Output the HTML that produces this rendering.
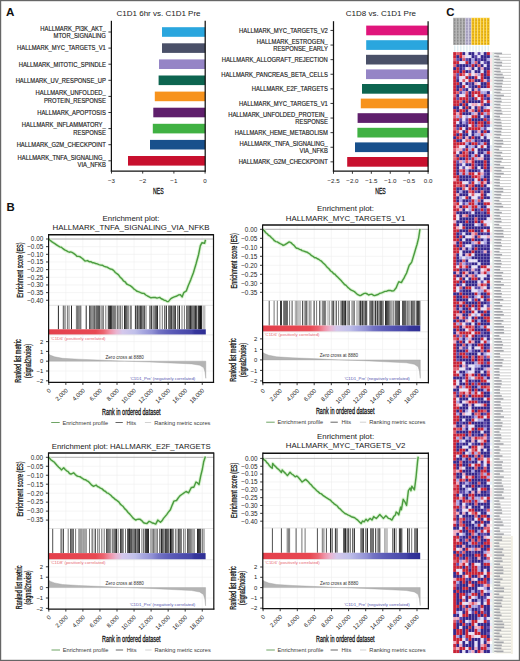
<!DOCTYPE html>
<html><head><meta charset="utf-8"><style>
html,body{margin:0;padding:0;background:#fff;width:520px;height:661px;overflow:hidden}
svg{display:block}
text{font-family:"Liberation Sans", sans-serif}
</style></head><body>
<svg width="520" height="661" viewBox="0 0 520 661" font-family='"Liberation Sans", sans-serif'><rect x="0.00" y="0.00" width="520.00" height="661.00" fill="#fff"/>
<text x="6.00" y="15.80" font-size="11.6" text-anchor="start" fill="#111" font-weight="bold">A</text>
<text x="116.50" y="15.90" font-size="8.0" text-anchor="start" fill="#1a1a1a" font-weight="normal">C1D1 6hr vs. C1D1 Pre</text>
<rect x="162.00" y="27.20" width="43.20" height="9.60" fill="#2aa6de"/>
<line x1="108.40" y1="32.00" x2="111.40" y2="32.00" stroke="#222" stroke-width="0.9"/>
<text x="0.00" y="0.00" font-size="6.3" text-anchor="end" fill="#1e1e1e" font-weight="normal" transform="translate(105.80,30.80) scale(0.93,1)" stroke="#1e1e1e" stroke-width="0.16">HALLMARK<tspan dy="-0.9">_</tspan><tspan dy="0.9">PI3K</tspan><tspan dy="-0.9">_</tspan><tspan dy="0.9">AKT</tspan><tspan dy="-0.9">_</tspan><tspan dy="0.9"></tspan></text>
<text x="0.00" y="0.00" font-size="6.3" text-anchor="end" fill="#1e1e1e" font-weight="normal" transform="translate(105.80,38.10) scale(0.93,1)" stroke="#1e1e1e" stroke-width="0.16">MTOR<tspan dy="-0.9">_</tspan><tspan dy="0.9">SIGNALING</tspan></text>
<rect x="162.00" y="43.30" width="43.20" height="9.60" fill="#4a5068"/>
<line x1="108.40" y1="48.10" x2="111.40" y2="48.10" stroke="#222" stroke-width="0.9"/>
<text x="0.00" y="0.00" font-size="6.3" text-anchor="end" fill="#1e1e1e" font-weight="normal" transform="translate(105.80,50.40) scale(0.93,1)" stroke="#1e1e1e" stroke-width="0.16">HALLMARK<tspan dy="-0.9">_</tspan><tspan dy="0.9">MYC</tspan><tspan dy="-0.9">_</tspan><tspan dy="0.9">TARGETS</tspan><tspan dy="-0.9">_</tspan><tspan dy="0.9">V1</tspan></text>
<rect x="159.00" y="59.40" width="46.20" height="9.60" fill="#9585c6"/>
<line x1="108.40" y1="64.20" x2="111.40" y2="64.20" stroke="#222" stroke-width="0.9"/>
<text x="0.00" y="0.00" font-size="6.3" text-anchor="end" fill="#1e1e1e" font-weight="normal" transform="translate(105.80,66.50) scale(0.93,1)" stroke="#1e1e1e" stroke-width="0.16">HALLMARK<tspan dy="-0.9">_</tspan><tspan dy="0.9">MITOTIC</tspan><tspan dy="-0.9">_</tspan><tspan dy="0.9">SPINDLE</tspan></text>
<rect x="158.60" y="75.50" width="46.60" height="9.60" fill="#0d6550"/>
<line x1="108.40" y1="80.30" x2="111.40" y2="80.30" stroke="#222" stroke-width="0.9"/>
<text x="0.00" y="0.00" font-size="6.3" text-anchor="end" fill="#1e1e1e" font-weight="normal" transform="translate(105.80,82.60) scale(0.93,1)" stroke="#1e1e1e" stroke-width="0.16">HALLMARK<tspan dy="-0.9">_</tspan><tspan dy="0.9">UV</tspan><tspan dy="-0.9">_</tspan><tspan dy="0.9">RESPONSE</tspan><tspan dy="-0.9">_</tspan><tspan dy="0.9">UP</tspan></text>
<rect x="154.80" y="91.60" width="50.40" height="9.60" fill="#f7931d"/>
<line x1="108.40" y1="96.40" x2="111.40" y2="96.40" stroke="#222" stroke-width="0.9"/>
<text x="0.00" y="0.00" font-size="6.3" text-anchor="end" fill="#1e1e1e" font-weight="normal" transform="translate(105.80,95.20) scale(0.93,1)" stroke="#1e1e1e" stroke-width="0.16">HALLMARK<tspan dy="-0.9">_</tspan><tspan dy="0.9">UNFOLDED</tspan><tspan dy="-0.9">_</tspan><tspan dy="0.9"></tspan></text>
<text x="0.00" y="0.00" font-size="6.3" text-anchor="end" fill="#1e1e1e" font-weight="normal" transform="translate(105.80,102.50) scale(0.93,1)" stroke="#1e1e1e" stroke-width="0.16">PROTEIN<tspan dy="-0.9">_</tspan><tspan dy="0.9">RESPONSE</tspan></text>
<rect x="153.30" y="107.70" width="51.90" height="9.60" fill="#5f1f6c"/>
<line x1="108.40" y1="112.50" x2="111.40" y2="112.50" stroke="#222" stroke-width="0.9"/>
<text x="0.00" y="0.00" font-size="6.3" text-anchor="end" fill="#1e1e1e" font-weight="normal" transform="translate(105.80,114.80) scale(0.93,1)" stroke="#1e1e1e" stroke-width="0.16">HALLMARK<tspan dy="-0.9">_</tspan><tspan dy="0.9">APOPTOSIS</tspan></text>
<rect x="152.80" y="123.80" width="52.40" height="9.60" fill="#40b143"/>
<line x1="108.40" y1="128.60" x2="111.40" y2="128.60" stroke="#222" stroke-width="0.9"/>
<text x="0.00" y="0.00" font-size="6.3" text-anchor="end" fill="#1e1e1e" font-weight="normal" transform="translate(105.80,127.40) scale(0.93,1)" stroke="#1e1e1e" stroke-width="0.16">HALLMARK<tspan dy="-0.9">_</tspan><tspan dy="0.9">INFLAMMATORY</tspan><tspan dy="-0.9">_</tspan><tspan dy="0.9"></tspan></text>
<text x="0.00" y="0.00" font-size="6.3" text-anchor="end" fill="#1e1e1e" font-weight="normal" transform="translate(105.80,134.70) scale(0.93,1)" stroke="#1e1e1e" stroke-width="0.16">RESPONSE</text>
<rect x="150.00" y="139.90" width="55.20" height="9.60" fill="#18508c"/>
<line x1="108.40" y1="144.70" x2="111.40" y2="144.70" stroke="#222" stroke-width="0.9"/>
<text x="0.00" y="0.00" font-size="6.3" text-anchor="end" fill="#1e1e1e" font-weight="normal" transform="translate(105.80,147.00) scale(0.93,1)" stroke="#1e1e1e" stroke-width="0.16">HALLMARK<tspan dy="-0.9">_</tspan><tspan dy="0.9">G2M</tspan><tspan dy="-0.9">_</tspan><tspan dy="0.9">CHECKPOINT</tspan></text>
<rect x="128.00" y="156.00" width="77.20" height="9.60" fill="#c8102e"/>
<line x1="108.40" y1="160.80" x2="111.40" y2="160.80" stroke="#222" stroke-width="0.9"/>
<text x="0.00" y="0.00" font-size="6.3" text-anchor="end" fill="#1e1e1e" font-weight="normal" transform="translate(105.80,159.60) scale(0.93,1)" stroke="#1e1e1e" stroke-width="0.16">HALLMARK<tspan dy="-0.9">_</tspan><tspan dy="0.9">TNFA</tspan><tspan dy="-0.9">_</tspan><tspan dy="0.9">SIGNALING</tspan><tspan dy="-0.9">_</tspan><tspan dy="0.9"></tspan></text>
<text x="0.00" y="0.00" font-size="6.3" text-anchor="end" fill="#1e1e1e" font-weight="normal" transform="translate(105.80,166.90) scale(0.93,1)" stroke="#1e1e1e" stroke-width="0.16">VIA<tspan dy="-0.9">_</tspan><tspan dy="0.9">NFKB</tspan></text>
<line x1="111.40" y1="20.80" x2="111.40" y2="171.60" stroke="#111" stroke-width="1.25"/>
<line x1="205.20" y1="20.80" x2="205.20" y2="171.60" stroke="#111" stroke-width="1.25"/>
<line x1="110.80" y1="171.00" x2="205.80" y2="171.00" stroke="#111" stroke-width="1.25"/>
<line x1="111.50" y1="171.00" x2="111.50" y2="173.60" stroke="#222" stroke-width="0.9"/>
<text x="111.50" y="182.56" font-size="6.2" text-anchor="middle" fill="#1e1e1e" font-weight="normal">−3</text>
<line x1="142.70" y1="171.00" x2="142.70" y2="173.60" stroke="#222" stroke-width="0.9"/>
<text x="142.70" y="182.56" font-size="6.2" text-anchor="middle" fill="#1e1e1e" font-weight="normal">−2</text>
<line x1="173.90" y1="171.00" x2="173.90" y2="173.60" stroke="#222" stroke-width="0.9"/>
<text x="173.90" y="182.56" font-size="6.2" text-anchor="middle" fill="#1e1e1e" font-weight="normal">−1</text>
<line x1="205.10" y1="171.00" x2="205.10" y2="173.60" stroke="#222" stroke-width="0.9"/>
<text x="205.10" y="182.56" font-size="6.2" text-anchor="middle" fill="#1e1e1e" font-weight="normal">0</text>
<text x="0.00" y="0.00" font-size="8.4" text-anchor="middle" fill="#111" font-weight="normal" transform="translate(158.30,193.76) scale(0.62,1)" stroke="#111" stroke-width="0.28">NES</text>
<text x="345.80" y="15.90" font-size="8.0" text-anchor="start" fill="#1a1a1a" font-weight="normal">C1D8 vs. C1D1 Pre</text>
<rect x="366.20" y="25.60" width="61.90" height="9.70" fill="#e0157b"/>
<line x1="330.50" y1="30.45" x2="333.50" y2="30.45" stroke="#222" stroke-width="0.9"/>
<text x="0.00" y="0.00" font-size="6.3" text-anchor="end" fill="#1e1e1e" font-weight="normal" transform="translate(327.80,32.75) scale(0.93,1)" stroke="#1e1e1e" stroke-width="0.16">HALLMARK<tspan dy="-0.9">_</tspan><tspan dy="0.9">MYC</tspan><tspan dy="-0.9">_</tspan><tspan dy="0.9">TARGETS</tspan><tspan dy="-0.9">_</tspan><tspan dy="0.9">V2</tspan></text>
<rect x="366.20" y="40.20" width="61.90" height="9.70" fill="#2aa6de"/>
<line x1="330.50" y1="45.05" x2="333.50" y2="45.05" stroke="#222" stroke-width="0.9"/>
<text x="0.00" y="0.00" font-size="6.3" text-anchor="end" fill="#1e1e1e" font-weight="normal" transform="translate(327.80,43.85) scale(0.93,1)" stroke="#1e1e1e" stroke-width="0.16">HALLMARK<tspan dy="-0.9">_</tspan><tspan dy="0.9">ESTROGEN</tspan><tspan dy="-0.9">_</tspan><tspan dy="0.9"></tspan></text>
<text x="0.00" y="0.00" font-size="6.3" text-anchor="end" fill="#1e1e1e" font-weight="normal" transform="translate(327.80,51.15) scale(0.93,1)" stroke="#1e1e1e" stroke-width="0.16">RESPONSE<tspan dy="-0.9">_</tspan><tspan dy="0.9">EARLY</tspan></text>
<rect x="366.00" y="54.80" width="62.10" height="9.70" fill="#4a5068"/>
<line x1="330.50" y1="59.65" x2="333.50" y2="59.65" stroke="#222" stroke-width="0.9"/>
<text x="0.00" y="0.00" font-size="6.3" text-anchor="end" fill="#1e1e1e" font-weight="normal" transform="translate(327.80,61.95) scale(0.93,1)" stroke="#1e1e1e" stroke-width="0.16">HALLMARK<tspan dy="-0.9">_</tspan><tspan dy="0.9">ALLOGRAFT</tspan><tspan dy="-0.9">_</tspan><tspan dy="0.9">REJECTION</tspan></text>
<rect x="366.00" y="69.40" width="62.10" height="9.70" fill="#9585c6"/>
<line x1="330.50" y1="74.25" x2="333.50" y2="74.25" stroke="#222" stroke-width="0.9"/>
<text x="0.00" y="0.00" font-size="6.3" text-anchor="end" fill="#1e1e1e" font-weight="normal" transform="translate(327.80,76.55) scale(0.93,1)" stroke="#1e1e1e" stroke-width="0.16">HALLMARK<tspan dy="-0.9">_</tspan><tspan dy="0.9">PANCREAS</tspan><tspan dy="-0.9">_</tspan><tspan dy="0.9">BETA</tspan><tspan dy="-0.9">_</tspan><tspan dy="0.9">CELLS</tspan></text>
<rect x="362.00" y="84.00" width="66.10" height="9.70" fill="#0d6550"/>
<line x1="330.50" y1="88.85" x2="333.50" y2="88.85" stroke="#222" stroke-width="0.9"/>
<text x="0.00" y="0.00" font-size="6.3" text-anchor="end" fill="#1e1e1e" font-weight="normal" transform="translate(327.80,91.15) scale(0.93,1)" stroke="#1e1e1e" stroke-width="0.16">HALLMARK<tspan dy="-0.9">_</tspan><tspan dy="0.9">E2F</tspan><tspan dy="-0.9">_</tspan><tspan dy="0.9">TARGETS</tspan></text>
<rect x="360.80" y="98.60" width="67.30" height="9.70" fill="#f7931d"/>
<line x1="330.50" y1="103.45" x2="333.50" y2="103.45" stroke="#222" stroke-width="0.9"/>
<text x="0.00" y="0.00" font-size="6.3" text-anchor="end" fill="#1e1e1e" font-weight="normal" transform="translate(327.80,105.75) scale(0.93,1)" stroke="#1e1e1e" stroke-width="0.16">HALLMARK<tspan dy="-0.9">_</tspan><tspan dy="0.9">MYC</tspan><tspan dy="-0.9">_</tspan><tspan dy="0.9">TARGETS</tspan><tspan dy="-0.9">_</tspan><tspan dy="0.9">V1</tspan></text>
<rect x="357.60" y="113.20" width="70.50" height="9.70" fill="#5f1f6c"/>
<line x1="330.50" y1="118.05" x2="333.50" y2="118.05" stroke="#222" stroke-width="0.9"/>
<text x="0.00" y="0.00" font-size="6.3" text-anchor="end" fill="#1e1e1e" font-weight="normal" transform="translate(327.80,116.85) scale(0.93,1)" stroke="#1e1e1e" stroke-width="0.16">HALLMARK<tspan dy="-0.9">_</tspan><tspan dy="0.9">UNFOLDED</tspan><tspan dy="-0.9">_</tspan><tspan dy="0.9">PROTEIN</tspan><tspan dy="-0.9">_</tspan><tspan dy="0.9"></tspan></text>
<text x="0.00" y="0.00" font-size="6.3" text-anchor="end" fill="#1e1e1e" font-weight="normal" transform="translate(327.80,124.15) scale(0.93,1)" stroke="#1e1e1e" stroke-width="0.16">RESPONSE</text>
<rect x="357.40" y="127.80" width="70.70" height="9.70" fill="#40b143"/>
<line x1="330.50" y1="132.65" x2="333.50" y2="132.65" stroke="#222" stroke-width="0.9"/>
<text x="0.00" y="0.00" font-size="6.3" text-anchor="end" fill="#1e1e1e" font-weight="normal" transform="translate(327.80,134.95) scale(0.93,1)" stroke="#1e1e1e" stroke-width="0.16">HALLMARK<tspan dy="-0.9">_</tspan><tspan dy="0.9">HEME</tspan><tspan dy="-0.9">_</tspan><tspan dy="0.9">METABOLISM</tspan></text>
<rect x="355.00" y="142.40" width="73.10" height="9.70" fill="#18508c"/>
<line x1="330.50" y1="147.25" x2="333.50" y2="147.25" stroke="#222" stroke-width="0.9"/>
<text x="0.00" y="0.00" font-size="6.3" text-anchor="end" fill="#1e1e1e" font-weight="normal" transform="translate(327.80,146.05) scale(0.93,1)" stroke="#1e1e1e" stroke-width="0.16">HALLMARK<tspan dy="-0.9">_</tspan><tspan dy="0.9">TNFA</tspan><tspan dy="-0.9">_</tspan><tspan dy="0.9">SIGNALING</tspan><tspan dy="-0.9">_</tspan><tspan dy="0.9"></tspan></text>
<text x="0.00" y="0.00" font-size="6.3" text-anchor="end" fill="#1e1e1e" font-weight="normal" transform="translate(327.80,153.35) scale(0.93,1)" stroke="#1e1e1e" stroke-width="0.16">VIA<tspan dy="-0.9">_</tspan><tspan dy="0.9">NFKB</tspan></text>
<rect x="347.20" y="157.00" width="80.90" height="9.70" fill="#c8102e"/>
<line x1="330.50" y1="161.85" x2="333.50" y2="161.85" stroke="#222" stroke-width="0.9"/>
<text x="0.00" y="0.00" font-size="6.3" text-anchor="end" fill="#1e1e1e" font-weight="normal" transform="translate(327.80,164.15) scale(0.93,1)" stroke="#1e1e1e" stroke-width="0.16">HALLMARK<tspan dy="-0.9">_</tspan><tspan dy="0.9">G2M</tspan><tspan dy="-0.9">_</tspan><tspan dy="0.9">CHECKPOINT</tspan></text>
<line x1="333.50" y1="21.20" x2="333.50" y2="171.80" stroke="#111" stroke-width="1.25"/>
<line x1="428.10" y1="21.20" x2="428.10" y2="171.80" stroke="#111" stroke-width="1.25"/>
<line x1="332.90" y1="171.20" x2="428.70" y2="171.20" stroke="#111" stroke-width="1.25"/>
<line x1="333.50" y1="171.20" x2="333.50" y2="173.80" stroke="#222" stroke-width="0.9"/>
<text x="333.50" y="182.56" font-size="6.2" text-anchor="middle" fill="#1e1e1e" font-weight="normal">−2.5</text>
<line x1="352.42" y1="171.20" x2="352.42" y2="173.80" stroke="#222" stroke-width="0.9"/>
<text x="352.42" y="182.56" font-size="6.2" text-anchor="middle" fill="#1e1e1e" font-weight="normal">−2.0</text>
<line x1="371.34" y1="171.20" x2="371.34" y2="173.80" stroke="#222" stroke-width="0.9"/>
<text x="371.34" y="182.56" font-size="6.2" text-anchor="middle" fill="#1e1e1e" font-weight="normal">−1.5</text>
<line x1="390.26" y1="171.20" x2="390.26" y2="173.80" stroke="#222" stroke-width="0.9"/>
<text x="390.26" y="182.56" font-size="6.2" text-anchor="middle" fill="#1e1e1e" font-weight="normal">−1.0</text>
<line x1="409.18" y1="171.20" x2="409.18" y2="173.80" stroke="#222" stroke-width="0.9"/>
<text x="409.18" y="182.56" font-size="6.2" text-anchor="middle" fill="#1e1e1e" font-weight="normal">−0.5</text>
<line x1="428.10" y1="171.20" x2="428.10" y2="173.80" stroke="#222" stroke-width="0.9"/>
<text x="428.10" y="182.56" font-size="6.2" text-anchor="middle" fill="#1e1e1e" font-weight="normal">0.0</text>
<text x="0.00" y="0.00" font-size="8.4" text-anchor="middle" fill="#111" font-weight="normal" transform="translate(380.50,193.76) scale(0.62,1)" stroke="#111" stroke-width="0.28">NES</text>
<text x="6.40" y="211.00" font-size="11.4" text-anchor="start" fill="#111" font-weight="bold">B</text>
<text x="131.00" y="221.38" font-size="7.9" text-anchor="middle" fill="#1a1a1a" font-weight="normal">Enrichment plot:</text>
<text x="131.00" y="230.38" font-size="7.9" text-anchor="middle" fill="#1a1a1a" font-weight="normal">HALLMARK_TNFA_SIGNALING_VIA_NFKB</text>
<line x1="65.85" y1="235.80" x2="65.85" y2="305.30" stroke="#efefef" stroke-width="0.6"/>
<line x1="65.85" y1="334.60" x2="65.85" y2="382.30" stroke="#efefef" stroke-width="0.6"/>
<line x1="82.90" y1="235.80" x2="82.90" y2="305.30" stroke="#efefef" stroke-width="0.6"/>
<line x1="82.90" y1="334.60" x2="82.90" y2="382.30" stroke="#efefef" stroke-width="0.6"/>
<line x1="99.95" y1="235.80" x2="99.95" y2="305.30" stroke="#efefef" stroke-width="0.6"/>
<line x1="99.95" y1="334.60" x2="99.95" y2="382.30" stroke="#efefef" stroke-width="0.6"/>
<line x1="117.00" y1="235.80" x2="117.00" y2="305.30" stroke="#efefef" stroke-width="0.6"/>
<line x1="117.00" y1="334.60" x2="117.00" y2="382.30" stroke="#efefef" stroke-width="0.6"/>
<line x1="134.05" y1="235.80" x2="134.05" y2="305.30" stroke="#efefef" stroke-width="0.6"/>
<line x1="134.05" y1="334.60" x2="134.05" y2="382.30" stroke="#efefef" stroke-width="0.6"/>
<line x1="151.10" y1="235.80" x2="151.10" y2="305.30" stroke="#efefef" stroke-width="0.6"/>
<line x1="151.10" y1="334.60" x2="151.10" y2="382.30" stroke="#efefef" stroke-width="0.6"/>
<line x1="168.15" y1="235.80" x2="168.15" y2="305.30" stroke="#efefef" stroke-width="0.6"/>
<line x1="168.15" y1="334.60" x2="168.15" y2="382.30" stroke="#efefef" stroke-width="0.6"/>
<line x1="185.20" y1="235.80" x2="185.20" y2="305.30" stroke="#efefef" stroke-width="0.6"/>
<line x1="185.20" y1="334.60" x2="185.20" y2="382.30" stroke="#efefef" stroke-width="0.6"/>
<line x1="202.25" y1="235.80" x2="202.25" y2="305.30" stroke="#efefef" stroke-width="0.6"/>
<line x1="202.25" y1="334.60" x2="202.25" y2="382.30" stroke="#efefef" stroke-width="0.6"/>
<line x1="46.00" y1="239.00" x2="48.60" y2="239.00" stroke="#222" stroke-width="0.9"/>
<text x="43.30" y="241.33" font-size="6.4" text-anchor="end" fill="#1e1e1e" font-weight="normal">0.00</text>
<line x1="48.60" y1="246.66" x2="213.50" y2="246.66" stroke="#efefef" stroke-width="0.6"/>
<line x1="46.00" y1="246.66" x2="48.60" y2="246.66" stroke="#222" stroke-width="0.9"/>
<text x="43.30" y="248.99" font-size="6.4" text-anchor="end" fill="#1e1e1e" font-weight="normal">−0.05</text>
<line x1="48.60" y1="254.32" x2="213.50" y2="254.32" stroke="#efefef" stroke-width="0.6"/>
<line x1="46.00" y1="254.32" x2="48.60" y2="254.32" stroke="#222" stroke-width="0.9"/>
<text x="43.30" y="256.65" font-size="6.4" text-anchor="end" fill="#1e1e1e" font-weight="normal">−0.10</text>
<line x1="48.60" y1="261.98" x2="213.50" y2="261.98" stroke="#efefef" stroke-width="0.6"/>
<line x1="46.00" y1="261.98" x2="48.60" y2="261.98" stroke="#222" stroke-width="0.9"/>
<text x="43.30" y="264.31" font-size="6.4" text-anchor="end" fill="#1e1e1e" font-weight="normal">−0.15</text>
<line x1="48.60" y1="269.64" x2="213.50" y2="269.64" stroke="#efefef" stroke-width="0.6"/>
<line x1="46.00" y1="269.64" x2="48.60" y2="269.64" stroke="#222" stroke-width="0.9"/>
<text x="43.30" y="271.97" font-size="6.4" text-anchor="end" fill="#1e1e1e" font-weight="normal">−0.20</text>
<line x1="48.60" y1="277.30" x2="213.50" y2="277.30" stroke="#efefef" stroke-width="0.6"/>
<line x1="46.00" y1="277.30" x2="48.60" y2="277.30" stroke="#222" stroke-width="0.9"/>
<text x="43.30" y="279.63" font-size="6.4" text-anchor="end" fill="#1e1e1e" font-weight="normal">−0.25</text>
<line x1="48.60" y1="284.96" x2="213.50" y2="284.96" stroke="#efefef" stroke-width="0.6"/>
<line x1="46.00" y1="284.96" x2="48.60" y2="284.96" stroke="#222" stroke-width="0.9"/>
<text x="43.30" y="287.29" font-size="6.4" text-anchor="end" fill="#1e1e1e" font-weight="normal">−0.30</text>
<line x1="48.60" y1="292.62" x2="213.50" y2="292.62" stroke="#efefef" stroke-width="0.6"/>
<line x1="46.00" y1="292.62" x2="48.60" y2="292.62" stroke="#222" stroke-width="0.9"/>
<text x="43.30" y="294.95" font-size="6.4" text-anchor="end" fill="#1e1e1e" font-weight="normal">−0.35</text>
<line x1="48.60" y1="300.28" x2="213.50" y2="300.28" stroke="#efefef" stroke-width="0.6"/>
<line x1="46.00" y1="300.28" x2="48.60" y2="300.28" stroke="#222" stroke-width="0.9"/>
<text x="43.30" y="302.61" font-size="6.4" text-anchor="end" fill="#1e1e1e" font-weight="normal">−0.40</text>
<line x1="48.60" y1="239.00" x2="213.50" y2="239.00" stroke="#9a9a9a" stroke-width="0.8"/>
<polyline points="48.6,238.9 50.1,240.3 51.7,241.6 53.2,242.6 54.8,243.6 56.5,244.8 58.1,245.9 59.7,246.9 61.4,247.3 63.0,248.7 64.6,249.9 66.3,250.7 67.9,251.6 69.3,252.2 70.6,251.9 72.0,252.4 73.6,253.3 75.3,254.6 76.9,256.2 78.5,256.4 80.1,256.8 81.7,258.0 83.4,259.4 85.0,261.1 87.5,260.6 89.1,261.7 90.8,261.7 92.4,262.7 94.0,262.8 95.7,263.5 97.3,263.9 98.9,264.6 100.6,265.1 102.2,265.2 103.8,266.1 105.5,266.8 107.1,267.1 108.7,268.2 110.4,269.0 112.0,269.3 113.6,270.4 115.3,272.5 116.9,273.7 118.5,274.9 120.2,277.2 121.8,278.6 123.4,280.8 125.1,281.8 126.7,284.0 128.4,284.8 130.2,285.7 131.5,286.6 132.8,287.8 134.1,289.2 135.4,290.0 137.1,291.3 138.9,291.9 140.6,292.6 142.3,293.3 144.0,293.4 145.8,295.0 147.5,296.0 149.2,296.8 151.0,297.8 153.6,297.4 155.3,297.5 157.0,298.1 159.6,297.4 161.3,298.8 163.1,299.5 164.4,300.4 165.7,300.5 167.0,301.5 168.3,301.6 170.9,298.6 172.6,297.6 174.3,296.9 176.9,296.0 178.7,294.9 180.4,294.7 182.1,296.9 183.8,292.6 186.4,290.8 188.2,285.7 189.5,282.7 190.8,279.6 193.4,272.7 196.0,264.0 198.6,254.5 200.3,245.8 202.0,242.7 204.6,243.2 205.5,239.8" fill="none" stroke="#d4f2cc" stroke-width="3.4" stroke-linejoin="round" stroke-opacity="0.8"/>
<polyline points="48.6,238.9 50.1,240.3 51.7,241.6 53.2,242.6 54.8,243.6 56.5,244.8 58.1,245.9 59.7,246.9 61.4,247.3 63.0,248.7 64.6,249.9 66.3,250.7 67.9,251.6 69.3,252.2 70.6,251.9 72.0,252.4 73.6,253.3 75.3,254.6 76.9,256.2 78.5,256.4 80.1,256.8 81.7,258.0 83.4,259.4 85.0,261.1 87.5,260.6 89.1,261.7 90.8,261.7 92.4,262.7 94.0,262.8 95.7,263.5 97.3,263.9 98.9,264.6 100.6,265.1 102.2,265.2 103.8,266.1 105.5,266.8 107.1,267.1 108.7,268.2 110.4,269.0 112.0,269.3 113.6,270.4 115.3,272.5 116.9,273.7 118.5,274.9 120.2,277.2 121.8,278.6 123.4,280.8 125.1,281.8 126.7,284.0 128.4,284.8 130.2,285.7 131.5,286.6 132.8,287.8 134.1,289.2 135.4,290.0 137.1,291.3 138.9,291.9 140.6,292.6 142.3,293.3 144.0,293.4 145.8,295.0 147.5,296.0 149.2,296.8 151.0,297.8 153.6,297.4 155.3,297.5 157.0,298.1 159.6,297.4 161.3,298.8 163.1,299.5 164.4,300.4 165.7,300.5 167.0,301.5 168.3,301.6 170.9,298.6 172.6,297.6 174.3,296.9 176.9,296.0 178.7,294.9 180.4,294.7 182.1,296.9 183.8,292.6 186.4,290.8 188.2,285.7 189.5,282.7 190.8,279.6 193.4,272.7 196.0,264.0 198.6,254.5 200.3,245.8 202.0,242.7 204.6,243.2 205.5,239.8" fill="none" stroke="#4c9c40" stroke-width="1.45" stroke-linejoin="round"/>
<line x1="48.60" y1="305.30" x2="213.50" y2="305.30" stroke="#d0d0d0" stroke-width="0.6"/>
<rect x="57.90" y="305.60" width="1.00" height="23.70" fill="#2b2b2b"/>
<rect x="62.80" y="305.60" width="1.00" height="23.70" fill="#515151"/>
<rect x="64.50" y="305.60" width="1.00" height="23.70" fill="#515151"/>
<rect x="66.90" y="305.60" width="1.00" height="23.70" fill="#767676"/>
<rect x="68.50" y="305.60" width="1.00" height="23.70" fill="#767676"/>
<rect x="71.00" y="305.60" width="1.00" height="23.70" fill="#2b2b2b"/>
<rect x="75.90" y="305.60" width="1.00" height="23.70" fill="#767676"/>
<rect x="77.00" y="305.60" width="1.00" height="23.70" fill="#767676"/>
<rect x="78.10" y="305.60" width="1.00" height="23.70" fill="#767676"/>
<rect x="79.20" y="305.60" width="1.00" height="23.70" fill="#767676"/>
<rect x="80.30" y="305.60" width="1.00" height="23.70" fill="#515151"/>
<rect x="85.70" y="305.60" width="1.00" height="23.70" fill="#2b2b2b"/>
<rect x="89.00" y="305.60" width="1.00" height="23.70" fill="#515151"/>
<rect x="90.22" y="305.60" width="1.00" height="23.70" fill="#515151"/>
<rect x="91.45" y="305.60" width="1.00" height="23.70" fill="#515151"/>
<rect x="92.68" y="305.60" width="1.00" height="23.70" fill="#515151"/>
<rect x="93.90" y="305.60" width="1.00" height="23.70" fill="#515151"/>
<rect x="95.50" y="305.60" width="1.00" height="23.70" fill="#2b2b2b"/>
<rect x="96.60" y="305.60" width="1.00" height="23.70" fill="#2b2b2b"/>
<rect x="97.70" y="305.60" width="1.00" height="23.70" fill="#2b2b2b"/>
<rect x="98.80" y="305.60" width="1.00" height="23.70" fill="#2b2b2b"/>
<rect x="100.50" y="305.60" width="1.00" height="23.70" fill="#767676"/>
<rect x="101.70" y="305.60" width="1.00" height="23.70" fill="#767676"/>
<rect x="102.90" y="305.60" width="1.00" height="23.70" fill="#767676"/>
<rect x="105.30" y="305.60" width="1.00" height="23.70" fill="#767676"/>
<rect x="107.80" y="305.60" width="1.00" height="23.70" fill="#2b2b2b"/>
<rect x="108.90" y="305.60" width="1.00" height="23.70" fill="#2b2b2b"/>
<rect x="110.00" y="305.60" width="1.00" height="23.70" fill="#2b2b2b"/>
<rect x="111.10" y="305.60" width="1.00" height="23.70" fill="#2b2b2b"/>
<rect x="111.90" y="305.60" width="1.00" height="23.70" fill="#767676"/>
<rect x="112.97" y="305.60" width="1.00" height="23.70" fill="#767676"/>
<rect x="114.03" y="305.60" width="1.00" height="23.70" fill="#767676"/>
<rect x="115.10" y="305.60" width="1.00" height="23.70" fill="#767676"/>
<rect x="116.80" y="305.60" width="1.00" height="23.70" fill="#515151"/>
<rect x="118.50" y="305.60" width="1.00" height="23.70" fill="#515151"/>
<rect x="120.00" y="305.60" width="1.00" height="23.70" fill="#767676"/>
<rect x="121.70" y="305.60" width="1.00" height="23.70" fill="#767676"/>
<rect x="124.10" y="305.60" width="1.00" height="23.70" fill="#141414"/>
<rect x="125.30" y="305.60" width="1.00" height="23.70" fill="#141414"/>
<rect x="126.50" y="305.60" width="1.00" height="23.70" fill="#141414"/>
<rect x="128.20" y="305.60" width="1.00" height="23.70" fill="#767676"/>
<rect x="129.90" y="305.60" width="1.00" height="23.70" fill="#767676"/>
<rect x="130.80" y="305.60" width="1.00" height="23.70" fill="#767676"/>
<rect x="134.90" y="305.60" width="1.00" height="23.70" fill="#2b2b2b"/>
<rect x="136.50" y="305.60" width="1.00" height="23.70" fill="#2b2b2b"/>
<rect x="137.30" y="305.60" width="1.00" height="23.70" fill="#2b2b2b"/>
<rect x="138.60" y="305.60" width="1.00" height="23.70" fill="#2b2b2b"/>
<rect x="139.90" y="305.60" width="1.00" height="23.70" fill="#2b2b2b"/>
<rect x="141.20" y="305.60" width="1.00" height="23.70" fill="#2b2b2b"/>
<rect x="142.50" y="305.60" width="1.00" height="23.70" fill="#2b2b2b"/>
<rect x="143.80" y="305.60" width="1.00" height="23.70" fill="#2b2b2b"/>
<rect x="145.50" y="305.60" width="1.00" height="23.70" fill="#767676"/>
<rect x="149.50" y="305.60" width="1.00" height="23.70" fill="#141414"/>
<rect x="151.20" y="305.60" width="1.00" height="23.70" fill="#141414"/>
<rect x="152.80" y="305.60" width="1.00" height="23.70" fill="#767676"/>
<rect x="154.50" y="305.60" width="1.00" height="23.70" fill="#141414"/>
<rect x="155.70" y="305.60" width="1.00" height="23.70" fill="#141414"/>
<rect x="156.90" y="305.60" width="1.00" height="23.70" fill="#141414"/>
<rect x="159.40" y="305.60" width="1.00" height="23.70" fill="#767676"/>
<rect x="161.80" y="305.60" width="1.00" height="23.70" fill="#767676"/>
<rect x="164.30" y="305.60" width="1.00" height="23.70" fill="#2b2b2b"/>
<rect x="165.90" y="305.60" width="1.00" height="23.70" fill="#2b2b2b"/>
<rect x="168.40" y="305.60" width="1.00" height="23.70" fill="#141414"/>
<rect x="169.60" y="305.60" width="1.00" height="23.70" fill="#141414"/>
<rect x="170.80" y="305.60" width="1.00" height="23.70" fill="#141414"/>
<rect x="172.50" y="305.60" width="1.00" height="23.70" fill="#2b2b2b"/>
<rect x="173.70" y="305.60" width="1.00" height="23.70" fill="#2b2b2b"/>
<rect x="174.90" y="305.60" width="1.00" height="23.70" fill="#2b2b2b"/>
<rect x="177.40" y="305.60" width="1.00" height="23.70" fill="#2b2b2b"/>
<rect x="179.00" y="305.60" width="1.00" height="23.70" fill="#2b2b2b"/>
<rect x="181.50" y="305.60" width="1.00" height="23.70" fill="#767676"/>
<rect x="183.90" y="305.60" width="1.00" height="23.70" fill="#767676"/>
<rect x="186.30" y="305.60" width="1.00" height="23.70" fill="#2b2b2b"/>
<rect x="187.54" y="305.60" width="1.00" height="23.70" fill="#2b2b2b"/>
<rect x="188.78" y="305.60" width="1.00" height="23.70" fill="#2b2b2b"/>
<rect x="190.01" y="305.60" width="1.00" height="23.70" fill="#2b2b2b"/>
<rect x="191.25" y="305.60" width="1.00" height="23.70" fill="#2b2b2b"/>
<rect x="192.49" y="305.60" width="1.00" height="23.70" fill="#2b2b2b"/>
<rect x="193.72" y="305.60" width="1.00" height="23.70" fill="#2b2b2b"/>
<rect x="194.96" y="305.60" width="1.00" height="23.70" fill="#2b2b2b"/>
<rect x="196.20" y="305.60" width="1.00" height="23.70" fill="#2b2b2b"/>
<rect x="197.80" y="305.60" width="1.00" height="23.70" fill="#141414"/>
<rect x="198.90" y="305.60" width="1.00" height="23.70" fill="#141414"/>
<rect x="200.00" y="305.60" width="1.00" height="23.70" fill="#141414"/>
<rect x="201.10" y="305.60" width="1.00" height="23.70" fill="#141414"/>
<rect x="202.70" y="305.60" width="1.00" height="23.70" fill="#a1a1a1"/>
<rect x="204.30" y="305.60" width="1.00" height="23.70" fill="#a1a1a1"/>
<linearGradient id="g1" x1="48.6" x2="205.8" y1="0" y2="0" gradientUnits="userSpaceOnUse"><stop offset="0" stop-color="#e4404c"/><stop offset="0.3" stop-color="#e84852"/><stop offset="0.35" stop-color="#ec6470"/><stop offset="0.39" stop-color="#f090a4"/><stop offset="0.43" stop-color="#eab4d0"/><stop offset="0.47" stop-color="#d4c8ec"/><stop offset="0.55" stop-color="#c0c0ea"/><stop offset="0.6" stop-color="#a8a8e0"/><stop offset="0.66" stop-color="#9090d4"/><stop offset="0.7" stop-color="#7474c4"/><stop offset="0.76" stop-color="#6060ba"/><stop offset="0.84" stop-color="#5050b0"/><stop offset="0.91" stop-color="#4646a8"/><stop offset="0.93" stop-color="#36369c"/><stop offset="1" stop-color="#2e2e94"/></linearGradient>
<rect x="48.60" y="329.30" width="157.20" height="5.30" fill="url(#g1)"/>
<line x1="48.60" y1="334.90" x2="213.50" y2="334.90" stroke="#d8d8d8" stroke-width="0.5"/>
<line x1="48.60" y1="341.60" x2="213.50" y2="341.60" stroke="#efefef" stroke-width="0.6"/>
<line x1="46.00" y1="341.60" x2="48.60" y2="341.60" stroke="#222" stroke-width="0.9"/>
<text x="43.20" y="343.75" font-size="5.9" text-anchor="end" fill="#222" font-weight="normal">2</text>
<line x1="48.60" y1="351.40" x2="213.50" y2="351.40" stroke="#efefef" stroke-width="0.6"/>
<line x1="46.00" y1="351.40" x2="48.60" y2="351.40" stroke="#222" stroke-width="0.9"/>
<text x="43.20" y="353.55" font-size="5.9" text-anchor="end" fill="#222" font-weight="normal">1</text>
<line x1="46.00" y1="361.20" x2="48.60" y2="361.20" stroke="#222" stroke-width="0.9"/>
<text x="43.20" y="363.35" font-size="5.9" text-anchor="end" fill="#222" font-weight="normal">0</text>
<line x1="48.60" y1="371.00" x2="213.50" y2="371.00" stroke="#efefef" stroke-width="0.6"/>
<line x1="46.00" y1="371.00" x2="48.60" y2="371.00" stroke="#222" stroke-width="0.9"/>
<text x="43.20" y="373.15" font-size="5.9" text-anchor="end" fill="#222" font-weight="normal">−1</text>
<line x1="46.00" y1="380.80" x2="48.60" y2="380.80" stroke="#222" stroke-width="0.9"/>
<text x="43.20" y="382.95" font-size="5.9" text-anchor="end" fill="#222" font-weight="normal">−2</text>
<path d="M48.6,361.2 L48.6,354.1 L50.6,355.3 L54.6,356.8 L62.6,358.3 L78.6,359.2 L103.6,360.2 L124.5,361.2 L149.5,362.0 L191.8,363.9 L199.8,365.3 L203.6,367.6 L205.0,372.0 L205.6,376.9 L205.8,378.3 L205.8,361.2 Z" fill="#b4b4b4" stroke="#a0a0a0" stroke-width="0.4"/>
<text x="50.80" y="339.57" font-size="4.3" text-anchor="start" fill="#e86870" font-weight="normal">'C1D6' (positively correlated)</text>
<text x="195.30" y="379.67" font-size="4.3" text-anchor="end" fill="#5656b0" font-weight="normal">'C1D1_Pre' (negatively correlated)</text>
<text x="105.50" y="358.68" font-size="4.6" text-anchor="start" fill="#333" font-weight="normal">Zero cross at 8880</text>
<line x1="48.60" y1="234.80" x2="213.50" y2="234.80" stroke="#111" stroke-width="1.5"/>
<line x1="48.60" y1="234.10" x2="48.60" y2="382.90" stroke="#111" stroke-width="1.2"/>
<line x1="213.50" y1="234.10" x2="213.50" y2="382.90" stroke="#111" stroke-width="1.2"/>
<line x1="48.00" y1="382.30" x2="214.10" y2="382.30" stroke="#111" stroke-width="1.25"/>
<line x1="48.80" y1="382.30" x2="48.80" y2="384.90" stroke="#222" stroke-width="0.9"/>
<text x="0.00" y="0.00" font-size="5.9" text-anchor="end" fill="#222" font-weight="normal" transform="translate(51.20,390.90) rotate(-45)">0</text>
<line x1="65.85" y1="382.30" x2="65.85" y2="384.90" stroke="#222" stroke-width="0.9"/>
<text x="0.00" y="0.00" font-size="5.9" text-anchor="end" fill="#222" font-weight="normal" transform="translate(68.25,390.90) rotate(-45)">2,000</text>
<line x1="82.90" y1="382.30" x2="82.90" y2="384.90" stroke="#222" stroke-width="0.9"/>
<text x="0.00" y="0.00" font-size="5.9" text-anchor="end" fill="#222" font-weight="normal" transform="translate(85.30,390.90) rotate(-45)">4,000</text>
<line x1="99.95" y1="382.30" x2="99.95" y2="384.90" stroke="#222" stroke-width="0.9"/>
<text x="0.00" y="0.00" font-size="5.9" text-anchor="end" fill="#222" font-weight="normal" transform="translate(102.35,390.90) rotate(-45)">6,000</text>
<line x1="117.00" y1="382.30" x2="117.00" y2="384.90" stroke="#222" stroke-width="0.9"/>
<text x="0.00" y="0.00" font-size="5.9" text-anchor="end" fill="#222" font-weight="normal" transform="translate(119.40,390.90) rotate(-45)">8,000</text>
<line x1="134.05" y1="382.30" x2="134.05" y2="384.90" stroke="#222" stroke-width="0.9"/>
<text x="0.00" y="0.00" font-size="5.9" text-anchor="end" fill="#222" font-weight="normal" transform="translate(136.45,390.90) rotate(-45)">10,000</text>
<line x1="151.10" y1="382.30" x2="151.10" y2="384.90" stroke="#222" stroke-width="0.9"/>
<text x="0.00" y="0.00" font-size="5.9" text-anchor="end" fill="#222" font-weight="normal" transform="translate(153.50,390.90) rotate(-45)">12,000</text>
<line x1="168.15" y1="382.30" x2="168.15" y2="384.90" stroke="#222" stroke-width="0.9"/>
<text x="0.00" y="0.00" font-size="5.9" text-anchor="end" fill="#222" font-weight="normal" transform="translate(170.55,390.90) rotate(-45)">14,000</text>
<line x1="185.20" y1="382.30" x2="185.20" y2="384.90" stroke="#222" stroke-width="0.9"/>
<text x="0.00" y="0.00" font-size="5.9" text-anchor="end" fill="#222" font-weight="normal" transform="translate(187.60,390.90) rotate(-45)">16,000</text>
<line x1="202.25" y1="382.30" x2="202.25" y2="384.90" stroke="#222" stroke-width="0.9"/>
<text x="0.00" y="0.00" font-size="5.9" text-anchor="end" fill="#222" font-weight="normal" transform="translate(204.65,390.90) rotate(-45)">18,000</text>
<text x="0.00" y="0.00" font-size="8.2" text-anchor="middle" fill="#111" font-weight="normal" transform="translate(23.40,270.05) rotate(-90) scale(0.67,1)" stroke="#111" stroke-width="0.28">Enrichment score (ES)</text>
<text x="0.00" y="0.00" font-size="8.2" text-anchor="middle" fill="#111" font-weight="normal" transform="translate(21.40,361.00) rotate(-90) scale(0.67,1)" stroke="#111" stroke-width="0.28">Ranked list metric</text>
<text x="0.00" y="0.00" font-size="8.2" text-anchor="middle" fill="#111" font-weight="normal" transform="translate(31.20,361.00) rotate(-90) scale(0.67,1)" stroke="#111" stroke-width="0.28">(signal2noise)</text>
<text x="0.00" y="0.00" font-size="8.2" text-anchor="start" fill="#111" font-weight="normal" transform="translate(102.00,414.59) scale(0.67,1)" stroke="#111" stroke-width="0.28">Rank in ordered dataset</text>
<line x1="51.20" y1="422.50" x2="59.70" y2="422.50" stroke="#5e9a52" stroke-width="0.9"/>
<text x="62.40" y="424.58" font-size="5.7" text-anchor="start" fill="#3a3a3a" font-weight="normal">Enrichment profile</text>
<line x1="115.50" y1="422.50" x2="122.80" y2="422.50" stroke="#555" stroke-width="0.9"/>
<text x="126.40" y="424.58" font-size="5.7" text-anchor="start" fill="#3a3a3a" font-weight="normal">Hits</text>
<line x1="144.90" y1="422.50" x2="151.20" y2="422.50" stroke="#ccc" stroke-width="0.9"/>
<text x="154.20" y="424.58" font-size="5.7" text-anchor="start" fill="#3a3a3a" font-weight="normal">Ranking metric scores</text>
<text x="345.50" y="210.88" font-size="7.9" text-anchor="middle" fill="#1a1a1a" font-weight="normal">Enrichment plot:</text>
<text x="345.50" y="221.18" font-size="7.9" text-anchor="middle" fill="#1a1a1a" font-weight="normal">HALLMARK_MYC_TARGETS_V1</text>
<line x1="280.00" y1="226.10" x2="280.00" y2="300.50" stroke="#efefef" stroke-width="0.6"/>
<line x1="280.00" y1="331.50" x2="280.00" y2="382.60" stroke="#efefef" stroke-width="0.6"/>
<line x1="297.10" y1="226.10" x2="297.10" y2="300.50" stroke="#efefef" stroke-width="0.6"/>
<line x1="297.10" y1="331.50" x2="297.10" y2="382.60" stroke="#efefef" stroke-width="0.6"/>
<line x1="314.20" y1="226.10" x2="314.20" y2="300.50" stroke="#efefef" stroke-width="0.6"/>
<line x1="314.20" y1="331.50" x2="314.20" y2="382.60" stroke="#efefef" stroke-width="0.6"/>
<line x1="331.30" y1="226.10" x2="331.30" y2="300.50" stroke="#efefef" stroke-width="0.6"/>
<line x1="331.30" y1="331.50" x2="331.30" y2="382.60" stroke="#efefef" stroke-width="0.6"/>
<line x1="348.40" y1="226.10" x2="348.40" y2="300.50" stroke="#efefef" stroke-width="0.6"/>
<line x1="348.40" y1="331.50" x2="348.40" y2="382.60" stroke="#efefef" stroke-width="0.6"/>
<line x1="365.50" y1="226.10" x2="365.50" y2="300.50" stroke="#efefef" stroke-width="0.6"/>
<line x1="365.50" y1="331.50" x2="365.50" y2="382.60" stroke="#efefef" stroke-width="0.6"/>
<line x1="382.60" y1="226.10" x2="382.60" y2="300.50" stroke="#efefef" stroke-width="0.6"/>
<line x1="382.60" y1="331.50" x2="382.60" y2="382.60" stroke="#efefef" stroke-width="0.6"/>
<line x1="399.70" y1="226.10" x2="399.70" y2="300.50" stroke="#efefef" stroke-width="0.6"/>
<line x1="399.70" y1="331.50" x2="399.70" y2="382.60" stroke="#efefef" stroke-width="0.6"/>
<line x1="416.80" y1="226.10" x2="416.80" y2="300.50" stroke="#efefef" stroke-width="0.6"/>
<line x1="416.80" y1="331.50" x2="416.80" y2="382.60" stroke="#efefef" stroke-width="0.6"/>
<line x1="260.00" y1="229.30" x2="262.60" y2="229.30" stroke="#222" stroke-width="0.9"/>
<text x="257.30" y="231.63" font-size="6.4" text-anchor="end" fill="#1e1e1e" font-weight="normal">0.00</text>
<line x1="262.60" y1="238.30" x2="428.40" y2="238.30" stroke="#efefef" stroke-width="0.6"/>
<line x1="260.00" y1="238.30" x2="262.60" y2="238.30" stroke="#222" stroke-width="0.9"/>
<text x="257.30" y="240.63" font-size="6.4" text-anchor="end" fill="#1e1e1e" font-weight="normal">−0.05</text>
<line x1="262.60" y1="247.30" x2="428.40" y2="247.30" stroke="#efefef" stroke-width="0.6"/>
<line x1="260.00" y1="247.30" x2="262.60" y2="247.30" stroke="#222" stroke-width="0.9"/>
<text x="257.30" y="249.63" font-size="6.4" text-anchor="end" fill="#1e1e1e" font-weight="normal">−0.10</text>
<line x1="262.60" y1="256.30" x2="428.40" y2="256.30" stroke="#efefef" stroke-width="0.6"/>
<line x1="260.00" y1="256.30" x2="262.60" y2="256.30" stroke="#222" stroke-width="0.9"/>
<text x="257.30" y="258.63" font-size="6.4" text-anchor="end" fill="#1e1e1e" font-weight="normal">−0.15</text>
<line x1="262.60" y1="265.30" x2="428.40" y2="265.30" stroke="#efefef" stroke-width="0.6"/>
<line x1="260.00" y1="265.30" x2="262.60" y2="265.30" stroke="#222" stroke-width="0.9"/>
<text x="257.30" y="267.63" font-size="6.4" text-anchor="end" fill="#1e1e1e" font-weight="normal">−0.20</text>
<line x1="262.60" y1="274.30" x2="428.40" y2="274.30" stroke="#efefef" stroke-width="0.6"/>
<line x1="260.00" y1="274.30" x2="262.60" y2="274.30" stroke="#222" stroke-width="0.9"/>
<text x="257.30" y="276.63" font-size="6.4" text-anchor="end" fill="#1e1e1e" font-weight="normal">−0.25</text>
<line x1="262.60" y1="283.30" x2="428.40" y2="283.30" stroke="#efefef" stroke-width="0.6"/>
<line x1="260.00" y1="283.30" x2="262.60" y2="283.30" stroke="#222" stroke-width="0.9"/>
<text x="257.30" y="285.63" font-size="6.4" text-anchor="end" fill="#1e1e1e" font-weight="normal">−0.30</text>
<line x1="262.60" y1="292.30" x2="428.40" y2="292.30" stroke="#efefef" stroke-width="0.6"/>
<line x1="260.00" y1="292.30" x2="262.60" y2="292.30" stroke="#222" stroke-width="0.9"/>
<text x="257.30" y="294.63" font-size="6.4" text-anchor="end" fill="#1e1e1e" font-weight="normal">−0.35</text>
<line x1="262.60" y1="229.30" x2="428.40" y2="229.30" stroke="#9a9a9a" stroke-width="0.8"/>
<polyline points="262.8,229.3 264.3,230.7 265.8,232.7 267.2,233.8 268.7,235.4 270.1,236.2 271.5,237.7 273.0,239.0 274.4,240.7 275.9,241.6 277.3,241.9 278.8,242.8 280.2,243.7 281.7,244.3 283.1,245.4 284.9,244.7 286.6,243.6 289.2,241.9 290.9,242.6 292.6,244.2 294.0,245.4 295.5,247.3 296.9,248.3 298.2,248.5 299.5,249.4 300.8,249.7 302.1,250.6 303.8,251.1 305.6,251.8 307.3,252.3 309.9,254.0 311.6,255.7 313.4,256.6 314.7,257.7 316.0,257.7 317.3,258.8 318.6,259.2 320.0,260.3 321.5,261.2 322.9,262.7 324.3,264.0 325.8,265.6 327.2,267.3 328.9,268.8 330.7,271.0 332.4,272.2 333.7,273.7 335.0,274.2 336.3,275.9 337.6,277.0 339.3,278.7 341.1,280.5 342.8,282.6 344.5,284.5 346.1,285.4 347.8,287.4 349.5,288.8 351.3,290.1 353.0,290.9 354.4,291.6 355.9,293.0 357.3,294.3 359.9,295.6 361.2,295.2 362.5,294.3 364.2,293.4 366.0,293.3 367.3,294.0 368.6,295.0 370.3,294.4 372.0,294.3 373.3,295.3 374.6,295.6 377.2,294.7 378.5,294.3 379.8,293.3 381.6,292.9 383.3,292.1 385.0,291.4 386.7,291.2 388.4,290.5 390.2,290.4 391.9,291.0 393.7,290.9 396.2,287.8 397.5,284.5 398.8,281.7 401.4,282.6 402.7,280.1 404.0,278.2 405.3,275.3 406.6,273.1 409.2,265.3 410.5,263.8 411.8,261.8 414.4,253.2 415.7,248.8 417.0,244.5 418.7,237.6 420.0,228.9" fill="none" stroke="#d4f2cc" stroke-width="3.4" stroke-linejoin="round" stroke-opacity="0.8"/>
<polyline points="262.8,229.3 264.3,230.7 265.8,232.7 267.2,233.8 268.7,235.4 270.1,236.2 271.5,237.7 273.0,239.0 274.4,240.7 275.9,241.6 277.3,241.9 278.8,242.8 280.2,243.7 281.7,244.3 283.1,245.4 284.9,244.7 286.6,243.6 289.2,241.9 290.9,242.6 292.6,244.2 294.0,245.4 295.5,247.3 296.9,248.3 298.2,248.5 299.5,249.4 300.8,249.7 302.1,250.6 303.8,251.1 305.6,251.8 307.3,252.3 309.9,254.0 311.6,255.7 313.4,256.6 314.7,257.7 316.0,257.7 317.3,258.8 318.6,259.2 320.0,260.3 321.5,261.2 322.9,262.7 324.3,264.0 325.8,265.6 327.2,267.3 328.9,268.8 330.7,271.0 332.4,272.2 333.7,273.7 335.0,274.2 336.3,275.9 337.6,277.0 339.3,278.7 341.1,280.5 342.8,282.6 344.5,284.5 346.1,285.4 347.8,287.4 349.5,288.8 351.3,290.1 353.0,290.9 354.4,291.6 355.9,293.0 357.3,294.3 359.9,295.6 361.2,295.2 362.5,294.3 364.2,293.4 366.0,293.3 367.3,294.0 368.6,295.0 370.3,294.4 372.0,294.3 373.3,295.3 374.6,295.6 377.2,294.7 378.5,294.3 379.8,293.3 381.6,292.9 383.3,292.1 385.0,291.4 386.7,291.2 388.4,290.5 390.2,290.4 391.9,291.0 393.7,290.9 396.2,287.8 397.5,284.5 398.8,281.7 401.4,282.6 402.7,280.1 404.0,278.2 405.3,275.3 406.6,273.1 409.2,265.3 410.5,263.8 411.8,261.8 414.4,253.2 415.7,248.8 417.0,244.5 418.7,237.6 420.0,228.9" fill="none" stroke="#4c9c40" stroke-width="1.45" stroke-linejoin="round"/>
<line x1="262.60" y1="300.50" x2="428.40" y2="300.50" stroke="#d0d0d0" stroke-width="0.6"/>
<rect x="268.70" y="300.80" width="1.00" height="24.70" fill="#515151"/>
<rect x="273.60" y="300.80" width="1.00" height="24.70" fill="#767676"/>
<rect x="276.80" y="300.80" width="1.00" height="24.70" fill="#767676"/>
<rect x="280.10" y="300.80" width="1.00" height="24.70" fill="#2b2b2b"/>
<rect x="280.90" y="300.80" width="1.00" height="24.70" fill="#2b2b2b"/>
<rect x="283.40" y="300.80" width="1.00" height="24.70" fill="#2b2b2b"/>
<rect x="284.50" y="300.80" width="1.00" height="24.70" fill="#2b2b2b"/>
<rect x="285.60" y="300.80" width="1.00" height="24.70" fill="#2b2b2b"/>
<rect x="286.70" y="300.80" width="1.00" height="24.70" fill="#2b2b2b"/>
<rect x="289.10" y="300.80" width="1.00" height="24.70" fill="#767676"/>
<rect x="291.60" y="300.80" width="1.00" height="24.70" fill="#515151"/>
<rect x="294.80" y="300.80" width="1.00" height="24.70" fill="#a1a1a1"/>
<rect x="296.02" y="300.80" width="1.00" height="24.70" fill="#a1a1a1"/>
<rect x="297.25" y="300.80" width="1.00" height="24.70" fill="#a1a1a1"/>
<rect x="298.48" y="300.80" width="1.00" height="24.70" fill="#a1a1a1"/>
<rect x="299.70" y="300.80" width="1.00" height="24.70" fill="#a1a1a1"/>
<rect x="302.20" y="300.80" width="1.00" height="24.70" fill="#2b2b2b"/>
<rect x="304.60" y="300.80" width="1.00" height="24.70" fill="#2b2b2b"/>
<rect x="306.30" y="300.80" width="1.00" height="24.70" fill="#2b2b2b"/>
<rect x="308.70" y="300.80" width="1.00" height="24.70" fill="#767676"/>
<rect x="310.40" y="300.80" width="1.00" height="24.70" fill="#767676"/>
<rect x="313.60" y="300.80" width="1.00" height="24.70" fill="#2b2b2b"/>
<rect x="316.10" y="300.80" width="1.00" height="24.70" fill="#767676"/>
<rect x="319.30" y="300.80" width="1.00" height="24.70" fill="#2b2b2b"/>
<rect x="321.80" y="300.80" width="1.00" height="24.70" fill="#767676"/>
<rect x="322.90" y="300.80" width="1.00" height="24.70" fill="#767676"/>
<rect x="324.00" y="300.80" width="1.00" height="24.70" fill="#767676"/>
<rect x="325.10" y="300.80" width="1.00" height="24.70" fill="#767676"/>
<rect x="327.50" y="300.80" width="1.00" height="24.70" fill="#a1a1a1"/>
<rect x="329.10" y="300.80" width="1.00" height="24.70" fill="#a1a1a1"/>
<rect x="331.60" y="300.80" width="1.00" height="24.70" fill="#2b2b2b"/>
<rect x="333.20" y="300.80" width="1.00" height="24.70" fill="#2b2b2b"/>
<rect x="335.70" y="300.80" width="1.00" height="24.70" fill="#2b2b2b"/>
<rect x="338.10" y="300.80" width="1.00" height="24.70" fill="#767676"/>
<rect x="340.60" y="300.80" width="1.00" height="24.70" fill="#2b2b2b"/>
<rect x="342.20" y="300.80" width="1.00" height="24.70" fill="#2b2b2b"/>
<rect x="344.70" y="300.80" width="1.00" height="24.70" fill="#767676"/>
<rect x="342.50" y="300.80" width="1.00" height="24.70" fill="#2b2b2b"/>
<rect x="343.75" y="300.80" width="1.00" height="24.70" fill="#2b2b2b"/>
<rect x="345.00" y="300.80" width="1.00" height="24.70" fill="#2b2b2b"/>
<rect x="346.60" y="300.80" width="1.00" height="24.70" fill="#767676"/>
<rect x="347.80" y="300.80" width="1.00" height="24.70" fill="#767676"/>
<rect x="349.00" y="300.80" width="1.00" height="24.70" fill="#767676"/>
<rect x="351.50" y="300.80" width="1.00" height="24.70" fill="#767676"/>
<rect x="352.70" y="300.80" width="1.00" height="24.70" fill="#767676"/>
<rect x="353.90" y="300.80" width="1.00" height="24.70" fill="#767676"/>
<rect x="356.40" y="300.80" width="1.00" height="24.70" fill="#a1a1a1"/>
<rect x="357.60" y="300.80" width="1.00" height="24.70" fill="#a1a1a1"/>
<rect x="358.80" y="300.80" width="1.00" height="24.70" fill="#a1a1a1"/>
<rect x="359.70" y="300.80" width="1.00" height="24.70" fill="#141414"/>
<rect x="360.50" y="300.80" width="1.00" height="24.70" fill="#141414"/>
<rect x="362.10" y="300.80" width="1.00" height="24.70" fill="#2b2b2b"/>
<rect x="363.47" y="300.80" width="1.00" height="24.70" fill="#2b2b2b"/>
<rect x="364.83" y="300.80" width="1.00" height="24.70" fill="#2b2b2b"/>
<rect x="366.20" y="300.80" width="1.00" height="24.70" fill="#2b2b2b"/>
<rect x="369.50" y="300.80" width="1.00" height="24.70" fill="#2b2b2b"/>
<rect x="370.70" y="300.80" width="1.00" height="24.70" fill="#2b2b2b"/>
<rect x="371.90" y="300.80" width="1.00" height="24.70" fill="#2b2b2b"/>
<rect x="372.70" y="300.80" width="1.00" height="24.70" fill="#767676"/>
<rect x="374.40" y="300.80" width="1.00" height="24.70" fill="#767676"/>
<rect x="375.20" y="300.80" width="1.00" height="24.70" fill="#141414"/>
<rect x="376.80" y="300.80" width="1.00" height="24.70" fill="#141414"/>
<rect x="378.50" y="300.80" width="1.00" height="24.70" fill="#2b2b2b"/>
<rect x="379.83" y="300.80" width="1.00" height="24.70" fill="#2b2b2b"/>
<rect x="381.17" y="300.80" width="1.00" height="24.70" fill="#2b2b2b"/>
<rect x="382.50" y="300.80" width="1.00" height="24.70" fill="#2b2b2b"/>
<rect x="385.00" y="300.80" width="1.00" height="24.70" fill="#2b2b2b"/>
<rect x="386.10" y="300.80" width="1.00" height="24.70" fill="#2b2b2b"/>
<rect x="387.20" y="300.80" width="1.00" height="24.70" fill="#2b2b2b"/>
<rect x="388.30" y="300.80" width="1.00" height="24.70" fill="#2b2b2b"/>
<rect x="389.10" y="300.80" width="1.00" height="24.70" fill="#767676"/>
<rect x="390.30" y="300.80" width="1.00" height="24.70" fill="#767676"/>
<rect x="391.50" y="300.80" width="1.00" height="24.70" fill="#767676"/>
<rect x="393.20" y="300.80" width="1.00" height="24.70" fill="#767676"/>
<rect x="394.80" y="300.80" width="1.00" height="24.70" fill="#767676"/>
<rect x="395.60" y="300.80" width="1.00" height="24.70" fill="#2b2b2b"/>
<rect x="396.70" y="300.80" width="1.00" height="24.70" fill="#2b2b2b"/>
<rect x="397.80" y="300.80" width="1.00" height="24.70" fill="#2b2b2b"/>
<rect x="398.90" y="300.80" width="1.00" height="24.70" fill="#2b2b2b"/>
<rect x="402.20" y="300.80" width="1.00" height="24.70" fill="#2b2b2b"/>
<rect x="403.27" y="300.80" width="1.00" height="24.70" fill="#2b2b2b"/>
<rect x="404.33" y="300.80" width="1.00" height="24.70" fill="#2b2b2b"/>
<rect x="405.40" y="300.80" width="1.00" height="24.70" fill="#2b2b2b"/>
<rect x="407.10" y="300.80" width="1.00" height="24.70" fill="#767676"/>
<rect x="408.30" y="300.80" width="1.00" height="24.70" fill="#767676"/>
<rect x="409.50" y="300.80" width="1.00" height="24.70" fill="#767676"/>
<rect x="411.20" y="300.80" width="1.00" height="24.70" fill="#2b2b2b"/>
<rect x="412.40" y="300.80" width="1.00" height="24.70" fill="#2b2b2b"/>
<rect x="413.60" y="300.80" width="1.00" height="24.70" fill="#2b2b2b"/>
<rect x="414.40" y="300.80" width="1.00" height="24.70" fill="#767676"/>
<rect x="416.10" y="300.80" width="1.00" height="24.70" fill="#767676"/>
<rect x="416.90" y="300.80" width="1.00" height="24.70" fill="#2b2b2b"/>
<rect x="418.10" y="300.80" width="1.00" height="24.70" fill="#2b2b2b"/>
<rect x="419.30" y="300.80" width="1.00" height="24.70" fill="#2b2b2b"/>
<linearGradient id="g2" x1="262.6" x2="420.3" y1="0" y2="0" gradientUnits="userSpaceOnUse"><stop offset="0" stop-color="#e4404c"/><stop offset="0.3" stop-color="#e84852"/><stop offset="0.35" stop-color="#ec6470"/><stop offset="0.39" stop-color="#f090a4"/><stop offset="0.43" stop-color="#eab4d0"/><stop offset="0.47" stop-color="#d4c8ec"/><stop offset="0.55" stop-color="#c0c0ea"/><stop offset="0.6" stop-color="#a8a8e0"/><stop offset="0.66" stop-color="#9090d4"/><stop offset="0.7" stop-color="#7474c4"/><stop offset="0.76" stop-color="#6060ba"/><stop offset="0.84" stop-color="#5050b0"/><stop offset="0.91" stop-color="#4646a8"/><stop offset="0.93" stop-color="#36369c"/><stop offset="1" stop-color="#2e2e94"/></linearGradient>
<rect x="262.60" y="325.50" width="157.70" height="6.00" fill="url(#g2)"/>
<line x1="262.60" y1="331.80" x2="428.40" y2="331.80" stroke="#d8d8d8" stroke-width="0.5"/>
<line x1="262.60" y1="338.90" x2="428.40" y2="338.90" stroke="#efefef" stroke-width="0.6"/>
<line x1="260.00" y1="338.90" x2="262.60" y2="338.90" stroke="#222" stroke-width="0.9"/>
<text x="257.20" y="341.05" font-size="5.9" text-anchor="end" fill="#222" font-weight="normal">2</text>
<line x1="262.60" y1="349.40" x2="428.40" y2="349.40" stroke="#efefef" stroke-width="0.6"/>
<line x1="260.00" y1="349.40" x2="262.60" y2="349.40" stroke="#222" stroke-width="0.9"/>
<text x="257.20" y="351.55" font-size="5.9" text-anchor="end" fill="#222" font-weight="normal">1</text>
<line x1="260.00" y1="359.90" x2="262.60" y2="359.90" stroke="#222" stroke-width="0.9"/>
<text x="257.20" y="362.05" font-size="5.9" text-anchor="end" fill="#222" font-weight="normal">0</text>
<line x1="262.60" y1="370.40" x2="428.40" y2="370.40" stroke="#efefef" stroke-width="0.6"/>
<line x1="260.00" y1="370.40" x2="262.60" y2="370.40" stroke="#222" stroke-width="0.9"/>
<text x="257.20" y="372.55" font-size="5.9" text-anchor="end" fill="#222" font-weight="normal">−1</text>
<line x1="260.00" y1="380.90" x2="262.60" y2="380.90" stroke="#222" stroke-width="0.9"/>
<text x="257.20" y="383.05" font-size="5.9" text-anchor="end" fill="#222" font-weight="normal">−2</text>
<path d="M262.6,359.9 L262.6,352.3 L264.6,353.6 L268.6,355.2 L276.6,356.8 L292.6,357.8 L317.6,358.8 L338.8,359.9 L363.8,360.7 L406.3,362.8 L414.3,364.3 L418.1,366.7 L419.5,371.4 L420.1,376.7 L420.3,378.3 L420.3,359.9 Z" fill="#b4b4b4" stroke="#a0a0a0" stroke-width="0.4"/>
<text x="264.80" y="336.07" font-size="4.3" text-anchor="start" fill="#e86870" font-weight="normal">'C1D6' (positively correlated)</text>
<text x="409.80" y="379.97" font-size="4.3" text-anchor="end" fill="#5656b0" font-weight="normal">'C1D1_Pre' (negatively correlated)</text>
<text x="319.82" y="357.38" font-size="4.6" text-anchor="start" fill="#333" font-weight="normal">Zero cross at 8880</text>
<line x1="262.60" y1="225.10" x2="428.40" y2="225.10" stroke="#111" stroke-width="1.5"/>
<line x1="262.60" y1="224.40" x2="262.60" y2="383.20" stroke="#111" stroke-width="1.2"/>
<line x1="428.40" y1="224.40" x2="428.40" y2="383.20" stroke="#111" stroke-width="1.2"/>
<line x1="262.00" y1="382.60" x2="429.00" y2="382.60" stroke="#111" stroke-width="1.25"/>
<line x1="262.90" y1="382.60" x2="262.90" y2="385.20" stroke="#222" stroke-width="0.9"/>
<text x="0.00" y="0.00" font-size="5.9" text-anchor="end" fill="#222" font-weight="normal" transform="translate(265.30,391.20) rotate(-45)">0</text>
<line x1="280.00" y1="382.60" x2="280.00" y2="385.20" stroke="#222" stroke-width="0.9"/>
<text x="0.00" y="0.00" font-size="5.9" text-anchor="end" fill="#222" font-weight="normal" transform="translate(282.40,391.20) rotate(-45)">2,000</text>
<line x1="297.10" y1="382.60" x2="297.10" y2="385.20" stroke="#222" stroke-width="0.9"/>
<text x="0.00" y="0.00" font-size="5.9" text-anchor="end" fill="#222" font-weight="normal" transform="translate(299.50,391.20) rotate(-45)">4,000</text>
<line x1="314.20" y1="382.60" x2="314.20" y2="385.20" stroke="#222" stroke-width="0.9"/>
<text x="0.00" y="0.00" font-size="5.9" text-anchor="end" fill="#222" font-weight="normal" transform="translate(316.60,391.20) rotate(-45)">6,000</text>
<line x1="331.30" y1="382.60" x2="331.30" y2="385.20" stroke="#222" stroke-width="0.9"/>
<text x="0.00" y="0.00" font-size="5.9" text-anchor="end" fill="#222" font-weight="normal" transform="translate(333.70,391.20) rotate(-45)">8,000</text>
<line x1="348.40" y1="382.60" x2="348.40" y2="385.20" stroke="#222" stroke-width="0.9"/>
<text x="0.00" y="0.00" font-size="5.9" text-anchor="end" fill="#222" font-weight="normal" transform="translate(350.80,391.20) rotate(-45)">10,000</text>
<line x1="365.50" y1="382.60" x2="365.50" y2="385.20" stroke="#222" stroke-width="0.9"/>
<text x="0.00" y="0.00" font-size="5.9" text-anchor="end" fill="#222" font-weight="normal" transform="translate(367.90,391.20) rotate(-45)">12,000</text>
<line x1="382.60" y1="382.60" x2="382.60" y2="385.20" stroke="#222" stroke-width="0.9"/>
<text x="0.00" y="0.00" font-size="5.9" text-anchor="end" fill="#222" font-weight="normal" transform="translate(385.00,391.20) rotate(-45)">14,000</text>
<line x1="399.70" y1="382.60" x2="399.70" y2="385.20" stroke="#222" stroke-width="0.9"/>
<text x="0.00" y="0.00" font-size="5.9" text-anchor="end" fill="#222" font-weight="normal" transform="translate(402.10,391.20) rotate(-45)">16,000</text>
<line x1="416.80" y1="382.60" x2="416.80" y2="385.20" stroke="#222" stroke-width="0.9"/>
<text x="0.00" y="0.00" font-size="5.9" text-anchor="end" fill="#222" font-weight="normal" transform="translate(419.20,391.20) rotate(-45)">18,000</text>
<text x="0.00" y="0.00" font-size="8.2" text-anchor="middle" fill="#111" font-weight="normal" transform="translate(237.30,260.80) rotate(-90) scale(0.67,1)" stroke="#111" stroke-width="0.28">Enrichment score (ES)</text>
<text x="0.00" y="0.00" font-size="8.2" text-anchor="middle" fill="#111" font-weight="normal" transform="translate(236.40,360.00) rotate(-90) scale(0.67,1)" stroke="#111" stroke-width="0.28">Ranked list metric</text>
<text x="0.00" y="0.00" font-size="8.2" text-anchor="middle" fill="#111" font-weight="normal" transform="translate(245.80,360.00) rotate(-90) scale(0.67,1)" stroke="#111" stroke-width="0.28">(signal2noise)</text>
<text x="0.00" y="0.00" font-size="8.2" text-anchor="start" fill="#111" font-weight="normal" transform="translate(315.90,414.19) scale(0.67,1)" stroke="#111" stroke-width="0.28">Rank in ordered dataset</text>
<line x1="266.20" y1="422.20" x2="274.70" y2="422.20" stroke="#5e9a52" stroke-width="0.9"/>
<text x="277.40" y="424.28" font-size="5.7" text-anchor="start" fill="#3a3a3a" font-weight="normal">Enrichment profile</text>
<line x1="330.50" y1="422.20" x2="337.80" y2="422.20" stroke="#555" stroke-width="0.9"/>
<text x="341.40" y="424.28" font-size="5.7" text-anchor="start" fill="#3a3a3a" font-weight="normal">Hits</text>
<line x1="359.90" y1="422.20" x2="366.20" y2="422.20" stroke="#ccc" stroke-width="0.9"/>
<text x="369.20" y="424.28" font-size="5.7" text-anchor="start" fill="#3a3a3a" font-weight="normal">Ranking metric scores</text>
<text x="51.80" y="449.02" font-size="7.75" text-anchor="start" fill="#1a1a1a" font-weight="normal">Enrichment plot: HALLMARK_E2F_TARGETS</text>
<line x1="65.85" y1="454.10" x2="65.85" y2="528.50" stroke="#efefef" stroke-width="0.6"/>
<line x1="65.85" y1="559.40" x2="65.85" y2="609.00" stroke="#efefef" stroke-width="0.6"/>
<line x1="82.90" y1="454.10" x2="82.90" y2="528.50" stroke="#efefef" stroke-width="0.6"/>
<line x1="82.90" y1="559.40" x2="82.90" y2="609.00" stroke="#efefef" stroke-width="0.6"/>
<line x1="99.95" y1="454.10" x2="99.95" y2="528.50" stroke="#efefef" stroke-width="0.6"/>
<line x1="99.95" y1="559.40" x2="99.95" y2="609.00" stroke="#efefef" stroke-width="0.6"/>
<line x1="117.00" y1="454.10" x2="117.00" y2="528.50" stroke="#efefef" stroke-width="0.6"/>
<line x1="117.00" y1="559.40" x2="117.00" y2="609.00" stroke="#efefef" stroke-width="0.6"/>
<line x1="134.05" y1="454.10" x2="134.05" y2="528.50" stroke="#efefef" stroke-width="0.6"/>
<line x1="134.05" y1="559.40" x2="134.05" y2="609.00" stroke="#efefef" stroke-width="0.6"/>
<line x1="151.10" y1="454.10" x2="151.10" y2="528.50" stroke="#efefef" stroke-width="0.6"/>
<line x1="151.10" y1="559.40" x2="151.10" y2="609.00" stroke="#efefef" stroke-width="0.6"/>
<line x1="168.15" y1="454.10" x2="168.15" y2="528.50" stroke="#efefef" stroke-width="0.6"/>
<line x1="168.15" y1="559.40" x2="168.15" y2="609.00" stroke="#efefef" stroke-width="0.6"/>
<line x1="185.20" y1="454.10" x2="185.20" y2="528.50" stroke="#efefef" stroke-width="0.6"/>
<line x1="185.20" y1="559.40" x2="185.20" y2="609.00" stroke="#efefef" stroke-width="0.6"/>
<line x1="202.25" y1="454.10" x2="202.25" y2="528.50" stroke="#efefef" stroke-width="0.6"/>
<line x1="202.25" y1="559.40" x2="202.25" y2="609.00" stroke="#efefef" stroke-width="0.6"/>
<line x1="45.90" y1="457.30" x2="48.50" y2="457.30" stroke="#222" stroke-width="0.9"/>
<text x="43.20" y="459.63" font-size="6.4" text-anchor="end" fill="#1e1e1e" font-weight="normal">0.00</text>
<line x1="48.50" y1="466.27" x2="213.80" y2="466.27" stroke="#efefef" stroke-width="0.6"/>
<line x1="45.90" y1="466.27" x2="48.50" y2="466.27" stroke="#222" stroke-width="0.9"/>
<text x="43.20" y="468.60" font-size="6.4" text-anchor="end" fill="#1e1e1e" font-weight="normal">−0.05</text>
<line x1="48.50" y1="475.24" x2="213.80" y2="475.24" stroke="#efefef" stroke-width="0.6"/>
<line x1="45.90" y1="475.24" x2="48.50" y2="475.24" stroke="#222" stroke-width="0.9"/>
<text x="43.20" y="477.57" font-size="6.4" text-anchor="end" fill="#1e1e1e" font-weight="normal">−0.10</text>
<line x1="48.50" y1="484.21" x2="213.80" y2="484.21" stroke="#efefef" stroke-width="0.6"/>
<line x1="45.90" y1="484.21" x2="48.50" y2="484.21" stroke="#222" stroke-width="0.9"/>
<text x="43.20" y="486.54" font-size="6.4" text-anchor="end" fill="#1e1e1e" font-weight="normal">−0.15</text>
<line x1="48.50" y1="493.18" x2="213.80" y2="493.18" stroke="#efefef" stroke-width="0.6"/>
<line x1="45.90" y1="493.18" x2="48.50" y2="493.18" stroke="#222" stroke-width="0.9"/>
<text x="43.20" y="495.51" font-size="6.4" text-anchor="end" fill="#1e1e1e" font-weight="normal">−0.20</text>
<line x1="48.50" y1="502.15" x2="213.80" y2="502.15" stroke="#efefef" stroke-width="0.6"/>
<line x1="45.90" y1="502.15" x2="48.50" y2="502.15" stroke="#222" stroke-width="0.9"/>
<text x="43.20" y="504.48" font-size="6.4" text-anchor="end" fill="#1e1e1e" font-weight="normal">−0.25</text>
<line x1="48.50" y1="511.12" x2="213.80" y2="511.12" stroke="#efefef" stroke-width="0.6"/>
<line x1="45.90" y1="511.12" x2="48.50" y2="511.12" stroke="#222" stroke-width="0.9"/>
<text x="43.20" y="513.45" font-size="6.4" text-anchor="end" fill="#1e1e1e" font-weight="normal">−0.30</text>
<line x1="48.50" y1="520.09" x2="213.80" y2="520.09" stroke="#efefef" stroke-width="0.6"/>
<line x1="45.90" y1="520.09" x2="48.50" y2="520.09" stroke="#222" stroke-width="0.9"/>
<text x="43.20" y="522.42" font-size="6.4" text-anchor="end" fill="#1e1e1e" font-weight="normal">−0.35</text>
<line x1="48.50" y1="457.30" x2="213.80" y2="457.30" stroke="#9a9a9a" stroke-width="0.8"/>
<polyline points="48.5,457.3 49.8,458.4 51.1,460.0 52.8,461.2 54.1,462.0 55.4,463.5 57.1,465.5 58.8,467.3 60.1,468.4 61.4,469.9 63.7,467.7 65.2,469.4 66.6,470.8 68.1,471.6 69.5,473.5 71.0,474.2 73.6,472.8 75.3,474.6 77.0,476.0 78.4,476.4 79.9,476.7 81.3,477.7 82.8,478.7 84.2,479.5 85.7,479.8 87.1,480.8 88.6,481.7 90.0,483.2 91.8,485.2 93.5,486.3 96.1,485.1 97.5,486.5 99.0,487.1 100.4,488.1 102.1,488.9 103.9,490.6 105.6,491.5 106.9,492.9 108.2,493.2 109.5,494.2 110.8,495.3 112.2,496.8 113.6,497.8 114.9,499.2 116.3,500.0 117.7,501.1 119.0,502.1 120.3,504.1 121.6,505.2 122.9,506.2 124.6,508.6 126.4,510.3 128.1,512.5 129.8,514.1 131.5,516.1 132.9,517.9 134.4,519.1 135.8,520.1 137.1,519.4 138.5,519.1 139.8,519.2 141.7,520.6 143.6,522.7 145.3,523.3 147.0,523.6 149.1,521.3 150.6,521.9 152.2,523.0 153.9,523.3 155.7,524.1 157.8,520.1 159.2,521.2 160.5,522.3 162.0,520.8 163.5,518.4 165.2,516.4 166.9,514.4 168.7,511.7 170.4,509.7 172.2,505.1 173.9,501.1 176.5,500.5 178.2,498.0 179.9,495.9 181.7,494.5 183.4,493.3 186.0,491.5 188.6,492.9 191.2,487.7 192.5,487.2 193.8,487.2 196.0,482.0 197.5,482.9 199.0,484.6 200.7,476.0 202.4,469.0 203.6,462.1 205.4,456.6" fill="none" stroke="#d4f2cc" stroke-width="3.4" stroke-linejoin="round" stroke-opacity="0.8"/>
<polyline points="48.5,457.3 49.8,458.4 51.1,460.0 52.8,461.2 54.1,462.0 55.4,463.5 57.1,465.5 58.8,467.3 60.1,468.4 61.4,469.9 63.7,467.7 65.2,469.4 66.6,470.8 68.1,471.6 69.5,473.5 71.0,474.2 73.6,472.8 75.3,474.6 77.0,476.0 78.4,476.4 79.9,476.7 81.3,477.7 82.8,478.7 84.2,479.5 85.7,479.8 87.1,480.8 88.6,481.7 90.0,483.2 91.8,485.2 93.5,486.3 96.1,485.1 97.5,486.5 99.0,487.1 100.4,488.1 102.1,488.9 103.9,490.6 105.6,491.5 106.9,492.9 108.2,493.2 109.5,494.2 110.8,495.3 112.2,496.8 113.6,497.8 114.9,499.2 116.3,500.0 117.7,501.1 119.0,502.1 120.3,504.1 121.6,505.2 122.9,506.2 124.6,508.6 126.4,510.3 128.1,512.5 129.8,514.1 131.5,516.1 132.9,517.9 134.4,519.1 135.8,520.1 137.1,519.4 138.5,519.1 139.8,519.2 141.7,520.6 143.6,522.7 145.3,523.3 147.0,523.6 149.1,521.3 150.6,521.9 152.2,523.0 153.9,523.3 155.7,524.1 157.8,520.1 159.2,521.2 160.5,522.3 162.0,520.8 163.5,518.4 165.2,516.4 166.9,514.4 168.7,511.7 170.4,509.7 172.2,505.1 173.9,501.1 176.5,500.5 178.2,498.0 179.9,495.9 181.7,494.5 183.4,493.3 186.0,491.5 188.6,492.9 191.2,487.7 192.5,487.2 193.8,487.2 196.0,482.0 197.5,482.9 199.0,484.6 200.7,476.0 202.4,469.0 203.6,462.1 205.4,456.6" fill="none" stroke="#4c9c40" stroke-width="1.45" stroke-linejoin="round"/>
<line x1="48.50" y1="528.50" x2="213.80" y2="528.50" stroke="#d0d0d0" stroke-width="0.6"/>
<rect x="52.20" y="528.80" width="1.00" height="24.30" fill="#515151"/>
<rect x="60.40" y="528.80" width="1.00" height="24.30" fill="#767676"/>
<rect x="61.20" y="528.80" width="1.00" height="24.30" fill="#767676"/>
<rect x="62.80" y="528.80" width="1.00" height="24.30" fill="#2b2b2b"/>
<rect x="67.70" y="528.80" width="1.00" height="24.30" fill="#767676"/>
<rect x="70.20" y="528.80" width="1.00" height="24.30" fill="#2b2b2b"/>
<rect x="71.45" y="528.80" width="1.00" height="24.30" fill="#2b2b2b"/>
<rect x="72.70" y="528.80" width="1.00" height="24.30" fill="#2b2b2b"/>
<rect x="75.10" y="528.80" width="1.00" height="24.30" fill="#767676"/>
<rect x="78.40" y="528.80" width="1.00" height="24.30" fill="#767676"/>
<rect x="79.47" y="528.80" width="1.00" height="24.30" fill="#767676"/>
<rect x="80.53" y="528.80" width="1.00" height="24.30" fill="#767676"/>
<rect x="81.60" y="528.80" width="1.00" height="24.30" fill="#767676"/>
<rect x="83.30" y="528.80" width="1.00" height="24.30" fill="#767676"/>
<rect x="84.50" y="528.80" width="1.00" height="24.30" fill="#767676"/>
<rect x="85.70" y="528.80" width="1.00" height="24.30" fill="#767676"/>
<rect x="89.00" y="528.80" width="1.00" height="24.30" fill="#767676"/>
<rect x="91.50" y="528.80" width="1.00" height="24.30" fill="#767676"/>
<rect x="92.30" y="528.80" width="1.00" height="24.30" fill="#767676"/>
<rect x="94.70" y="528.80" width="1.00" height="24.30" fill="#141414"/>
<rect x="97.20" y="528.80" width="1.00" height="24.30" fill="#767676"/>
<rect x="98.80" y="528.80" width="1.00" height="24.30" fill="#767676"/>
<rect x="101.30" y="528.80" width="1.00" height="24.30" fill="#767676"/>
<rect x="103.70" y="528.80" width="1.00" height="24.30" fill="#767676"/>
<rect x="106.20" y="528.80" width="1.00" height="24.30" fill="#2b2b2b"/>
<rect x="107.40" y="528.80" width="1.00" height="24.30" fill="#2b2b2b"/>
<rect x="108.60" y="528.80" width="1.00" height="24.30" fill="#2b2b2b"/>
<rect x="110.20" y="528.80" width="1.00" height="24.30" fill="#767676"/>
<rect x="111.90" y="528.80" width="1.00" height="24.30" fill="#767676"/>
<rect x="113.50" y="528.80" width="1.00" height="24.30" fill="#2b2b2b"/>
<rect x="114.75" y="528.80" width="1.00" height="24.30" fill="#2b2b2b"/>
<rect x="116.00" y="528.80" width="1.00" height="24.30" fill="#2b2b2b"/>
<rect x="117.60" y="528.80" width="1.00" height="24.30" fill="#767676"/>
<rect x="120.10" y="528.80" width="1.00" height="24.30" fill="#2b2b2b"/>
<rect x="121.30" y="528.80" width="1.00" height="24.30" fill="#2b2b2b"/>
<rect x="122.50" y="528.80" width="1.00" height="24.30" fill="#2b2b2b"/>
<rect x="125.00" y="528.80" width="1.00" height="24.30" fill="#767676"/>
<rect x="127.50" y="528.80" width="1.00" height="24.30" fill="#2b2b2b"/>
<rect x="129.00" y="528.80" width="1.00" height="24.30" fill="#2b2b2b"/>
<rect x="127.50" y="528.80" width="1.00" height="24.30" fill="#2b2b2b"/>
<rect x="128.60" y="528.80" width="1.00" height="24.30" fill="#2b2b2b"/>
<rect x="129.70" y="528.80" width="1.00" height="24.30" fill="#2b2b2b"/>
<rect x="130.80" y="528.80" width="1.00" height="24.30" fill="#2b2b2b"/>
<rect x="132.40" y="528.80" width="1.00" height="24.30" fill="#2b2b2b"/>
<rect x="133.65" y="528.80" width="1.00" height="24.30" fill="#2b2b2b"/>
<rect x="134.90" y="528.80" width="1.00" height="24.30" fill="#2b2b2b"/>
<rect x="136.50" y="528.80" width="1.00" height="24.30" fill="#141414"/>
<rect x="137.70" y="528.80" width="1.00" height="24.30" fill="#141414"/>
<rect x="138.90" y="528.80" width="1.00" height="24.30" fill="#141414"/>
<rect x="141.40" y="528.80" width="1.00" height="24.30" fill="#767676"/>
<rect x="143.00" y="528.80" width="1.00" height="24.30" fill="#767676"/>
<rect x="144.70" y="528.80" width="1.00" height="24.30" fill="#141414"/>
<rect x="145.77" y="528.80" width="1.00" height="24.30" fill="#141414"/>
<rect x="146.83" y="528.80" width="1.00" height="24.30" fill="#141414"/>
<rect x="147.90" y="528.80" width="1.00" height="24.30" fill="#141414"/>
<rect x="150.40" y="528.80" width="1.00" height="24.30" fill="#767676"/>
<rect x="151.70" y="528.80" width="1.00" height="24.30" fill="#767676"/>
<rect x="153.00" y="528.80" width="1.00" height="24.30" fill="#767676"/>
<rect x="154.30" y="528.80" width="1.00" height="24.30" fill="#767676"/>
<rect x="155.60" y="528.80" width="1.00" height="24.30" fill="#767676"/>
<rect x="156.90" y="528.80" width="1.00" height="24.30" fill="#767676"/>
<rect x="159.40" y="528.80" width="1.00" height="24.30" fill="#2b2b2b"/>
<rect x="161.00" y="528.80" width="1.00" height="24.30" fill="#2b2b2b"/>
<rect x="162.25" y="528.80" width="1.00" height="24.30" fill="#2b2b2b"/>
<rect x="163.50" y="528.80" width="1.00" height="24.30" fill="#2b2b2b"/>
<rect x="165.10" y="528.80" width="1.00" height="24.30" fill="#2b2b2b"/>
<rect x="166.20" y="528.80" width="1.00" height="24.30" fill="#2b2b2b"/>
<rect x="167.30" y="528.80" width="1.00" height="24.30" fill="#2b2b2b"/>
<rect x="168.40" y="528.80" width="1.00" height="24.30" fill="#2b2b2b"/>
<rect x="170.00" y="528.80" width="1.00" height="24.30" fill="#141414"/>
<rect x="171.25" y="528.80" width="1.00" height="24.30" fill="#141414"/>
<rect x="172.50" y="528.80" width="1.00" height="24.30" fill="#141414"/>
<rect x="174.90" y="528.80" width="1.00" height="24.30" fill="#767676"/>
<rect x="176.50" y="528.80" width="1.00" height="24.30" fill="#767676"/>
<rect x="178.20" y="528.80" width="1.00" height="24.30" fill="#2b2b2b"/>
<rect x="179.40" y="528.80" width="1.00" height="24.30" fill="#2b2b2b"/>
<rect x="180.60" y="528.80" width="1.00" height="24.30" fill="#2b2b2b"/>
<rect x="183.10" y="528.80" width="1.00" height="24.30" fill="#767676"/>
<rect x="184.70" y="528.80" width="1.00" height="24.30" fill="#767676"/>
<rect x="187.20" y="528.80" width="1.00" height="24.30" fill="#2b2b2b"/>
<rect x="188.40" y="528.80" width="1.00" height="24.30" fill="#2b2b2b"/>
<rect x="189.60" y="528.80" width="1.00" height="24.30" fill="#2b2b2b"/>
<rect x="191.20" y="528.80" width="1.00" height="24.30" fill="#767676"/>
<rect x="192.45" y="528.80" width="1.00" height="24.30" fill="#767676"/>
<rect x="193.70" y="528.80" width="1.00" height="24.30" fill="#767676"/>
<rect x="197.00" y="528.80" width="1.00" height="24.30" fill="#2b2b2b"/>
<rect x="198.07" y="528.80" width="1.00" height="24.30" fill="#2b2b2b"/>
<rect x="199.13" y="528.80" width="1.00" height="24.30" fill="#2b2b2b"/>
<rect x="200.20" y="528.80" width="1.00" height="24.30" fill="#2b2b2b"/>
<rect x="201.90" y="528.80" width="1.00" height="24.30" fill="#767676"/>
<rect x="203.50" y="528.80" width="1.00" height="24.30" fill="#767676"/>
<linearGradient id="g3" x1="48.5" x2="205.6" y1="0" y2="0" gradientUnits="userSpaceOnUse"><stop offset="0" stop-color="#e4404c"/><stop offset="0.3" stop-color="#e84852"/><stop offset="0.35" stop-color="#ec6470"/><stop offset="0.39" stop-color="#f090a4"/><stop offset="0.43" stop-color="#eab4d0"/><stop offset="0.47" stop-color="#d4c8ec"/><stop offset="0.55" stop-color="#c0c0ea"/><stop offset="0.6" stop-color="#a8a8e0"/><stop offset="0.66" stop-color="#9090d4"/><stop offset="0.7" stop-color="#7474c4"/><stop offset="0.76" stop-color="#6060ba"/><stop offset="0.84" stop-color="#5050b0"/><stop offset="0.91" stop-color="#4646a8"/><stop offset="0.93" stop-color="#36369c"/><stop offset="1" stop-color="#2e2e94"/></linearGradient>
<rect x="48.50" y="553.10" width="157.10" height="6.30" fill="url(#g3)"/>
<line x1="48.50" y1="559.70" x2="213.80" y2="559.70" stroke="#d8d8d8" stroke-width="0.5"/>
<line x1="48.50" y1="566.80" x2="213.80" y2="566.80" stroke="#efefef" stroke-width="0.6"/>
<line x1="45.90" y1="566.80" x2="48.50" y2="566.80" stroke="#222" stroke-width="0.9"/>
<text x="43.10" y="568.95" font-size="5.9" text-anchor="end" fill="#222" font-weight="normal">2</text>
<line x1="48.50" y1="577.20" x2="213.80" y2="577.20" stroke="#efefef" stroke-width="0.6"/>
<line x1="45.90" y1="577.20" x2="48.50" y2="577.20" stroke="#222" stroke-width="0.9"/>
<text x="43.10" y="579.35" font-size="5.9" text-anchor="end" fill="#222" font-weight="normal">1</text>
<line x1="45.90" y1="587.60" x2="48.50" y2="587.60" stroke="#222" stroke-width="0.9"/>
<text x="43.10" y="589.75" font-size="5.9" text-anchor="end" fill="#222" font-weight="normal">0</text>
<line x1="48.50" y1="598.00" x2="213.80" y2="598.00" stroke="#efefef" stroke-width="0.6"/>
<line x1="45.90" y1="598.00" x2="48.50" y2="598.00" stroke="#222" stroke-width="0.9"/>
<text x="43.10" y="600.15" font-size="5.9" text-anchor="end" fill="#222" font-weight="normal">−1</text>
<line x1="45.90" y1="608.40" x2="48.50" y2="608.40" stroke="#222" stroke-width="0.9"/>
<text x="43.10" y="610.55" font-size="5.9" text-anchor="end" fill="#222" font-weight="normal">−2</text>
<path d="M48.5,587.6 L48.5,580.1 L50.5,581.4 L54.5,582.9 L62.5,584.5 L78.5,585.5 L103.5,586.6 L124.5,587.6 L149.5,588.4 L191.6,590.5 L199.6,592.0 L203.4,594.4 L204.8,599.0 L205.4,604.2 L205.6,605.8 L205.6,587.6 Z" fill="#b4b4b4" stroke="#a0a0a0" stroke-width="0.4"/>
<text x="50.70" y="564.17" font-size="4.3" text-anchor="start" fill="#e86870" font-weight="normal">'C1D8' (positively correlated)</text>
<text x="195.10" y="606.37" font-size="4.3" text-anchor="end" fill="#5656b0" font-weight="normal">'C1D1_Pre' (negatively correlated)</text>
<text x="105.50" y="585.08" font-size="4.6" text-anchor="start" fill="#333" font-weight="normal">Zero cross at 8880</text>
<line x1="48.50" y1="453.10" x2="213.80" y2="453.10" stroke="#111" stroke-width="1.5"/>
<line x1="48.50" y1="452.40" x2="48.50" y2="609.60" stroke="#111" stroke-width="1.2"/>
<line x1="213.80" y1="452.40" x2="213.80" y2="609.60" stroke="#111" stroke-width="1.2"/>
<line x1="47.90" y1="609.00" x2="214.40" y2="609.00" stroke="#111" stroke-width="1.25"/>
<line x1="48.80" y1="609.00" x2="48.80" y2="611.60" stroke="#222" stroke-width="0.9"/>
<text x="0.00" y="0.00" font-size="5.9" text-anchor="end" fill="#222" font-weight="normal" transform="translate(51.20,617.60) rotate(-45)">0</text>
<line x1="65.85" y1="609.00" x2="65.85" y2="611.60" stroke="#222" stroke-width="0.9"/>
<text x="0.00" y="0.00" font-size="5.9" text-anchor="end" fill="#222" font-weight="normal" transform="translate(68.25,617.60) rotate(-45)">2,000</text>
<line x1="82.90" y1="609.00" x2="82.90" y2="611.60" stroke="#222" stroke-width="0.9"/>
<text x="0.00" y="0.00" font-size="5.9" text-anchor="end" fill="#222" font-weight="normal" transform="translate(85.30,617.60) rotate(-45)">4,000</text>
<line x1="99.95" y1="609.00" x2="99.95" y2="611.60" stroke="#222" stroke-width="0.9"/>
<text x="0.00" y="0.00" font-size="5.9" text-anchor="end" fill="#222" font-weight="normal" transform="translate(102.35,617.60) rotate(-45)">6,000</text>
<line x1="117.00" y1="609.00" x2="117.00" y2="611.60" stroke="#222" stroke-width="0.9"/>
<text x="0.00" y="0.00" font-size="5.9" text-anchor="end" fill="#222" font-weight="normal" transform="translate(119.40,617.60) rotate(-45)">8,000</text>
<line x1="134.05" y1="609.00" x2="134.05" y2="611.60" stroke="#222" stroke-width="0.9"/>
<text x="0.00" y="0.00" font-size="5.9" text-anchor="end" fill="#222" font-weight="normal" transform="translate(136.45,617.60) rotate(-45)">10,000</text>
<line x1="151.10" y1="609.00" x2="151.10" y2="611.60" stroke="#222" stroke-width="0.9"/>
<text x="0.00" y="0.00" font-size="5.9" text-anchor="end" fill="#222" font-weight="normal" transform="translate(153.50,617.60) rotate(-45)">12,000</text>
<line x1="168.15" y1="609.00" x2="168.15" y2="611.60" stroke="#222" stroke-width="0.9"/>
<text x="0.00" y="0.00" font-size="5.9" text-anchor="end" fill="#222" font-weight="normal" transform="translate(170.55,617.60) rotate(-45)">14,000</text>
<line x1="185.20" y1="609.00" x2="185.20" y2="611.60" stroke="#222" stroke-width="0.9"/>
<text x="0.00" y="0.00" font-size="5.9" text-anchor="end" fill="#222" font-weight="normal" transform="translate(187.60,617.60) rotate(-45)">16,000</text>
<line x1="202.25" y1="609.00" x2="202.25" y2="611.60" stroke="#222" stroke-width="0.9"/>
<text x="0.00" y="0.00" font-size="5.9" text-anchor="end" fill="#222" font-weight="normal" transform="translate(204.65,617.60) rotate(-45)">18,000</text>
<text x="0.00" y="0.00" font-size="8.2" text-anchor="middle" fill="#111" font-weight="normal" transform="translate(23.40,489.00) rotate(-90) scale(0.67,1)" stroke="#111" stroke-width="0.28">Enrichment score (ES)</text>
<text x="0.00" y="0.00" font-size="8.2" text-anchor="middle" fill="#111" font-weight="normal" transform="translate(21.60,587.40) rotate(-90) scale(0.67,1)" stroke="#111" stroke-width="0.28">Ranked list metric</text>
<text x="0.00" y="0.00" font-size="8.2" text-anchor="middle" fill="#111" font-weight="normal" transform="translate(31.30,587.40) rotate(-90) scale(0.67,1)" stroke="#111" stroke-width="0.28">(signal2noise)</text>
<text x="0.00" y="0.00" font-size="8.2" text-anchor="start" fill="#111" font-weight="normal" transform="translate(102.00,642.39) scale(0.67,1)" stroke="#111" stroke-width="0.28">Rank in ordered dataset</text>
<line x1="51.50" y1="650.00" x2="60.00" y2="650.00" stroke="#5e9a52" stroke-width="0.9"/>
<text x="62.70" y="652.08" font-size="5.7" text-anchor="start" fill="#3a3a3a" font-weight="normal">Enrichment profile</text>
<line x1="115.80" y1="650.00" x2="123.10" y2="650.00" stroke="#555" stroke-width="0.9"/>
<text x="126.70" y="652.08" font-size="5.7" text-anchor="start" fill="#3a3a3a" font-weight="normal">Hits</text>
<line x1="145.20" y1="650.00" x2="151.50" y2="650.00" stroke="#ccc" stroke-width="0.9"/>
<text x="154.50" y="652.08" font-size="5.7" text-anchor="start" fill="#3a3a3a" font-weight="normal">Ranking metric scores</text>
<text x="345.60" y="439.28" font-size="7.9" text-anchor="middle" fill="#1a1a1a" font-weight="normal">Enrichment plot:</text>
<text x="345.60" y="448.08" font-size="7.9" text-anchor="middle" fill="#1a1a1a" font-weight="normal">HALLMARK_MYC_TARGETS_V2</text>
<line x1="280.20" y1="454.20" x2="280.20" y2="528.00" stroke="#efefef" stroke-width="0.6"/>
<line x1="280.20" y1="559.20" x2="280.20" y2="608.60" stroke="#efefef" stroke-width="0.6"/>
<line x1="297.30" y1="454.20" x2="297.30" y2="528.00" stroke="#efefef" stroke-width="0.6"/>
<line x1="297.30" y1="559.20" x2="297.30" y2="608.60" stroke="#efefef" stroke-width="0.6"/>
<line x1="314.40" y1="454.20" x2="314.40" y2="528.00" stroke="#efefef" stroke-width="0.6"/>
<line x1="314.40" y1="559.20" x2="314.40" y2="608.60" stroke="#efefef" stroke-width="0.6"/>
<line x1="331.50" y1="454.20" x2="331.50" y2="528.00" stroke="#efefef" stroke-width="0.6"/>
<line x1="331.50" y1="559.20" x2="331.50" y2="608.60" stroke="#efefef" stroke-width="0.6"/>
<line x1="348.60" y1="454.20" x2="348.60" y2="528.00" stroke="#efefef" stroke-width="0.6"/>
<line x1="348.60" y1="559.20" x2="348.60" y2="608.60" stroke="#efefef" stroke-width="0.6"/>
<line x1="365.70" y1="454.20" x2="365.70" y2="528.00" stroke="#efefef" stroke-width="0.6"/>
<line x1="365.70" y1="559.20" x2="365.70" y2="608.60" stroke="#efefef" stroke-width="0.6"/>
<line x1="382.80" y1="454.20" x2="382.80" y2="528.00" stroke="#efefef" stroke-width="0.6"/>
<line x1="382.80" y1="559.20" x2="382.80" y2="608.60" stroke="#efefef" stroke-width="0.6"/>
<line x1="399.90" y1="454.20" x2="399.90" y2="528.00" stroke="#efefef" stroke-width="0.6"/>
<line x1="399.90" y1="559.20" x2="399.90" y2="608.60" stroke="#efefef" stroke-width="0.6"/>
<line x1="417.00" y1="454.20" x2="417.00" y2="528.00" stroke="#efefef" stroke-width="0.6"/>
<line x1="417.00" y1="559.20" x2="417.00" y2="608.60" stroke="#efefef" stroke-width="0.6"/>
<line x1="260.20" y1="458.40" x2="262.80" y2="458.40" stroke="#222" stroke-width="0.9"/>
<text x="257.50" y="460.73" font-size="6.4" text-anchor="end" fill="#1e1e1e" font-weight="normal">0.00</text>
<line x1="262.80" y1="466.25" x2="428.40" y2="466.25" stroke="#efefef" stroke-width="0.6"/>
<line x1="260.20" y1="466.25" x2="262.80" y2="466.25" stroke="#222" stroke-width="0.9"/>
<text x="257.50" y="468.58" font-size="6.4" text-anchor="end" fill="#1e1e1e" font-weight="normal">−0.05</text>
<line x1="262.80" y1="474.10" x2="428.40" y2="474.10" stroke="#efefef" stroke-width="0.6"/>
<line x1="260.20" y1="474.10" x2="262.80" y2="474.10" stroke="#222" stroke-width="0.9"/>
<text x="257.50" y="476.43" font-size="6.4" text-anchor="end" fill="#1e1e1e" font-weight="normal">−0.10</text>
<line x1="262.80" y1="481.95" x2="428.40" y2="481.95" stroke="#efefef" stroke-width="0.6"/>
<line x1="260.20" y1="481.95" x2="262.80" y2="481.95" stroke="#222" stroke-width="0.9"/>
<text x="257.50" y="484.28" font-size="6.4" text-anchor="end" fill="#1e1e1e" font-weight="normal">−0.15</text>
<line x1="262.80" y1="489.80" x2="428.40" y2="489.80" stroke="#efefef" stroke-width="0.6"/>
<line x1="260.20" y1="489.80" x2="262.80" y2="489.80" stroke="#222" stroke-width="0.9"/>
<text x="257.50" y="492.13" font-size="6.4" text-anchor="end" fill="#1e1e1e" font-weight="normal">−0.20</text>
<line x1="262.80" y1="497.65" x2="428.40" y2="497.65" stroke="#efefef" stroke-width="0.6"/>
<line x1="260.20" y1="497.65" x2="262.80" y2="497.65" stroke="#222" stroke-width="0.9"/>
<text x="257.50" y="499.98" font-size="6.4" text-anchor="end" fill="#1e1e1e" font-weight="normal">−0.25</text>
<line x1="262.80" y1="505.50" x2="428.40" y2="505.50" stroke="#efefef" stroke-width="0.6"/>
<line x1="260.20" y1="505.50" x2="262.80" y2="505.50" stroke="#222" stroke-width="0.9"/>
<text x="257.50" y="507.83" font-size="6.4" text-anchor="end" fill="#1e1e1e" font-weight="normal">−0.30</text>
<line x1="262.80" y1="513.35" x2="428.40" y2="513.35" stroke="#efefef" stroke-width="0.6"/>
<line x1="260.20" y1="513.35" x2="262.80" y2="513.35" stroke="#222" stroke-width="0.9"/>
<text x="257.50" y="515.68" font-size="6.4" text-anchor="end" fill="#1e1e1e" font-weight="normal">−0.35</text>
<line x1="262.80" y1="521.20" x2="428.40" y2="521.20" stroke="#efefef" stroke-width="0.6"/>
<line x1="260.20" y1="521.20" x2="262.80" y2="521.20" stroke="#222" stroke-width="0.9"/>
<text x="257.50" y="523.53" font-size="6.4" text-anchor="end" fill="#1e1e1e" font-weight="normal">−0.40</text>
<line x1="262.80" y1="458.40" x2="428.40" y2="458.40" stroke="#9a9a9a" stroke-width="0.8"/>
<polyline points="262.8,458.3 264.1,459.8 265.5,460.7 266.8,462.6 268.2,463.8 269.5,465.8 270.9,467.2 272.2,468.2 272.7,463.5 274.1,465.2 275.6,466.6 277.0,468.2 278.5,469.3 279.9,470.7 281.4,472.5 282.2,469.9 283.9,471.9 285.7,473.6 287.4,475.6 288.7,474.0 290.0,472.2 291.7,474.0 293.5,475.2 295.2,476.8 296.9,476.0 298.2,477.2 299.5,478.7 300.8,480.4 302.1,482.0 303.9,480.7 305.6,479.4 307.0,480.6 308.5,482.1 309.9,483.7 311.3,484.9 312.7,486.8 314.0,487.9 315.4,489.3 316.8,490.7 318.3,491.9 319.9,493.4 321.4,493.9 322.9,495.3 324.4,496.3 325.9,497.4 327.5,498.4 329.0,499.3 330.4,500.1 331.8,501.7 333.1,502.8 334.5,504.2 335.9,505.0 337.3,506.0 338.6,507.8 340.0,508.8 341.8,510.7 343.5,512.3 344.9,513.5 346.4,514.0 347.8,514.9 349.5,515.6 351.3,516.7 353.0,517.2 354.7,517.8 356.4,519.2 358.0,520.4 359.5,521.9 361.1,523.6 362.5,521.0 364.2,521.8 366.0,519.2 367.7,521.0 369.0,519.4 370.3,518.4 372.0,520.1 373.7,516.6 375.0,517.7 376.3,518.4 378.1,516.5 379.8,514.4 381.6,516.4 383.3,518.4 385.9,515.8 387.2,517.1 388.5,518.4 390.2,518.8 391.9,520.1 393.7,516.6 395.4,514.9 396.2,512.0 397.5,513.0 398.8,514.9 400.6,507.1 401.4,509.7 403.2,499.3 404.9,501.9 406.6,505.4 408.4,490.7 410.1,488.1 411.0,490.7 411.8,486.3 414.4,489.8 416.1,476.8 417.5,462.1 418.2,456.6" fill="none" stroke="#d4f2cc" stroke-width="3.4" stroke-linejoin="round" stroke-opacity="0.8"/>
<polyline points="262.8,458.3 264.1,459.8 265.5,460.7 266.8,462.6 268.2,463.8 269.5,465.8 270.9,467.2 272.2,468.2 272.7,463.5 274.1,465.2 275.6,466.6 277.0,468.2 278.5,469.3 279.9,470.7 281.4,472.5 282.2,469.9 283.9,471.9 285.7,473.6 287.4,475.6 288.7,474.0 290.0,472.2 291.7,474.0 293.5,475.2 295.2,476.8 296.9,476.0 298.2,477.2 299.5,478.7 300.8,480.4 302.1,482.0 303.9,480.7 305.6,479.4 307.0,480.6 308.5,482.1 309.9,483.7 311.3,484.9 312.7,486.8 314.0,487.9 315.4,489.3 316.8,490.7 318.3,491.9 319.9,493.4 321.4,493.9 322.9,495.3 324.4,496.3 325.9,497.4 327.5,498.4 329.0,499.3 330.4,500.1 331.8,501.7 333.1,502.8 334.5,504.2 335.9,505.0 337.3,506.0 338.6,507.8 340.0,508.8 341.8,510.7 343.5,512.3 344.9,513.5 346.4,514.0 347.8,514.9 349.5,515.6 351.3,516.7 353.0,517.2 354.7,517.8 356.4,519.2 358.0,520.4 359.5,521.9 361.1,523.6 362.5,521.0 364.2,521.8 366.0,519.2 367.7,521.0 369.0,519.4 370.3,518.4 372.0,520.1 373.7,516.6 375.0,517.7 376.3,518.4 378.1,516.5 379.8,514.4 381.6,516.4 383.3,518.4 385.9,515.8 387.2,517.1 388.5,518.4 390.2,518.8 391.9,520.1 393.7,516.6 395.4,514.9 396.2,512.0 397.5,513.0 398.8,514.9 400.6,507.1 401.4,509.7 403.2,499.3 404.9,501.9 406.6,505.4 408.4,490.7 410.1,488.1 411.0,490.7 411.8,486.3 414.4,489.8 416.1,476.8 417.5,462.1 418.2,456.6" fill="none" stroke="#4c9c40" stroke-width="1.45" stroke-linejoin="round"/>
<line x1="262.80" y1="528.00" x2="428.40" y2="528.00" stroke="#d0d0d0" stroke-width="0.6"/>
<rect x="271.90" y="528.30" width="1.00" height="24.50" fill="#515151"/>
<rect x="280.90" y="528.30" width="1.00" height="24.50" fill="#515151"/>
<rect x="286.70" y="528.30" width="1.00" height="24.50" fill="#767676"/>
<rect x="287.90" y="528.30" width="1.00" height="24.50" fill="#767676"/>
<rect x="289.10" y="528.30" width="1.00" height="24.50" fill="#767676"/>
<rect x="295.60" y="528.30" width="1.00" height="24.50" fill="#515151"/>
<rect x="301.40" y="528.30" width="1.00" height="24.50" fill="#767676"/>
<rect x="304.60" y="528.30" width="1.00" height="24.50" fill="#767676"/>
<rect x="316.90" y="528.30" width="1.00" height="24.50" fill="#515151"/>
<rect x="321.80" y="528.30" width="1.00" height="24.50" fill="#767676"/>
<rect x="323.40" y="528.30" width="1.00" height="24.50" fill="#767676"/>
<rect x="325.90" y="528.30" width="1.00" height="24.50" fill="#515151"/>
<rect x="330.00" y="528.30" width="1.00" height="24.50" fill="#2b2b2b"/>
<rect x="331.60" y="528.30" width="1.00" height="24.50" fill="#2b2b2b"/>
<rect x="334.90" y="528.30" width="1.00" height="24.50" fill="#2b2b2b"/>
<rect x="336.50" y="528.30" width="1.00" height="24.50" fill="#2b2b2b"/>
<rect x="343.90" y="528.30" width="1.00" height="24.50" fill="#515151"/>
<rect x="343.30" y="528.30" width="1.00" height="24.50" fill="#2b2b2b"/>
<rect x="345.00" y="528.30" width="1.00" height="24.50" fill="#2b2b2b"/>
<rect x="346.60" y="528.30" width="1.00" height="24.50" fill="#2b2b2b"/>
<rect x="348.20" y="528.30" width="1.00" height="24.50" fill="#2b2b2b"/>
<rect x="349.90" y="528.30" width="1.00" height="24.50" fill="#767676"/>
<rect x="352.30" y="528.30" width="1.00" height="24.50" fill="#2b2b2b"/>
<rect x="353.90" y="528.30" width="1.00" height="24.50" fill="#2b2b2b"/>
<rect x="360.50" y="528.30" width="1.00" height="24.50" fill="#2b2b2b"/>
<rect x="361.70" y="528.30" width="1.00" height="24.50" fill="#2b2b2b"/>
<rect x="362.90" y="528.30" width="1.00" height="24.50" fill="#2b2b2b"/>
<rect x="365.40" y="528.30" width="1.00" height="24.50" fill="#2b2b2b"/>
<rect x="367.00" y="528.30" width="1.00" height="24.50" fill="#2b2b2b"/>
<rect x="370.30" y="528.30" width="1.00" height="24.50" fill="#2b2b2b"/>
<rect x="371.50" y="528.30" width="1.00" height="24.50" fill="#2b2b2b"/>
<rect x="372.70" y="528.30" width="1.00" height="24.50" fill="#2b2b2b"/>
<rect x="375.20" y="528.30" width="1.00" height="24.50" fill="#2b2b2b"/>
<rect x="377.60" y="528.30" width="1.00" height="24.50" fill="#2b2b2b"/>
<rect x="379.30" y="528.30" width="1.00" height="24.50" fill="#2b2b2b"/>
<rect x="384.20" y="528.30" width="1.00" height="24.50" fill="#a1a1a1"/>
<rect x="385.40" y="528.30" width="1.00" height="24.50" fill="#a1a1a1"/>
<rect x="386.60" y="528.30" width="1.00" height="24.50" fill="#a1a1a1"/>
<rect x="392.40" y="528.30" width="1.00" height="24.50" fill="#2b2b2b"/>
<rect x="394.00" y="528.30" width="1.00" height="24.50" fill="#2b2b2b"/>
<rect x="395.60" y="528.30" width="1.00" height="24.50" fill="#767676"/>
<rect x="398.90" y="528.30" width="1.00" height="24.50" fill="#2b2b2b"/>
<rect x="400.10" y="528.30" width="1.00" height="24.50" fill="#2b2b2b"/>
<rect x="401.30" y="528.30" width="1.00" height="24.50" fill="#2b2b2b"/>
<rect x="407.10" y="528.30" width="1.00" height="24.50" fill="#2b2b2b"/>
<rect x="408.70" y="528.30" width="1.00" height="24.50" fill="#2b2b2b"/>
<rect x="411.20" y="528.30" width="1.00" height="24.50" fill="#767676"/>
<rect x="414.40" y="528.30" width="1.00" height="24.50" fill="#2b2b2b"/>
<rect x="415.65" y="528.30" width="1.00" height="24.50" fill="#2b2b2b"/>
<rect x="416.90" y="528.30" width="1.00" height="24.50" fill="#2b2b2b"/>
<linearGradient id="g4" x1="262.8" x2="420.2" y1="0" y2="0" gradientUnits="userSpaceOnUse"><stop offset="0" stop-color="#e4404c"/><stop offset="0.3" stop-color="#e84852"/><stop offset="0.35" stop-color="#ec6470"/><stop offset="0.39" stop-color="#f090a4"/><stop offset="0.43" stop-color="#eab4d0"/><stop offset="0.47" stop-color="#d4c8ec"/><stop offset="0.55" stop-color="#c0c0ea"/><stop offset="0.6" stop-color="#a8a8e0"/><stop offset="0.66" stop-color="#9090d4"/><stop offset="0.7" stop-color="#7474c4"/><stop offset="0.76" stop-color="#6060ba"/><stop offset="0.84" stop-color="#5050b0"/><stop offset="0.91" stop-color="#4646a8"/><stop offset="0.93" stop-color="#36369c"/><stop offset="1" stop-color="#2e2e94"/></linearGradient>
<rect x="262.80" y="552.80" width="157.40" height="6.40" fill="url(#g4)"/>
<line x1="262.80" y1="559.50" x2="428.40" y2="559.50" stroke="#d8d8d8" stroke-width="0.5"/>
<line x1="262.80" y1="567.00" x2="428.40" y2="567.00" stroke="#efefef" stroke-width="0.6"/>
<line x1="260.20" y1="567.00" x2="262.80" y2="567.00" stroke="#222" stroke-width="0.9"/>
<text x="257.40" y="569.15" font-size="5.9" text-anchor="end" fill="#222" font-weight="normal">2</text>
<line x1="262.80" y1="577.30" x2="428.40" y2="577.30" stroke="#efefef" stroke-width="0.6"/>
<line x1="260.20" y1="577.30" x2="262.80" y2="577.30" stroke="#222" stroke-width="0.9"/>
<text x="257.40" y="579.45" font-size="5.9" text-anchor="end" fill="#222" font-weight="normal">1</text>
<line x1="260.20" y1="587.60" x2="262.80" y2="587.60" stroke="#222" stroke-width="0.9"/>
<text x="257.40" y="589.75" font-size="5.9" text-anchor="end" fill="#222" font-weight="normal">0</text>
<line x1="262.80" y1="597.90" x2="428.40" y2="597.90" stroke="#efefef" stroke-width="0.6"/>
<line x1="260.20" y1="597.90" x2="262.80" y2="597.90" stroke="#222" stroke-width="0.9"/>
<text x="257.40" y="600.05" font-size="5.9" text-anchor="end" fill="#222" font-weight="normal">−1</text>
<line x1="260.20" y1="608.20" x2="262.80" y2="608.20" stroke="#222" stroke-width="0.9"/>
<text x="257.40" y="610.35" font-size="5.9" text-anchor="end" fill="#222" font-weight="normal">−2</text>
<path d="M262.8,587.6 L262.8,580.2 L264.8,581.4 L268.8,583.0 L276.8,584.5 L292.8,585.5 L317.8,586.6 L339.0,587.6 L364.0,588.4 L406.2,590.5 L414.2,591.9 L418.0,594.3 L419.4,598.9 L420.0,604.1 L420.2,605.6 L420.2,587.6 Z" fill="#b4b4b4" stroke="#a0a0a0" stroke-width="0.4"/>
<text x="265.00" y="563.77" font-size="4.3" text-anchor="start" fill="#e86870" font-weight="normal">'C1D6' (positively correlated)</text>
<text x="409.70" y="605.97" font-size="4.3" text-anchor="end" fill="#5656b0" font-weight="normal">'C1D1_Pre' (negatively correlated)</text>
<text x="320.02" y="585.08" font-size="4.6" text-anchor="start" fill="#333" font-weight="normal">Zero cross at 8880</text>
<line x1="262.80" y1="453.20" x2="428.40" y2="453.20" stroke="#111" stroke-width="1.5"/>
<line x1="262.80" y1="452.50" x2="262.80" y2="609.20" stroke="#111" stroke-width="1.2"/>
<line x1="428.40" y1="452.50" x2="428.40" y2="609.20" stroke="#111" stroke-width="1.2"/>
<line x1="262.20" y1="608.60" x2="429.00" y2="608.60" stroke="#111" stroke-width="1.25"/>
<line x1="263.10" y1="608.60" x2="263.10" y2="611.20" stroke="#222" stroke-width="0.9"/>
<text x="0.00" y="0.00" font-size="5.9" text-anchor="end" fill="#222" font-weight="normal" transform="translate(265.50,617.20) rotate(-45)">0</text>
<line x1="280.20" y1="608.60" x2="280.20" y2="611.20" stroke="#222" stroke-width="0.9"/>
<text x="0.00" y="0.00" font-size="5.9" text-anchor="end" fill="#222" font-weight="normal" transform="translate(282.60,617.20) rotate(-45)">2,000</text>
<line x1="297.30" y1="608.60" x2="297.30" y2="611.20" stroke="#222" stroke-width="0.9"/>
<text x="0.00" y="0.00" font-size="5.9" text-anchor="end" fill="#222" font-weight="normal" transform="translate(299.70,617.20) rotate(-45)">4,000</text>
<line x1="314.40" y1="608.60" x2="314.40" y2="611.20" stroke="#222" stroke-width="0.9"/>
<text x="0.00" y="0.00" font-size="5.9" text-anchor="end" fill="#222" font-weight="normal" transform="translate(316.80,617.20) rotate(-45)">6,000</text>
<line x1="331.50" y1="608.60" x2="331.50" y2="611.20" stroke="#222" stroke-width="0.9"/>
<text x="0.00" y="0.00" font-size="5.9" text-anchor="end" fill="#222" font-weight="normal" transform="translate(333.90,617.20) rotate(-45)">8,000</text>
<line x1="348.60" y1="608.60" x2="348.60" y2="611.20" stroke="#222" stroke-width="0.9"/>
<text x="0.00" y="0.00" font-size="5.9" text-anchor="end" fill="#222" font-weight="normal" transform="translate(351.00,617.20) rotate(-45)">10,000</text>
<line x1="365.70" y1="608.60" x2="365.70" y2="611.20" stroke="#222" stroke-width="0.9"/>
<text x="0.00" y="0.00" font-size="5.9" text-anchor="end" fill="#222" font-weight="normal" transform="translate(368.10,617.20) rotate(-45)">12,000</text>
<line x1="382.80" y1="608.60" x2="382.80" y2="611.20" stroke="#222" stroke-width="0.9"/>
<text x="0.00" y="0.00" font-size="5.9" text-anchor="end" fill="#222" font-weight="normal" transform="translate(385.20,617.20) rotate(-45)">14,000</text>
<line x1="399.90" y1="608.60" x2="399.90" y2="611.20" stroke="#222" stroke-width="0.9"/>
<text x="0.00" y="0.00" font-size="5.9" text-anchor="end" fill="#222" font-weight="normal" transform="translate(402.30,617.20) rotate(-45)">16,000</text>
<line x1="417.00" y1="608.60" x2="417.00" y2="611.20" stroke="#222" stroke-width="0.9"/>
<text x="0.00" y="0.00" font-size="5.9" text-anchor="end" fill="#222" font-weight="normal" transform="translate(419.40,617.20) rotate(-45)">18,000</text>
<text x="0.00" y="0.00" font-size="8.2" text-anchor="middle" fill="#111" font-weight="normal" transform="translate(237.40,490.30) rotate(-90) scale(0.67,1)" stroke="#111" stroke-width="0.28">Enrichment score (ES)</text>
<text x="0.00" y="0.00" font-size="8.2" text-anchor="middle" fill="#111" font-weight="normal" transform="translate(236.00,588.00) rotate(-90) scale(0.67,1)" stroke="#111" stroke-width="0.28">Ranked list metric</text>
<text x="0.00" y="0.00" font-size="8.2" text-anchor="middle" fill="#111" font-weight="normal" transform="translate(245.40,588.00) rotate(-90) scale(0.67,1)" stroke="#111" stroke-width="0.28">(signal2noise)</text>
<text x="0.00" y="0.00" font-size="8.2" text-anchor="start" fill="#111" font-weight="normal" transform="translate(316.00,642.39) scale(0.67,1)" stroke="#111" stroke-width="0.28">Rank in ordered dataset</text>
<line x1="266.30" y1="650.00" x2="274.80" y2="650.00" stroke="#5e9a52" stroke-width="0.9"/>
<text x="277.50" y="652.08" font-size="5.7" text-anchor="start" fill="#3a3a3a" font-weight="normal">Enrichment profile</text>
<line x1="330.60" y1="650.00" x2="337.90" y2="650.00" stroke="#555" stroke-width="0.9"/>
<text x="341.50" y="652.08" font-size="5.7" text-anchor="start" fill="#3a3a3a" font-weight="normal">Hits</text>
<line x1="360.00" y1="650.00" x2="366.30" y2="650.00" stroke="#ccc" stroke-width="0.9"/>
<text x="369.30" y="652.08" font-size="5.7" text-anchor="start" fill="#3a3a3a" font-weight="normal">Ranking metric scores</text>
<text x="446.30" y="15.60" font-size="11.4" text-anchor="start" fill="#111" font-weight="bold">C</text>
<rect x="453.20" y="17.80" width="3.10" height="27.10" fill="#a2a2a2"/>
<rect x="454.12" y="19.60" width="1.37" height="1.00" fill="#7a7a7a"/>
<rect x="454.12" y="22.55" width="1.37" height="1.00" fill="#7a7a7a"/>
<rect x="454.12" y="25.50" width="1.37" height="1.00" fill="#7a7a7a"/>
<rect x="454.12" y="28.45" width="1.37" height="1.00" fill="#7a7a7a"/>
<rect x="454.12" y="31.40" width="1.37" height="1.00" fill="#7a7a7a"/>
<rect x="454.12" y="34.35" width="1.37" height="1.00" fill="#7a7a7a"/>
<rect x="454.12" y="37.30" width="1.37" height="1.00" fill="#7a7a7a"/>
<rect x="454.12" y="40.25" width="1.37" height="1.00" fill="#7a7a7a"/>
<rect x="454.12" y="43.20" width="1.37" height="1.00" fill="#7a7a7a"/>
<line x1="456.25" y1="17.80" x2="456.25" y2="44.90" stroke="#ffffff" stroke-width="0.7" stroke-opacity="0.85"/>
<rect x="456.25" y="17.80" width="3.10" height="27.10" fill="#a2a2a2"/>
<rect x="457.17" y="19.60" width="1.37" height="1.00" fill="#7a7a7a"/>
<rect x="457.17" y="22.55" width="1.37" height="1.00" fill="#7a7a7a"/>
<rect x="457.17" y="25.50" width="1.37" height="1.00" fill="#7a7a7a"/>
<rect x="457.17" y="28.45" width="1.37" height="1.00" fill="#7a7a7a"/>
<rect x="457.17" y="31.40" width="1.37" height="1.00" fill="#7a7a7a"/>
<rect x="457.17" y="34.35" width="1.37" height="1.00" fill="#7a7a7a"/>
<rect x="457.17" y="37.30" width="1.37" height="1.00" fill="#7a7a7a"/>
<rect x="457.17" y="40.25" width="1.37" height="1.00" fill="#7a7a7a"/>
<rect x="457.17" y="43.20" width="1.37" height="1.00" fill="#7a7a7a"/>
<line x1="459.30" y1="17.80" x2="459.30" y2="44.90" stroke="#ffffff" stroke-width="0.7" stroke-opacity="0.85"/>
<rect x="459.30" y="17.80" width="3.10" height="27.10" fill="#a2a2a2"/>
<rect x="460.22" y="19.60" width="1.37" height="1.00" fill="#7a7a7a"/>
<rect x="460.22" y="22.55" width="1.37" height="1.00" fill="#7a7a7a"/>
<rect x="460.22" y="25.50" width="1.37" height="1.00" fill="#7a7a7a"/>
<rect x="460.22" y="28.45" width="1.37" height="1.00" fill="#7a7a7a"/>
<rect x="460.22" y="31.40" width="1.37" height="1.00" fill="#7a7a7a"/>
<rect x="460.22" y="34.35" width="1.37" height="1.00" fill="#7a7a7a"/>
<rect x="460.22" y="37.30" width="1.37" height="1.00" fill="#7a7a7a"/>
<rect x="460.22" y="40.25" width="1.37" height="1.00" fill="#7a7a7a"/>
<rect x="460.22" y="43.20" width="1.37" height="1.00" fill="#7a7a7a"/>
<line x1="462.35" y1="17.80" x2="462.35" y2="44.90" stroke="#ffffff" stroke-width="0.7" stroke-opacity="0.85"/>
<rect x="462.35" y="17.80" width="3.10" height="27.10" fill="#a2a2a2"/>
<rect x="463.27" y="19.60" width="1.37" height="1.00" fill="#7a7a7a"/>
<rect x="463.27" y="22.55" width="1.37" height="1.00" fill="#7a7a7a"/>
<rect x="463.27" y="25.50" width="1.37" height="1.00" fill="#7a7a7a"/>
<rect x="463.27" y="28.45" width="1.37" height="1.00" fill="#7a7a7a"/>
<rect x="463.27" y="31.40" width="1.37" height="1.00" fill="#7a7a7a"/>
<rect x="463.27" y="34.35" width="1.37" height="1.00" fill="#7a7a7a"/>
<rect x="463.27" y="37.30" width="1.37" height="1.00" fill="#7a7a7a"/>
<rect x="463.27" y="40.25" width="1.37" height="1.00" fill="#7a7a7a"/>
<rect x="463.27" y="43.20" width="1.37" height="1.00" fill="#7a7a7a"/>
<line x1="465.40" y1="17.80" x2="465.40" y2="44.90" stroke="#ffffff" stroke-width="0.7" stroke-opacity="0.85"/>
<rect x="465.40" y="17.80" width="3.10" height="27.10" fill="#b6b0cc"/>
<rect x="466.31" y="19.60" width="1.37" height="1.00" fill="#8a84a8"/>
<rect x="466.31" y="22.55" width="1.37" height="1.00" fill="#8a84a8"/>
<rect x="466.31" y="25.50" width="1.37" height="1.00" fill="#8a84a8"/>
<rect x="466.31" y="28.45" width="1.37" height="1.00" fill="#8a84a8"/>
<rect x="466.31" y="31.40" width="1.37" height="1.00" fill="#8a84a8"/>
<rect x="466.31" y="34.35" width="1.37" height="1.00" fill="#8a84a8"/>
<rect x="466.31" y="37.30" width="1.37" height="1.00" fill="#8a84a8"/>
<rect x="466.31" y="40.25" width="1.37" height="1.00" fill="#8a84a8"/>
<rect x="466.31" y="43.20" width="1.37" height="1.00" fill="#8a84a8"/>
<line x1="468.45" y1="17.80" x2="468.45" y2="44.90" stroke="#ffffff" stroke-width="0.7" stroke-opacity="0.85"/>
<rect x="468.45" y="17.80" width="3.10" height="27.10" fill="#b6b0cc"/>
<rect x="469.37" y="19.60" width="1.37" height="1.00" fill="#8a84a8"/>
<rect x="469.37" y="22.55" width="1.37" height="1.00" fill="#8a84a8"/>
<rect x="469.37" y="25.50" width="1.37" height="1.00" fill="#8a84a8"/>
<rect x="469.37" y="28.45" width="1.37" height="1.00" fill="#8a84a8"/>
<rect x="469.37" y="31.40" width="1.37" height="1.00" fill="#8a84a8"/>
<rect x="469.37" y="34.35" width="1.37" height="1.00" fill="#8a84a8"/>
<rect x="469.37" y="37.30" width="1.37" height="1.00" fill="#8a84a8"/>
<rect x="469.37" y="40.25" width="1.37" height="1.00" fill="#8a84a8"/>
<rect x="469.37" y="43.20" width="1.37" height="1.00" fill="#8a84a8"/>
<line x1="471.50" y1="17.80" x2="471.50" y2="44.90" stroke="#ffffff" stroke-width="0.7" stroke-opacity="0.85"/>
<rect x="471.50" y="17.80" width="3.10" height="27.10" fill="#f4c21c"/>
<rect x="472.42" y="19.60" width="1.37" height="1.00" fill="#c9951a"/>
<rect x="472.42" y="22.55" width="1.37" height="1.00" fill="#c9951a"/>
<rect x="472.42" y="25.50" width="1.37" height="1.00" fill="#c9951a"/>
<rect x="472.42" y="28.45" width="1.37" height="1.00" fill="#c9951a"/>
<rect x="472.42" y="31.40" width="1.37" height="1.00" fill="#c9951a"/>
<rect x="472.42" y="34.35" width="1.37" height="1.00" fill="#c9951a"/>
<rect x="472.42" y="37.30" width="1.37" height="1.00" fill="#c9951a"/>
<rect x="472.42" y="40.25" width="1.37" height="1.00" fill="#c9951a"/>
<rect x="472.42" y="43.20" width="1.37" height="1.00" fill="#c9951a"/>
<line x1="474.55" y1="17.80" x2="474.55" y2="44.90" stroke="#ffffff" stroke-width="0.7" stroke-opacity="0.85"/>
<rect x="474.55" y="17.80" width="3.10" height="27.10" fill="#f4c21c"/>
<rect x="475.47" y="19.60" width="1.37" height="1.00" fill="#c9951a"/>
<rect x="475.47" y="22.55" width="1.37" height="1.00" fill="#c9951a"/>
<rect x="475.47" y="25.50" width="1.37" height="1.00" fill="#c9951a"/>
<rect x="475.47" y="28.45" width="1.37" height="1.00" fill="#c9951a"/>
<rect x="475.47" y="31.40" width="1.37" height="1.00" fill="#c9951a"/>
<rect x="475.47" y="34.35" width="1.37" height="1.00" fill="#c9951a"/>
<rect x="475.47" y="37.30" width="1.37" height="1.00" fill="#c9951a"/>
<rect x="475.47" y="40.25" width="1.37" height="1.00" fill="#c9951a"/>
<rect x="475.47" y="43.20" width="1.37" height="1.00" fill="#c9951a"/>
<line x1="477.60" y1="17.80" x2="477.60" y2="44.90" stroke="#ffffff" stroke-width="0.7" stroke-opacity="0.85"/>
<rect x="477.60" y="17.80" width="3.10" height="27.10" fill="#f4c21c"/>
<rect x="478.52" y="19.60" width="1.37" height="1.00" fill="#c9951a"/>
<rect x="478.52" y="22.55" width="1.37" height="1.00" fill="#c9951a"/>
<rect x="478.52" y="25.50" width="1.37" height="1.00" fill="#c9951a"/>
<rect x="478.52" y="28.45" width="1.37" height="1.00" fill="#c9951a"/>
<rect x="478.52" y="31.40" width="1.37" height="1.00" fill="#c9951a"/>
<rect x="478.52" y="34.35" width="1.37" height="1.00" fill="#c9951a"/>
<rect x="478.52" y="37.30" width="1.37" height="1.00" fill="#c9951a"/>
<rect x="478.52" y="40.25" width="1.37" height="1.00" fill="#c9951a"/>
<rect x="478.52" y="43.20" width="1.37" height="1.00" fill="#c9951a"/>
<line x1="480.65" y1="17.80" x2="480.65" y2="44.90" stroke="#ffffff" stroke-width="0.7" stroke-opacity="0.85"/>
<rect x="480.65" y="17.80" width="3.10" height="27.10" fill="#f4c21c"/>
<rect x="481.56" y="19.60" width="1.37" height="1.00" fill="#c9951a"/>
<rect x="481.56" y="22.55" width="1.37" height="1.00" fill="#c9951a"/>
<rect x="481.56" y="25.50" width="1.37" height="1.00" fill="#c9951a"/>
<rect x="481.56" y="28.45" width="1.37" height="1.00" fill="#c9951a"/>
<rect x="481.56" y="31.40" width="1.37" height="1.00" fill="#c9951a"/>
<rect x="481.56" y="34.35" width="1.37" height="1.00" fill="#c9951a"/>
<rect x="481.56" y="37.30" width="1.37" height="1.00" fill="#c9951a"/>
<rect x="481.56" y="40.25" width="1.37" height="1.00" fill="#c9951a"/>
<rect x="481.56" y="43.20" width="1.37" height="1.00" fill="#c9951a"/>
<line x1="483.70" y1="17.80" x2="483.70" y2="44.90" stroke="#ffffff" stroke-width="0.7" stroke-opacity="0.85"/>
<rect x="483.70" y="17.80" width="3.10" height="27.10" fill="#f4c21c"/>
<rect x="484.62" y="19.60" width="1.37" height="1.00" fill="#c9951a"/>
<rect x="484.62" y="22.55" width="1.37" height="1.00" fill="#c9951a"/>
<rect x="484.62" y="25.50" width="1.37" height="1.00" fill="#c9951a"/>
<rect x="484.62" y="28.45" width="1.37" height="1.00" fill="#c9951a"/>
<rect x="484.62" y="31.40" width="1.37" height="1.00" fill="#c9951a"/>
<rect x="484.62" y="34.35" width="1.37" height="1.00" fill="#c9951a"/>
<rect x="484.62" y="37.30" width="1.37" height="1.00" fill="#c9951a"/>
<rect x="484.62" y="40.25" width="1.37" height="1.00" fill="#c9951a"/>
<rect x="484.62" y="43.20" width="1.37" height="1.00" fill="#c9951a"/>
<line x1="486.75" y1="17.80" x2="486.75" y2="44.90" stroke="#ffffff" stroke-width="0.7" stroke-opacity="0.85"/>
<rect x="486.75" y="17.80" width="3.10" height="27.10" fill="#f4c21c"/>
<rect x="487.67" y="19.60" width="1.37" height="1.00" fill="#c9951a"/>
<rect x="487.67" y="22.55" width="1.37" height="1.00" fill="#c9951a"/>
<rect x="487.67" y="25.50" width="1.37" height="1.00" fill="#c9951a"/>
<rect x="487.67" y="28.45" width="1.37" height="1.00" fill="#c9951a"/>
<rect x="487.67" y="31.40" width="1.37" height="1.00" fill="#c9951a"/>
<rect x="487.67" y="34.35" width="1.37" height="1.00" fill="#c9951a"/>
<rect x="487.67" y="37.30" width="1.37" height="1.00" fill="#c9951a"/>
<rect x="487.67" y="40.25" width="1.37" height="1.00" fill="#c9951a"/>
<rect x="487.67" y="43.20" width="1.37" height="1.00" fill="#c9951a"/>
<line x1="489.80" y1="17.80" x2="489.80" y2="44.90" stroke="#ffffff" stroke-width="0.7" stroke-opacity="0.85"/>
<rect x="454.12" y="45.40" width="1.22" height="6.40" fill="#dcecf2"/>
<rect x="457.17" y="45.40" width="1.22" height="6.40" fill="#dcecf2"/>
<rect x="460.22" y="45.40" width="1.22" height="6.40" fill="#dcecf2"/>
<rect x="463.27" y="45.40" width="1.22" height="6.40" fill="#dcecf2"/>
<rect x="466.31" y="45.40" width="1.22" height="6.40" fill="#dcecf2"/>
<rect x="469.37" y="45.40" width="1.22" height="6.40" fill="#dcecf2"/>
<rect x="472.42" y="45.40" width="1.22" height="6.40" fill="#dcecf2"/>
<rect x="475.47" y="45.40" width="1.22" height="6.40" fill="#dcecf2"/>
<rect x="478.52" y="45.40" width="1.22" height="6.40" fill="#dcecf2"/>
<rect x="481.56" y="45.40" width="1.22" height="6.40" fill="#dcecf2"/>
<rect x="484.62" y="45.40" width="1.22" height="6.40" fill="#dcecf2"/>
<rect x="487.67" y="45.40" width="1.22" height="6.40" fill="#dcecf2"/>
<filter id="hb" x="-2%" y="-1%" width="104%" height="102%"><feGaussianBlur stdDeviation="0.45"/></filter>
<g filter="url(#hb)"><rect x="453.20" y="52.10" width="3.11" height="3.06" fill="#c92236"/><rect x="456.25" y="52.10" width="3.11" height="3.06" fill="#de5868"/><rect x="459.30" y="52.10" width="3.11" height="3.06" fill="#c92236"/><rect x="462.35" y="52.10" width="3.11" height="3.06" fill="#34268c"/><rect x="465.40" y="52.10" width="3.11" height="3.06" fill="#e6e0f6"/><rect x="468.45" y="52.10" width="3.11" height="3.06" fill="#34268c"/><rect x="471.50" y="52.10" width="3.11" height="3.06" fill="#34268c"/><rect x="474.55" y="52.10" width="3.11" height="3.06" fill="#e6e0f6"/><rect x="477.60" y="52.10" width="3.11" height="3.06" fill="#5c48ac"/><rect x="480.65" y="52.10" width="3.11" height="3.06" fill="#e6e0f6"/><rect x="483.70" y="52.10" width="3.11" height="3.06" fill="#34268c"/><rect x="486.75" y="52.10" width="3.11" height="3.06" fill="#c92236"/><rect x="453.20" y="55.10" width="3.11" height="3.06" fill="#c92236"/><rect x="456.25" y="55.10" width="3.11" height="3.06" fill="#34268c"/><rect x="459.30" y="55.10" width="3.11" height="3.06" fill="#c92236"/><rect x="462.35" y="55.10" width="3.11" height="3.06" fill="#f0a8bc"/><rect x="465.40" y="55.10" width="3.11" height="3.06" fill="#e6e0f6"/><rect x="468.45" y="55.10" width="3.11" height="3.06" fill="#e6e0f6"/><rect x="471.50" y="55.10" width="3.11" height="3.06" fill="#34268c"/><rect x="474.55" y="55.10" width="3.11" height="3.06" fill="#5c48ac"/><rect x="477.60" y="55.10" width="3.11" height="3.06" fill="#e6e0f6"/><rect x="480.65" y="55.10" width="3.11" height="3.06" fill="#34268c"/><rect x="483.70" y="55.10" width="3.11" height="3.06" fill="#34268c"/><rect x="486.75" y="55.10" width="3.11" height="3.06" fill="#34268c"/><rect x="453.20" y="58.11" width="3.11" height="3.06" fill="#de5868"/><rect x="456.25" y="58.11" width="3.11" height="3.06" fill="#5c48ac"/><rect x="459.30" y="58.11" width="3.11" height="3.06" fill="#34268c"/><rect x="462.35" y="58.11" width="3.11" height="3.06" fill="#de5868"/><rect x="465.40" y="58.11" width="3.11" height="3.06" fill="#5c48ac"/><rect x="468.45" y="58.11" width="3.11" height="3.06" fill="#34268c"/><rect x="471.50" y="58.11" width="3.11" height="3.06" fill="#aaa4e4"/><rect x="474.55" y="58.11" width="3.11" height="3.06" fill="#34268c"/><rect x="477.60" y="58.11" width="3.11" height="3.06" fill="#5c48ac"/><rect x="480.65" y="58.11" width="3.11" height="3.06" fill="#34268c"/><rect x="483.70" y="58.11" width="3.11" height="3.06" fill="#34268c"/><rect x="486.75" y="58.11" width="3.11" height="3.06" fill="#aaa4e4"/><rect x="453.20" y="61.11" width="3.11" height="3.06" fill="#c92236"/><rect x="456.25" y="61.11" width="3.11" height="3.06" fill="#c92236"/><rect x="459.30" y="61.11" width="3.11" height="3.06" fill="#e6e0f6"/><rect x="462.35" y="61.11" width="3.11" height="3.06" fill="#e6e0f6"/><rect x="465.40" y="61.11" width="3.11" height="3.06" fill="#c92236"/><rect x="468.45" y="61.11" width="3.11" height="3.06" fill="#34268c"/><rect x="471.50" y="61.11" width="3.11" height="3.06" fill="#aaa4e4"/><rect x="474.55" y="61.11" width="3.11" height="3.06" fill="#de5868"/><rect x="477.60" y="61.11" width="3.11" height="3.06" fill="#34268c"/><rect x="480.65" y="61.11" width="3.11" height="3.06" fill="#e6e0f6"/><rect x="483.70" y="61.11" width="3.11" height="3.06" fill="#5c48ac"/><rect x="486.75" y="61.11" width="3.11" height="3.06" fill="#34268c"/><rect x="453.20" y="64.12" width="3.11" height="3.06" fill="#de5868"/><rect x="456.25" y="64.12" width="3.11" height="3.06" fill="#34268c"/><rect x="459.30" y="64.12" width="3.11" height="3.06" fill="#34268c"/><rect x="462.35" y="64.12" width="3.11" height="3.06" fill="#34268c"/><rect x="465.40" y="64.12" width="3.11" height="3.06" fill="#34268c"/><rect x="468.45" y="64.12" width="3.11" height="3.06" fill="#5c48ac"/><rect x="471.50" y="64.12" width="3.11" height="3.06" fill="#c92236"/><rect x="474.55" y="64.12" width="3.11" height="3.06" fill="#34268c"/><rect x="477.60" y="64.12" width="3.11" height="3.06" fill="#de5868"/><rect x="480.65" y="64.12" width="3.11" height="3.06" fill="#34268c"/><rect x="483.70" y="64.12" width="3.11" height="3.06" fill="#e6e0f6"/><rect x="486.75" y="64.12" width="3.11" height="3.06" fill="#34268c"/><rect x="453.20" y="67.12" width="3.11" height="3.06" fill="#34268c"/><rect x="456.25" y="67.12" width="3.11" height="3.06" fill="#c92236"/><rect x="459.30" y="67.12" width="3.11" height="3.06" fill="#34268c"/><rect x="462.35" y="67.12" width="3.11" height="3.06" fill="#5c48ac"/><rect x="465.40" y="67.12" width="3.11" height="3.06" fill="#e6e0f6"/><rect x="468.45" y="67.12" width="3.11" height="3.06" fill="#f0a8bc"/><rect x="471.50" y="67.12" width="3.11" height="3.06" fill="#34268c"/><rect x="474.55" y="67.12" width="3.11" height="3.06" fill="#e6e0f6"/><rect x="477.60" y="67.12" width="3.11" height="3.06" fill="#34268c"/><rect x="480.65" y="67.12" width="3.11" height="3.06" fill="#f0a8bc"/><rect x="483.70" y="67.12" width="3.11" height="3.06" fill="#34268c"/><rect x="486.75" y="67.12" width="3.11" height="3.06" fill="#34268c"/><rect x="453.20" y="70.13" width="3.11" height="3.06" fill="#c92236"/><rect x="456.25" y="70.13" width="3.11" height="3.06" fill="#c92236"/><rect x="459.30" y="70.13" width="3.11" height="3.06" fill="#34268c"/><rect x="462.35" y="70.13" width="3.11" height="3.06" fill="#c92236"/><rect x="465.40" y="70.13" width="3.11" height="3.06" fill="#34268c"/><rect x="468.45" y="70.13" width="3.11" height="3.06" fill="#5c48ac"/><rect x="471.50" y="70.13" width="3.11" height="3.06" fill="#e6e0f6"/><rect x="474.55" y="70.13" width="3.11" height="3.06" fill="#34268c"/><rect x="477.60" y="70.13" width="3.11" height="3.06" fill="#34268c"/><rect x="480.65" y="70.13" width="3.11" height="3.06" fill="#e6e0f6"/><rect x="483.70" y="70.13" width="3.11" height="3.06" fill="#34268c"/><rect x="486.75" y="70.13" width="3.11" height="3.06" fill="#c92236"/><rect x="453.20" y="73.13" width="3.11" height="3.06" fill="#de5868"/><rect x="456.25" y="73.13" width="3.11" height="3.06" fill="#5c48ac"/><rect x="459.30" y="73.13" width="3.11" height="3.06" fill="#c92236"/><rect x="462.35" y="73.13" width="3.11" height="3.06" fill="#de5868"/><rect x="465.40" y="73.13" width="3.11" height="3.06" fill="#e6e0f6"/><rect x="468.45" y="73.13" width="3.11" height="3.06" fill="#de5868"/><rect x="471.50" y="73.13" width="3.11" height="3.06" fill="#e6e0f6"/><rect x="474.55" y="73.13" width="3.11" height="3.06" fill="#f0a8bc"/><rect x="477.60" y="73.13" width="3.11" height="3.06" fill="#aaa4e4"/><rect x="480.65" y="73.13" width="3.11" height="3.06" fill="#c92236"/><rect x="483.70" y="73.13" width="3.11" height="3.06" fill="#34268c"/><rect x="486.75" y="73.13" width="3.11" height="3.06" fill="#c92236"/><rect x="453.20" y="76.14" width="3.11" height="3.06" fill="#c92236"/><rect x="456.25" y="76.14" width="3.11" height="3.06" fill="#5c48ac"/><rect x="459.30" y="76.14" width="3.11" height="3.06" fill="#e6e0f6"/><rect x="462.35" y="76.14" width="3.11" height="3.06" fill="#e6e0f6"/><rect x="465.40" y="76.14" width="3.11" height="3.06" fill="#c92236"/><rect x="468.45" y="76.14" width="3.11" height="3.06" fill="#34268c"/><rect x="471.50" y="76.14" width="3.11" height="3.06" fill="#34268c"/><rect x="474.55" y="76.14" width="3.11" height="3.06" fill="#c92236"/><rect x="477.60" y="76.14" width="3.11" height="3.06" fill="#e6e0f6"/><rect x="480.65" y="76.14" width="3.11" height="3.06" fill="#c92236"/><rect x="483.70" y="76.14" width="3.11" height="3.06" fill="#34268c"/><rect x="486.75" y="76.14" width="3.11" height="3.06" fill="#34268c"/><rect x="453.20" y="79.14" width="3.11" height="3.06" fill="#c92236"/><rect x="456.25" y="79.14" width="3.11" height="3.06" fill="#34268c"/><rect x="459.30" y="79.14" width="3.11" height="3.06" fill="#e6e0f6"/><rect x="462.35" y="79.14" width="3.11" height="3.06" fill="#de5868"/><rect x="465.40" y="79.14" width="3.11" height="3.06" fill="#e6e0f6"/><rect x="468.45" y="79.14" width="3.11" height="3.06" fill="#c92236"/><rect x="471.50" y="79.14" width="3.11" height="3.06" fill="#de5868"/><rect x="474.55" y="79.14" width="3.11" height="3.06" fill="#34268c"/><rect x="477.60" y="79.14" width="3.11" height="3.06" fill="#34268c"/><rect x="480.65" y="79.14" width="3.11" height="3.06" fill="#c92236"/><rect x="483.70" y="79.14" width="3.11" height="3.06" fill="#f0a8bc"/><rect x="486.75" y="79.14" width="3.11" height="3.06" fill="#5c48ac"/><rect x="453.20" y="82.14" width="3.11" height="3.06" fill="#c92236"/><rect x="456.25" y="82.14" width="3.11" height="3.06" fill="#c92236"/><rect x="459.30" y="82.14" width="3.11" height="3.06" fill="#34268c"/><rect x="462.35" y="82.14" width="3.11" height="3.06" fill="#e6e0f6"/><rect x="465.40" y="82.14" width="3.11" height="3.06" fill="#34268c"/><rect x="468.45" y="82.14" width="3.11" height="3.06" fill="#5c48ac"/><rect x="471.50" y="82.14" width="3.11" height="3.06" fill="#34268c"/><rect x="474.55" y="82.14" width="3.11" height="3.06" fill="#f0a8bc"/><rect x="477.60" y="82.14" width="3.11" height="3.06" fill="#e6e0f6"/><rect x="480.65" y="82.14" width="3.11" height="3.06" fill="#34268c"/><rect x="483.70" y="82.14" width="3.11" height="3.06" fill="#34268c"/><rect x="486.75" y="82.14" width="3.11" height="3.06" fill="#c92236"/><rect x="453.20" y="85.15" width="3.11" height="3.06" fill="#c92236"/><rect x="456.25" y="85.15" width="3.11" height="3.06" fill="#34268c"/><rect x="459.30" y="85.15" width="3.11" height="3.06" fill="#34268c"/><rect x="462.35" y="85.15" width="3.11" height="3.06" fill="#c92236"/><rect x="465.40" y="85.15" width="3.11" height="3.06" fill="#e6e0f6"/><rect x="468.45" y="85.15" width="3.11" height="3.06" fill="#5c48ac"/><rect x="471.50" y="85.15" width="3.11" height="3.06" fill="#34268c"/><rect x="474.55" y="85.15" width="3.11" height="3.06" fill="#34268c"/><rect x="477.60" y="85.15" width="3.11" height="3.06" fill="#c92236"/><rect x="480.65" y="85.15" width="3.11" height="3.06" fill="#34268c"/><rect x="483.70" y="85.15" width="3.11" height="3.06" fill="#34268c"/><rect x="486.75" y="85.15" width="3.11" height="3.06" fill="#c92236"/><rect x="453.20" y="88.15" width="3.11" height="3.06" fill="#c92236"/><rect x="456.25" y="88.15" width="3.11" height="3.06" fill="#34268c"/><rect x="459.30" y="88.15" width="3.11" height="3.06" fill="#de5868"/><rect x="462.35" y="88.15" width="3.11" height="3.06" fill="#5c48ac"/><rect x="465.40" y="88.15" width="3.11" height="3.06" fill="#34268c"/><rect x="468.45" y="88.15" width="3.11" height="3.06" fill="#e6e0f6"/><rect x="471.50" y="88.15" width="3.11" height="3.06" fill="#34268c"/><rect x="474.55" y="88.15" width="3.11" height="3.06" fill="#f0a8bc"/><rect x="477.60" y="88.15" width="3.11" height="3.06" fill="#5c48ac"/><rect x="480.65" y="88.15" width="3.11" height="3.06" fill="#e6e0f6"/><rect x="483.70" y="88.15" width="3.11" height="3.06" fill="#e6e0f6"/><rect x="486.75" y="88.15" width="3.11" height="3.06" fill="#e6e0f6"/><rect x="453.20" y="91.16" width="3.11" height="3.06" fill="#c92236"/><rect x="456.25" y="91.16" width="3.11" height="3.06" fill="#de5868"/><rect x="459.30" y="91.16" width="3.11" height="3.06" fill="#5c48ac"/><rect x="462.35" y="91.16" width="3.11" height="3.06" fill="#aaa4e4"/><rect x="465.40" y="91.16" width="3.11" height="3.06" fill="#de5868"/><rect x="468.45" y="91.16" width="3.11" height="3.06" fill="#34268c"/><rect x="471.50" y="91.16" width="3.11" height="3.06" fill="#c92236"/><rect x="474.55" y="91.16" width="3.11" height="3.06" fill="#c92236"/><rect x="477.60" y="91.16" width="3.11" height="3.06" fill="#c92236"/><rect x="480.65" y="91.16" width="3.11" height="3.06" fill="#aaa4e4"/><rect x="483.70" y="91.16" width="3.11" height="3.06" fill="#aaa4e4"/><rect x="486.75" y="91.16" width="3.11" height="3.06" fill="#34268c"/><rect x="453.20" y="94.16" width="3.11" height="3.06" fill="#de5868"/><rect x="456.25" y="94.16" width="3.11" height="3.06" fill="#34268c"/><rect x="459.30" y="94.16" width="3.11" height="3.06" fill="#e6e0f6"/><rect x="462.35" y="94.16" width="3.11" height="3.06" fill="#e6e0f6"/><rect x="465.40" y="94.16" width="3.11" height="3.06" fill="#c92236"/><rect x="468.45" y="94.16" width="3.11" height="3.06" fill="#34268c"/><rect x="471.50" y="94.16" width="3.11" height="3.06" fill="#c92236"/><rect x="474.55" y="94.16" width="3.11" height="3.06" fill="#e6e0f6"/><rect x="477.60" y="94.16" width="3.11" height="3.06" fill="#c92236"/><rect x="480.65" y="94.16" width="3.11" height="3.06" fill="#c92236"/><rect x="483.70" y="94.16" width="3.11" height="3.06" fill="#34268c"/><rect x="486.75" y="94.16" width="3.11" height="3.06" fill="#de5868"/><rect x="453.20" y="97.17" width="3.11" height="3.06" fill="#c92236"/><rect x="456.25" y="97.17" width="3.11" height="3.06" fill="#5c48ac"/><rect x="459.30" y="97.17" width="3.11" height="3.06" fill="#c92236"/><rect x="462.35" y="97.17" width="3.11" height="3.06" fill="#c92236"/><rect x="465.40" y="97.17" width="3.11" height="3.06" fill="#c92236"/><rect x="468.45" y="97.17" width="3.11" height="3.06" fill="#5c48ac"/><rect x="471.50" y="97.17" width="3.11" height="3.06" fill="#34268c"/><rect x="474.55" y="97.17" width="3.11" height="3.06" fill="#c92236"/><rect x="477.60" y="97.17" width="3.11" height="3.06" fill="#e6e0f6"/><rect x="480.65" y="97.17" width="3.11" height="3.06" fill="#c92236"/><rect x="483.70" y="97.17" width="3.11" height="3.06" fill="#5c48ac"/><rect x="486.75" y="97.17" width="3.11" height="3.06" fill="#34268c"/><rect x="453.20" y="100.17" width="3.11" height="3.06" fill="#c92236"/><rect x="456.25" y="100.17" width="3.11" height="3.06" fill="#c92236"/><rect x="459.30" y="100.17" width="3.11" height="3.06" fill="#de5868"/><rect x="462.35" y="100.17" width="3.11" height="3.06" fill="#34268c"/><rect x="465.40" y="100.17" width="3.11" height="3.06" fill="#c92236"/><rect x="468.45" y="100.17" width="3.11" height="3.06" fill="#34268c"/><rect x="471.50" y="100.17" width="3.11" height="3.06" fill="#34268c"/><rect x="474.55" y="100.17" width="3.11" height="3.06" fill="#34268c"/><rect x="477.60" y="100.17" width="3.11" height="3.06" fill="#34268c"/><rect x="480.65" y="100.17" width="3.11" height="3.06" fill="#c92236"/><rect x="483.70" y="100.17" width="3.11" height="3.06" fill="#e6e0f6"/><rect x="486.75" y="100.17" width="3.11" height="3.06" fill="#c92236"/><rect x="453.20" y="103.18" width="3.11" height="3.06" fill="#c92236"/><rect x="456.25" y="103.18" width="3.11" height="3.06" fill="#c92236"/><rect x="459.30" y="103.18" width="3.11" height="3.06" fill="#34268c"/><rect x="462.35" y="103.18" width="3.11" height="3.06" fill="#c92236"/><rect x="465.40" y="103.18" width="3.11" height="3.06" fill="#34268c"/><rect x="468.45" y="103.18" width="3.11" height="3.06" fill="#e6e0f6"/><rect x="471.50" y="103.18" width="3.11" height="3.06" fill="#f0a8bc"/><rect x="474.55" y="103.18" width="3.11" height="3.06" fill="#f0a8bc"/><rect x="477.60" y="103.18" width="3.11" height="3.06" fill="#e6e0f6"/><rect x="480.65" y="103.18" width="3.11" height="3.06" fill="#de5868"/><rect x="483.70" y="103.18" width="3.11" height="3.06" fill="#34268c"/><rect x="486.75" y="103.18" width="3.11" height="3.06" fill="#34268c"/><rect x="453.20" y="106.18" width="3.11" height="3.06" fill="#34268c"/><rect x="456.25" y="106.18" width="3.11" height="3.06" fill="#34268c"/><rect x="459.30" y="106.18" width="3.11" height="3.06" fill="#e6e0f6"/><rect x="462.35" y="106.18" width="3.11" height="3.06" fill="#34268c"/><rect x="465.40" y="106.18" width="3.11" height="3.06" fill="#c92236"/><rect x="468.45" y="106.18" width="3.11" height="3.06" fill="#34268c"/><rect x="471.50" y="106.18" width="3.11" height="3.06" fill="#e6e0f6"/><rect x="474.55" y="106.18" width="3.11" height="3.06" fill="#34268c"/><rect x="477.60" y="106.18" width="3.11" height="3.06" fill="#de5868"/><rect x="480.65" y="106.18" width="3.11" height="3.06" fill="#34268c"/><rect x="483.70" y="106.18" width="3.11" height="3.06" fill="#aaa4e4"/><rect x="486.75" y="106.18" width="3.11" height="3.06" fill="#e6e0f6"/><rect x="453.20" y="109.19" width="3.11" height="3.06" fill="#c92236"/><rect x="456.25" y="109.19" width="3.11" height="3.06" fill="#34268c"/><rect x="459.30" y="109.19" width="3.11" height="3.06" fill="#c92236"/><rect x="462.35" y="109.19" width="3.11" height="3.06" fill="#c92236"/><rect x="465.40" y="109.19" width="3.11" height="3.06" fill="#34268c"/><rect x="468.45" y="109.19" width="3.11" height="3.06" fill="#f0a8bc"/><rect x="471.50" y="109.19" width="3.11" height="3.06" fill="#de5868"/><rect x="474.55" y="109.19" width="3.11" height="3.06" fill="#34268c"/><rect x="477.60" y="109.19" width="3.11" height="3.06" fill="#c92236"/><rect x="480.65" y="109.19" width="3.11" height="3.06" fill="#34268c"/><rect x="483.70" y="109.19" width="3.11" height="3.06" fill="#c92236"/><rect x="486.75" y="109.19" width="3.11" height="3.06" fill="#c92236"/><rect x="453.20" y="112.19" width="3.11" height="3.06" fill="#c92236"/><rect x="456.25" y="112.19" width="3.11" height="3.06" fill="#f0a8bc"/><rect x="459.30" y="112.19" width="3.11" height="3.06" fill="#c92236"/><rect x="462.35" y="112.19" width="3.11" height="3.06" fill="#34268c"/><rect x="465.40" y="112.19" width="3.11" height="3.06" fill="#34268c"/><rect x="468.45" y="112.19" width="3.11" height="3.06" fill="#34268c"/><rect x="471.50" y="112.19" width="3.11" height="3.06" fill="#aaa4e4"/><rect x="474.55" y="112.19" width="3.11" height="3.06" fill="#f0a8bc"/><rect x="477.60" y="112.19" width="3.11" height="3.06" fill="#34268c"/><rect x="480.65" y="112.19" width="3.11" height="3.06" fill="#c92236"/><rect x="483.70" y="112.19" width="3.11" height="3.06" fill="#aaa4e4"/><rect x="486.75" y="112.19" width="3.11" height="3.06" fill="#de5868"/><rect x="453.20" y="115.19" width="3.11" height="3.06" fill="#de5868"/><rect x="456.25" y="115.19" width="3.11" height="3.06" fill="#aaa4e4"/><rect x="459.30" y="115.19" width="3.11" height="3.06" fill="#de5868"/><rect x="462.35" y="115.19" width="3.11" height="3.06" fill="#e6e0f6"/><rect x="465.40" y="115.19" width="3.11" height="3.06" fill="#aaa4e4"/><rect x="468.45" y="115.19" width="3.11" height="3.06" fill="#e6e0f6"/><rect x="471.50" y="115.19" width="3.11" height="3.06" fill="#c92236"/><rect x="474.55" y="115.19" width="3.11" height="3.06" fill="#c92236"/><rect x="477.60" y="115.19" width="3.11" height="3.06" fill="#34268c"/><rect x="480.65" y="115.19" width="3.11" height="3.06" fill="#e6e0f6"/><rect x="483.70" y="115.19" width="3.11" height="3.06" fill="#5c48ac"/><rect x="486.75" y="115.19" width="3.11" height="3.06" fill="#34268c"/><rect x="453.20" y="118.20" width="3.11" height="3.06" fill="#c92236"/><rect x="456.25" y="118.20" width="3.11" height="3.06" fill="#c92236"/><rect x="459.30" y="118.20" width="3.11" height="3.06" fill="#5c48ac"/><rect x="462.35" y="118.20" width="3.11" height="3.06" fill="#e6e0f6"/><rect x="465.40" y="118.20" width="3.11" height="3.06" fill="#5c48ac"/><rect x="468.45" y="118.20" width="3.11" height="3.06" fill="#c92236"/><rect x="471.50" y="118.20" width="3.11" height="3.06" fill="#34268c"/><rect x="474.55" y="118.20" width="3.11" height="3.06" fill="#34268c"/><rect x="477.60" y="118.20" width="3.11" height="3.06" fill="#34268c"/><rect x="480.65" y="118.20" width="3.11" height="3.06" fill="#34268c"/><rect x="483.70" y="118.20" width="3.11" height="3.06" fill="#c92236"/><rect x="486.75" y="118.20" width="3.11" height="3.06" fill="#5c48ac"/><rect x="453.20" y="121.20" width="3.11" height="3.06" fill="#c92236"/><rect x="456.25" y="121.20" width="3.11" height="3.06" fill="#e6e0f6"/><rect x="459.30" y="121.20" width="3.11" height="3.06" fill="#34268c"/><rect x="462.35" y="121.20" width="3.11" height="3.06" fill="#aaa4e4"/><rect x="465.40" y="121.20" width="3.11" height="3.06" fill="#5c48ac"/><rect x="468.45" y="121.20" width="3.11" height="3.06" fill="#c92236"/><rect x="471.50" y="121.20" width="3.11" height="3.06" fill="#c92236"/><rect x="474.55" y="121.20" width="3.11" height="3.06" fill="#34268c"/><rect x="477.60" y="121.20" width="3.11" height="3.06" fill="#c92236"/><rect x="480.65" y="121.20" width="3.11" height="3.06" fill="#c92236"/><rect x="483.70" y="121.20" width="3.11" height="3.06" fill="#34268c"/><rect x="486.75" y="121.20" width="3.11" height="3.06" fill="#c92236"/><rect x="453.20" y="124.21" width="3.11" height="3.06" fill="#c92236"/><rect x="456.25" y="124.21" width="3.11" height="3.06" fill="#34268c"/><rect x="459.30" y="124.21" width="3.11" height="3.06" fill="#34268c"/><rect x="462.35" y="124.21" width="3.11" height="3.06" fill="#34268c"/><rect x="465.40" y="124.21" width="3.11" height="3.06" fill="#34268c"/><rect x="468.45" y="124.21" width="3.11" height="3.06" fill="#e6e0f6"/><rect x="471.50" y="124.21" width="3.11" height="3.06" fill="#c92236"/><rect x="474.55" y="124.21" width="3.11" height="3.06" fill="#5c48ac"/><rect x="477.60" y="124.21" width="3.11" height="3.06" fill="#de5868"/><rect x="480.65" y="124.21" width="3.11" height="3.06" fill="#c92236"/><rect x="483.70" y="124.21" width="3.11" height="3.06" fill="#34268c"/><rect x="486.75" y="124.21" width="3.11" height="3.06" fill="#5c48ac"/><rect x="453.20" y="127.21" width="3.11" height="3.06" fill="#de5868"/><rect x="456.25" y="127.21" width="3.11" height="3.06" fill="#5c48ac"/><rect x="459.30" y="127.21" width="3.11" height="3.06" fill="#c92236"/><rect x="462.35" y="127.21" width="3.11" height="3.06" fill="#e6e0f6"/><rect x="465.40" y="127.21" width="3.11" height="3.06" fill="#34268c"/><rect x="468.45" y="127.21" width="3.11" height="3.06" fill="#c92236"/><rect x="471.50" y="127.21" width="3.11" height="3.06" fill="#c92236"/><rect x="474.55" y="127.21" width="3.11" height="3.06" fill="#c92236"/><rect x="477.60" y="127.21" width="3.11" height="3.06" fill="#c92236"/><rect x="480.65" y="127.21" width="3.11" height="3.06" fill="#aaa4e4"/><rect x="483.70" y="127.21" width="3.11" height="3.06" fill="#5c48ac"/><rect x="486.75" y="127.21" width="3.11" height="3.06" fill="#e6e0f6"/><rect x="453.20" y="130.22" width="3.11" height="3.06" fill="#c92236"/><rect x="456.25" y="130.22" width="3.11" height="3.06" fill="#de5868"/><rect x="459.30" y="130.22" width="3.11" height="3.06" fill="#e6e0f6"/><rect x="462.35" y="130.22" width="3.11" height="3.06" fill="#34268c"/><rect x="465.40" y="130.22" width="3.11" height="3.06" fill="#c92236"/><rect x="468.45" y="130.22" width="3.11" height="3.06" fill="#e6e0f6"/><rect x="471.50" y="130.22" width="3.11" height="3.06" fill="#34268c"/><rect x="474.55" y="130.22" width="3.11" height="3.06" fill="#5c48ac"/><rect x="477.60" y="130.22" width="3.11" height="3.06" fill="#f0a8bc"/><rect x="480.65" y="130.22" width="3.11" height="3.06" fill="#34268c"/><rect x="483.70" y="130.22" width="3.11" height="3.06" fill="#c92236"/><rect x="486.75" y="130.22" width="3.11" height="3.06" fill="#34268c"/><rect x="453.20" y="133.22" width="3.11" height="3.06" fill="#c92236"/><rect x="456.25" y="133.22" width="3.11" height="3.06" fill="#34268c"/><rect x="459.30" y="133.22" width="3.11" height="3.06" fill="#c92236"/><rect x="462.35" y="133.22" width="3.11" height="3.06" fill="#34268c"/><rect x="465.40" y="133.22" width="3.11" height="3.06" fill="#34268c"/><rect x="468.45" y="133.22" width="3.11" height="3.06" fill="#e6e0f6"/><rect x="471.50" y="133.22" width="3.11" height="3.06" fill="#34268c"/><rect x="474.55" y="133.22" width="3.11" height="3.06" fill="#aaa4e4"/><rect x="477.60" y="133.22" width="3.11" height="3.06" fill="#aaa4e4"/><rect x="480.65" y="133.22" width="3.11" height="3.06" fill="#c92236"/><rect x="483.70" y="133.22" width="3.11" height="3.06" fill="#aaa4e4"/><rect x="486.75" y="133.22" width="3.11" height="3.06" fill="#e6e0f6"/><rect x="453.20" y="136.23" width="3.11" height="3.06" fill="#34268c"/><rect x="456.25" y="136.23" width="3.11" height="3.06" fill="#c92236"/><rect x="459.30" y="136.23" width="3.11" height="3.06" fill="#de5868"/><rect x="462.35" y="136.23" width="3.11" height="3.06" fill="#34268c"/><rect x="465.40" y="136.23" width="3.11" height="3.06" fill="#f0a8bc"/><rect x="468.45" y="136.23" width="3.11" height="3.06" fill="#34268c"/><rect x="471.50" y="136.23" width="3.11" height="3.06" fill="#c92236"/><rect x="474.55" y="136.23" width="3.11" height="3.06" fill="#34268c"/><rect x="477.60" y="136.23" width="3.11" height="3.06" fill="#34268c"/><rect x="480.65" y="136.23" width="3.11" height="3.06" fill="#e6e0f6"/><rect x="483.70" y="136.23" width="3.11" height="3.06" fill="#34268c"/><rect x="486.75" y="136.23" width="3.11" height="3.06" fill="#e6e0f6"/><rect x="453.20" y="139.23" width="3.11" height="3.06" fill="#c92236"/><rect x="456.25" y="139.23" width="3.11" height="3.06" fill="#34268c"/><rect x="459.30" y="139.23" width="3.11" height="3.06" fill="#34268c"/><rect x="462.35" y="139.23" width="3.11" height="3.06" fill="#e6e0f6"/><rect x="465.40" y="139.23" width="3.11" height="3.06" fill="#de5868"/><rect x="468.45" y="139.23" width="3.11" height="3.06" fill="#de5868"/><rect x="471.50" y="139.23" width="3.11" height="3.06" fill="#aaa4e4"/><rect x="474.55" y="139.23" width="3.11" height="3.06" fill="#34268c"/><rect x="477.60" y="139.23" width="3.11" height="3.06" fill="#5c48ac"/><rect x="480.65" y="139.23" width="3.11" height="3.06" fill="#34268c"/><rect x="483.70" y="139.23" width="3.11" height="3.06" fill="#34268c"/><rect x="486.75" y="139.23" width="3.11" height="3.06" fill="#34268c"/><rect x="453.20" y="142.23" width="3.11" height="3.06" fill="#c92236"/><rect x="456.25" y="142.23" width="3.11" height="3.06" fill="#c92236"/><rect x="459.30" y="142.23" width="3.11" height="3.06" fill="#c92236"/><rect x="462.35" y="142.23" width="3.11" height="3.06" fill="#c92236"/><rect x="465.40" y="142.23" width="3.11" height="3.06" fill="#aaa4e4"/><rect x="468.45" y="142.23" width="3.11" height="3.06" fill="#34268c"/><rect x="471.50" y="142.23" width="3.11" height="3.06" fill="#c92236"/><rect x="474.55" y="142.23" width="3.11" height="3.06" fill="#c92236"/><rect x="477.60" y="142.23" width="3.11" height="3.06" fill="#5c48ac"/><rect x="480.65" y="142.23" width="3.11" height="3.06" fill="#aaa4e4"/><rect x="483.70" y="142.23" width="3.11" height="3.06" fill="#c92236"/><rect x="486.75" y="142.23" width="3.11" height="3.06" fill="#34268c"/><rect x="453.20" y="145.24" width="3.11" height="3.06" fill="#c92236"/><rect x="456.25" y="145.24" width="3.11" height="3.06" fill="#de5868"/><rect x="459.30" y="145.24" width="3.11" height="3.06" fill="#e6e0f6"/><rect x="462.35" y="145.24" width="3.11" height="3.06" fill="#e6e0f6"/><rect x="465.40" y="145.24" width="3.11" height="3.06" fill="#34268c"/><rect x="468.45" y="145.24" width="3.11" height="3.06" fill="#aaa4e4"/><rect x="471.50" y="145.24" width="3.11" height="3.06" fill="#aaa4e4"/><rect x="474.55" y="145.24" width="3.11" height="3.06" fill="#34268c"/><rect x="477.60" y="145.24" width="3.11" height="3.06" fill="#e6e0f6"/><rect x="480.65" y="145.24" width="3.11" height="3.06" fill="#c92236"/><rect x="483.70" y="145.24" width="3.11" height="3.06" fill="#e6e0f6"/><rect x="486.75" y="145.24" width="3.11" height="3.06" fill="#34268c"/><rect x="453.20" y="148.24" width="3.11" height="3.06" fill="#de5868"/><rect x="456.25" y="148.24" width="3.11" height="3.06" fill="#f0a8bc"/><rect x="459.30" y="148.24" width="3.11" height="3.06" fill="#f0a8bc"/><rect x="462.35" y="148.24" width="3.11" height="3.06" fill="#5c48ac"/><rect x="465.40" y="148.24" width="3.11" height="3.06" fill="#c92236"/><rect x="468.45" y="148.24" width="3.11" height="3.06" fill="#aaa4e4"/><rect x="471.50" y="148.24" width="3.11" height="3.06" fill="#c92236"/><rect x="474.55" y="148.24" width="3.11" height="3.06" fill="#e6e0f6"/><rect x="477.60" y="148.24" width="3.11" height="3.06" fill="#34268c"/><rect x="480.65" y="148.24" width="3.11" height="3.06" fill="#34268c"/><rect x="483.70" y="148.24" width="3.11" height="3.06" fill="#34268c"/><rect x="486.75" y="148.24" width="3.11" height="3.06" fill="#34268c"/><rect x="453.20" y="151.25" width="3.11" height="3.06" fill="#c92236"/><rect x="456.25" y="151.25" width="3.11" height="3.06" fill="#e6e0f6"/><rect x="459.30" y="151.25" width="3.11" height="3.06" fill="#34268c"/><rect x="462.35" y="151.25" width="3.11" height="3.06" fill="#c92236"/><rect x="465.40" y="151.25" width="3.11" height="3.06" fill="#de5868"/><rect x="468.45" y="151.25" width="3.11" height="3.06" fill="#34268c"/><rect x="471.50" y="151.25" width="3.11" height="3.06" fill="#34268c"/><rect x="474.55" y="151.25" width="3.11" height="3.06" fill="#e6e0f6"/><rect x="477.60" y="151.25" width="3.11" height="3.06" fill="#34268c"/><rect x="480.65" y="151.25" width="3.11" height="3.06" fill="#34268c"/><rect x="483.70" y="151.25" width="3.11" height="3.06" fill="#aaa4e4"/><rect x="486.75" y="151.25" width="3.11" height="3.06" fill="#c92236"/><rect x="453.20" y="154.25" width="3.11" height="3.06" fill="#de5868"/><rect x="456.25" y="154.25" width="3.11" height="3.06" fill="#34268c"/><rect x="459.30" y="154.25" width="3.11" height="3.06" fill="#de5868"/><rect x="462.35" y="154.25" width="3.11" height="3.06" fill="#c92236"/><rect x="465.40" y="154.25" width="3.11" height="3.06" fill="#c92236"/><rect x="468.45" y="154.25" width="3.11" height="3.06" fill="#34268c"/><rect x="471.50" y="154.25" width="3.11" height="3.06" fill="#aaa4e4"/><rect x="474.55" y="154.25" width="3.11" height="3.06" fill="#c92236"/><rect x="477.60" y="154.25" width="3.11" height="3.06" fill="#34268c"/><rect x="480.65" y="154.25" width="3.11" height="3.06" fill="#e6e0f6"/><rect x="483.70" y="154.25" width="3.11" height="3.06" fill="#34268c"/><rect x="486.75" y="154.25" width="3.11" height="3.06" fill="#34268c"/><rect x="453.20" y="157.26" width="3.11" height="3.06" fill="#de5868"/><rect x="456.25" y="157.26" width="3.11" height="3.06" fill="#c92236"/><rect x="459.30" y="157.26" width="3.11" height="3.06" fill="#34268c"/><rect x="462.35" y="157.26" width="3.11" height="3.06" fill="#34268c"/><rect x="465.40" y="157.26" width="3.11" height="3.06" fill="#c92236"/><rect x="468.45" y="157.26" width="3.11" height="3.06" fill="#5c48ac"/><rect x="471.50" y="157.26" width="3.11" height="3.06" fill="#c92236"/><rect x="474.55" y="157.26" width="3.11" height="3.06" fill="#aaa4e4"/><rect x="477.60" y="157.26" width="3.11" height="3.06" fill="#f0a8bc"/><rect x="480.65" y="157.26" width="3.11" height="3.06" fill="#f0a8bc"/><rect x="483.70" y="157.26" width="3.11" height="3.06" fill="#34268c"/><rect x="486.75" y="157.26" width="3.11" height="3.06" fill="#34268c"/><rect x="453.20" y="160.26" width="3.11" height="3.06" fill="#c92236"/><rect x="456.25" y="160.26" width="3.11" height="3.06" fill="#5c48ac"/><rect x="459.30" y="160.26" width="3.11" height="3.06" fill="#f0a8bc"/><rect x="462.35" y="160.26" width="3.11" height="3.06" fill="#aaa4e4"/><rect x="465.40" y="160.26" width="3.11" height="3.06" fill="#de5868"/><rect x="468.45" y="160.26" width="3.11" height="3.06" fill="#f0a8bc"/><rect x="471.50" y="160.26" width="3.11" height="3.06" fill="#c92236"/><rect x="474.55" y="160.26" width="3.11" height="3.06" fill="#34268c"/><rect x="477.60" y="160.26" width="3.11" height="3.06" fill="#34268c"/><rect x="480.65" y="160.26" width="3.11" height="3.06" fill="#34268c"/><rect x="483.70" y="160.26" width="3.11" height="3.06" fill="#c92236"/><rect x="486.75" y="160.26" width="3.11" height="3.06" fill="#34268c"/><rect x="453.20" y="163.27" width="3.11" height="3.06" fill="#c92236"/><rect x="456.25" y="163.27" width="3.11" height="3.06" fill="#34268c"/><rect x="459.30" y="163.27" width="3.11" height="3.06" fill="#5c48ac"/><rect x="462.35" y="163.27" width="3.11" height="3.06" fill="#e6e0f6"/><rect x="465.40" y="163.27" width="3.11" height="3.06" fill="#34268c"/><rect x="468.45" y="163.27" width="3.11" height="3.06" fill="#34268c"/><rect x="471.50" y="163.27" width="3.11" height="3.06" fill="#c92236"/><rect x="474.55" y="163.27" width="3.11" height="3.06" fill="#5c48ac"/><rect x="477.60" y="163.27" width="3.11" height="3.06" fill="#34268c"/><rect x="480.65" y="163.27" width="3.11" height="3.06" fill="#34268c"/><rect x="483.70" y="163.27" width="3.11" height="3.06" fill="#c92236"/><rect x="486.75" y="163.27" width="3.11" height="3.06" fill="#34268c"/><rect x="453.20" y="166.27" width="3.11" height="3.06" fill="#c92236"/><rect x="456.25" y="166.27" width="3.11" height="3.06" fill="#34268c"/><rect x="459.30" y="166.27" width="3.11" height="3.06" fill="#e6e0f6"/><rect x="462.35" y="166.27" width="3.11" height="3.06" fill="#5c48ac"/><rect x="465.40" y="166.27" width="3.11" height="3.06" fill="#e6e0f6"/><rect x="468.45" y="166.27" width="3.11" height="3.06" fill="#f0a8bc"/><rect x="471.50" y="166.27" width="3.11" height="3.06" fill="#c92236"/><rect x="474.55" y="166.27" width="3.11" height="3.06" fill="#34268c"/><rect x="477.60" y="166.27" width="3.11" height="3.06" fill="#e6e0f6"/><rect x="480.65" y="166.27" width="3.11" height="3.06" fill="#34268c"/><rect x="483.70" y="166.27" width="3.11" height="3.06" fill="#c92236"/><rect x="486.75" y="166.27" width="3.11" height="3.06" fill="#34268c"/><rect x="453.20" y="169.28" width="3.11" height="3.06" fill="#c92236"/><rect x="456.25" y="169.28" width="3.11" height="3.06" fill="#34268c"/><rect x="459.30" y="169.28" width="3.11" height="3.06" fill="#de5868"/><rect x="462.35" y="169.28" width="3.11" height="3.06" fill="#c92236"/><rect x="465.40" y="169.28" width="3.11" height="3.06" fill="#aaa4e4"/><rect x="468.45" y="169.28" width="3.11" height="3.06" fill="#34268c"/><rect x="471.50" y="169.28" width="3.11" height="3.06" fill="#34268c"/><rect x="474.55" y="169.28" width="3.11" height="3.06" fill="#34268c"/><rect x="477.60" y="169.28" width="3.11" height="3.06" fill="#5c48ac"/><rect x="480.65" y="169.28" width="3.11" height="3.06" fill="#e6e0f6"/><rect x="483.70" y="169.28" width="3.11" height="3.06" fill="#34268c"/><rect x="486.75" y="169.28" width="3.11" height="3.06" fill="#34268c"/><rect x="453.20" y="172.28" width="3.11" height="3.06" fill="#c92236"/><rect x="456.25" y="172.28" width="3.11" height="3.06" fill="#34268c"/><rect x="459.30" y="172.28" width="3.11" height="3.06" fill="#aaa4e4"/><rect x="462.35" y="172.28" width="3.11" height="3.06" fill="#c92236"/><rect x="465.40" y="172.28" width="3.11" height="3.06" fill="#aaa4e4"/><rect x="468.45" y="172.28" width="3.11" height="3.06" fill="#c92236"/><rect x="471.50" y="172.28" width="3.11" height="3.06" fill="#c92236"/><rect x="474.55" y="172.28" width="3.11" height="3.06" fill="#e6e0f6"/><rect x="477.60" y="172.28" width="3.11" height="3.06" fill="#c92236"/><rect x="480.65" y="172.28" width="3.11" height="3.06" fill="#f0a8bc"/><rect x="483.70" y="172.28" width="3.11" height="3.06" fill="#5c48ac"/><rect x="486.75" y="172.28" width="3.11" height="3.06" fill="#34268c"/><rect x="453.20" y="175.28" width="3.11" height="3.06" fill="#c92236"/><rect x="456.25" y="175.28" width="3.11" height="3.06" fill="#c92236"/><rect x="459.30" y="175.28" width="3.11" height="3.06" fill="#34268c"/><rect x="462.35" y="175.28" width="3.11" height="3.06" fill="#34268c"/><rect x="465.40" y="175.28" width="3.11" height="3.06" fill="#34268c"/><rect x="468.45" y="175.28" width="3.11" height="3.06" fill="#34268c"/><rect x="471.50" y="175.28" width="3.11" height="3.06" fill="#c92236"/><rect x="474.55" y="175.28" width="3.11" height="3.06" fill="#c92236"/><rect x="477.60" y="175.28" width="3.11" height="3.06" fill="#de5868"/><rect x="480.65" y="175.28" width="3.11" height="3.06" fill="#aaa4e4"/><rect x="483.70" y="175.28" width="3.11" height="3.06" fill="#34268c"/><rect x="486.75" y="175.28" width="3.11" height="3.06" fill="#34268c"/><rect x="453.20" y="178.29" width="3.11" height="3.06" fill="#f0a8bc"/><rect x="456.25" y="178.29" width="3.11" height="3.06" fill="#c92236"/><rect x="459.30" y="178.29" width="3.11" height="3.06" fill="#34268c"/><rect x="462.35" y="178.29" width="3.11" height="3.06" fill="#34268c"/><rect x="465.40" y="178.29" width="3.11" height="3.06" fill="#34268c"/><rect x="468.45" y="178.29" width="3.11" height="3.06" fill="#5c48ac"/><rect x="471.50" y="178.29" width="3.11" height="3.06" fill="#34268c"/><rect x="474.55" y="178.29" width="3.11" height="3.06" fill="#e6e0f6"/><rect x="477.60" y="178.29" width="3.11" height="3.06" fill="#c92236"/><rect x="480.65" y="178.29" width="3.11" height="3.06" fill="#34268c"/><rect x="483.70" y="178.29" width="3.11" height="3.06" fill="#c92236"/><rect x="486.75" y="178.29" width="3.11" height="3.06" fill="#34268c"/><rect x="453.20" y="181.29" width="3.11" height="3.06" fill="#c92236"/><rect x="456.25" y="181.29" width="3.11" height="3.06" fill="#c92236"/><rect x="459.30" y="181.29" width="3.11" height="3.06" fill="#c92236"/><rect x="462.35" y="181.29" width="3.11" height="3.06" fill="#e6e0f6"/><rect x="465.40" y="181.29" width="3.11" height="3.06" fill="#e6e0f6"/><rect x="468.45" y="181.29" width="3.11" height="3.06" fill="#5c48ac"/><rect x="471.50" y="181.29" width="3.11" height="3.06" fill="#c92236"/><rect x="474.55" y="181.29" width="3.11" height="3.06" fill="#e6e0f6"/><rect x="477.60" y="181.29" width="3.11" height="3.06" fill="#aaa4e4"/><rect x="480.65" y="181.29" width="3.11" height="3.06" fill="#c92236"/><rect x="483.70" y="181.29" width="3.11" height="3.06" fill="#f0a8bc"/><rect x="486.75" y="181.29" width="3.11" height="3.06" fill="#34268c"/><rect x="453.20" y="184.30" width="3.11" height="3.06" fill="#c92236"/><rect x="456.25" y="184.30" width="3.11" height="3.06" fill="#de5868"/><rect x="459.30" y="184.30" width="3.11" height="3.06" fill="#c92236"/><rect x="462.35" y="184.30" width="3.11" height="3.06" fill="#de5868"/><rect x="465.40" y="184.30" width="3.11" height="3.06" fill="#34268c"/><rect x="468.45" y="184.30" width="3.11" height="3.06" fill="#de5868"/><rect x="471.50" y="184.30" width="3.11" height="3.06" fill="#c92236"/><rect x="474.55" y="184.30" width="3.11" height="3.06" fill="#34268c"/><rect x="477.60" y="184.30" width="3.11" height="3.06" fill="#34268c"/><rect x="480.65" y="184.30" width="3.11" height="3.06" fill="#c92236"/><rect x="483.70" y="184.30" width="3.11" height="3.06" fill="#34268c"/><rect x="486.75" y="184.30" width="3.11" height="3.06" fill="#e6e0f6"/><rect x="453.20" y="187.30" width="3.11" height="3.06" fill="#c92236"/><rect x="456.25" y="187.30" width="3.11" height="3.06" fill="#34268c"/><rect x="459.30" y="187.30" width="3.11" height="3.06" fill="#34268c"/><rect x="462.35" y="187.30" width="3.11" height="3.06" fill="#de5868"/><rect x="465.40" y="187.30" width="3.11" height="3.06" fill="#e6e0f6"/><rect x="468.45" y="187.30" width="3.11" height="3.06" fill="#c92236"/><rect x="471.50" y="187.30" width="3.11" height="3.06" fill="#34268c"/><rect x="474.55" y="187.30" width="3.11" height="3.06" fill="#c92236"/><rect x="477.60" y="187.30" width="3.11" height="3.06" fill="#34268c"/><rect x="480.65" y="187.30" width="3.11" height="3.06" fill="#34268c"/><rect x="483.70" y="187.30" width="3.11" height="3.06" fill="#5c48ac"/><rect x="486.75" y="187.30" width="3.11" height="3.06" fill="#34268c"/><rect x="453.20" y="190.31" width="3.11" height="3.06" fill="#c92236"/><rect x="456.25" y="190.31" width="3.11" height="3.06" fill="#34268c"/><rect x="459.30" y="190.31" width="3.11" height="3.06" fill="#aaa4e4"/><rect x="462.35" y="190.31" width="3.11" height="3.06" fill="#34268c"/><rect x="465.40" y="190.31" width="3.11" height="3.06" fill="#34268c"/><rect x="468.45" y="190.31" width="3.11" height="3.06" fill="#de5868"/><rect x="471.50" y="190.31" width="3.11" height="3.06" fill="#c92236"/><rect x="474.55" y="190.31" width="3.11" height="3.06" fill="#5c48ac"/><rect x="477.60" y="190.31" width="3.11" height="3.06" fill="#34268c"/><rect x="480.65" y="190.31" width="3.11" height="3.06" fill="#de5868"/><rect x="483.70" y="190.31" width="3.11" height="3.06" fill="#34268c"/><rect x="486.75" y="190.31" width="3.11" height="3.06" fill="#34268c"/><rect x="453.20" y="193.31" width="3.11" height="3.06" fill="#c92236"/><rect x="456.25" y="193.31" width="3.11" height="3.06" fill="#f0a8bc"/><rect x="459.30" y="193.31" width="3.11" height="3.06" fill="#34268c"/><rect x="462.35" y="193.31" width="3.11" height="3.06" fill="#34268c"/><rect x="465.40" y="193.31" width="3.11" height="3.06" fill="#34268c"/><rect x="468.45" y="193.31" width="3.11" height="3.06" fill="#e6e0f6"/><rect x="471.50" y="193.31" width="3.11" height="3.06" fill="#de5868"/><rect x="474.55" y="193.31" width="3.11" height="3.06" fill="#e6e0f6"/><rect x="477.60" y="193.31" width="3.11" height="3.06" fill="#e6e0f6"/><rect x="480.65" y="193.31" width="3.11" height="3.06" fill="#c92236"/><rect x="483.70" y="193.31" width="3.11" height="3.06" fill="#34268c"/><rect x="486.75" y="193.31" width="3.11" height="3.06" fill="#e6e0f6"/><rect x="453.20" y="196.32" width="3.11" height="3.06" fill="#c92236"/><rect x="456.25" y="196.32" width="3.11" height="3.06" fill="#34268c"/><rect x="459.30" y="196.32" width="3.11" height="3.06" fill="#aaa4e4"/><rect x="462.35" y="196.32" width="3.11" height="3.06" fill="#e6e0f6"/><rect x="465.40" y="196.32" width="3.11" height="3.06" fill="#c92236"/><rect x="468.45" y="196.32" width="3.11" height="3.06" fill="#34268c"/><rect x="471.50" y="196.32" width="3.11" height="3.06" fill="#e6e0f6"/><rect x="474.55" y="196.32" width="3.11" height="3.06" fill="#e6e0f6"/><rect x="477.60" y="196.32" width="3.11" height="3.06" fill="#5c48ac"/><rect x="480.65" y="196.32" width="3.11" height="3.06" fill="#c92236"/><rect x="483.70" y="196.32" width="3.11" height="3.06" fill="#34268c"/><rect x="486.75" y="196.32" width="3.11" height="3.06" fill="#34268c"/><rect x="453.20" y="199.32" width="3.11" height="3.06" fill="#c92236"/><rect x="456.25" y="199.32" width="3.11" height="3.06" fill="#34268c"/><rect x="459.30" y="199.32" width="3.11" height="3.06" fill="#aaa4e4"/><rect x="462.35" y="199.32" width="3.11" height="3.06" fill="#34268c"/><rect x="465.40" y="199.32" width="3.11" height="3.06" fill="#34268c"/><rect x="468.45" y="199.32" width="3.11" height="3.06" fill="#5c48ac"/><rect x="471.50" y="199.32" width="3.11" height="3.06" fill="#c92236"/><rect x="474.55" y="199.32" width="3.11" height="3.06" fill="#aaa4e4"/><rect x="477.60" y="199.32" width="3.11" height="3.06" fill="#de5868"/><rect x="480.65" y="199.32" width="3.11" height="3.06" fill="#34268c"/><rect x="483.70" y="199.32" width="3.11" height="3.06" fill="#e6e0f6"/><rect x="486.75" y="199.32" width="3.11" height="3.06" fill="#e6e0f6"/><rect x="453.20" y="202.32" width="3.11" height="3.06" fill="#de5868"/><rect x="456.25" y="202.32" width="3.11" height="3.06" fill="#c92236"/><rect x="459.30" y="202.32" width="3.11" height="3.06" fill="#e6e0f6"/><rect x="462.35" y="202.32" width="3.11" height="3.06" fill="#5c48ac"/><rect x="465.40" y="202.32" width="3.11" height="3.06" fill="#aaa4e4"/><rect x="468.45" y="202.32" width="3.11" height="3.06" fill="#c92236"/><rect x="471.50" y="202.32" width="3.11" height="3.06" fill="#c92236"/><rect x="474.55" y="202.32" width="3.11" height="3.06" fill="#aaa4e4"/><rect x="477.60" y="202.32" width="3.11" height="3.06" fill="#34268c"/><rect x="480.65" y="202.32" width="3.11" height="3.06" fill="#34268c"/><rect x="483.70" y="202.32" width="3.11" height="3.06" fill="#c92236"/><rect x="486.75" y="202.32" width="3.11" height="3.06" fill="#c92236"/><rect x="453.20" y="205.33" width="3.11" height="3.06" fill="#c92236"/><rect x="456.25" y="205.33" width="3.11" height="3.06" fill="#f0a8bc"/><rect x="459.30" y="205.33" width="3.11" height="3.06" fill="#34268c"/><rect x="462.35" y="205.33" width="3.11" height="3.06" fill="#c92236"/><rect x="465.40" y="205.33" width="3.11" height="3.06" fill="#c92236"/><rect x="468.45" y="205.33" width="3.11" height="3.06" fill="#aaa4e4"/><rect x="471.50" y="205.33" width="3.11" height="3.06" fill="#c92236"/><rect x="474.55" y="205.33" width="3.11" height="3.06" fill="#c92236"/><rect x="477.60" y="205.33" width="3.11" height="3.06" fill="#aaa4e4"/><rect x="480.65" y="205.33" width="3.11" height="3.06" fill="#34268c"/><rect x="483.70" y="205.33" width="3.11" height="3.06" fill="#34268c"/><rect x="486.75" y="205.33" width="3.11" height="3.06" fill="#e6e0f6"/><rect x="453.20" y="208.33" width="3.11" height="3.06" fill="#c92236"/><rect x="456.25" y="208.33" width="3.11" height="3.06" fill="#c92236"/><rect x="459.30" y="208.33" width="3.11" height="3.06" fill="#f0a8bc"/><rect x="462.35" y="208.33" width="3.11" height="3.06" fill="#34268c"/><rect x="465.40" y="208.33" width="3.11" height="3.06" fill="#e6e0f6"/><rect x="468.45" y="208.33" width="3.11" height="3.06" fill="#aaa4e4"/><rect x="471.50" y="208.33" width="3.11" height="3.06" fill="#c92236"/><rect x="474.55" y="208.33" width="3.11" height="3.06" fill="#34268c"/><rect x="477.60" y="208.33" width="3.11" height="3.06" fill="#5c48ac"/><rect x="480.65" y="208.33" width="3.11" height="3.06" fill="#c92236"/><rect x="483.70" y="208.33" width="3.11" height="3.06" fill="#5c48ac"/><rect x="486.75" y="208.33" width="3.11" height="3.06" fill="#c92236"/><rect x="453.20" y="211.34" width="3.11" height="3.06" fill="#de5868"/><rect x="456.25" y="211.34" width="3.11" height="3.06" fill="#34268c"/><rect x="459.30" y="211.34" width="3.11" height="3.06" fill="#34268c"/><rect x="462.35" y="211.34" width="3.11" height="3.06" fill="#34268c"/><rect x="465.40" y="211.34" width="3.11" height="3.06" fill="#34268c"/><rect x="468.45" y="211.34" width="3.11" height="3.06" fill="#5c48ac"/><rect x="471.50" y="211.34" width="3.11" height="3.06" fill="#e6e0f6"/><rect x="474.55" y="211.34" width="3.11" height="3.06" fill="#34268c"/><rect x="477.60" y="211.34" width="3.11" height="3.06" fill="#34268c"/><rect x="480.65" y="211.34" width="3.11" height="3.06" fill="#5c48ac"/><rect x="483.70" y="211.34" width="3.11" height="3.06" fill="#34268c"/><rect x="486.75" y="211.34" width="3.11" height="3.06" fill="#c92236"/><rect x="453.20" y="214.34" width="3.11" height="3.06" fill="#c92236"/><rect x="456.25" y="214.34" width="3.11" height="3.06" fill="#e6e0f6"/><rect x="459.30" y="214.34" width="3.11" height="3.06" fill="#34268c"/><rect x="462.35" y="214.34" width="3.11" height="3.06" fill="#f0a8bc"/><rect x="465.40" y="214.34" width="3.11" height="3.06" fill="#de5868"/><rect x="468.45" y="214.34" width="3.11" height="3.06" fill="#34268c"/><rect x="471.50" y="214.34" width="3.11" height="3.06" fill="#34268c"/><rect x="474.55" y="214.34" width="3.11" height="3.06" fill="#34268c"/><rect x="477.60" y="214.34" width="3.11" height="3.06" fill="#34268c"/><rect x="480.65" y="214.34" width="3.11" height="3.06" fill="#34268c"/><rect x="483.70" y="214.34" width="3.11" height="3.06" fill="#34268c"/><rect x="486.75" y="214.34" width="3.11" height="3.06" fill="#34268c"/><rect x="453.20" y="217.35" width="3.11" height="3.06" fill="#c92236"/><rect x="456.25" y="217.35" width="3.11" height="3.06" fill="#e6e0f6"/><rect x="459.30" y="217.35" width="3.11" height="3.06" fill="#34268c"/><rect x="462.35" y="217.35" width="3.11" height="3.06" fill="#34268c"/><rect x="465.40" y="217.35" width="3.11" height="3.06" fill="#34268c"/><rect x="468.45" y="217.35" width="3.11" height="3.06" fill="#34268c"/><rect x="471.50" y="217.35" width="3.11" height="3.06" fill="#34268c"/><rect x="474.55" y="217.35" width="3.11" height="3.06" fill="#de5868"/><rect x="477.60" y="217.35" width="3.11" height="3.06" fill="#34268c"/><rect x="480.65" y="217.35" width="3.11" height="3.06" fill="#34268c"/><rect x="483.70" y="217.35" width="3.11" height="3.06" fill="#34268c"/><rect x="486.75" y="217.35" width="3.11" height="3.06" fill="#e6e0f6"/><rect x="453.20" y="220.35" width="3.11" height="3.06" fill="#f0a8bc"/><rect x="456.25" y="220.35" width="3.11" height="3.06" fill="#34268c"/><rect x="459.30" y="220.35" width="3.11" height="3.06" fill="#34268c"/><rect x="462.35" y="220.35" width="3.11" height="3.06" fill="#34268c"/><rect x="465.40" y="220.35" width="3.11" height="3.06" fill="#c92236"/><rect x="468.45" y="220.35" width="3.11" height="3.06" fill="#34268c"/><rect x="471.50" y="220.35" width="3.11" height="3.06" fill="#34268c"/><rect x="474.55" y="220.35" width="3.11" height="3.06" fill="#c92236"/><rect x="477.60" y="220.35" width="3.11" height="3.06" fill="#34268c"/><rect x="480.65" y="220.35" width="3.11" height="3.06" fill="#c92236"/><rect x="483.70" y="220.35" width="3.11" height="3.06" fill="#e6e0f6"/><rect x="486.75" y="220.35" width="3.11" height="3.06" fill="#e6e0f6"/><rect x="453.20" y="223.36" width="3.11" height="3.06" fill="#c92236"/><rect x="456.25" y="223.36" width="3.11" height="3.06" fill="#34268c"/><rect x="459.30" y="223.36" width="3.11" height="3.06" fill="#e6e0f6"/><rect x="462.35" y="223.36" width="3.11" height="3.06" fill="#34268c"/><rect x="465.40" y="223.36" width="3.11" height="3.06" fill="#34268c"/><rect x="468.45" y="223.36" width="3.11" height="3.06" fill="#34268c"/><rect x="471.50" y="223.36" width="3.11" height="3.06" fill="#34268c"/><rect x="474.55" y="223.36" width="3.11" height="3.06" fill="#e6e0f6"/><rect x="477.60" y="223.36" width="3.11" height="3.06" fill="#aaa4e4"/><rect x="480.65" y="223.36" width="3.11" height="3.06" fill="#34268c"/><rect x="483.70" y="223.36" width="3.11" height="3.06" fill="#de5868"/><rect x="486.75" y="223.36" width="3.11" height="3.06" fill="#e6e0f6"/><rect x="453.20" y="226.36" width="3.11" height="3.06" fill="#c92236"/><rect x="456.25" y="226.36" width="3.11" height="3.06" fill="#f0a8bc"/><rect x="459.30" y="226.36" width="3.11" height="3.06" fill="#e6e0f6"/><rect x="462.35" y="226.36" width="3.11" height="3.06" fill="#c92236"/><rect x="465.40" y="226.36" width="3.11" height="3.06" fill="#34268c"/><rect x="468.45" y="226.36" width="3.11" height="3.06" fill="#34268c"/><rect x="471.50" y="226.36" width="3.11" height="3.06" fill="#34268c"/><rect x="474.55" y="226.36" width="3.11" height="3.06" fill="#34268c"/><rect x="477.60" y="226.36" width="3.11" height="3.06" fill="#34268c"/><rect x="480.65" y="226.36" width="3.11" height="3.06" fill="#34268c"/><rect x="483.70" y="226.36" width="3.11" height="3.06" fill="#34268c"/><rect x="486.75" y="226.36" width="3.11" height="3.06" fill="#34268c"/><rect x="453.20" y="229.37" width="3.11" height="3.06" fill="#c92236"/><rect x="456.25" y="229.37" width="3.11" height="3.06" fill="#c92236"/><rect x="459.30" y="229.37" width="3.11" height="3.06" fill="#34268c"/><rect x="462.35" y="229.37" width="3.11" height="3.06" fill="#34268c"/><rect x="465.40" y="229.37" width="3.11" height="3.06" fill="#34268c"/><rect x="468.45" y="229.37" width="3.11" height="3.06" fill="#c92236"/><rect x="471.50" y="229.37" width="3.11" height="3.06" fill="#c92236"/><rect x="474.55" y="229.37" width="3.11" height="3.06" fill="#34268c"/><rect x="477.60" y="229.37" width="3.11" height="3.06" fill="#34268c"/><rect x="480.65" y="229.37" width="3.11" height="3.06" fill="#c92236"/><rect x="483.70" y="229.37" width="3.11" height="3.06" fill="#e6e0f6"/><rect x="486.75" y="229.37" width="3.11" height="3.06" fill="#c92236"/><rect x="453.20" y="232.37" width="3.11" height="3.06" fill="#c92236"/><rect x="456.25" y="232.37" width="3.11" height="3.06" fill="#34268c"/><rect x="459.30" y="232.37" width="3.11" height="3.06" fill="#5c48ac"/><rect x="462.35" y="232.37" width="3.11" height="3.06" fill="#e6e0f6"/><rect x="465.40" y="232.37" width="3.11" height="3.06" fill="#34268c"/><rect x="468.45" y="232.37" width="3.11" height="3.06" fill="#34268c"/><rect x="471.50" y="232.37" width="3.11" height="3.06" fill="#f0a8bc"/><rect x="474.55" y="232.37" width="3.11" height="3.06" fill="#de5868"/><rect x="477.60" y="232.37" width="3.11" height="3.06" fill="#34268c"/><rect x="480.65" y="232.37" width="3.11" height="3.06" fill="#34268c"/><rect x="483.70" y="232.37" width="3.11" height="3.06" fill="#5c48ac"/><rect x="486.75" y="232.37" width="3.11" height="3.06" fill="#34268c"/><rect x="453.20" y="235.37" width="3.11" height="3.06" fill="#c92236"/><rect x="456.25" y="235.37" width="3.11" height="3.06" fill="#34268c"/><rect x="459.30" y="235.37" width="3.11" height="3.06" fill="#c92236"/><rect x="462.35" y="235.37" width="3.11" height="3.06" fill="#34268c"/><rect x="465.40" y="235.37" width="3.11" height="3.06" fill="#e6e0f6"/><rect x="468.45" y="235.37" width="3.11" height="3.06" fill="#e6e0f6"/><rect x="471.50" y="235.37" width="3.11" height="3.06" fill="#f0a8bc"/><rect x="474.55" y="235.37" width="3.11" height="3.06" fill="#34268c"/><rect x="477.60" y="235.37" width="3.11" height="3.06" fill="#de5868"/><rect x="480.65" y="235.37" width="3.11" height="3.06" fill="#e6e0f6"/><rect x="483.70" y="235.37" width="3.11" height="3.06" fill="#e6e0f6"/><rect x="486.75" y="235.37" width="3.11" height="3.06" fill="#f0a8bc"/><rect x="453.20" y="238.38" width="3.11" height="3.06" fill="#c92236"/><rect x="456.25" y="238.38" width="3.11" height="3.06" fill="#c92236"/><rect x="459.30" y="238.38" width="3.11" height="3.06" fill="#34268c"/><rect x="462.35" y="238.38" width="3.11" height="3.06" fill="#e6e0f6"/><rect x="465.40" y="238.38" width="3.11" height="3.06" fill="#34268c"/><rect x="468.45" y="238.38" width="3.11" height="3.06" fill="#34268c"/><rect x="471.50" y="238.38" width="3.11" height="3.06" fill="#c92236"/><rect x="474.55" y="238.38" width="3.11" height="3.06" fill="#34268c"/><rect x="477.60" y="238.38" width="3.11" height="3.06" fill="#34268c"/><rect x="480.65" y="238.38" width="3.11" height="3.06" fill="#34268c"/><rect x="483.70" y="238.38" width="3.11" height="3.06" fill="#aaa4e4"/><rect x="486.75" y="238.38" width="3.11" height="3.06" fill="#34268c"/><rect x="453.20" y="241.38" width="3.11" height="3.06" fill="#f0a8bc"/><rect x="456.25" y="241.38" width="3.11" height="3.06" fill="#34268c"/><rect x="459.30" y="241.38" width="3.11" height="3.06" fill="#c92236"/><rect x="462.35" y="241.38" width="3.11" height="3.06" fill="#34268c"/><rect x="465.40" y="241.38" width="3.11" height="3.06" fill="#34268c"/><rect x="468.45" y="241.38" width="3.11" height="3.06" fill="#34268c"/><rect x="471.50" y="241.38" width="3.11" height="3.06" fill="#aaa4e4"/><rect x="474.55" y="241.38" width="3.11" height="3.06" fill="#f0a8bc"/><rect x="477.60" y="241.38" width="3.11" height="3.06" fill="#c92236"/><rect x="480.65" y="241.38" width="3.11" height="3.06" fill="#e6e0f6"/><rect x="483.70" y="241.38" width="3.11" height="3.06" fill="#aaa4e4"/><rect x="486.75" y="241.38" width="3.11" height="3.06" fill="#34268c"/><rect x="453.20" y="244.39" width="3.11" height="3.06" fill="#c92236"/><rect x="456.25" y="244.39" width="3.11" height="3.06" fill="#34268c"/><rect x="459.30" y="244.39" width="3.11" height="3.06" fill="#c92236"/><rect x="462.35" y="244.39" width="3.11" height="3.06" fill="#5c48ac"/><rect x="465.40" y="244.39" width="3.11" height="3.06" fill="#e6e0f6"/><rect x="468.45" y="244.39" width="3.11" height="3.06" fill="#e6e0f6"/><rect x="471.50" y="244.39" width="3.11" height="3.06" fill="#5c48ac"/><rect x="474.55" y="244.39" width="3.11" height="3.06" fill="#34268c"/><rect x="477.60" y="244.39" width="3.11" height="3.06" fill="#34268c"/><rect x="480.65" y="244.39" width="3.11" height="3.06" fill="#34268c"/><rect x="483.70" y="244.39" width="3.11" height="3.06" fill="#5c48ac"/><rect x="486.75" y="244.39" width="3.11" height="3.06" fill="#34268c"/><rect x="453.20" y="247.39" width="3.11" height="3.06" fill="#c92236"/><rect x="456.25" y="247.39" width="3.11" height="3.06" fill="#c92236"/><rect x="459.30" y="247.39" width="3.11" height="3.06" fill="#34268c"/><rect x="462.35" y="247.39" width="3.11" height="3.06" fill="#f0a8bc"/><rect x="465.40" y="247.39" width="3.11" height="3.06" fill="#34268c"/><rect x="468.45" y="247.39" width="3.11" height="3.06" fill="#aaa4e4"/><rect x="471.50" y="247.39" width="3.11" height="3.06" fill="#34268c"/><rect x="474.55" y="247.39" width="3.11" height="3.06" fill="#c92236"/><rect x="477.60" y="247.39" width="3.11" height="3.06" fill="#34268c"/><rect x="480.65" y="247.39" width="3.11" height="3.06" fill="#34268c"/><rect x="483.70" y="247.39" width="3.11" height="3.06" fill="#34268c"/><rect x="486.75" y="247.39" width="3.11" height="3.06" fill="#34268c"/><rect x="453.20" y="250.40" width="3.11" height="3.06" fill="#c92236"/><rect x="456.25" y="250.40" width="3.11" height="3.06" fill="#c92236"/><rect x="459.30" y="250.40" width="3.11" height="3.06" fill="#e6e0f6"/><rect x="462.35" y="250.40" width="3.11" height="3.06" fill="#34268c"/><rect x="465.40" y="250.40" width="3.11" height="3.06" fill="#34268c"/><rect x="468.45" y="250.40" width="3.11" height="3.06" fill="#34268c"/><rect x="471.50" y="250.40" width="3.11" height="3.06" fill="#c92236"/><rect x="474.55" y="250.40" width="3.11" height="3.06" fill="#34268c"/><rect x="477.60" y="250.40" width="3.11" height="3.06" fill="#34268c"/><rect x="480.65" y="250.40" width="3.11" height="3.06" fill="#5c48ac"/><rect x="483.70" y="250.40" width="3.11" height="3.06" fill="#f0a8bc"/><rect x="486.75" y="250.40" width="3.11" height="3.06" fill="#34268c"/><rect x="453.20" y="253.40" width="3.11" height="3.06" fill="#de5868"/><rect x="456.25" y="253.40" width="3.11" height="3.06" fill="#34268c"/><rect x="459.30" y="253.40" width="3.11" height="3.06" fill="#e6e0f6"/><rect x="462.35" y="253.40" width="3.11" height="3.06" fill="#34268c"/><rect x="465.40" y="253.40" width="3.11" height="3.06" fill="#f0a8bc"/><rect x="468.45" y="253.40" width="3.11" height="3.06" fill="#c92236"/><rect x="471.50" y="253.40" width="3.11" height="3.06" fill="#e6e0f6"/><rect x="474.55" y="253.40" width="3.11" height="3.06" fill="#34268c"/><rect x="477.60" y="253.40" width="3.11" height="3.06" fill="#34268c"/><rect x="480.65" y="253.40" width="3.11" height="3.06" fill="#34268c"/><rect x="483.70" y="253.40" width="3.11" height="3.06" fill="#34268c"/><rect x="486.75" y="253.40" width="3.11" height="3.06" fill="#34268c"/><rect x="453.20" y="256.41" width="3.11" height="3.06" fill="#c92236"/><rect x="456.25" y="256.41" width="3.11" height="3.06" fill="#34268c"/><rect x="459.30" y="256.41" width="3.11" height="3.06" fill="#aaa4e4"/><rect x="462.35" y="256.41" width="3.11" height="3.06" fill="#e6e0f6"/><rect x="465.40" y="256.41" width="3.11" height="3.06" fill="#aaa4e4"/><rect x="468.45" y="256.41" width="3.11" height="3.06" fill="#aaa4e4"/><rect x="471.50" y="256.41" width="3.11" height="3.06" fill="#34268c"/><rect x="474.55" y="256.41" width="3.11" height="3.06" fill="#34268c"/><rect x="477.60" y="256.41" width="3.11" height="3.06" fill="#34268c"/><rect x="480.65" y="256.41" width="3.11" height="3.06" fill="#34268c"/><rect x="483.70" y="256.41" width="3.11" height="3.06" fill="#34268c"/><rect x="486.75" y="256.41" width="3.11" height="3.06" fill="#34268c"/><rect x="453.20" y="259.41" width="3.11" height="3.06" fill="#c92236"/><rect x="456.25" y="259.41" width="3.11" height="3.06" fill="#34268c"/><rect x="459.30" y="259.41" width="3.11" height="3.06" fill="#34268c"/><rect x="462.35" y="259.41" width="3.11" height="3.06" fill="#de5868"/><rect x="465.40" y="259.41" width="3.11" height="3.06" fill="#34268c"/><rect x="468.45" y="259.41" width="3.11" height="3.06" fill="#e6e0f6"/><rect x="471.50" y="259.41" width="3.11" height="3.06" fill="#e6e0f6"/><rect x="474.55" y="259.41" width="3.11" height="3.06" fill="#e6e0f6"/><rect x="477.60" y="259.41" width="3.11" height="3.06" fill="#34268c"/><rect x="480.65" y="259.41" width="3.11" height="3.06" fill="#34268c"/><rect x="483.70" y="259.41" width="3.11" height="3.06" fill="#34268c"/><rect x="486.75" y="259.41" width="3.11" height="3.06" fill="#34268c"/><rect x="453.20" y="262.41" width="3.11" height="3.06" fill="#c92236"/><rect x="456.25" y="262.41" width="3.11" height="3.06" fill="#5c48ac"/><rect x="459.30" y="262.41" width="3.11" height="3.06" fill="#de5868"/><rect x="462.35" y="262.41" width="3.11" height="3.06" fill="#aaa4e4"/><rect x="465.40" y="262.41" width="3.11" height="3.06" fill="#5c48ac"/><rect x="468.45" y="262.41" width="3.11" height="3.06" fill="#5c48ac"/><rect x="471.50" y="262.41" width="3.11" height="3.06" fill="#34268c"/><rect x="474.55" y="262.41" width="3.11" height="3.06" fill="#34268c"/><rect x="477.60" y="262.41" width="3.11" height="3.06" fill="#e6e0f6"/><rect x="480.65" y="262.41" width="3.11" height="3.06" fill="#34268c"/><rect x="483.70" y="262.41" width="3.11" height="3.06" fill="#34268c"/><rect x="486.75" y="262.41" width="3.11" height="3.06" fill="#34268c"/><rect x="453.20" y="265.42" width="3.11" height="3.06" fill="#c92236"/><rect x="456.25" y="265.42" width="3.11" height="3.06" fill="#e6e0f6"/><rect x="459.30" y="265.42" width="3.11" height="3.06" fill="#c92236"/><rect x="462.35" y="265.42" width="3.11" height="3.06" fill="#f0a8bc"/><rect x="465.40" y="265.42" width="3.11" height="3.06" fill="#c92236"/><rect x="468.45" y="265.42" width="3.11" height="3.06" fill="#34268c"/><rect x="471.50" y="265.42" width="3.11" height="3.06" fill="#e6e0f6"/><rect x="474.55" y="265.42" width="3.11" height="3.06" fill="#e6e0f6"/><rect x="477.60" y="265.42" width="3.11" height="3.06" fill="#34268c"/><rect x="480.65" y="265.42" width="3.11" height="3.06" fill="#c92236"/><rect x="483.70" y="265.42" width="3.11" height="3.06" fill="#c92236"/><rect x="486.75" y="265.42" width="3.11" height="3.06" fill="#e6e0f6"/><rect x="453.20" y="268.42" width="3.11" height="3.06" fill="#c92236"/><rect x="456.25" y="268.42" width="3.11" height="3.06" fill="#c92236"/><rect x="459.30" y="268.42" width="3.11" height="3.06" fill="#34268c"/><rect x="462.35" y="268.42" width="3.11" height="3.06" fill="#5c48ac"/><rect x="465.40" y="268.42" width="3.11" height="3.06" fill="#34268c"/><rect x="468.45" y="268.42" width="3.11" height="3.06" fill="#5c48ac"/><rect x="471.50" y="268.42" width="3.11" height="3.06" fill="#f0a8bc"/><rect x="474.55" y="268.42" width="3.11" height="3.06" fill="#5c48ac"/><rect x="477.60" y="268.42" width="3.11" height="3.06" fill="#34268c"/><rect x="480.65" y="268.42" width="3.11" height="3.06" fill="#e6e0f6"/><rect x="483.70" y="268.42" width="3.11" height="3.06" fill="#f0a8bc"/><rect x="486.75" y="268.42" width="3.11" height="3.06" fill="#c92236"/><rect x="453.20" y="271.43" width="3.11" height="3.06" fill="#34268c"/><rect x="456.25" y="271.43" width="3.11" height="3.06" fill="#f0a8bc"/><rect x="459.30" y="271.43" width="3.11" height="3.06" fill="#34268c"/><rect x="462.35" y="271.43" width="3.11" height="3.06" fill="#c92236"/><rect x="465.40" y="271.43" width="3.11" height="3.06" fill="#f0a8bc"/><rect x="468.45" y="271.43" width="3.11" height="3.06" fill="#34268c"/><rect x="471.50" y="271.43" width="3.11" height="3.06" fill="#34268c"/><rect x="474.55" y="271.43" width="3.11" height="3.06" fill="#aaa4e4"/><rect x="477.60" y="271.43" width="3.11" height="3.06" fill="#34268c"/><rect x="480.65" y="271.43" width="3.11" height="3.06" fill="#f0a8bc"/><rect x="483.70" y="271.43" width="3.11" height="3.06" fill="#c92236"/><rect x="486.75" y="271.43" width="3.11" height="3.06" fill="#aaa4e4"/><rect x="453.20" y="274.43" width="3.11" height="3.06" fill="#c92236"/><rect x="456.25" y="274.43" width="3.11" height="3.06" fill="#34268c"/><rect x="459.30" y="274.43" width="3.11" height="3.06" fill="#34268c"/><rect x="462.35" y="274.43" width="3.11" height="3.06" fill="#f0a8bc"/><rect x="465.40" y="274.43" width="3.11" height="3.06" fill="#34268c"/><rect x="468.45" y="274.43" width="3.11" height="3.06" fill="#f0a8bc"/><rect x="471.50" y="274.43" width="3.11" height="3.06" fill="#de5868"/><rect x="474.55" y="274.43" width="3.11" height="3.06" fill="#5c48ac"/><rect x="477.60" y="274.43" width="3.11" height="3.06" fill="#e6e0f6"/><rect x="480.65" y="274.43" width="3.11" height="3.06" fill="#e6e0f6"/><rect x="483.70" y="274.43" width="3.11" height="3.06" fill="#e6e0f6"/><rect x="486.75" y="274.43" width="3.11" height="3.06" fill="#34268c"/><rect x="453.20" y="277.44" width="3.11" height="3.06" fill="#c92236"/><rect x="456.25" y="277.44" width="3.11" height="3.06" fill="#e6e0f6"/><rect x="459.30" y="277.44" width="3.11" height="3.06" fill="#c92236"/><rect x="462.35" y="277.44" width="3.11" height="3.06" fill="#34268c"/><rect x="465.40" y="277.44" width="3.11" height="3.06" fill="#e6e0f6"/><rect x="468.45" y="277.44" width="3.11" height="3.06" fill="#34268c"/><rect x="471.50" y="277.44" width="3.11" height="3.06" fill="#c92236"/><rect x="474.55" y="277.44" width="3.11" height="3.06" fill="#c92236"/><rect x="477.60" y="277.44" width="3.11" height="3.06" fill="#34268c"/><rect x="480.65" y="277.44" width="3.11" height="3.06" fill="#e6e0f6"/><rect x="483.70" y="277.44" width="3.11" height="3.06" fill="#34268c"/><rect x="486.75" y="277.44" width="3.11" height="3.06" fill="#34268c"/><rect x="453.20" y="280.44" width="3.11" height="3.06" fill="#c92236"/><rect x="456.25" y="280.44" width="3.11" height="3.06" fill="#c92236"/><rect x="459.30" y="280.44" width="3.11" height="3.06" fill="#34268c"/><rect x="462.35" y="280.44" width="3.11" height="3.06" fill="#c92236"/><rect x="465.40" y="280.44" width="3.11" height="3.06" fill="#34268c"/><rect x="468.45" y="280.44" width="3.11" height="3.06" fill="#34268c"/><rect x="471.50" y="280.44" width="3.11" height="3.06" fill="#34268c"/><rect x="474.55" y="280.44" width="3.11" height="3.06" fill="#34268c"/><rect x="477.60" y="280.44" width="3.11" height="3.06" fill="#e6e0f6"/><rect x="480.65" y="280.44" width="3.11" height="3.06" fill="#5c48ac"/><rect x="483.70" y="280.44" width="3.11" height="3.06" fill="#e6e0f6"/><rect x="486.75" y="280.44" width="3.11" height="3.06" fill="#c92236"/><rect x="453.20" y="283.45" width="3.11" height="3.06" fill="#c92236"/><rect x="456.25" y="283.45" width="3.11" height="3.06" fill="#34268c"/><rect x="459.30" y="283.45" width="3.11" height="3.06" fill="#5c48ac"/><rect x="462.35" y="283.45" width="3.11" height="3.06" fill="#e6e0f6"/><rect x="465.40" y="283.45" width="3.11" height="3.06" fill="#34268c"/><rect x="468.45" y="283.45" width="3.11" height="3.06" fill="#34268c"/><rect x="471.50" y="283.45" width="3.11" height="3.06" fill="#34268c"/><rect x="474.55" y="283.45" width="3.11" height="3.06" fill="#34268c"/><rect x="477.60" y="283.45" width="3.11" height="3.06" fill="#f0a8bc"/><rect x="480.65" y="283.45" width="3.11" height="3.06" fill="#c92236"/><rect x="483.70" y="283.45" width="3.11" height="3.06" fill="#de5868"/><rect x="486.75" y="283.45" width="3.11" height="3.06" fill="#34268c"/><rect x="453.20" y="286.45" width="3.11" height="3.06" fill="#c92236"/><rect x="456.25" y="286.45" width="3.11" height="3.06" fill="#e6e0f6"/><rect x="459.30" y="286.45" width="3.11" height="3.06" fill="#de5868"/><rect x="462.35" y="286.45" width="3.11" height="3.06" fill="#34268c"/><rect x="465.40" y="286.45" width="3.11" height="3.06" fill="#c92236"/><rect x="468.45" y="286.45" width="3.11" height="3.06" fill="#c92236"/><rect x="471.50" y="286.45" width="3.11" height="3.06" fill="#e6e0f6"/><rect x="474.55" y="286.45" width="3.11" height="3.06" fill="#5c48ac"/><rect x="477.60" y="286.45" width="3.11" height="3.06" fill="#5c48ac"/><rect x="480.65" y="286.45" width="3.11" height="3.06" fill="#f0a8bc"/><rect x="483.70" y="286.45" width="3.11" height="3.06" fill="#e6e0f6"/><rect x="486.75" y="286.45" width="3.11" height="3.06" fill="#34268c"/><rect x="453.20" y="289.46" width="3.11" height="3.06" fill="#c92236"/><rect x="456.25" y="289.46" width="3.11" height="3.06" fill="#e6e0f6"/><rect x="459.30" y="289.46" width="3.11" height="3.06" fill="#5c48ac"/><rect x="462.35" y="289.46" width="3.11" height="3.06" fill="#34268c"/><rect x="465.40" y="289.46" width="3.11" height="3.06" fill="#34268c"/><rect x="468.45" y="289.46" width="3.11" height="3.06" fill="#34268c"/><rect x="471.50" y="289.46" width="3.11" height="3.06" fill="#e6e0f6"/><rect x="474.55" y="289.46" width="3.11" height="3.06" fill="#e6e0f6"/><rect x="477.60" y="289.46" width="3.11" height="3.06" fill="#aaa4e4"/><rect x="480.65" y="289.46" width="3.11" height="3.06" fill="#aaa4e4"/><rect x="483.70" y="289.46" width="3.11" height="3.06" fill="#c92236"/><rect x="486.75" y="289.46" width="3.11" height="3.06" fill="#f0a8bc"/><rect x="453.20" y="292.46" width="3.11" height="3.06" fill="#34268c"/><rect x="456.25" y="292.46" width="3.11" height="3.06" fill="#34268c"/><rect x="459.30" y="292.46" width="3.11" height="3.06" fill="#c92236"/><rect x="462.35" y="292.46" width="3.11" height="3.06" fill="#34268c"/><rect x="465.40" y="292.46" width="3.11" height="3.06" fill="#34268c"/><rect x="468.45" y="292.46" width="3.11" height="3.06" fill="#34268c"/><rect x="471.50" y="292.46" width="3.11" height="3.06" fill="#34268c"/><rect x="474.55" y="292.46" width="3.11" height="3.06" fill="#c92236"/><rect x="477.60" y="292.46" width="3.11" height="3.06" fill="#aaa4e4"/><rect x="480.65" y="292.46" width="3.11" height="3.06" fill="#34268c"/><rect x="483.70" y="292.46" width="3.11" height="3.06" fill="#34268c"/><rect x="486.75" y="292.46" width="3.11" height="3.06" fill="#c92236"/><rect x="453.20" y="295.46" width="3.11" height="3.06" fill="#c92236"/><rect x="456.25" y="295.46" width="3.11" height="3.06" fill="#34268c"/><rect x="459.30" y="295.46" width="3.11" height="3.06" fill="#34268c"/><rect x="462.35" y="295.46" width="3.11" height="3.06" fill="#c92236"/><rect x="465.40" y="295.46" width="3.11" height="3.06" fill="#c92236"/><rect x="468.45" y="295.46" width="3.11" height="3.06" fill="#5c48ac"/><rect x="471.50" y="295.46" width="3.11" height="3.06" fill="#34268c"/><rect x="474.55" y="295.46" width="3.11" height="3.06" fill="#aaa4e4"/><rect x="477.60" y="295.46" width="3.11" height="3.06" fill="#e6e0f6"/><rect x="480.65" y="295.46" width="3.11" height="3.06" fill="#c92236"/><rect x="483.70" y="295.46" width="3.11" height="3.06" fill="#34268c"/><rect x="486.75" y="295.46" width="3.11" height="3.06" fill="#5c48ac"/><rect x="453.20" y="298.47" width="3.11" height="3.06" fill="#c92236"/><rect x="456.25" y="298.47" width="3.11" height="3.06" fill="#34268c"/><rect x="459.30" y="298.47" width="3.11" height="3.06" fill="#34268c"/><rect x="462.35" y="298.47" width="3.11" height="3.06" fill="#34268c"/><rect x="465.40" y="298.47" width="3.11" height="3.06" fill="#34268c"/><rect x="468.45" y="298.47" width="3.11" height="3.06" fill="#e6e0f6"/><rect x="471.50" y="298.47" width="3.11" height="3.06" fill="#5c48ac"/><rect x="474.55" y="298.47" width="3.11" height="3.06" fill="#c92236"/><rect x="477.60" y="298.47" width="3.11" height="3.06" fill="#34268c"/><rect x="480.65" y="298.47" width="3.11" height="3.06" fill="#e6e0f6"/><rect x="483.70" y="298.47" width="3.11" height="3.06" fill="#34268c"/><rect x="486.75" y="298.47" width="3.11" height="3.06" fill="#c92236"/><rect x="453.20" y="301.47" width="3.11" height="3.06" fill="#c92236"/><rect x="456.25" y="301.47" width="3.11" height="3.06" fill="#c92236"/><rect x="459.30" y="301.47" width="3.11" height="3.06" fill="#f0a8bc"/><rect x="462.35" y="301.47" width="3.11" height="3.06" fill="#c92236"/><rect x="465.40" y="301.47" width="3.11" height="3.06" fill="#34268c"/><rect x="468.45" y="301.47" width="3.11" height="3.06" fill="#34268c"/><rect x="471.50" y="301.47" width="3.11" height="3.06" fill="#34268c"/><rect x="474.55" y="301.47" width="3.11" height="3.06" fill="#34268c"/><rect x="477.60" y="301.47" width="3.11" height="3.06" fill="#c92236"/><rect x="480.65" y="301.47" width="3.11" height="3.06" fill="#34268c"/><rect x="483.70" y="301.47" width="3.11" height="3.06" fill="#34268c"/><rect x="486.75" y="301.47" width="3.11" height="3.06" fill="#5c48ac"/><rect x="453.20" y="304.48" width="3.11" height="3.06" fill="#c92236"/><rect x="456.25" y="304.48" width="3.11" height="3.06" fill="#34268c"/><rect x="459.30" y="304.48" width="3.11" height="3.06" fill="#c92236"/><rect x="462.35" y="304.48" width="3.11" height="3.06" fill="#34268c"/><rect x="465.40" y="304.48" width="3.11" height="3.06" fill="#c92236"/><rect x="468.45" y="304.48" width="3.11" height="3.06" fill="#34268c"/><rect x="471.50" y="304.48" width="3.11" height="3.06" fill="#c92236"/><rect x="474.55" y="304.48" width="3.11" height="3.06" fill="#34268c"/><rect x="477.60" y="304.48" width="3.11" height="3.06" fill="#c92236"/><rect x="480.65" y="304.48" width="3.11" height="3.06" fill="#34268c"/><rect x="483.70" y="304.48" width="3.11" height="3.06" fill="#e6e0f6"/><rect x="486.75" y="304.48" width="3.11" height="3.06" fill="#5c48ac"/><rect x="453.20" y="307.48" width="3.11" height="3.06" fill="#de5868"/><rect x="456.25" y="307.48" width="3.11" height="3.06" fill="#34268c"/><rect x="459.30" y="307.48" width="3.11" height="3.06" fill="#aaa4e4"/><rect x="462.35" y="307.48" width="3.11" height="3.06" fill="#34268c"/><rect x="465.40" y="307.48" width="3.11" height="3.06" fill="#34268c"/><rect x="468.45" y="307.48" width="3.11" height="3.06" fill="#c92236"/><rect x="471.50" y="307.48" width="3.11" height="3.06" fill="#e6e0f6"/><rect x="474.55" y="307.48" width="3.11" height="3.06" fill="#5c48ac"/><rect x="477.60" y="307.48" width="3.11" height="3.06" fill="#c92236"/><rect x="480.65" y="307.48" width="3.11" height="3.06" fill="#e6e0f6"/><rect x="483.70" y="307.48" width="3.11" height="3.06" fill="#e6e0f6"/><rect x="486.75" y="307.48" width="3.11" height="3.06" fill="#de5868"/><rect x="453.20" y="310.49" width="3.11" height="3.06" fill="#c92236"/><rect x="456.25" y="310.49" width="3.11" height="3.06" fill="#c92236"/><rect x="459.30" y="310.49" width="3.11" height="3.06" fill="#34268c"/><rect x="462.35" y="310.49" width="3.11" height="3.06" fill="#c92236"/><rect x="465.40" y="310.49" width="3.11" height="3.06" fill="#34268c"/><rect x="468.45" y="310.49" width="3.11" height="3.06" fill="#34268c"/><rect x="471.50" y="310.49" width="3.11" height="3.06" fill="#c92236"/><rect x="474.55" y="310.49" width="3.11" height="3.06" fill="#e6e0f6"/><rect x="477.60" y="310.49" width="3.11" height="3.06" fill="#34268c"/><rect x="480.65" y="310.49" width="3.11" height="3.06" fill="#34268c"/><rect x="483.70" y="310.49" width="3.11" height="3.06" fill="#c92236"/><rect x="486.75" y="310.49" width="3.11" height="3.06" fill="#34268c"/><rect x="453.20" y="313.49" width="3.11" height="3.06" fill="#c92236"/><rect x="456.25" y="313.49" width="3.11" height="3.06" fill="#f0a8bc"/><rect x="459.30" y="313.49" width="3.11" height="3.06" fill="#f0a8bc"/><rect x="462.35" y="313.49" width="3.11" height="3.06" fill="#34268c"/><rect x="465.40" y="313.49" width="3.11" height="3.06" fill="#34268c"/><rect x="468.45" y="313.49" width="3.11" height="3.06" fill="#de5868"/><rect x="471.50" y="313.49" width="3.11" height="3.06" fill="#e6e0f6"/><rect x="474.55" y="313.49" width="3.11" height="3.06" fill="#aaa4e4"/><rect x="477.60" y="313.49" width="3.11" height="3.06" fill="#e6e0f6"/><rect x="480.65" y="313.49" width="3.11" height="3.06" fill="#c92236"/><rect x="483.70" y="313.49" width="3.11" height="3.06" fill="#34268c"/><rect x="486.75" y="313.49" width="3.11" height="3.06" fill="#34268c"/><rect x="453.20" y="316.50" width="3.11" height="3.06" fill="#c92236"/><rect x="456.25" y="316.50" width="3.11" height="3.06" fill="#34268c"/><rect x="459.30" y="316.50" width="3.11" height="3.06" fill="#f0a8bc"/><rect x="462.35" y="316.50" width="3.11" height="3.06" fill="#c92236"/><rect x="465.40" y="316.50" width="3.11" height="3.06" fill="#5c48ac"/><rect x="468.45" y="316.50" width="3.11" height="3.06" fill="#e6e0f6"/><rect x="471.50" y="316.50" width="3.11" height="3.06" fill="#34268c"/><rect x="474.55" y="316.50" width="3.11" height="3.06" fill="#c92236"/><rect x="477.60" y="316.50" width="3.11" height="3.06" fill="#34268c"/><rect x="480.65" y="316.50" width="3.11" height="3.06" fill="#34268c"/><rect x="483.70" y="316.50" width="3.11" height="3.06" fill="#c92236"/><rect x="486.75" y="316.50" width="3.11" height="3.06" fill="#c92236"/><rect x="453.20" y="319.50" width="3.11" height="3.06" fill="#34268c"/><rect x="456.25" y="319.50" width="3.11" height="3.06" fill="#c92236"/><rect x="459.30" y="319.50" width="3.11" height="3.06" fill="#34268c"/><rect x="462.35" y="319.50" width="3.11" height="3.06" fill="#34268c"/><rect x="465.40" y="319.50" width="3.11" height="3.06" fill="#f0a8bc"/><rect x="468.45" y="319.50" width="3.11" height="3.06" fill="#e6e0f6"/><rect x="471.50" y="319.50" width="3.11" height="3.06" fill="#c92236"/><rect x="474.55" y="319.50" width="3.11" height="3.06" fill="#34268c"/><rect x="477.60" y="319.50" width="3.11" height="3.06" fill="#aaa4e4"/><rect x="480.65" y="319.50" width="3.11" height="3.06" fill="#34268c"/><rect x="483.70" y="319.50" width="3.11" height="3.06" fill="#34268c"/><rect x="486.75" y="319.50" width="3.11" height="3.06" fill="#c92236"/><rect x="453.20" y="322.50" width="3.11" height="3.06" fill="#c92236"/><rect x="456.25" y="322.50" width="3.11" height="3.06" fill="#aaa4e4"/><rect x="459.30" y="322.50" width="3.11" height="3.06" fill="#de5868"/><rect x="462.35" y="322.50" width="3.11" height="3.06" fill="#e6e0f6"/><rect x="465.40" y="322.50" width="3.11" height="3.06" fill="#5c48ac"/><rect x="468.45" y="322.50" width="3.11" height="3.06" fill="#34268c"/><rect x="471.50" y="322.50" width="3.11" height="3.06" fill="#e6e0f6"/><rect x="474.55" y="322.50" width="3.11" height="3.06" fill="#34268c"/><rect x="477.60" y="322.50" width="3.11" height="3.06" fill="#c92236"/><rect x="480.65" y="322.50" width="3.11" height="3.06" fill="#34268c"/><rect x="483.70" y="322.50" width="3.11" height="3.06" fill="#34268c"/><rect x="486.75" y="322.50" width="3.11" height="3.06" fill="#34268c"/><rect x="453.20" y="325.51" width="3.11" height="3.06" fill="#c92236"/><rect x="456.25" y="325.51" width="3.11" height="3.06" fill="#c92236"/><rect x="459.30" y="325.51" width="3.11" height="3.06" fill="#34268c"/><rect x="462.35" y="325.51" width="3.11" height="3.06" fill="#f0a8bc"/><rect x="465.40" y="325.51" width="3.11" height="3.06" fill="#c92236"/><rect x="468.45" y="325.51" width="3.11" height="3.06" fill="#c92236"/><rect x="471.50" y="325.51" width="3.11" height="3.06" fill="#de5868"/><rect x="474.55" y="325.51" width="3.11" height="3.06" fill="#34268c"/><rect x="477.60" y="325.51" width="3.11" height="3.06" fill="#5c48ac"/><rect x="480.65" y="325.51" width="3.11" height="3.06" fill="#aaa4e4"/><rect x="483.70" y="325.51" width="3.11" height="3.06" fill="#c92236"/><rect x="486.75" y="325.51" width="3.11" height="3.06" fill="#e6e0f6"/><rect x="453.20" y="328.51" width="3.11" height="3.06" fill="#34268c"/><rect x="456.25" y="328.51" width="3.11" height="3.06" fill="#c92236"/><rect x="459.30" y="328.51" width="3.11" height="3.06" fill="#34268c"/><rect x="462.35" y="328.51" width="3.11" height="3.06" fill="#34268c"/><rect x="465.40" y="328.51" width="3.11" height="3.06" fill="#e6e0f6"/><rect x="468.45" y="328.51" width="3.11" height="3.06" fill="#de5868"/><rect x="471.50" y="328.51" width="3.11" height="3.06" fill="#c92236"/><rect x="474.55" y="328.51" width="3.11" height="3.06" fill="#34268c"/><rect x="477.60" y="328.51" width="3.11" height="3.06" fill="#34268c"/><rect x="480.65" y="328.51" width="3.11" height="3.06" fill="#34268c"/><rect x="483.70" y="328.51" width="3.11" height="3.06" fill="#34268c"/><rect x="486.75" y="328.51" width="3.11" height="3.06" fill="#c92236"/><rect x="453.20" y="331.52" width="3.11" height="3.06" fill="#34268c"/><rect x="456.25" y="331.52" width="3.11" height="3.06" fill="#f0a8bc"/><rect x="459.30" y="331.52" width="3.11" height="3.06" fill="#c92236"/><rect x="462.35" y="331.52" width="3.11" height="3.06" fill="#c92236"/><rect x="465.40" y="331.52" width="3.11" height="3.06" fill="#c92236"/><rect x="468.45" y="331.52" width="3.11" height="3.06" fill="#c92236"/><rect x="471.50" y="331.52" width="3.11" height="3.06" fill="#e6e0f6"/><rect x="474.55" y="331.52" width="3.11" height="3.06" fill="#c92236"/><rect x="477.60" y="331.52" width="3.11" height="3.06" fill="#c92236"/><rect x="480.65" y="331.52" width="3.11" height="3.06" fill="#5c48ac"/><rect x="483.70" y="331.52" width="3.11" height="3.06" fill="#34268c"/><rect x="486.75" y="331.52" width="3.11" height="3.06" fill="#34268c"/><rect x="453.20" y="334.52" width="3.11" height="3.06" fill="#c92236"/><rect x="456.25" y="334.52" width="3.11" height="3.06" fill="#5c48ac"/><rect x="459.30" y="334.52" width="3.11" height="3.06" fill="#de5868"/><rect x="462.35" y="334.52" width="3.11" height="3.06" fill="#5c48ac"/><rect x="465.40" y="334.52" width="3.11" height="3.06" fill="#c92236"/><rect x="468.45" y="334.52" width="3.11" height="3.06" fill="#e6e0f6"/><rect x="471.50" y="334.52" width="3.11" height="3.06" fill="#c92236"/><rect x="474.55" y="334.52" width="3.11" height="3.06" fill="#34268c"/><rect x="477.60" y="334.52" width="3.11" height="3.06" fill="#5c48ac"/><rect x="480.65" y="334.52" width="3.11" height="3.06" fill="#34268c"/><rect x="483.70" y="334.52" width="3.11" height="3.06" fill="#5c48ac"/><rect x="486.75" y="334.52" width="3.11" height="3.06" fill="#34268c"/><rect x="453.20" y="337.53" width="3.11" height="3.06" fill="#de5868"/><rect x="456.25" y="337.53" width="3.11" height="3.06" fill="#c92236"/><rect x="459.30" y="337.53" width="3.11" height="3.06" fill="#aaa4e4"/><rect x="462.35" y="337.53" width="3.11" height="3.06" fill="#34268c"/><rect x="465.40" y="337.53" width="3.11" height="3.06" fill="#aaa4e4"/><rect x="468.45" y="337.53" width="3.11" height="3.06" fill="#f0a8bc"/><rect x="471.50" y="337.53" width="3.11" height="3.06" fill="#34268c"/><rect x="474.55" y="337.53" width="3.11" height="3.06" fill="#34268c"/><rect x="477.60" y="337.53" width="3.11" height="3.06" fill="#34268c"/><rect x="480.65" y="337.53" width="3.11" height="3.06" fill="#c92236"/><rect x="483.70" y="337.53" width="3.11" height="3.06" fill="#e6e0f6"/><rect x="486.75" y="337.53" width="3.11" height="3.06" fill="#34268c"/><rect x="453.20" y="340.53" width="3.11" height="3.06" fill="#f0a8bc"/><rect x="456.25" y="340.53" width="3.11" height="3.06" fill="#34268c"/><rect x="459.30" y="340.53" width="3.11" height="3.06" fill="#c92236"/><rect x="462.35" y="340.53" width="3.11" height="3.06" fill="#34268c"/><rect x="465.40" y="340.53" width="3.11" height="3.06" fill="#e6e0f6"/><rect x="468.45" y="340.53" width="3.11" height="3.06" fill="#c92236"/><rect x="471.50" y="340.53" width="3.11" height="3.06" fill="#f0a8bc"/><rect x="474.55" y="340.53" width="3.11" height="3.06" fill="#34268c"/><rect x="477.60" y="340.53" width="3.11" height="3.06" fill="#34268c"/><rect x="480.65" y="340.53" width="3.11" height="3.06" fill="#e6e0f6"/><rect x="483.70" y="340.53" width="3.11" height="3.06" fill="#c92236"/><rect x="486.75" y="340.53" width="3.11" height="3.06" fill="#aaa4e4"/><rect x="453.20" y="343.54" width="3.11" height="3.06" fill="#c92236"/><rect x="456.25" y="343.54" width="3.11" height="3.06" fill="#34268c"/><rect x="459.30" y="343.54" width="3.11" height="3.06" fill="#34268c"/><rect x="462.35" y="343.54" width="3.11" height="3.06" fill="#de5868"/><rect x="465.40" y="343.54" width="3.11" height="3.06" fill="#34268c"/><rect x="468.45" y="343.54" width="3.11" height="3.06" fill="#aaa4e4"/><rect x="471.50" y="343.54" width="3.11" height="3.06" fill="#34268c"/><rect x="474.55" y="343.54" width="3.11" height="3.06" fill="#34268c"/><rect x="477.60" y="343.54" width="3.11" height="3.06" fill="#c92236"/><rect x="480.65" y="343.54" width="3.11" height="3.06" fill="#c92236"/><rect x="483.70" y="343.54" width="3.11" height="3.06" fill="#34268c"/><rect x="486.75" y="343.54" width="3.11" height="3.06" fill="#34268c"/><rect x="453.20" y="346.54" width="3.11" height="3.06" fill="#c92236"/><rect x="456.25" y="346.54" width="3.11" height="3.06" fill="#34268c"/><rect x="459.30" y="346.54" width="3.11" height="3.06" fill="#f0a8bc"/><rect x="462.35" y="346.54" width="3.11" height="3.06" fill="#5c48ac"/><rect x="465.40" y="346.54" width="3.11" height="3.06" fill="#5c48ac"/><rect x="468.45" y="346.54" width="3.11" height="3.06" fill="#e6e0f6"/><rect x="471.50" y="346.54" width="3.11" height="3.06" fill="#34268c"/><rect x="474.55" y="346.54" width="3.11" height="3.06" fill="#e6e0f6"/><rect x="477.60" y="346.54" width="3.11" height="3.06" fill="#e6e0f6"/><rect x="480.65" y="346.54" width="3.11" height="3.06" fill="#c92236"/><rect x="483.70" y="346.54" width="3.11" height="3.06" fill="#34268c"/><rect x="486.75" y="346.54" width="3.11" height="3.06" fill="#5c48ac"/><rect x="453.20" y="349.55" width="3.11" height="3.06" fill="#c92236"/><rect x="456.25" y="349.55" width="3.11" height="3.06" fill="#34268c"/><rect x="459.30" y="349.55" width="3.11" height="3.06" fill="#34268c"/><rect x="462.35" y="349.55" width="3.11" height="3.06" fill="#34268c"/><rect x="465.40" y="349.55" width="3.11" height="3.06" fill="#c92236"/><rect x="468.45" y="349.55" width="3.11" height="3.06" fill="#aaa4e4"/><rect x="471.50" y="349.55" width="3.11" height="3.06" fill="#5c48ac"/><rect x="474.55" y="349.55" width="3.11" height="3.06" fill="#34268c"/><rect x="477.60" y="349.55" width="3.11" height="3.06" fill="#34268c"/><rect x="480.65" y="349.55" width="3.11" height="3.06" fill="#de5868"/><rect x="483.70" y="349.55" width="3.11" height="3.06" fill="#34268c"/><rect x="486.75" y="349.55" width="3.11" height="3.06" fill="#c92236"/><rect x="453.20" y="352.55" width="3.11" height="3.06" fill="#c92236"/><rect x="456.25" y="352.55" width="3.11" height="3.06" fill="#5c48ac"/><rect x="459.30" y="352.55" width="3.11" height="3.06" fill="#c92236"/><rect x="462.35" y="352.55" width="3.11" height="3.06" fill="#c92236"/><rect x="465.40" y="352.55" width="3.11" height="3.06" fill="#5c48ac"/><rect x="468.45" y="352.55" width="3.11" height="3.06" fill="#34268c"/><rect x="471.50" y="352.55" width="3.11" height="3.06" fill="#34268c"/><rect x="474.55" y="352.55" width="3.11" height="3.06" fill="#34268c"/><rect x="477.60" y="352.55" width="3.11" height="3.06" fill="#e6e0f6"/><rect x="480.65" y="352.55" width="3.11" height="3.06" fill="#34268c"/><rect x="483.70" y="352.55" width="3.11" height="3.06" fill="#aaa4e4"/><rect x="486.75" y="352.55" width="3.11" height="3.06" fill="#e6e0f6"/><rect x="453.20" y="355.55" width="3.11" height="3.06" fill="#c92236"/><rect x="456.25" y="355.55" width="3.11" height="3.06" fill="#34268c"/><rect x="459.30" y="355.55" width="3.11" height="3.06" fill="#34268c"/><rect x="462.35" y="355.55" width="3.11" height="3.06" fill="#c92236"/><rect x="465.40" y="355.55" width="3.11" height="3.06" fill="#c92236"/><rect x="468.45" y="355.55" width="3.11" height="3.06" fill="#34268c"/><rect x="471.50" y="355.55" width="3.11" height="3.06" fill="#de5868"/><rect x="474.55" y="355.55" width="3.11" height="3.06" fill="#34268c"/><rect x="477.60" y="355.55" width="3.11" height="3.06" fill="#c92236"/><rect x="480.65" y="355.55" width="3.11" height="3.06" fill="#de5868"/><rect x="483.70" y="355.55" width="3.11" height="3.06" fill="#5c48ac"/><rect x="486.75" y="355.55" width="3.11" height="3.06" fill="#de5868"/><rect x="453.20" y="358.56" width="3.11" height="3.06" fill="#c92236"/><rect x="456.25" y="358.56" width="3.11" height="3.06" fill="#5c48ac"/><rect x="459.30" y="358.56" width="3.11" height="3.06" fill="#34268c"/><rect x="462.35" y="358.56" width="3.11" height="3.06" fill="#34268c"/><rect x="465.40" y="358.56" width="3.11" height="3.06" fill="#34268c"/><rect x="468.45" y="358.56" width="3.11" height="3.06" fill="#34268c"/><rect x="471.50" y="358.56" width="3.11" height="3.06" fill="#c92236"/><rect x="474.55" y="358.56" width="3.11" height="3.06" fill="#34268c"/><rect x="477.60" y="358.56" width="3.11" height="3.06" fill="#c92236"/><rect x="480.65" y="358.56" width="3.11" height="3.06" fill="#c92236"/><rect x="483.70" y="358.56" width="3.11" height="3.06" fill="#34268c"/><rect x="486.75" y="358.56" width="3.11" height="3.06" fill="#34268c"/><rect x="453.20" y="361.56" width="3.11" height="3.06" fill="#c92236"/><rect x="456.25" y="361.56" width="3.11" height="3.06" fill="#c92236"/><rect x="459.30" y="361.56" width="3.11" height="3.06" fill="#c92236"/><rect x="462.35" y="361.56" width="3.11" height="3.06" fill="#e6e0f6"/><rect x="465.40" y="361.56" width="3.11" height="3.06" fill="#34268c"/><rect x="468.45" y="361.56" width="3.11" height="3.06" fill="#34268c"/><rect x="471.50" y="361.56" width="3.11" height="3.06" fill="#34268c"/><rect x="474.55" y="361.56" width="3.11" height="3.06" fill="#aaa4e4"/><rect x="477.60" y="361.56" width="3.11" height="3.06" fill="#de5868"/><rect x="480.65" y="361.56" width="3.11" height="3.06" fill="#c92236"/><rect x="483.70" y="361.56" width="3.11" height="3.06" fill="#5c48ac"/><rect x="486.75" y="361.56" width="3.11" height="3.06" fill="#c92236"/><rect x="453.20" y="364.57" width="3.11" height="3.06" fill="#c92236"/><rect x="456.25" y="364.57" width="3.11" height="3.06" fill="#c92236"/><rect x="459.30" y="364.57" width="3.11" height="3.06" fill="#34268c"/><rect x="462.35" y="364.57" width="3.11" height="3.06" fill="#f0a8bc"/><rect x="465.40" y="364.57" width="3.11" height="3.06" fill="#5c48ac"/><rect x="468.45" y="364.57" width="3.11" height="3.06" fill="#e6e0f6"/><rect x="471.50" y="364.57" width="3.11" height="3.06" fill="#e6e0f6"/><rect x="474.55" y="364.57" width="3.11" height="3.06" fill="#aaa4e4"/><rect x="477.60" y="364.57" width="3.11" height="3.06" fill="#aaa4e4"/><rect x="480.65" y="364.57" width="3.11" height="3.06" fill="#34268c"/><rect x="483.70" y="364.57" width="3.11" height="3.06" fill="#34268c"/><rect x="486.75" y="364.57" width="3.11" height="3.06" fill="#34268c"/><rect x="453.20" y="367.57" width="3.11" height="3.06" fill="#de5868"/><rect x="456.25" y="367.57" width="3.11" height="3.06" fill="#de5868"/><rect x="459.30" y="367.57" width="3.11" height="3.06" fill="#e6e0f6"/><rect x="462.35" y="367.57" width="3.11" height="3.06" fill="#e6e0f6"/><rect x="465.40" y="367.57" width="3.11" height="3.06" fill="#5c48ac"/><rect x="468.45" y="367.57" width="3.11" height="3.06" fill="#34268c"/><rect x="471.50" y="367.57" width="3.11" height="3.06" fill="#e6e0f6"/><rect x="474.55" y="367.57" width="3.11" height="3.06" fill="#5c48ac"/><rect x="477.60" y="367.57" width="3.11" height="3.06" fill="#34268c"/><rect x="480.65" y="367.57" width="3.11" height="3.06" fill="#34268c"/><rect x="483.70" y="367.57" width="3.11" height="3.06" fill="#aaa4e4"/><rect x="486.75" y="367.57" width="3.11" height="3.06" fill="#f0a8bc"/><rect x="453.20" y="370.58" width="3.11" height="3.06" fill="#c92236"/><rect x="456.25" y="370.58" width="3.11" height="3.06" fill="#e6e0f6"/><rect x="459.30" y="370.58" width="3.11" height="3.06" fill="#34268c"/><rect x="462.35" y="370.58" width="3.11" height="3.06" fill="#34268c"/><rect x="465.40" y="370.58" width="3.11" height="3.06" fill="#aaa4e4"/><rect x="468.45" y="370.58" width="3.11" height="3.06" fill="#e6e0f6"/><rect x="471.50" y="370.58" width="3.11" height="3.06" fill="#e6e0f6"/><rect x="474.55" y="370.58" width="3.11" height="3.06" fill="#34268c"/><rect x="477.60" y="370.58" width="3.11" height="3.06" fill="#34268c"/><rect x="480.65" y="370.58" width="3.11" height="3.06" fill="#e6e0f6"/><rect x="483.70" y="370.58" width="3.11" height="3.06" fill="#34268c"/><rect x="486.75" y="370.58" width="3.11" height="3.06" fill="#de5868"/><rect x="453.20" y="373.58" width="3.11" height="3.06" fill="#c92236"/><rect x="456.25" y="373.58" width="3.11" height="3.06" fill="#c92236"/><rect x="459.30" y="373.58" width="3.11" height="3.06" fill="#aaa4e4"/><rect x="462.35" y="373.58" width="3.11" height="3.06" fill="#34268c"/><rect x="465.40" y="373.58" width="3.11" height="3.06" fill="#c92236"/><rect x="468.45" y="373.58" width="3.11" height="3.06" fill="#f0a8bc"/><rect x="471.50" y="373.58" width="3.11" height="3.06" fill="#c92236"/><rect x="474.55" y="373.58" width="3.11" height="3.06" fill="#34268c"/><rect x="477.60" y="373.58" width="3.11" height="3.06" fill="#c92236"/><rect x="480.65" y="373.58" width="3.11" height="3.06" fill="#34268c"/><rect x="483.70" y="373.58" width="3.11" height="3.06" fill="#34268c"/><rect x="486.75" y="373.58" width="3.11" height="3.06" fill="#c92236"/><rect x="453.20" y="376.59" width="3.11" height="3.06" fill="#34268c"/><rect x="456.25" y="376.59" width="3.11" height="3.06" fill="#34268c"/><rect x="459.30" y="376.59" width="3.11" height="3.06" fill="#34268c"/><rect x="462.35" y="376.59" width="3.11" height="3.06" fill="#5c48ac"/><rect x="465.40" y="376.59" width="3.11" height="3.06" fill="#c92236"/><rect x="468.45" y="376.59" width="3.11" height="3.06" fill="#aaa4e4"/><rect x="471.50" y="376.59" width="3.11" height="3.06" fill="#e6e0f6"/><rect x="474.55" y="376.59" width="3.11" height="3.06" fill="#de5868"/><rect x="477.60" y="376.59" width="3.11" height="3.06" fill="#c92236"/><rect x="480.65" y="376.59" width="3.11" height="3.06" fill="#c92236"/><rect x="483.70" y="376.59" width="3.11" height="3.06" fill="#aaa4e4"/><rect x="486.75" y="376.59" width="3.11" height="3.06" fill="#34268c"/><rect x="453.20" y="379.59" width="3.11" height="3.06" fill="#c92236"/><rect x="456.25" y="379.59" width="3.11" height="3.06" fill="#e6e0f6"/><rect x="459.30" y="379.59" width="3.11" height="3.06" fill="#34268c"/><rect x="462.35" y="379.59" width="3.11" height="3.06" fill="#e6e0f6"/><rect x="465.40" y="379.59" width="3.11" height="3.06" fill="#c92236"/><rect x="468.45" y="379.59" width="3.11" height="3.06" fill="#34268c"/><rect x="471.50" y="379.59" width="3.11" height="3.06" fill="#5c48ac"/><rect x="474.55" y="379.59" width="3.11" height="3.06" fill="#34268c"/><rect x="477.60" y="379.59" width="3.11" height="3.06" fill="#34268c"/><rect x="480.65" y="379.59" width="3.11" height="3.06" fill="#c92236"/><rect x="483.70" y="379.59" width="3.11" height="3.06" fill="#c92236"/><rect x="486.75" y="379.59" width="3.11" height="3.06" fill="#e6e0f6"/><rect x="453.20" y="382.59" width="3.11" height="3.06" fill="#c92236"/><rect x="456.25" y="382.59" width="3.11" height="3.06" fill="#e6e0f6"/><rect x="459.30" y="382.59" width="3.11" height="3.06" fill="#34268c"/><rect x="462.35" y="382.59" width="3.11" height="3.06" fill="#34268c"/><rect x="465.40" y="382.59" width="3.11" height="3.06" fill="#c92236"/><rect x="468.45" y="382.59" width="3.11" height="3.06" fill="#34268c"/><rect x="471.50" y="382.59" width="3.11" height="3.06" fill="#c92236"/><rect x="474.55" y="382.59" width="3.11" height="3.06" fill="#5c48ac"/><rect x="477.60" y="382.59" width="3.11" height="3.06" fill="#c92236"/><rect x="480.65" y="382.59" width="3.11" height="3.06" fill="#34268c"/><rect x="483.70" y="382.59" width="3.11" height="3.06" fill="#34268c"/><rect x="486.75" y="382.59" width="3.11" height="3.06" fill="#34268c"/><rect x="453.20" y="385.60" width="3.11" height="3.06" fill="#f0a8bc"/><rect x="456.25" y="385.60" width="3.11" height="3.06" fill="#34268c"/><rect x="459.30" y="385.60" width="3.11" height="3.06" fill="#de5868"/><rect x="462.35" y="385.60" width="3.11" height="3.06" fill="#aaa4e4"/><rect x="465.40" y="385.60" width="3.11" height="3.06" fill="#c92236"/><rect x="468.45" y="385.60" width="3.11" height="3.06" fill="#c92236"/><rect x="471.50" y="385.60" width="3.11" height="3.06" fill="#34268c"/><rect x="474.55" y="385.60" width="3.11" height="3.06" fill="#34268c"/><rect x="477.60" y="385.60" width="3.11" height="3.06" fill="#aaa4e4"/><rect x="480.65" y="385.60" width="3.11" height="3.06" fill="#c92236"/><rect x="483.70" y="385.60" width="3.11" height="3.06" fill="#c92236"/><rect x="486.75" y="385.60" width="3.11" height="3.06" fill="#de5868"/><rect x="453.20" y="388.60" width="3.11" height="3.06" fill="#34268c"/><rect x="456.25" y="388.60" width="3.11" height="3.06" fill="#34268c"/><rect x="459.30" y="388.60" width="3.11" height="3.06" fill="#e6e0f6"/><rect x="462.35" y="388.60" width="3.11" height="3.06" fill="#e6e0f6"/><rect x="465.40" y="388.60" width="3.11" height="3.06" fill="#e6e0f6"/><rect x="468.45" y="388.60" width="3.11" height="3.06" fill="#c92236"/><rect x="471.50" y="388.60" width="3.11" height="3.06" fill="#34268c"/><rect x="474.55" y="388.60" width="3.11" height="3.06" fill="#c92236"/><rect x="477.60" y="388.60" width="3.11" height="3.06" fill="#34268c"/><rect x="480.65" y="388.60" width="3.11" height="3.06" fill="#34268c"/><rect x="483.70" y="388.60" width="3.11" height="3.06" fill="#aaa4e4"/><rect x="486.75" y="388.60" width="3.11" height="3.06" fill="#c92236"/><rect x="453.20" y="391.61" width="3.11" height="3.06" fill="#c92236"/><rect x="456.25" y="391.61" width="3.11" height="3.06" fill="#5c48ac"/><rect x="459.30" y="391.61" width="3.11" height="3.06" fill="#de5868"/><rect x="462.35" y="391.61" width="3.11" height="3.06" fill="#c92236"/><rect x="465.40" y="391.61" width="3.11" height="3.06" fill="#f0a8bc"/><rect x="468.45" y="391.61" width="3.11" height="3.06" fill="#c92236"/><rect x="471.50" y="391.61" width="3.11" height="3.06" fill="#aaa4e4"/><rect x="474.55" y="391.61" width="3.11" height="3.06" fill="#c92236"/><rect x="477.60" y="391.61" width="3.11" height="3.06" fill="#e6e0f6"/><rect x="480.65" y="391.61" width="3.11" height="3.06" fill="#c92236"/><rect x="483.70" y="391.61" width="3.11" height="3.06" fill="#34268c"/><rect x="486.75" y="391.61" width="3.11" height="3.06" fill="#34268c"/><rect x="453.20" y="394.61" width="3.11" height="3.06" fill="#de5868"/><rect x="456.25" y="394.61" width="3.11" height="3.06" fill="#34268c"/><rect x="459.30" y="394.61" width="3.11" height="3.06" fill="#c92236"/><rect x="462.35" y="394.61" width="3.11" height="3.06" fill="#34268c"/><rect x="465.40" y="394.61" width="3.11" height="3.06" fill="#de5868"/><rect x="468.45" y="394.61" width="3.11" height="3.06" fill="#34268c"/><rect x="471.50" y="394.61" width="3.11" height="3.06" fill="#c92236"/><rect x="474.55" y="394.61" width="3.11" height="3.06" fill="#c92236"/><rect x="477.60" y="394.61" width="3.11" height="3.06" fill="#c92236"/><rect x="480.65" y="394.61" width="3.11" height="3.06" fill="#c92236"/><rect x="483.70" y="394.61" width="3.11" height="3.06" fill="#34268c"/><rect x="486.75" y="394.61" width="3.11" height="3.06" fill="#34268c"/><rect x="453.20" y="397.62" width="3.11" height="3.06" fill="#c92236"/><rect x="456.25" y="397.62" width="3.11" height="3.06" fill="#e6e0f6"/><rect x="459.30" y="397.62" width="3.11" height="3.06" fill="#34268c"/><rect x="462.35" y="397.62" width="3.11" height="3.06" fill="#34268c"/><rect x="465.40" y="397.62" width="3.11" height="3.06" fill="#34268c"/><rect x="468.45" y="397.62" width="3.11" height="3.06" fill="#e6e0f6"/><rect x="471.50" y="397.62" width="3.11" height="3.06" fill="#34268c"/><rect x="474.55" y="397.62" width="3.11" height="3.06" fill="#5c48ac"/><rect x="477.60" y="397.62" width="3.11" height="3.06" fill="#34268c"/><rect x="480.65" y="397.62" width="3.11" height="3.06" fill="#34268c"/><rect x="483.70" y="397.62" width="3.11" height="3.06" fill="#e6e0f6"/><rect x="486.75" y="397.62" width="3.11" height="3.06" fill="#c92236"/><rect x="453.20" y="400.62" width="3.11" height="3.06" fill="#c92236"/><rect x="456.25" y="400.62" width="3.11" height="3.06" fill="#aaa4e4"/><rect x="459.30" y="400.62" width="3.11" height="3.06" fill="#34268c"/><rect x="462.35" y="400.62" width="3.11" height="3.06" fill="#e6e0f6"/><rect x="465.40" y="400.62" width="3.11" height="3.06" fill="#f0a8bc"/><rect x="468.45" y="400.62" width="3.11" height="3.06" fill="#c92236"/><rect x="471.50" y="400.62" width="3.11" height="3.06" fill="#c92236"/><rect x="474.55" y="400.62" width="3.11" height="3.06" fill="#c92236"/><rect x="477.60" y="400.62" width="3.11" height="3.06" fill="#5c48ac"/><rect x="480.65" y="400.62" width="3.11" height="3.06" fill="#34268c"/><rect x="483.70" y="400.62" width="3.11" height="3.06" fill="#34268c"/><rect x="486.75" y="400.62" width="3.11" height="3.06" fill="#34268c"/><rect x="453.20" y="403.63" width="3.11" height="3.06" fill="#c92236"/><rect x="456.25" y="403.63" width="3.11" height="3.06" fill="#f0a8bc"/><rect x="459.30" y="403.63" width="3.11" height="3.06" fill="#e6e0f6"/><rect x="462.35" y="403.63" width="3.11" height="3.06" fill="#34268c"/><rect x="465.40" y="403.63" width="3.11" height="3.06" fill="#34268c"/><rect x="468.45" y="403.63" width="3.11" height="3.06" fill="#f0a8bc"/><rect x="471.50" y="403.63" width="3.11" height="3.06" fill="#34268c"/><rect x="474.55" y="403.63" width="3.11" height="3.06" fill="#e6e0f6"/><rect x="477.60" y="403.63" width="3.11" height="3.06" fill="#e6e0f6"/><rect x="480.65" y="403.63" width="3.11" height="3.06" fill="#f0a8bc"/><rect x="483.70" y="403.63" width="3.11" height="3.06" fill="#c92236"/><rect x="486.75" y="403.63" width="3.11" height="3.06" fill="#34268c"/><rect x="453.20" y="406.63" width="3.11" height="3.06" fill="#c92236"/><rect x="456.25" y="406.63" width="3.11" height="3.06" fill="#c92236"/><rect x="459.30" y="406.63" width="3.11" height="3.06" fill="#34268c"/><rect x="462.35" y="406.63" width="3.11" height="3.06" fill="#34268c"/><rect x="465.40" y="406.63" width="3.11" height="3.06" fill="#34268c"/><rect x="468.45" y="406.63" width="3.11" height="3.06" fill="#e6e0f6"/><rect x="471.50" y="406.63" width="3.11" height="3.06" fill="#34268c"/><rect x="474.55" y="406.63" width="3.11" height="3.06" fill="#34268c"/><rect x="477.60" y="406.63" width="3.11" height="3.06" fill="#34268c"/><rect x="480.65" y="406.63" width="3.11" height="3.06" fill="#34268c"/><rect x="483.70" y="406.63" width="3.11" height="3.06" fill="#34268c"/><rect x="486.75" y="406.63" width="3.11" height="3.06" fill="#34268c"/><rect x="453.20" y="409.64" width="3.11" height="3.06" fill="#c92236"/><rect x="456.25" y="409.64" width="3.11" height="3.06" fill="#34268c"/><rect x="459.30" y="409.64" width="3.11" height="3.06" fill="#c92236"/><rect x="462.35" y="409.64" width="3.11" height="3.06" fill="#34268c"/><rect x="465.40" y="409.64" width="3.11" height="3.06" fill="#aaa4e4"/><rect x="468.45" y="409.64" width="3.11" height="3.06" fill="#e6e0f6"/><rect x="471.50" y="409.64" width="3.11" height="3.06" fill="#c92236"/><rect x="474.55" y="409.64" width="3.11" height="3.06" fill="#34268c"/><rect x="477.60" y="409.64" width="3.11" height="3.06" fill="#c92236"/><rect x="480.65" y="409.64" width="3.11" height="3.06" fill="#c92236"/><rect x="483.70" y="409.64" width="3.11" height="3.06" fill="#de5868"/><rect x="486.75" y="409.64" width="3.11" height="3.06" fill="#34268c"/><rect x="453.20" y="412.64" width="3.11" height="3.06" fill="#c92236"/><rect x="456.25" y="412.64" width="3.11" height="3.06" fill="#aaa4e4"/><rect x="459.30" y="412.64" width="3.11" height="3.06" fill="#34268c"/><rect x="462.35" y="412.64" width="3.11" height="3.06" fill="#f0a8bc"/><rect x="465.40" y="412.64" width="3.11" height="3.06" fill="#e6e0f6"/><rect x="468.45" y="412.64" width="3.11" height="3.06" fill="#e6e0f6"/><rect x="471.50" y="412.64" width="3.11" height="3.06" fill="#34268c"/><rect x="474.55" y="412.64" width="3.11" height="3.06" fill="#de5868"/><rect x="477.60" y="412.64" width="3.11" height="3.06" fill="#de5868"/><rect x="480.65" y="412.64" width="3.11" height="3.06" fill="#34268c"/><rect x="483.70" y="412.64" width="3.11" height="3.06" fill="#5c48ac"/><rect x="486.75" y="412.64" width="3.11" height="3.06" fill="#c92236"/><rect x="453.20" y="415.64" width="3.11" height="3.06" fill="#c92236"/><rect x="456.25" y="415.64" width="3.11" height="3.06" fill="#c92236"/><rect x="459.30" y="415.64" width="3.11" height="3.06" fill="#34268c"/><rect x="462.35" y="415.64" width="3.11" height="3.06" fill="#34268c"/><rect x="465.40" y="415.64" width="3.11" height="3.06" fill="#34268c"/><rect x="468.45" y="415.64" width="3.11" height="3.06" fill="#34268c"/><rect x="471.50" y="415.64" width="3.11" height="3.06" fill="#5c48ac"/><rect x="474.55" y="415.64" width="3.11" height="3.06" fill="#aaa4e4"/><rect x="477.60" y="415.64" width="3.11" height="3.06" fill="#c92236"/><rect x="480.65" y="415.64" width="3.11" height="3.06" fill="#c92236"/><rect x="483.70" y="415.64" width="3.11" height="3.06" fill="#e6e0f6"/><rect x="486.75" y="415.64" width="3.11" height="3.06" fill="#c92236"/><rect x="453.20" y="418.65" width="3.11" height="3.06" fill="#c92236"/><rect x="456.25" y="418.65" width="3.11" height="3.06" fill="#c92236"/><rect x="459.30" y="418.65" width="3.11" height="3.06" fill="#34268c"/><rect x="462.35" y="418.65" width="3.11" height="3.06" fill="#e6e0f6"/><rect x="465.40" y="418.65" width="3.11" height="3.06" fill="#34268c"/><rect x="468.45" y="418.65" width="3.11" height="3.06" fill="#34268c"/><rect x="471.50" y="418.65" width="3.11" height="3.06" fill="#c92236"/><rect x="474.55" y="418.65" width="3.11" height="3.06" fill="#e6e0f6"/><rect x="477.60" y="418.65" width="3.11" height="3.06" fill="#aaa4e4"/><rect x="480.65" y="418.65" width="3.11" height="3.06" fill="#aaa4e4"/><rect x="483.70" y="418.65" width="3.11" height="3.06" fill="#34268c"/><rect x="486.75" y="418.65" width="3.11" height="3.06" fill="#34268c"/><rect x="453.20" y="421.65" width="3.11" height="3.06" fill="#c92236"/><rect x="456.25" y="421.65" width="3.11" height="3.06" fill="#34268c"/><rect x="459.30" y="421.65" width="3.11" height="3.06" fill="#5c48ac"/><rect x="462.35" y="421.65" width="3.11" height="3.06" fill="#34268c"/><rect x="465.40" y="421.65" width="3.11" height="3.06" fill="#34268c"/><rect x="468.45" y="421.65" width="3.11" height="3.06" fill="#c92236"/><rect x="471.50" y="421.65" width="3.11" height="3.06" fill="#34268c"/><rect x="474.55" y="421.65" width="3.11" height="3.06" fill="#34268c"/><rect x="477.60" y="421.65" width="3.11" height="3.06" fill="#34268c"/><rect x="480.65" y="421.65" width="3.11" height="3.06" fill="#34268c"/><rect x="483.70" y="421.65" width="3.11" height="3.06" fill="#5c48ac"/><rect x="486.75" y="421.65" width="3.11" height="3.06" fill="#34268c"/><rect x="453.20" y="424.66" width="3.11" height="3.06" fill="#f0a8bc"/><rect x="456.25" y="424.66" width="3.11" height="3.06" fill="#34268c"/><rect x="459.30" y="424.66" width="3.11" height="3.06" fill="#34268c"/><rect x="462.35" y="424.66" width="3.11" height="3.06" fill="#f0a8bc"/><rect x="465.40" y="424.66" width="3.11" height="3.06" fill="#5c48ac"/><rect x="468.45" y="424.66" width="3.11" height="3.06" fill="#e6e0f6"/><rect x="471.50" y="424.66" width="3.11" height="3.06" fill="#e6e0f6"/><rect x="474.55" y="424.66" width="3.11" height="3.06" fill="#34268c"/><rect x="477.60" y="424.66" width="3.11" height="3.06" fill="#34268c"/><rect x="480.65" y="424.66" width="3.11" height="3.06" fill="#34268c"/><rect x="483.70" y="424.66" width="3.11" height="3.06" fill="#5c48ac"/><rect x="486.75" y="424.66" width="3.11" height="3.06" fill="#34268c"/><rect x="453.20" y="427.66" width="3.11" height="3.06" fill="#c92236"/><rect x="456.25" y="427.66" width="3.11" height="3.06" fill="#de5868"/><rect x="459.30" y="427.66" width="3.11" height="3.06" fill="#c92236"/><rect x="462.35" y="427.66" width="3.11" height="3.06" fill="#aaa4e4"/><rect x="465.40" y="427.66" width="3.11" height="3.06" fill="#34268c"/><rect x="468.45" y="427.66" width="3.11" height="3.06" fill="#e6e0f6"/><rect x="471.50" y="427.66" width="3.11" height="3.06" fill="#c92236"/><rect x="474.55" y="427.66" width="3.11" height="3.06" fill="#34268c"/><rect x="477.60" y="427.66" width="3.11" height="3.06" fill="#c92236"/><rect x="480.65" y="427.66" width="3.11" height="3.06" fill="#c92236"/><rect x="483.70" y="427.66" width="3.11" height="3.06" fill="#aaa4e4"/><rect x="486.75" y="427.66" width="3.11" height="3.06" fill="#34268c"/><rect x="453.20" y="430.67" width="3.11" height="3.06" fill="#de5868"/><rect x="456.25" y="430.67" width="3.11" height="3.06" fill="#34268c"/><rect x="459.30" y="430.67" width="3.11" height="3.06" fill="#34268c"/><rect x="462.35" y="430.67" width="3.11" height="3.06" fill="#34268c"/><rect x="465.40" y="430.67" width="3.11" height="3.06" fill="#34268c"/><rect x="468.45" y="430.67" width="3.11" height="3.06" fill="#c92236"/><rect x="471.50" y="430.67" width="3.11" height="3.06" fill="#34268c"/><rect x="474.55" y="430.67" width="3.11" height="3.06" fill="#34268c"/><rect x="477.60" y="430.67" width="3.11" height="3.06" fill="#34268c"/><rect x="480.65" y="430.67" width="3.11" height="3.06" fill="#e6e0f6"/><rect x="483.70" y="430.67" width="3.11" height="3.06" fill="#34268c"/><rect x="486.75" y="430.67" width="3.11" height="3.06" fill="#34268c"/><rect x="453.20" y="433.67" width="3.11" height="3.06" fill="#c92236"/><rect x="456.25" y="433.67" width="3.11" height="3.06" fill="#c92236"/><rect x="459.30" y="433.67" width="3.11" height="3.06" fill="#c92236"/><rect x="462.35" y="433.67" width="3.11" height="3.06" fill="#c92236"/><rect x="465.40" y="433.67" width="3.11" height="3.06" fill="#34268c"/><rect x="468.45" y="433.67" width="3.11" height="3.06" fill="#de5868"/><rect x="471.50" y="433.67" width="3.11" height="3.06" fill="#34268c"/><rect x="474.55" y="433.67" width="3.11" height="3.06" fill="#5c48ac"/><rect x="477.60" y="433.67" width="3.11" height="3.06" fill="#34268c"/><rect x="480.65" y="433.67" width="3.11" height="3.06" fill="#34268c"/><rect x="483.70" y="433.67" width="3.11" height="3.06" fill="#de5868"/><rect x="486.75" y="433.67" width="3.11" height="3.06" fill="#34268c"/><rect x="453.20" y="436.68" width="3.11" height="3.06" fill="#c92236"/><rect x="456.25" y="436.68" width="3.11" height="3.06" fill="#aaa4e4"/><rect x="459.30" y="436.68" width="3.11" height="3.06" fill="#de5868"/><rect x="462.35" y="436.68" width="3.11" height="3.06" fill="#34268c"/><rect x="465.40" y="436.68" width="3.11" height="3.06" fill="#aaa4e4"/><rect x="468.45" y="436.68" width="3.11" height="3.06" fill="#5c48ac"/><rect x="471.50" y="436.68" width="3.11" height="3.06" fill="#f0a8bc"/><rect x="474.55" y="436.68" width="3.11" height="3.06" fill="#c92236"/><rect x="477.60" y="436.68" width="3.11" height="3.06" fill="#de5868"/><rect x="480.65" y="436.68" width="3.11" height="3.06" fill="#de5868"/><rect x="483.70" y="436.68" width="3.11" height="3.06" fill="#f0a8bc"/><rect x="486.75" y="436.68" width="3.11" height="3.06" fill="#5c48ac"/><rect x="453.20" y="439.68" width="3.11" height="3.06" fill="#c92236"/><rect x="456.25" y="439.68" width="3.11" height="3.06" fill="#c92236"/><rect x="459.30" y="439.68" width="3.11" height="3.06" fill="#aaa4e4"/><rect x="462.35" y="439.68" width="3.11" height="3.06" fill="#e6e0f6"/><rect x="465.40" y="439.68" width="3.11" height="3.06" fill="#34268c"/><rect x="468.45" y="439.68" width="3.11" height="3.06" fill="#34268c"/><rect x="471.50" y="439.68" width="3.11" height="3.06" fill="#f0a8bc"/><rect x="474.55" y="439.68" width="3.11" height="3.06" fill="#34268c"/><rect x="477.60" y="439.68" width="3.11" height="3.06" fill="#e6e0f6"/><rect x="480.65" y="439.68" width="3.11" height="3.06" fill="#f0a8bc"/><rect x="483.70" y="439.68" width="3.11" height="3.06" fill="#c92236"/><rect x="486.75" y="439.68" width="3.11" height="3.06" fill="#34268c"/><rect x="453.20" y="442.69" width="3.11" height="3.06" fill="#c92236"/><rect x="456.25" y="442.69" width="3.11" height="3.06" fill="#34268c"/><rect x="459.30" y="442.69" width="3.11" height="3.06" fill="#5c48ac"/><rect x="462.35" y="442.69" width="3.11" height="3.06" fill="#34268c"/><rect x="465.40" y="442.69" width="3.11" height="3.06" fill="#34268c"/><rect x="468.45" y="442.69" width="3.11" height="3.06" fill="#e6e0f6"/><rect x="471.50" y="442.69" width="3.11" height="3.06" fill="#5c48ac"/><rect x="474.55" y="442.69" width="3.11" height="3.06" fill="#34268c"/><rect x="477.60" y="442.69" width="3.11" height="3.06" fill="#34268c"/><rect x="480.65" y="442.69" width="3.11" height="3.06" fill="#c92236"/><rect x="483.70" y="442.69" width="3.11" height="3.06" fill="#34268c"/><rect x="486.75" y="442.69" width="3.11" height="3.06" fill="#5c48ac"/><rect x="453.20" y="445.69" width="3.11" height="3.06" fill="#c92236"/><rect x="456.25" y="445.69" width="3.11" height="3.06" fill="#34268c"/><rect x="459.30" y="445.69" width="3.11" height="3.06" fill="#34268c"/><rect x="462.35" y="445.69" width="3.11" height="3.06" fill="#e6e0f6"/><rect x="465.40" y="445.69" width="3.11" height="3.06" fill="#e6e0f6"/><rect x="468.45" y="445.69" width="3.11" height="3.06" fill="#34268c"/><rect x="471.50" y="445.69" width="3.11" height="3.06" fill="#c92236"/><rect x="474.55" y="445.69" width="3.11" height="3.06" fill="#c92236"/><rect x="477.60" y="445.69" width="3.11" height="3.06" fill="#e6e0f6"/><rect x="480.65" y="445.69" width="3.11" height="3.06" fill="#f0a8bc"/><rect x="483.70" y="445.69" width="3.11" height="3.06" fill="#34268c"/><rect x="486.75" y="445.69" width="3.11" height="3.06" fill="#34268c"/><rect x="453.20" y="448.69" width="3.11" height="3.06" fill="#c92236"/><rect x="456.25" y="448.69" width="3.11" height="3.06" fill="#34268c"/><rect x="459.30" y="448.69" width="3.11" height="3.06" fill="#c92236"/><rect x="462.35" y="448.69" width="3.11" height="3.06" fill="#c92236"/><rect x="465.40" y="448.69" width="3.11" height="3.06" fill="#34268c"/><rect x="468.45" y="448.69" width="3.11" height="3.06" fill="#e6e0f6"/><rect x="471.50" y="448.69" width="3.11" height="3.06" fill="#de5868"/><rect x="474.55" y="448.69" width="3.11" height="3.06" fill="#c92236"/><rect x="477.60" y="448.69" width="3.11" height="3.06" fill="#e6e0f6"/><rect x="480.65" y="448.69" width="3.11" height="3.06" fill="#34268c"/><rect x="483.70" y="448.69" width="3.11" height="3.06" fill="#e6e0f6"/><rect x="486.75" y="448.69" width="3.11" height="3.06" fill="#34268c"/><rect x="453.20" y="451.70" width="3.11" height="3.06" fill="#c92236"/><rect x="456.25" y="451.70" width="3.11" height="3.06" fill="#c92236"/><rect x="459.30" y="451.70" width="3.11" height="3.06" fill="#c92236"/><rect x="462.35" y="451.70" width="3.11" height="3.06" fill="#34268c"/><rect x="465.40" y="451.70" width="3.11" height="3.06" fill="#e6e0f6"/><rect x="468.45" y="451.70" width="3.11" height="3.06" fill="#aaa4e4"/><rect x="471.50" y="451.70" width="3.11" height="3.06" fill="#c92236"/><rect x="474.55" y="451.70" width="3.11" height="3.06" fill="#aaa4e4"/><rect x="477.60" y="451.70" width="3.11" height="3.06" fill="#de5868"/><rect x="480.65" y="451.70" width="3.11" height="3.06" fill="#34268c"/><rect x="483.70" y="451.70" width="3.11" height="3.06" fill="#34268c"/><rect x="486.75" y="451.70" width="3.11" height="3.06" fill="#34268c"/><rect x="453.20" y="454.70" width="3.11" height="3.06" fill="#c92236"/><rect x="456.25" y="454.70" width="3.11" height="3.06" fill="#e6e0f6"/><rect x="459.30" y="454.70" width="3.11" height="3.06" fill="#34268c"/><rect x="462.35" y="454.70" width="3.11" height="3.06" fill="#c92236"/><rect x="465.40" y="454.70" width="3.11" height="3.06" fill="#c92236"/><rect x="468.45" y="454.70" width="3.11" height="3.06" fill="#34268c"/><rect x="471.50" y="454.70" width="3.11" height="3.06" fill="#34268c"/><rect x="474.55" y="454.70" width="3.11" height="3.06" fill="#de5868"/><rect x="477.60" y="454.70" width="3.11" height="3.06" fill="#34268c"/><rect x="480.65" y="454.70" width="3.11" height="3.06" fill="#de5868"/><rect x="483.70" y="454.70" width="3.11" height="3.06" fill="#34268c"/><rect x="486.75" y="454.70" width="3.11" height="3.06" fill="#34268c"/><rect x="453.20" y="457.71" width="3.11" height="3.06" fill="#c92236"/><rect x="456.25" y="457.71" width="3.11" height="3.06" fill="#34268c"/><rect x="459.30" y="457.71" width="3.11" height="3.06" fill="#34268c"/><rect x="462.35" y="457.71" width="3.11" height="3.06" fill="#aaa4e4"/><rect x="465.40" y="457.71" width="3.11" height="3.06" fill="#34268c"/><rect x="468.45" y="457.71" width="3.11" height="3.06" fill="#c92236"/><rect x="471.50" y="457.71" width="3.11" height="3.06" fill="#aaa4e4"/><rect x="474.55" y="457.71" width="3.11" height="3.06" fill="#34268c"/><rect x="477.60" y="457.71" width="3.11" height="3.06" fill="#c92236"/><rect x="480.65" y="457.71" width="3.11" height="3.06" fill="#de5868"/><rect x="483.70" y="457.71" width="3.11" height="3.06" fill="#e6e0f6"/><rect x="486.75" y="457.71" width="3.11" height="3.06" fill="#de5868"/><rect x="453.20" y="460.71" width="3.11" height="3.06" fill="#34268c"/><rect x="456.25" y="460.71" width="3.11" height="3.06" fill="#34268c"/><rect x="459.30" y="460.71" width="3.11" height="3.06" fill="#de5868"/><rect x="462.35" y="460.71" width="3.11" height="3.06" fill="#34268c"/><rect x="465.40" y="460.71" width="3.11" height="3.06" fill="#34268c"/><rect x="468.45" y="460.71" width="3.11" height="3.06" fill="#5c48ac"/><rect x="471.50" y="460.71" width="3.11" height="3.06" fill="#34268c"/><rect x="474.55" y="460.71" width="3.11" height="3.06" fill="#34268c"/><rect x="477.60" y="460.71" width="3.11" height="3.06" fill="#e6e0f6"/><rect x="480.65" y="460.71" width="3.11" height="3.06" fill="#34268c"/><rect x="483.70" y="460.71" width="3.11" height="3.06" fill="#e6e0f6"/><rect x="486.75" y="460.71" width="3.11" height="3.06" fill="#c92236"/><rect x="453.20" y="463.72" width="3.11" height="3.06" fill="#c92236"/><rect x="456.25" y="463.72" width="3.11" height="3.06" fill="#34268c"/><rect x="459.30" y="463.72" width="3.11" height="3.06" fill="#c92236"/><rect x="462.35" y="463.72" width="3.11" height="3.06" fill="#34268c"/><rect x="465.40" y="463.72" width="3.11" height="3.06" fill="#34268c"/><rect x="468.45" y="463.72" width="3.11" height="3.06" fill="#c92236"/><rect x="471.50" y="463.72" width="3.11" height="3.06" fill="#e6e0f6"/><rect x="474.55" y="463.72" width="3.11" height="3.06" fill="#c92236"/><rect x="477.60" y="463.72" width="3.11" height="3.06" fill="#c92236"/><rect x="480.65" y="463.72" width="3.11" height="3.06" fill="#5c48ac"/><rect x="483.70" y="463.72" width="3.11" height="3.06" fill="#e6e0f6"/><rect x="486.75" y="463.72" width="3.11" height="3.06" fill="#34268c"/><rect x="453.20" y="466.72" width="3.11" height="3.06" fill="#c92236"/><rect x="456.25" y="466.72" width="3.11" height="3.06" fill="#34268c"/><rect x="459.30" y="466.72" width="3.11" height="3.06" fill="#f0a8bc"/><rect x="462.35" y="466.72" width="3.11" height="3.06" fill="#e6e0f6"/><rect x="465.40" y="466.72" width="3.11" height="3.06" fill="#34268c"/><rect x="468.45" y="466.72" width="3.11" height="3.06" fill="#34268c"/><rect x="471.50" y="466.72" width="3.11" height="3.06" fill="#34268c"/><rect x="474.55" y="466.72" width="3.11" height="3.06" fill="#de5868"/><rect x="477.60" y="466.72" width="3.11" height="3.06" fill="#34268c"/><rect x="480.65" y="466.72" width="3.11" height="3.06" fill="#34268c"/><rect x="483.70" y="466.72" width="3.11" height="3.06" fill="#de5868"/><rect x="486.75" y="466.72" width="3.11" height="3.06" fill="#34268c"/><rect x="453.20" y="469.73" width="3.11" height="3.06" fill="#de5868"/><rect x="456.25" y="469.73" width="3.11" height="3.06" fill="#f0a8bc"/><rect x="459.30" y="469.73" width="3.11" height="3.06" fill="#c92236"/><rect x="462.35" y="469.73" width="3.11" height="3.06" fill="#34268c"/><rect x="465.40" y="469.73" width="3.11" height="3.06" fill="#34268c"/><rect x="468.45" y="469.73" width="3.11" height="3.06" fill="#34268c"/><rect x="471.50" y="469.73" width="3.11" height="3.06" fill="#aaa4e4"/><rect x="474.55" y="469.73" width="3.11" height="3.06" fill="#34268c"/><rect x="477.60" y="469.73" width="3.11" height="3.06" fill="#34268c"/><rect x="480.65" y="469.73" width="3.11" height="3.06" fill="#c92236"/><rect x="483.70" y="469.73" width="3.11" height="3.06" fill="#c92236"/><rect x="486.75" y="469.73" width="3.11" height="3.06" fill="#34268c"/><rect x="453.20" y="472.73" width="3.11" height="3.06" fill="#c92236"/><rect x="456.25" y="472.73" width="3.11" height="3.06" fill="#34268c"/><rect x="459.30" y="472.73" width="3.11" height="3.06" fill="#34268c"/><rect x="462.35" y="472.73" width="3.11" height="3.06" fill="#f0a8bc"/><rect x="465.40" y="472.73" width="3.11" height="3.06" fill="#34268c"/><rect x="468.45" y="472.73" width="3.11" height="3.06" fill="#34268c"/><rect x="471.50" y="472.73" width="3.11" height="3.06" fill="#34268c"/><rect x="474.55" y="472.73" width="3.11" height="3.06" fill="#34268c"/><rect x="477.60" y="472.73" width="3.11" height="3.06" fill="#5c48ac"/><rect x="480.65" y="472.73" width="3.11" height="3.06" fill="#de5868"/><rect x="483.70" y="472.73" width="3.11" height="3.06" fill="#aaa4e4"/><rect x="486.75" y="472.73" width="3.11" height="3.06" fill="#c92236"/><rect x="453.20" y="475.73" width="3.11" height="3.06" fill="#de5868"/><rect x="456.25" y="475.73" width="3.11" height="3.06" fill="#34268c"/><rect x="459.30" y="475.73" width="3.11" height="3.06" fill="#34268c"/><rect x="462.35" y="475.73" width="3.11" height="3.06" fill="#e6e0f6"/><rect x="465.40" y="475.73" width="3.11" height="3.06" fill="#c92236"/><rect x="468.45" y="475.73" width="3.11" height="3.06" fill="#f0a8bc"/><rect x="471.50" y="475.73" width="3.11" height="3.06" fill="#c92236"/><rect x="474.55" y="475.73" width="3.11" height="3.06" fill="#34268c"/><rect x="477.60" y="475.73" width="3.11" height="3.06" fill="#5c48ac"/><rect x="480.65" y="475.73" width="3.11" height="3.06" fill="#c92236"/><rect x="483.70" y="475.73" width="3.11" height="3.06" fill="#c92236"/><rect x="486.75" y="475.73" width="3.11" height="3.06" fill="#aaa4e4"/><rect x="453.20" y="478.74" width="3.11" height="3.06" fill="#c92236"/><rect x="456.25" y="478.74" width="3.11" height="3.06" fill="#aaa4e4"/><rect x="459.30" y="478.74" width="3.11" height="3.06" fill="#c92236"/><rect x="462.35" y="478.74" width="3.11" height="3.06" fill="#de5868"/><rect x="465.40" y="478.74" width="3.11" height="3.06" fill="#34268c"/><rect x="468.45" y="478.74" width="3.11" height="3.06" fill="#c92236"/><rect x="471.50" y="478.74" width="3.11" height="3.06" fill="#34268c"/><rect x="474.55" y="478.74" width="3.11" height="3.06" fill="#34268c"/><rect x="477.60" y="478.74" width="3.11" height="3.06" fill="#34268c"/><rect x="480.65" y="478.74" width="3.11" height="3.06" fill="#34268c"/><rect x="483.70" y="478.74" width="3.11" height="3.06" fill="#34268c"/><rect x="486.75" y="478.74" width="3.11" height="3.06" fill="#c92236"/><rect x="453.20" y="481.74" width="3.11" height="3.06" fill="#c92236"/><rect x="456.25" y="481.74" width="3.11" height="3.06" fill="#f0a8bc"/><rect x="459.30" y="481.74" width="3.11" height="3.06" fill="#34268c"/><rect x="462.35" y="481.74" width="3.11" height="3.06" fill="#5c48ac"/><rect x="465.40" y="481.74" width="3.11" height="3.06" fill="#aaa4e4"/><rect x="468.45" y="481.74" width="3.11" height="3.06" fill="#5c48ac"/><rect x="471.50" y="481.74" width="3.11" height="3.06" fill="#34268c"/><rect x="474.55" y="481.74" width="3.11" height="3.06" fill="#34268c"/><rect x="477.60" y="481.74" width="3.11" height="3.06" fill="#de5868"/><rect x="480.65" y="481.74" width="3.11" height="3.06" fill="#34268c"/><rect x="483.70" y="481.74" width="3.11" height="3.06" fill="#34268c"/><rect x="486.75" y="481.74" width="3.11" height="3.06" fill="#e6e0f6"/><rect x="453.20" y="484.75" width="3.11" height="3.06" fill="#de5868"/><rect x="456.25" y="484.75" width="3.11" height="3.06" fill="#c92236"/><rect x="459.30" y="484.75" width="3.11" height="3.06" fill="#34268c"/><rect x="462.35" y="484.75" width="3.11" height="3.06" fill="#e6e0f6"/><rect x="465.40" y="484.75" width="3.11" height="3.06" fill="#34268c"/><rect x="468.45" y="484.75" width="3.11" height="3.06" fill="#34268c"/><rect x="471.50" y="484.75" width="3.11" height="3.06" fill="#c92236"/><rect x="474.55" y="484.75" width="3.11" height="3.06" fill="#34268c"/><rect x="477.60" y="484.75" width="3.11" height="3.06" fill="#34268c"/><rect x="480.65" y="484.75" width="3.11" height="3.06" fill="#5c48ac"/><rect x="483.70" y="484.75" width="3.11" height="3.06" fill="#34268c"/><rect x="486.75" y="484.75" width="3.11" height="3.06" fill="#34268c"/><rect x="453.20" y="487.75" width="3.11" height="3.06" fill="#c92236"/><rect x="456.25" y="487.75" width="3.11" height="3.06" fill="#c92236"/><rect x="459.30" y="487.75" width="3.11" height="3.06" fill="#34268c"/><rect x="462.35" y="487.75" width="3.11" height="3.06" fill="#34268c"/><rect x="465.40" y="487.75" width="3.11" height="3.06" fill="#aaa4e4"/><rect x="468.45" y="487.75" width="3.11" height="3.06" fill="#e6e0f6"/><rect x="471.50" y="487.75" width="3.11" height="3.06" fill="#34268c"/><rect x="474.55" y="487.75" width="3.11" height="3.06" fill="#34268c"/><rect x="477.60" y="487.75" width="3.11" height="3.06" fill="#e6e0f6"/><rect x="480.65" y="487.75" width="3.11" height="3.06" fill="#c92236"/><rect x="483.70" y="487.75" width="3.11" height="3.06" fill="#c92236"/><rect x="486.75" y="487.75" width="3.11" height="3.06" fill="#34268c"/><rect x="453.20" y="490.76" width="3.11" height="3.06" fill="#de5868"/><rect x="456.25" y="490.76" width="3.11" height="3.06" fill="#c92236"/><rect x="459.30" y="490.76" width="3.11" height="3.06" fill="#5c48ac"/><rect x="462.35" y="490.76" width="3.11" height="3.06" fill="#5c48ac"/><rect x="465.40" y="490.76" width="3.11" height="3.06" fill="#aaa4e4"/><rect x="468.45" y="490.76" width="3.11" height="3.06" fill="#34268c"/><rect x="471.50" y="490.76" width="3.11" height="3.06" fill="#f0a8bc"/><rect x="474.55" y="490.76" width="3.11" height="3.06" fill="#34268c"/><rect x="477.60" y="490.76" width="3.11" height="3.06" fill="#f0a8bc"/><rect x="480.65" y="490.76" width="3.11" height="3.06" fill="#34268c"/><rect x="483.70" y="490.76" width="3.11" height="3.06" fill="#34268c"/><rect x="486.75" y="490.76" width="3.11" height="3.06" fill="#5c48ac"/><rect x="453.20" y="493.76" width="3.11" height="3.06" fill="#c92236"/><rect x="456.25" y="493.76" width="3.11" height="3.06" fill="#34268c"/><rect x="459.30" y="493.76" width="3.11" height="3.06" fill="#e6e0f6"/><rect x="462.35" y="493.76" width="3.11" height="3.06" fill="#34268c"/><rect x="465.40" y="493.76" width="3.11" height="3.06" fill="#34268c"/><rect x="468.45" y="493.76" width="3.11" height="3.06" fill="#c92236"/><rect x="471.50" y="493.76" width="3.11" height="3.06" fill="#c92236"/><rect x="474.55" y="493.76" width="3.11" height="3.06" fill="#34268c"/><rect x="477.60" y="493.76" width="3.11" height="3.06" fill="#34268c"/><rect x="480.65" y="493.76" width="3.11" height="3.06" fill="#34268c"/><rect x="483.70" y="493.76" width="3.11" height="3.06" fill="#34268c"/><rect x="486.75" y="493.76" width="3.11" height="3.06" fill="#34268c"/><rect x="453.20" y="496.77" width="3.11" height="3.06" fill="#c92236"/><rect x="456.25" y="496.77" width="3.11" height="3.06" fill="#c92236"/><rect x="459.30" y="496.77" width="3.11" height="3.06" fill="#f0a8bc"/><rect x="462.35" y="496.77" width="3.11" height="3.06" fill="#c92236"/><rect x="465.40" y="496.77" width="3.11" height="3.06" fill="#34268c"/><rect x="468.45" y="496.77" width="3.11" height="3.06" fill="#aaa4e4"/><rect x="471.50" y="496.77" width="3.11" height="3.06" fill="#c92236"/><rect x="474.55" y="496.77" width="3.11" height="3.06" fill="#aaa4e4"/><rect x="477.60" y="496.77" width="3.11" height="3.06" fill="#aaa4e4"/><rect x="480.65" y="496.77" width="3.11" height="3.06" fill="#de5868"/><rect x="483.70" y="496.77" width="3.11" height="3.06" fill="#e6e0f6"/><rect x="486.75" y="496.77" width="3.11" height="3.06" fill="#c92236"/><rect x="453.20" y="499.77" width="3.11" height="3.06" fill="#c92236"/><rect x="456.25" y="499.77" width="3.11" height="3.06" fill="#aaa4e4"/><rect x="459.30" y="499.77" width="3.11" height="3.06" fill="#34268c"/><rect x="462.35" y="499.77" width="3.11" height="3.06" fill="#c92236"/><rect x="465.40" y="499.77" width="3.11" height="3.06" fill="#de5868"/><rect x="468.45" y="499.77" width="3.11" height="3.06" fill="#c92236"/><rect x="471.50" y="499.77" width="3.11" height="3.06" fill="#5c48ac"/><rect x="474.55" y="499.77" width="3.11" height="3.06" fill="#c92236"/><rect x="477.60" y="499.77" width="3.11" height="3.06" fill="#aaa4e4"/><rect x="480.65" y="499.77" width="3.11" height="3.06" fill="#e6e0f6"/><rect x="483.70" y="499.77" width="3.11" height="3.06" fill="#de5868"/><rect x="486.75" y="499.77" width="3.11" height="3.06" fill="#34268c"/><rect x="453.20" y="502.77" width="3.11" height="3.06" fill="#de5868"/><rect x="456.25" y="502.77" width="3.11" height="3.06" fill="#aaa4e4"/><rect x="459.30" y="502.77" width="3.11" height="3.06" fill="#34268c"/><rect x="462.35" y="502.77" width="3.11" height="3.06" fill="#e6e0f6"/><rect x="465.40" y="502.77" width="3.11" height="3.06" fill="#5c48ac"/><rect x="468.45" y="502.77" width="3.11" height="3.06" fill="#34268c"/><rect x="471.50" y="502.77" width="3.11" height="3.06" fill="#34268c"/><rect x="474.55" y="502.77" width="3.11" height="3.06" fill="#de5868"/><rect x="477.60" y="502.77" width="3.11" height="3.06" fill="#34268c"/><rect x="480.65" y="502.77" width="3.11" height="3.06" fill="#34268c"/><rect x="483.70" y="502.77" width="3.11" height="3.06" fill="#34268c"/><rect x="486.75" y="502.77" width="3.11" height="3.06" fill="#34268c"/><rect x="453.20" y="505.78" width="3.11" height="3.06" fill="#c92236"/><rect x="456.25" y="505.78" width="3.11" height="3.06" fill="#c92236"/><rect x="459.30" y="505.78" width="3.11" height="3.06" fill="#5c48ac"/><rect x="462.35" y="505.78" width="3.11" height="3.06" fill="#f0a8bc"/><rect x="465.40" y="505.78" width="3.11" height="3.06" fill="#34268c"/><rect x="468.45" y="505.78" width="3.11" height="3.06" fill="#e6e0f6"/><rect x="471.50" y="505.78" width="3.11" height="3.06" fill="#34268c"/><rect x="474.55" y="505.78" width="3.11" height="3.06" fill="#34268c"/><rect x="477.60" y="505.78" width="3.11" height="3.06" fill="#34268c"/><rect x="480.65" y="505.78" width="3.11" height="3.06" fill="#e6e0f6"/><rect x="483.70" y="505.78" width="3.11" height="3.06" fill="#34268c"/><rect x="486.75" y="505.78" width="3.11" height="3.06" fill="#34268c"/><rect x="453.20" y="508.78" width="3.11" height="3.06" fill="#de5868"/><rect x="456.25" y="508.78" width="3.11" height="3.06" fill="#34268c"/><rect x="459.30" y="508.78" width="3.11" height="3.06" fill="#5c48ac"/><rect x="462.35" y="508.78" width="3.11" height="3.06" fill="#e6e0f6"/><rect x="465.40" y="508.78" width="3.11" height="3.06" fill="#e6e0f6"/><rect x="468.45" y="508.78" width="3.11" height="3.06" fill="#c92236"/><rect x="471.50" y="508.78" width="3.11" height="3.06" fill="#c92236"/><rect x="474.55" y="508.78" width="3.11" height="3.06" fill="#34268c"/><rect x="477.60" y="508.78" width="3.11" height="3.06" fill="#34268c"/><rect x="480.65" y="508.78" width="3.11" height="3.06" fill="#34268c"/><rect x="483.70" y="508.78" width="3.11" height="3.06" fill="#5c48ac"/><rect x="486.75" y="508.78" width="3.11" height="3.06" fill="#de5868"/><rect x="453.20" y="511.79" width="3.11" height="3.06" fill="#de5868"/><rect x="456.25" y="511.79" width="3.11" height="3.06" fill="#f0a8bc"/><rect x="459.30" y="511.79" width="3.11" height="3.06" fill="#34268c"/><rect x="462.35" y="511.79" width="3.11" height="3.06" fill="#f0a8bc"/><rect x="465.40" y="511.79" width="3.11" height="3.06" fill="#34268c"/><rect x="468.45" y="511.79" width="3.11" height="3.06" fill="#e6e0f6"/><rect x="471.50" y="511.79" width="3.11" height="3.06" fill="#de5868"/><rect x="474.55" y="511.79" width="3.11" height="3.06" fill="#c92236"/><rect x="477.60" y="511.79" width="3.11" height="3.06" fill="#e6e0f6"/><rect x="480.65" y="511.79" width="3.11" height="3.06" fill="#34268c"/><rect x="483.70" y="511.79" width="3.11" height="3.06" fill="#34268c"/><rect x="486.75" y="511.79" width="3.11" height="3.06" fill="#e6e0f6"/><rect x="453.20" y="514.79" width="3.11" height="3.06" fill="#de5868"/><rect x="456.25" y="514.79" width="3.11" height="3.06" fill="#34268c"/><rect x="459.30" y="514.79" width="3.11" height="3.06" fill="#e6e0f6"/><rect x="462.35" y="514.79" width="3.11" height="3.06" fill="#34268c"/><rect x="465.40" y="514.79" width="3.11" height="3.06" fill="#34268c"/><rect x="468.45" y="514.79" width="3.11" height="3.06" fill="#34268c"/><rect x="471.50" y="514.79" width="3.11" height="3.06" fill="#34268c"/><rect x="474.55" y="514.79" width="3.11" height="3.06" fill="#de5868"/><rect x="477.60" y="514.79" width="3.11" height="3.06" fill="#34268c"/><rect x="480.65" y="514.79" width="3.11" height="3.06" fill="#c92236"/><rect x="483.70" y="514.79" width="3.11" height="3.06" fill="#c92236"/><rect x="486.75" y="514.79" width="3.11" height="3.06" fill="#34268c"/><rect x="453.20" y="517.80" width="3.11" height="3.06" fill="#c92236"/><rect x="456.25" y="517.80" width="3.11" height="3.06" fill="#34268c"/><rect x="459.30" y="517.80" width="3.11" height="3.06" fill="#de5868"/><rect x="462.35" y="517.80" width="3.11" height="3.06" fill="#c92236"/><rect x="465.40" y="517.80" width="3.11" height="3.06" fill="#5c48ac"/><rect x="468.45" y="517.80" width="3.11" height="3.06" fill="#5c48ac"/><rect x="471.50" y="517.80" width="3.11" height="3.06" fill="#34268c"/><rect x="474.55" y="517.80" width="3.11" height="3.06" fill="#e6e0f6"/><rect x="477.60" y="517.80" width="3.11" height="3.06" fill="#c92236"/><rect x="480.65" y="517.80" width="3.11" height="3.06" fill="#34268c"/><rect x="483.70" y="517.80" width="3.11" height="3.06" fill="#e6e0f6"/><rect x="486.75" y="517.80" width="3.11" height="3.06" fill="#c92236"/><rect x="453.20" y="520.80" width="3.11" height="3.06" fill="#f0a8bc"/><rect x="456.25" y="520.80" width="3.11" height="3.06" fill="#5c48ac"/><rect x="459.30" y="520.80" width="3.11" height="3.06" fill="#de5868"/><rect x="462.35" y="520.80" width="3.11" height="3.06" fill="#34268c"/><rect x="465.40" y="520.80" width="3.11" height="3.06" fill="#34268c"/><rect x="468.45" y="520.80" width="3.11" height="3.06" fill="#34268c"/><rect x="471.50" y="520.80" width="3.11" height="3.06" fill="#e6e0f6"/><rect x="474.55" y="520.80" width="3.11" height="3.06" fill="#34268c"/><rect x="477.60" y="520.80" width="3.11" height="3.06" fill="#34268c"/><rect x="480.65" y="520.80" width="3.11" height="3.06" fill="#c92236"/><rect x="483.70" y="520.80" width="3.11" height="3.06" fill="#34268c"/><rect x="486.75" y="520.80" width="3.11" height="3.06" fill="#34268c"/><rect x="453.20" y="523.81" width="3.11" height="3.06" fill="#c92236"/><rect x="456.25" y="523.81" width="3.11" height="3.06" fill="#34268c"/><rect x="459.30" y="523.81" width="3.11" height="3.06" fill="#de5868"/><rect x="462.35" y="523.81" width="3.11" height="3.06" fill="#c92236"/><rect x="465.40" y="523.81" width="3.11" height="3.06" fill="#34268c"/><rect x="468.45" y="523.81" width="3.11" height="3.06" fill="#34268c"/><rect x="471.50" y="523.81" width="3.11" height="3.06" fill="#34268c"/><rect x="474.55" y="523.81" width="3.11" height="3.06" fill="#aaa4e4"/><rect x="477.60" y="523.81" width="3.11" height="3.06" fill="#c92236"/><rect x="480.65" y="523.81" width="3.11" height="3.06" fill="#e6e0f6"/><rect x="483.70" y="523.81" width="3.11" height="3.06" fill="#34268c"/><rect x="486.75" y="523.81" width="3.11" height="3.06" fill="#f0a8bc"/><rect x="453.20" y="526.81" width="3.11" height="3.06" fill="#34268c"/><rect x="456.25" y="526.81" width="3.11" height="3.06" fill="#34268c"/><rect x="459.30" y="526.81" width="3.11" height="3.06" fill="#e6e0f6"/><rect x="462.35" y="526.81" width="3.11" height="3.06" fill="#34268c"/><rect x="465.40" y="526.81" width="3.11" height="3.06" fill="#c92236"/><rect x="468.45" y="526.81" width="3.11" height="3.06" fill="#5c48ac"/><rect x="471.50" y="526.81" width="3.11" height="3.06" fill="#34268c"/><rect x="474.55" y="526.81" width="3.11" height="3.06" fill="#34268c"/><rect x="477.60" y="526.81" width="3.11" height="3.06" fill="#34268c"/><rect x="480.65" y="526.81" width="3.11" height="3.06" fill="#34268c"/><rect x="483.70" y="526.81" width="3.11" height="3.06" fill="#de5868"/><rect x="486.75" y="526.81" width="3.11" height="3.06" fill="#de5868"/><rect x="453.20" y="529.82" width="3.11" height="3.06" fill="#f0a8bc"/><rect x="456.25" y="529.82" width="3.11" height="3.06" fill="#f0a8bc"/><rect x="459.30" y="529.82" width="3.11" height="3.06" fill="#c92236"/><rect x="462.35" y="529.82" width="3.11" height="3.06" fill="#34268c"/><rect x="465.40" y="529.82" width="3.11" height="3.06" fill="#34268c"/><rect x="468.45" y="529.82" width="3.11" height="3.06" fill="#c92236"/><rect x="471.50" y="529.82" width="3.11" height="3.06" fill="#c92236"/><rect x="474.55" y="529.82" width="3.11" height="3.06" fill="#34268c"/><rect x="477.60" y="529.82" width="3.11" height="3.06" fill="#aaa4e4"/><rect x="480.65" y="529.82" width="3.11" height="3.06" fill="#c92236"/><rect x="483.70" y="529.82" width="3.11" height="3.06" fill="#e6e0f6"/><rect x="486.75" y="529.82" width="3.11" height="3.06" fill="#c92236"/><rect x="453.20" y="532.82" width="3.11" height="3.06" fill="#f0a8bc"/><rect x="456.25" y="532.82" width="3.11" height="3.06" fill="#34268c"/><rect x="459.30" y="532.82" width="3.11" height="3.06" fill="#e6e0f6"/><rect x="462.35" y="532.82" width="3.11" height="3.06" fill="#aaa4e4"/><rect x="465.40" y="532.82" width="3.11" height="3.06" fill="#34268c"/><rect x="468.45" y="532.82" width="3.11" height="3.06" fill="#34268c"/><rect x="471.50" y="532.82" width="3.11" height="3.06" fill="#de5868"/><rect x="474.55" y="532.82" width="3.11" height="3.06" fill="#aaa4e4"/><rect x="477.60" y="532.82" width="3.11" height="3.06" fill="#34268c"/><rect x="480.65" y="532.82" width="3.11" height="3.06" fill="#5c48ac"/><rect x="483.70" y="532.82" width="3.11" height="3.06" fill="#5c48ac"/><rect x="486.75" y="532.82" width="3.11" height="3.06" fill="#34268c"/><rect x="453.20" y="535.82" width="3.11" height="3.06" fill="#c92236"/><rect x="456.25" y="535.82" width="3.11" height="3.06" fill="#c92236"/><rect x="459.30" y="535.82" width="3.11" height="3.06" fill="#5c48ac"/><rect x="462.35" y="535.82" width="3.11" height="3.06" fill="#34268c"/><rect x="465.40" y="535.82" width="3.11" height="3.06" fill="#34268c"/><rect x="468.45" y="535.82" width="3.11" height="3.06" fill="#c92236"/><rect x="471.50" y="535.82" width="3.11" height="3.06" fill="#34268c"/><rect x="474.55" y="535.82" width="3.11" height="3.06" fill="#34268c"/><rect x="477.60" y="535.82" width="3.11" height="3.06" fill="#c92236"/><rect x="480.65" y="535.82" width="3.11" height="3.06" fill="#34268c"/><rect x="483.70" y="535.82" width="3.11" height="3.06" fill="#f0a8bc"/><rect x="486.75" y="535.82" width="3.11" height="3.06" fill="#e6e0f6"/><rect x="453.20" y="538.83" width="3.11" height="3.06" fill="#c92236"/><rect x="456.25" y="538.83" width="3.11" height="3.06" fill="#f0a8bc"/><rect x="459.30" y="538.83" width="3.11" height="3.06" fill="#34268c"/><rect x="462.35" y="538.83" width="3.11" height="3.06" fill="#5c48ac"/><rect x="465.40" y="538.83" width="3.11" height="3.06" fill="#de5868"/><rect x="468.45" y="538.83" width="3.11" height="3.06" fill="#34268c"/><rect x="471.50" y="538.83" width="3.11" height="3.06" fill="#de5868"/><rect x="474.55" y="538.83" width="3.11" height="3.06" fill="#34268c"/><rect x="477.60" y="538.83" width="3.11" height="3.06" fill="#de5868"/><rect x="480.65" y="538.83" width="3.11" height="3.06" fill="#34268c"/><rect x="483.70" y="538.83" width="3.11" height="3.06" fill="#34268c"/><rect x="486.75" y="538.83" width="3.11" height="3.06" fill="#c92236"/><rect x="453.20" y="541.83" width="3.11" height="3.06" fill="#c92236"/><rect x="456.25" y="541.83" width="3.11" height="3.06" fill="#c92236"/><rect x="459.30" y="541.83" width="3.11" height="3.06" fill="#c92236"/><rect x="462.35" y="541.83" width="3.11" height="3.06" fill="#34268c"/><rect x="465.40" y="541.83" width="3.11" height="3.06" fill="#34268c"/><rect x="468.45" y="541.83" width="3.11" height="3.06" fill="#aaa4e4"/><rect x="471.50" y="541.83" width="3.11" height="3.06" fill="#c92236"/><rect x="474.55" y="541.83" width="3.11" height="3.06" fill="#c92236"/><rect x="477.60" y="541.83" width="3.11" height="3.06" fill="#5c48ac"/><rect x="480.65" y="541.83" width="3.11" height="3.06" fill="#34268c"/><rect x="483.70" y="541.83" width="3.11" height="3.06" fill="#c92236"/><rect x="486.75" y="541.83" width="3.11" height="3.06" fill="#c92236"/><rect x="453.20" y="544.84" width="3.11" height="3.06" fill="#c92236"/><rect x="456.25" y="544.84" width="3.11" height="3.06" fill="#34268c"/><rect x="459.30" y="544.84" width="3.11" height="3.06" fill="#34268c"/><rect x="462.35" y="544.84" width="3.11" height="3.06" fill="#f0a8bc"/><rect x="465.40" y="544.84" width="3.11" height="3.06" fill="#34268c"/><rect x="468.45" y="544.84" width="3.11" height="3.06" fill="#34268c"/><rect x="471.50" y="544.84" width="3.11" height="3.06" fill="#5c48ac"/><rect x="474.55" y="544.84" width="3.11" height="3.06" fill="#34268c"/><rect x="477.60" y="544.84" width="3.11" height="3.06" fill="#34268c"/><rect x="480.65" y="544.84" width="3.11" height="3.06" fill="#c92236"/><rect x="483.70" y="544.84" width="3.11" height="3.06" fill="#34268c"/><rect x="486.75" y="544.84" width="3.11" height="3.06" fill="#34268c"/><rect x="453.20" y="547.84" width="3.11" height="3.06" fill="#c92236"/><rect x="456.25" y="547.84" width="3.11" height="3.06" fill="#e6e0f6"/><rect x="459.30" y="547.84" width="3.11" height="3.06" fill="#f0a8bc"/><rect x="462.35" y="547.84" width="3.11" height="3.06" fill="#34268c"/><rect x="465.40" y="547.84" width="3.11" height="3.06" fill="#c92236"/><rect x="468.45" y="547.84" width="3.11" height="3.06" fill="#f0a8bc"/><rect x="471.50" y="547.84" width="3.11" height="3.06" fill="#aaa4e4"/><rect x="474.55" y="547.84" width="3.11" height="3.06" fill="#de5868"/><rect x="477.60" y="547.84" width="3.11" height="3.06" fill="#f0a8bc"/><rect x="480.65" y="547.84" width="3.11" height="3.06" fill="#34268c"/><rect x="483.70" y="547.84" width="3.11" height="3.06" fill="#34268c"/><rect x="486.75" y="547.84" width="3.11" height="3.06" fill="#c92236"/><rect x="453.20" y="550.85" width="3.11" height="3.06" fill="#34268c"/><rect x="456.25" y="550.85" width="3.11" height="3.06" fill="#c92236"/><rect x="459.30" y="550.85" width="3.11" height="3.06" fill="#5c48ac"/><rect x="462.35" y="550.85" width="3.11" height="3.06" fill="#de5868"/><rect x="465.40" y="550.85" width="3.11" height="3.06" fill="#34268c"/><rect x="468.45" y="550.85" width="3.11" height="3.06" fill="#34268c"/><rect x="471.50" y="550.85" width="3.11" height="3.06" fill="#5c48ac"/><rect x="474.55" y="550.85" width="3.11" height="3.06" fill="#34268c"/><rect x="477.60" y="550.85" width="3.11" height="3.06" fill="#34268c"/><rect x="480.65" y="550.85" width="3.11" height="3.06" fill="#34268c"/><rect x="483.70" y="550.85" width="3.11" height="3.06" fill="#aaa4e4"/><rect x="486.75" y="550.85" width="3.11" height="3.06" fill="#f0a8bc"/><rect x="453.20" y="553.85" width="3.11" height="3.06" fill="#c92236"/><rect x="456.25" y="553.85" width="3.11" height="3.06" fill="#34268c"/><rect x="459.30" y="553.85" width="3.11" height="3.06" fill="#c92236"/><rect x="462.35" y="553.85" width="3.11" height="3.06" fill="#34268c"/><rect x="465.40" y="553.85" width="3.11" height="3.06" fill="#34268c"/><rect x="468.45" y="553.85" width="3.11" height="3.06" fill="#34268c"/><rect x="471.50" y="553.85" width="3.11" height="3.06" fill="#34268c"/><rect x="474.55" y="553.85" width="3.11" height="3.06" fill="#c92236"/><rect x="477.60" y="553.85" width="3.11" height="3.06" fill="#c92236"/><rect x="480.65" y="553.85" width="3.11" height="3.06" fill="#34268c"/><rect x="483.70" y="553.85" width="3.11" height="3.06" fill="#c92236"/><rect x="486.75" y="553.85" width="3.11" height="3.06" fill="#e6e0f6"/><rect x="453.20" y="556.86" width="3.11" height="3.06" fill="#c92236"/><rect x="456.25" y="556.86" width="3.11" height="3.06" fill="#c92236"/><rect x="459.30" y="556.86" width="3.11" height="3.06" fill="#5c48ac"/><rect x="462.35" y="556.86" width="3.11" height="3.06" fill="#34268c"/><rect x="465.40" y="556.86" width="3.11" height="3.06" fill="#c92236"/><rect x="468.45" y="556.86" width="3.11" height="3.06" fill="#5c48ac"/><rect x="471.50" y="556.86" width="3.11" height="3.06" fill="#34268c"/><rect x="474.55" y="556.86" width="3.11" height="3.06" fill="#34268c"/><rect x="477.60" y="556.86" width="3.11" height="3.06" fill="#f0a8bc"/><rect x="480.65" y="556.86" width="3.11" height="3.06" fill="#34268c"/><rect x="483.70" y="556.86" width="3.11" height="3.06" fill="#34268c"/><rect x="486.75" y="556.86" width="3.11" height="3.06" fill="#de5868"/><rect x="453.20" y="559.86" width="3.11" height="3.06" fill="#de5868"/><rect x="456.25" y="559.86" width="3.11" height="3.06" fill="#c92236"/><rect x="459.30" y="559.86" width="3.11" height="3.06" fill="#aaa4e4"/><rect x="462.35" y="559.86" width="3.11" height="3.06" fill="#f0a8bc"/><rect x="465.40" y="559.86" width="3.11" height="3.06" fill="#de5868"/><rect x="468.45" y="559.86" width="3.11" height="3.06" fill="#5c48ac"/><rect x="471.50" y="559.86" width="3.11" height="3.06" fill="#34268c"/><rect x="474.55" y="559.86" width="3.11" height="3.06" fill="#34268c"/><rect x="477.60" y="559.86" width="3.11" height="3.06" fill="#34268c"/><rect x="480.65" y="559.86" width="3.11" height="3.06" fill="#34268c"/><rect x="483.70" y="559.86" width="3.11" height="3.06" fill="#aaa4e4"/><rect x="486.75" y="559.86" width="3.11" height="3.06" fill="#aaa4e4"/><rect x="453.20" y="562.86" width="3.11" height="3.06" fill="#c92236"/><rect x="456.25" y="562.86" width="3.11" height="3.06" fill="#5c48ac"/><rect x="459.30" y="562.86" width="3.11" height="3.06" fill="#f0a8bc"/><rect x="462.35" y="562.86" width="3.11" height="3.06" fill="#c92236"/><rect x="465.40" y="562.86" width="3.11" height="3.06" fill="#e6e0f6"/><rect x="468.45" y="562.86" width="3.11" height="3.06" fill="#34268c"/><rect x="471.50" y="562.86" width="3.11" height="3.06" fill="#c92236"/><rect x="474.55" y="562.86" width="3.11" height="3.06" fill="#e6e0f6"/><rect x="477.60" y="562.86" width="3.11" height="3.06" fill="#e6e0f6"/><rect x="480.65" y="562.86" width="3.11" height="3.06" fill="#34268c"/><rect x="483.70" y="562.86" width="3.11" height="3.06" fill="#c92236"/><rect x="486.75" y="562.86" width="3.11" height="3.06" fill="#c92236"/><rect x="453.20" y="565.87" width="3.11" height="3.06" fill="#c92236"/><rect x="456.25" y="565.87" width="3.11" height="3.06" fill="#c92236"/><rect x="459.30" y="565.87" width="3.11" height="3.06" fill="#c92236"/><rect x="462.35" y="565.87" width="3.11" height="3.06" fill="#34268c"/><rect x="465.40" y="565.87" width="3.11" height="3.06" fill="#c92236"/><rect x="468.45" y="565.87" width="3.11" height="3.06" fill="#5c48ac"/><rect x="471.50" y="565.87" width="3.11" height="3.06" fill="#c92236"/><rect x="474.55" y="565.87" width="3.11" height="3.06" fill="#c92236"/><rect x="477.60" y="565.87" width="3.11" height="3.06" fill="#aaa4e4"/><rect x="480.65" y="565.87" width="3.11" height="3.06" fill="#34268c"/><rect x="483.70" y="565.87" width="3.11" height="3.06" fill="#34268c"/><rect x="486.75" y="565.87" width="3.11" height="3.06" fill="#34268c"/><rect x="453.20" y="568.87" width="3.11" height="3.06" fill="#c92236"/><rect x="456.25" y="568.87" width="3.11" height="3.06" fill="#e6e0f6"/><rect x="459.30" y="568.87" width="3.11" height="3.06" fill="#e6e0f6"/><rect x="462.35" y="568.87" width="3.11" height="3.06" fill="#c92236"/><rect x="465.40" y="568.87" width="3.11" height="3.06" fill="#c92236"/><rect x="468.45" y="568.87" width="3.11" height="3.06" fill="#34268c"/><rect x="471.50" y="568.87" width="3.11" height="3.06" fill="#c92236"/><rect x="474.55" y="568.87" width="3.11" height="3.06" fill="#c92236"/><rect x="477.60" y="568.87" width="3.11" height="3.06" fill="#aaa4e4"/><rect x="480.65" y="568.87" width="3.11" height="3.06" fill="#34268c"/><rect x="483.70" y="568.87" width="3.11" height="3.06" fill="#e6e0f6"/><rect x="486.75" y="568.87" width="3.11" height="3.06" fill="#34268c"/><rect x="453.20" y="571.88" width="3.11" height="3.06" fill="#34268c"/><rect x="456.25" y="571.88" width="3.11" height="3.06" fill="#c92236"/><rect x="459.30" y="571.88" width="3.11" height="3.06" fill="#e6e0f6"/><rect x="462.35" y="571.88" width="3.11" height="3.06" fill="#34268c"/><rect x="465.40" y="571.88" width="3.11" height="3.06" fill="#c92236"/><rect x="468.45" y="571.88" width="3.11" height="3.06" fill="#c92236"/><rect x="471.50" y="571.88" width="3.11" height="3.06" fill="#c92236"/><rect x="474.55" y="571.88" width="3.11" height="3.06" fill="#c92236"/><rect x="477.60" y="571.88" width="3.11" height="3.06" fill="#c92236"/><rect x="480.65" y="571.88" width="3.11" height="3.06" fill="#c92236"/><rect x="483.70" y="571.88" width="3.11" height="3.06" fill="#e6e0f6"/><rect x="486.75" y="571.88" width="3.11" height="3.06" fill="#c92236"/><rect x="453.20" y="574.88" width="3.11" height="3.06" fill="#34268c"/><rect x="456.25" y="574.88" width="3.11" height="3.06" fill="#34268c"/><rect x="459.30" y="574.88" width="3.11" height="3.06" fill="#34268c"/><rect x="462.35" y="574.88" width="3.11" height="3.06" fill="#de5868"/><rect x="465.40" y="574.88" width="3.11" height="3.06" fill="#e6e0f6"/><rect x="468.45" y="574.88" width="3.11" height="3.06" fill="#c92236"/><rect x="471.50" y="574.88" width="3.11" height="3.06" fill="#34268c"/><rect x="474.55" y="574.88" width="3.11" height="3.06" fill="#34268c"/><rect x="477.60" y="574.88" width="3.11" height="3.06" fill="#de5868"/><rect x="480.65" y="574.88" width="3.11" height="3.06" fill="#e6e0f6"/><rect x="483.70" y="574.88" width="3.11" height="3.06" fill="#34268c"/><rect x="486.75" y="574.88" width="3.11" height="3.06" fill="#c92236"/><rect x="453.20" y="577.89" width="3.11" height="3.06" fill="#f0a8bc"/><rect x="456.25" y="577.89" width="3.11" height="3.06" fill="#c92236"/><rect x="459.30" y="577.89" width="3.11" height="3.06" fill="#c92236"/><rect x="462.35" y="577.89" width="3.11" height="3.06" fill="#c92236"/><rect x="465.40" y="577.89" width="3.11" height="3.06" fill="#5c48ac"/><rect x="468.45" y="577.89" width="3.11" height="3.06" fill="#34268c"/><rect x="471.50" y="577.89" width="3.11" height="3.06" fill="#f0a8bc"/><rect x="474.55" y="577.89" width="3.11" height="3.06" fill="#e6e0f6"/><rect x="477.60" y="577.89" width="3.11" height="3.06" fill="#34268c"/><rect x="480.65" y="577.89" width="3.11" height="3.06" fill="#34268c"/><rect x="483.70" y="577.89" width="3.11" height="3.06" fill="#c92236"/><rect x="486.75" y="577.89" width="3.11" height="3.06" fill="#34268c"/><rect x="453.20" y="580.89" width="3.11" height="3.06" fill="#c92236"/><rect x="456.25" y="580.89" width="3.11" height="3.06" fill="#aaa4e4"/><rect x="459.30" y="580.89" width="3.11" height="3.06" fill="#34268c"/><rect x="462.35" y="580.89" width="3.11" height="3.06" fill="#c92236"/><rect x="465.40" y="580.89" width="3.11" height="3.06" fill="#34268c"/><rect x="468.45" y="580.89" width="3.11" height="3.06" fill="#c92236"/><rect x="471.50" y="580.89" width="3.11" height="3.06" fill="#34268c"/><rect x="474.55" y="580.89" width="3.11" height="3.06" fill="#34268c"/><rect x="477.60" y="580.89" width="3.11" height="3.06" fill="#c92236"/><rect x="480.65" y="580.89" width="3.11" height="3.06" fill="#c92236"/><rect x="483.70" y="580.89" width="3.11" height="3.06" fill="#c92236"/><rect x="486.75" y="580.89" width="3.11" height="3.06" fill="#5c48ac"/><rect x="453.20" y="583.90" width="3.11" height="3.06" fill="#de5868"/><rect x="456.25" y="583.90" width="3.11" height="3.06" fill="#5c48ac"/><rect x="459.30" y="583.90" width="3.11" height="3.06" fill="#34268c"/><rect x="462.35" y="583.90" width="3.11" height="3.06" fill="#34268c"/><rect x="465.40" y="583.90" width="3.11" height="3.06" fill="#34268c"/><rect x="468.45" y="583.90" width="3.11" height="3.06" fill="#f0a8bc"/><rect x="471.50" y="583.90" width="3.11" height="3.06" fill="#c92236"/><rect x="474.55" y="583.90" width="3.11" height="3.06" fill="#34268c"/><rect x="477.60" y="583.90" width="3.11" height="3.06" fill="#34268c"/><rect x="480.65" y="583.90" width="3.11" height="3.06" fill="#5c48ac"/><rect x="483.70" y="583.90" width="3.11" height="3.06" fill="#f0a8bc"/><rect x="486.75" y="583.90" width="3.11" height="3.06" fill="#de5868"/><rect x="453.20" y="586.90" width="3.11" height="3.06" fill="#c92236"/><rect x="456.25" y="586.90" width="3.11" height="3.06" fill="#34268c"/><rect x="459.30" y="586.90" width="3.11" height="3.06" fill="#34268c"/><rect x="462.35" y="586.90" width="3.11" height="3.06" fill="#c92236"/><rect x="465.40" y="586.90" width="3.11" height="3.06" fill="#c92236"/><rect x="468.45" y="586.90" width="3.11" height="3.06" fill="#34268c"/><rect x="471.50" y="586.90" width="3.11" height="3.06" fill="#34268c"/><rect x="474.55" y="586.90" width="3.11" height="3.06" fill="#34268c"/><rect x="477.60" y="586.90" width="3.11" height="3.06" fill="#e6e0f6"/><rect x="480.65" y="586.90" width="3.11" height="3.06" fill="#e6e0f6"/><rect x="483.70" y="586.90" width="3.11" height="3.06" fill="#aaa4e4"/><rect x="486.75" y="586.90" width="3.11" height="3.06" fill="#34268c"/><rect x="453.20" y="589.91" width="3.11" height="3.06" fill="#34268c"/><rect x="456.25" y="589.91" width="3.11" height="3.06" fill="#c92236"/><rect x="459.30" y="589.91" width="3.11" height="3.06" fill="#34268c"/><rect x="462.35" y="589.91" width="3.11" height="3.06" fill="#34268c"/><rect x="465.40" y="589.91" width="3.11" height="3.06" fill="#34268c"/><rect x="468.45" y="589.91" width="3.11" height="3.06" fill="#34268c"/><rect x="471.50" y="589.91" width="3.11" height="3.06" fill="#aaa4e4"/><rect x="474.55" y="589.91" width="3.11" height="3.06" fill="#34268c"/><rect x="477.60" y="589.91" width="3.11" height="3.06" fill="#5c48ac"/><rect x="480.65" y="589.91" width="3.11" height="3.06" fill="#c92236"/><rect x="483.70" y="589.91" width="3.11" height="3.06" fill="#e6e0f6"/><rect x="486.75" y="589.91" width="3.11" height="3.06" fill="#aaa4e4"/><rect x="453.20" y="592.91" width="3.11" height="3.06" fill="#c92236"/><rect x="456.25" y="592.91" width="3.11" height="3.06" fill="#34268c"/><rect x="459.30" y="592.91" width="3.11" height="3.06" fill="#c92236"/><rect x="462.35" y="592.91" width="3.11" height="3.06" fill="#c92236"/><rect x="465.40" y="592.91" width="3.11" height="3.06" fill="#5c48ac"/><rect x="468.45" y="592.91" width="3.11" height="3.06" fill="#aaa4e4"/><rect x="471.50" y="592.91" width="3.11" height="3.06" fill="#c92236"/><rect x="474.55" y="592.91" width="3.11" height="3.06" fill="#c92236"/><rect x="477.60" y="592.91" width="3.11" height="3.06" fill="#34268c"/><rect x="480.65" y="592.91" width="3.11" height="3.06" fill="#de5868"/><rect x="483.70" y="592.91" width="3.11" height="3.06" fill="#34268c"/><rect x="486.75" y="592.91" width="3.11" height="3.06" fill="#34268c"/><rect x="453.20" y="595.91" width="3.11" height="3.06" fill="#c92236"/><rect x="456.25" y="595.91" width="3.11" height="3.06" fill="#34268c"/><rect x="459.30" y="595.91" width="3.11" height="3.06" fill="#c92236"/><rect x="462.35" y="595.91" width="3.11" height="3.06" fill="#e6e0f6"/><rect x="465.40" y="595.91" width="3.11" height="3.06" fill="#34268c"/><rect x="468.45" y="595.91" width="3.11" height="3.06" fill="#c92236"/><rect x="471.50" y="595.91" width="3.11" height="3.06" fill="#e6e0f6"/><rect x="474.55" y="595.91" width="3.11" height="3.06" fill="#aaa4e4"/><rect x="477.60" y="595.91" width="3.11" height="3.06" fill="#34268c"/><rect x="480.65" y="595.91" width="3.11" height="3.06" fill="#34268c"/><rect x="483.70" y="595.91" width="3.11" height="3.06" fill="#5c48ac"/><rect x="486.75" y="595.91" width="3.11" height="3.06" fill="#e6e0f6"/><rect x="453.20" y="598.92" width="3.11" height="3.06" fill="#c92236"/><rect x="456.25" y="598.92" width="3.11" height="3.06" fill="#34268c"/><rect x="459.30" y="598.92" width="3.11" height="3.06" fill="#34268c"/><rect x="462.35" y="598.92" width="3.11" height="3.06" fill="#de5868"/><rect x="465.40" y="598.92" width="3.11" height="3.06" fill="#34268c"/><rect x="468.45" y="598.92" width="3.11" height="3.06" fill="#e6e0f6"/><rect x="471.50" y="598.92" width="3.11" height="3.06" fill="#34268c"/><rect x="474.55" y="598.92" width="3.11" height="3.06" fill="#34268c"/><rect x="477.60" y="598.92" width="3.11" height="3.06" fill="#aaa4e4"/><rect x="480.65" y="598.92" width="3.11" height="3.06" fill="#34268c"/><rect x="483.70" y="598.92" width="3.11" height="3.06" fill="#aaa4e4"/><rect x="486.75" y="598.92" width="3.11" height="3.06" fill="#c92236"/><rect x="453.20" y="601.92" width="3.11" height="3.06" fill="#c92236"/><rect x="456.25" y="601.92" width="3.11" height="3.06" fill="#34268c"/><rect x="459.30" y="601.92" width="3.11" height="3.06" fill="#c92236"/><rect x="462.35" y="601.92" width="3.11" height="3.06" fill="#e6e0f6"/><rect x="465.40" y="601.92" width="3.11" height="3.06" fill="#e6e0f6"/><rect x="468.45" y="601.92" width="3.11" height="3.06" fill="#f0a8bc"/><rect x="471.50" y="601.92" width="3.11" height="3.06" fill="#de5868"/><rect x="474.55" y="601.92" width="3.11" height="3.06" fill="#f0a8bc"/><rect x="477.60" y="601.92" width="3.11" height="3.06" fill="#e6e0f6"/><rect x="480.65" y="601.92" width="3.11" height="3.06" fill="#34268c"/><rect x="483.70" y="601.92" width="3.11" height="3.06" fill="#e6e0f6"/><rect x="486.75" y="601.92" width="3.11" height="3.06" fill="#c92236"/><rect x="453.20" y="604.93" width="3.11" height="3.06" fill="#c92236"/><rect x="456.25" y="604.93" width="3.11" height="3.06" fill="#c92236"/><rect x="459.30" y="604.93" width="3.11" height="3.06" fill="#34268c"/><rect x="462.35" y="604.93" width="3.11" height="3.06" fill="#de5868"/><rect x="465.40" y="604.93" width="3.11" height="3.06" fill="#34268c"/><rect x="468.45" y="604.93" width="3.11" height="3.06" fill="#c92236"/><rect x="471.50" y="604.93" width="3.11" height="3.06" fill="#aaa4e4"/><rect x="474.55" y="604.93" width="3.11" height="3.06" fill="#aaa4e4"/><rect x="477.60" y="604.93" width="3.11" height="3.06" fill="#5c48ac"/><rect x="480.65" y="604.93" width="3.11" height="3.06" fill="#c92236"/><rect x="483.70" y="604.93" width="3.11" height="3.06" fill="#34268c"/><rect x="486.75" y="604.93" width="3.11" height="3.06" fill="#34268c"/><rect x="453.20" y="607.93" width="3.11" height="3.06" fill="#c92236"/><rect x="456.25" y="607.93" width="3.11" height="3.06" fill="#34268c"/><rect x="459.30" y="607.93" width="3.11" height="3.06" fill="#34268c"/><rect x="462.35" y="607.93" width="3.11" height="3.06" fill="#5c48ac"/><rect x="465.40" y="607.93" width="3.11" height="3.06" fill="#de5868"/><rect x="468.45" y="607.93" width="3.11" height="3.06" fill="#aaa4e4"/><rect x="471.50" y="607.93" width="3.11" height="3.06" fill="#34268c"/><rect x="474.55" y="607.93" width="3.11" height="3.06" fill="#34268c"/><rect x="477.60" y="607.93" width="3.11" height="3.06" fill="#5c48ac"/><rect x="480.65" y="607.93" width="3.11" height="3.06" fill="#f0a8bc"/><rect x="483.70" y="607.93" width="3.11" height="3.06" fill="#34268c"/><rect x="486.75" y="607.93" width="3.11" height="3.06" fill="#34268c"/><rect x="453.20" y="610.94" width="3.11" height="3.06" fill="#c92236"/><rect x="456.25" y="610.94" width="3.11" height="3.06" fill="#aaa4e4"/><rect x="459.30" y="610.94" width="3.11" height="3.06" fill="#e6e0f6"/><rect x="462.35" y="610.94" width="3.11" height="3.06" fill="#34268c"/><rect x="465.40" y="610.94" width="3.11" height="3.06" fill="#c92236"/><rect x="468.45" y="610.94" width="3.11" height="3.06" fill="#e6e0f6"/><rect x="471.50" y="610.94" width="3.11" height="3.06" fill="#5c48ac"/><rect x="474.55" y="610.94" width="3.11" height="3.06" fill="#c92236"/><rect x="477.60" y="610.94" width="3.11" height="3.06" fill="#34268c"/><rect x="480.65" y="610.94" width="3.11" height="3.06" fill="#c92236"/><rect x="483.70" y="610.94" width="3.11" height="3.06" fill="#5c48ac"/><rect x="486.75" y="610.94" width="3.11" height="3.06" fill="#34268c"/><rect x="453.20" y="613.94" width="3.11" height="3.06" fill="#34268c"/><rect x="456.25" y="613.94" width="3.11" height="3.06" fill="#34268c"/><rect x="459.30" y="613.94" width="3.11" height="3.06" fill="#e6e0f6"/><rect x="462.35" y="613.94" width="3.11" height="3.06" fill="#c92236"/><rect x="465.40" y="613.94" width="3.11" height="3.06" fill="#c92236"/><rect x="468.45" y="613.94" width="3.11" height="3.06" fill="#34268c"/><rect x="471.50" y="613.94" width="3.11" height="3.06" fill="#34268c"/><rect x="474.55" y="613.94" width="3.11" height="3.06" fill="#34268c"/><rect x="477.60" y="613.94" width="3.11" height="3.06" fill="#c92236"/><rect x="480.65" y="613.94" width="3.11" height="3.06" fill="#34268c"/><rect x="483.70" y="613.94" width="3.11" height="3.06" fill="#c92236"/><rect x="486.75" y="613.94" width="3.11" height="3.06" fill="#34268c"/><rect x="453.20" y="616.95" width="3.11" height="3.06" fill="#f0a8bc"/><rect x="456.25" y="616.95" width="3.11" height="3.06" fill="#f0a8bc"/><rect x="459.30" y="616.95" width="3.11" height="3.06" fill="#5c48ac"/><rect x="462.35" y="616.95" width="3.11" height="3.06" fill="#34268c"/><rect x="465.40" y="616.95" width="3.11" height="3.06" fill="#34268c"/><rect x="468.45" y="616.95" width="3.11" height="3.06" fill="#34268c"/><rect x="471.50" y="616.95" width="3.11" height="3.06" fill="#34268c"/><rect x="474.55" y="616.95" width="3.11" height="3.06" fill="#34268c"/><rect x="477.60" y="616.95" width="3.11" height="3.06" fill="#aaa4e4"/><rect x="480.65" y="616.95" width="3.11" height="3.06" fill="#e6e0f6"/><rect x="483.70" y="616.95" width="3.11" height="3.06" fill="#5c48ac"/><rect x="486.75" y="616.95" width="3.11" height="3.06" fill="#e6e0f6"/><rect x="453.20" y="619.95" width="3.11" height="3.06" fill="#de5868"/><rect x="456.25" y="619.95" width="3.11" height="3.06" fill="#5c48ac"/><rect x="459.30" y="619.95" width="3.11" height="3.06" fill="#c92236"/><rect x="462.35" y="619.95" width="3.11" height="3.06" fill="#34268c"/><rect x="465.40" y="619.95" width="3.11" height="3.06" fill="#e6e0f6"/><rect x="468.45" y="619.95" width="3.11" height="3.06" fill="#aaa4e4"/><rect x="471.50" y="619.95" width="3.11" height="3.06" fill="#c92236"/><rect x="474.55" y="619.95" width="3.11" height="3.06" fill="#c92236"/><rect x="477.60" y="619.95" width="3.11" height="3.06" fill="#e6e0f6"/><rect x="480.65" y="619.95" width="3.11" height="3.06" fill="#e6e0f6"/><rect x="483.70" y="619.95" width="3.11" height="3.06" fill="#c92236"/><rect x="486.75" y="619.95" width="3.11" height="3.06" fill="#5c48ac"/><rect x="453.20" y="622.95" width="3.11" height="3.06" fill="#c92236"/><rect x="456.25" y="622.95" width="3.11" height="3.06" fill="#34268c"/><rect x="459.30" y="622.95" width="3.11" height="3.06" fill="#34268c"/><rect x="462.35" y="622.95" width="3.11" height="3.06" fill="#c92236"/><rect x="465.40" y="622.95" width="3.11" height="3.06" fill="#5c48ac"/><rect x="468.45" y="622.95" width="3.11" height="3.06" fill="#34268c"/><rect x="471.50" y="622.95" width="3.11" height="3.06" fill="#c92236"/><rect x="474.55" y="622.95" width="3.11" height="3.06" fill="#e6e0f6"/><rect x="477.60" y="622.95" width="3.11" height="3.06" fill="#34268c"/><rect x="480.65" y="622.95" width="3.11" height="3.06" fill="#34268c"/><rect x="483.70" y="622.95" width="3.11" height="3.06" fill="#34268c"/><rect x="486.75" y="622.95" width="3.11" height="3.06" fill="#34268c"/><rect x="453.20" y="625.96" width="3.11" height="3.06" fill="#c92236"/><rect x="456.25" y="625.96" width="3.11" height="3.06" fill="#34268c"/><rect x="459.30" y="625.96" width="3.11" height="3.06" fill="#e6e0f6"/><rect x="462.35" y="625.96" width="3.11" height="3.06" fill="#34268c"/><rect x="465.40" y="625.96" width="3.11" height="3.06" fill="#34268c"/><rect x="468.45" y="625.96" width="3.11" height="3.06" fill="#c92236"/><rect x="471.50" y="625.96" width="3.11" height="3.06" fill="#34268c"/><rect x="474.55" y="625.96" width="3.11" height="3.06" fill="#f0a8bc"/><rect x="477.60" y="625.96" width="3.11" height="3.06" fill="#f0a8bc"/><rect x="480.65" y="625.96" width="3.11" height="3.06" fill="#c92236"/><rect x="483.70" y="625.96" width="3.11" height="3.06" fill="#34268c"/><rect x="486.75" y="625.96" width="3.11" height="3.06" fill="#5c48ac"/><rect x="453.20" y="628.96" width="3.11" height="3.06" fill="#34268c"/><rect x="456.25" y="628.96" width="3.11" height="3.06" fill="#c92236"/><rect x="459.30" y="628.96" width="3.11" height="3.06" fill="#c92236"/><rect x="462.35" y="628.96" width="3.11" height="3.06" fill="#34268c"/><rect x="465.40" y="628.96" width="3.11" height="3.06" fill="#c92236"/><rect x="468.45" y="628.96" width="3.11" height="3.06" fill="#34268c"/><rect x="471.50" y="628.96" width="3.11" height="3.06" fill="#34268c"/><rect x="474.55" y="628.96" width="3.11" height="3.06" fill="#c92236"/><rect x="477.60" y="628.96" width="3.11" height="3.06" fill="#aaa4e4"/><rect x="480.65" y="628.96" width="3.11" height="3.06" fill="#34268c"/><rect x="483.70" y="628.96" width="3.11" height="3.06" fill="#34268c"/><rect x="486.75" y="628.96" width="3.11" height="3.06" fill="#34268c"/><rect x="453.20" y="631.97" width="3.11" height="3.06" fill="#34268c"/><rect x="456.25" y="631.97" width="3.11" height="3.06" fill="#c92236"/><rect x="459.30" y="631.97" width="3.11" height="3.06" fill="#c92236"/><rect x="462.35" y="631.97" width="3.11" height="3.06" fill="#34268c"/><rect x="465.40" y="631.97" width="3.11" height="3.06" fill="#c92236"/><rect x="468.45" y="631.97" width="3.11" height="3.06" fill="#e6e0f6"/><rect x="471.50" y="631.97" width="3.11" height="3.06" fill="#e6e0f6"/><rect x="474.55" y="631.97" width="3.11" height="3.06" fill="#c92236"/><rect x="477.60" y="631.97" width="3.11" height="3.06" fill="#c92236"/><rect x="480.65" y="631.97" width="3.11" height="3.06" fill="#34268c"/><rect x="483.70" y="631.97" width="3.11" height="3.06" fill="#34268c"/><rect x="486.75" y="631.97" width="3.11" height="3.06" fill="#5c48ac"/><rect x="453.20" y="634.97" width="3.11" height="3.06" fill="#c92236"/><rect x="456.25" y="634.97" width="3.11" height="3.06" fill="#aaa4e4"/><rect x="459.30" y="634.97" width="3.11" height="3.06" fill="#34268c"/><rect x="462.35" y="634.97" width="3.11" height="3.06" fill="#aaa4e4"/><rect x="465.40" y="634.97" width="3.11" height="3.06" fill="#c92236"/><rect x="468.45" y="634.97" width="3.11" height="3.06" fill="#c92236"/><rect x="471.50" y="634.97" width="3.11" height="3.06" fill="#f0a8bc"/><rect x="474.55" y="634.97" width="3.11" height="3.06" fill="#e6e0f6"/><rect x="477.60" y="634.97" width="3.11" height="3.06" fill="#e6e0f6"/><rect x="480.65" y="634.97" width="3.11" height="3.06" fill="#c92236"/><rect x="483.70" y="634.97" width="3.11" height="3.06" fill="#c92236"/><rect x="486.75" y="634.97" width="3.11" height="3.06" fill="#34268c"/><rect x="453.20" y="637.98" width="3.11" height="3.06" fill="#c92236"/><rect x="456.25" y="637.98" width="3.11" height="3.06" fill="#c92236"/><rect x="459.30" y="637.98" width="3.11" height="3.06" fill="#c92236"/><rect x="462.35" y="637.98" width="3.11" height="3.06" fill="#e6e0f6"/><rect x="465.40" y="637.98" width="3.11" height="3.06" fill="#5c48ac"/><rect x="468.45" y="637.98" width="3.11" height="3.06" fill="#c92236"/><rect x="471.50" y="637.98" width="3.11" height="3.06" fill="#34268c"/><rect x="474.55" y="637.98" width="3.11" height="3.06" fill="#34268c"/><rect x="477.60" y="637.98" width="3.11" height="3.06" fill="#34268c"/><rect x="480.65" y="637.98" width="3.11" height="3.06" fill="#e6e0f6"/><rect x="483.70" y="637.98" width="3.11" height="3.06" fill="#5c48ac"/><rect x="486.75" y="637.98" width="3.11" height="3.06" fill="#c92236"/><rect x="453.20" y="640.98" width="3.11" height="3.06" fill="#f0a8bc"/><rect x="456.25" y="640.98" width="3.11" height="3.06" fill="#c92236"/><rect x="459.30" y="640.98" width="3.11" height="3.06" fill="#e6e0f6"/><rect x="462.35" y="640.98" width="3.11" height="3.06" fill="#34268c"/><rect x="465.40" y="640.98" width="3.11" height="3.06" fill="#e6e0f6"/><rect x="468.45" y="640.98" width="3.11" height="3.06" fill="#34268c"/><rect x="471.50" y="640.98" width="3.11" height="3.06" fill="#34268c"/><rect x="474.55" y="640.98" width="3.11" height="3.06" fill="#e6e0f6"/><rect x="477.60" y="640.98" width="3.11" height="3.06" fill="#34268c"/><rect x="480.65" y="640.98" width="3.11" height="3.06" fill="#e6e0f6"/><rect x="483.70" y="640.98" width="3.11" height="3.06" fill="#34268c"/><rect x="486.75" y="640.98" width="3.11" height="3.06" fill="#f0a8bc"/><rect x="453.20" y="643.99" width="3.11" height="3.06" fill="#c92236"/><rect x="456.25" y="643.99" width="3.11" height="3.06" fill="#34268c"/><rect x="459.30" y="643.99" width="3.11" height="3.06" fill="#f0a8bc"/><rect x="462.35" y="643.99" width="3.11" height="3.06" fill="#34268c"/><rect x="465.40" y="643.99" width="3.11" height="3.06" fill="#34268c"/><rect x="468.45" y="643.99" width="3.11" height="3.06" fill="#34268c"/><rect x="471.50" y="643.99" width="3.11" height="3.06" fill="#34268c"/><rect x="474.55" y="643.99" width="3.11" height="3.06" fill="#e6e0f6"/><rect x="477.60" y="643.99" width="3.11" height="3.06" fill="#34268c"/><rect x="480.65" y="643.99" width="3.11" height="3.06" fill="#f0a8bc"/><rect x="483.70" y="643.99" width="3.11" height="3.06" fill="#de5868"/><rect x="486.75" y="643.99" width="3.11" height="3.06" fill="#34268c"/><rect x="453.20" y="646.99" width="3.11" height="3.06" fill="#de5868"/><rect x="456.25" y="646.99" width="3.11" height="3.06" fill="#f0a8bc"/><rect x="459.30" y="646.99" width="3.11" height="3.06" fill="#c92236"/><rect x="462.35" y="646.99" width="3.11" height="3.06" fill="#c92236"/><rect x="465.40" y="646.99" width="3.11" height="3.06" fill="#e6e0f6"/><rect x="468.45" y="646.99" width="3.11" height="3.06" fill="#c92236"/><rect x="471.50" y="646.99" width="3.11" height="3.06" fill="#34268c"/><rect x="474.55" y="646.99" width="3.11" height="3.06" fill="#f0a8bc"/><rect x="477.60" y="646.99" width="3.11" height="3.06" fill="#34268c"/><rect x="480.65" y="646.99" width="3.11" height="3.06" fill="#c92236"/><rect x="483.70" y="646.99" width="3.11" height="3.06" fill="#c92236"/><rect x="486.75" y="646.99" width="3.11" height="3.06" fill="#aaa4e4"/><rect x="453.20" y="650.00" width="3.11" height="3.06" fill="#c92236"/><rect x="456.25" y="650.00" width="3.11" height="3.06" fill="#c92236"/><rect x="459.30" y="650.00" width="3.11" height="3.06" fill="#34268c"/><rect x="462.35" y="650.00" width="3.11" height="3.06" fill="#e6e0f6"/><rect x="465.40" y="650.00" width="3.11" height="3.06" fill="#34268c"/><rect x="468.45" y="650.00" width="3.11" height="3.06" fill="#aaa4e4"/><rect x="471.50" y="650.00" width="3.11" height="3.06" fill="#f0a8bc"/><rect x="474.55" y="650.00" width="3.11" height="3.06" fill="#34268c"/><rect x="477.60" y="650.00" width="3.11" height="3.06" fill="#c92236"/><rect x="480.65" y="650.00" width="3.11" height="3.06" fill="#f0a8bc"/><rect x="483.70" y="650.00" width="3.11" height="3.06" fill="#34268c"/><rect x="486.75" y="650.00" width="3.11" height="3.06" fill="#34268c"/></g>
<line x1="456.25" y1="52.10" x2="456.25" y2="653.00" stroke="#ffffff" stroke-width="0.35" stroke-opacity="0.35"/>
<line x1="459.30" y1="52.10" x2="459.30" y2="653.00" stroke="#ffffff" stroke-width="0.35" stroke-opacity="0.35"/>
<line x1="462.35" y1="52.10" x2="462.35" y2="653.00" stroke="#ffffff" stroke-width="0.35" stroke-opacity="0.35"/>
<line x1="465.40" y1="52.10" x2="465.40" y2="653.00" stroke="#ffffff" stroke-width="0.35" stroke-opacity="0.35"/>
<line x1="468.45" y1="52.10" x2="468.45" y2="653.00" stroke="#ffffff" stroke-width="0.35" stroke-opacity="0.35"/>
<line x1="471.50" y1="52.10" x2="471.50" y2="653.00" stroke="#ffffff" stroke-width="0.35" stroke-opacity="0.35"/>
<line x1="474.55" y1="52.10" x2="474.55" y2="653.00" stroke="#ffffff" stroke-width="0.35" stroke-opacity="0.35"/>
<line x1="477.60" y1="52.10" x2="477.60" y2="653.00" stroke="#ffffff" stroke-width="0.35" stroke-opacity="0.35"/>
<line x1="480.65" y1="52.10" x2="480.65" y2="653.00" stroke="#ffffff" stroke-width="0.35" stroke-opacity="0.35"/>
<line x1="483.70" y1="52.10" x2="483.70" y2="653.00" stroke="#ffffff" stroke-width="0.35" stroke-opacity="0.35"/>
<line x1="486.75" y1="52.10" x2="486.75" y2="653.00" stroke="#ffffff" stroke-width="0.35" stroke-opacity="0.35"/>
<rect x="490.00" y="52.10" width="2.30" height="3.05" fill="#fbe8ee"/>
<rect x="490.00" y="55.10" width="2.30" height="3.05" fill="#e4ecf8"/>
<rect x="490.00" y="58.11" width="2.30" height="3.05" fill="#fde4e8"/>
<rect x="490.00" y="61.11" width="2.30" height="3.05" fill="#fde4e8"/>
<rect x="490.00" y="64.12" width="2.30" height="3.05" fill="#fde4e8"/>
<rect x="490.00" y="67.12" width="2.30" height="3.05" fill="#fde4e8"/>
<rect x="490.00" y="70.13" width="2.30" height="3.05" fill="#fde4e8"/>
<rect x="490.00" y="73.13" width="2.30" height="3.05" fill="#fbe8ee"/>
<rect x="490.00" y="76.14" width="2.30" height="3.05" fill="#f4f4f4"/>
<rect x="490.00" y="79.14" width="2.30" height="3.05" fill="#fde4e8"/>
<rect x="490.00" y="82.14" width="2.30" height="3.05" fill="#f4f4f4"/>
<rect x="490.00" y="85.15" width="2.30" height="3.05" fill="#fde4e8"/>
<rect x="490.00" y="88.15" width="2.30" height="3.05" fill="#fbe8ee"/>
<rect x="490.00" y="91.16" width="2.30" height="3.05" fill="#ffffff"/>
<rect x="490.00" y="94.16" width="2.30" height="3.05" fill="#eaecfb"/>
<rect x="490.00" y="97.17" width="2.30" height="3.05" fill="#eaecfb"/>
<rect x="490.00" y="100.17" width="2.30" height="3.05" fill="#fde4e8"/>
<rect x="490.00" y="103.18" width="2.30" height="3.05" fill="#eaecfb"/>
<rect x="490.00" y="106.18" width="2.30" height="3.05" fill="#fde4e8"/>
<rect x="490.00" y="109.19" width="2.30" height="3.05" fill="#f4f4f4"/>
<rect x="490.00" y="112.19" width="2.30" height="3.05" fill="#ffffff"/>
<rect x="490.00" y="115.19" width="2.30" height="3.05" fill="#ffffff"/>
<rect x="490.00" y="118.20" width="2.30" height="3.05" fill="#f4f4f4"/>
<rect x="490.00" y="121.20" width="2.30" height="3.05" fill="#fde4e8"/>
<rect x="490.00" y="124.21" width="2.30" height="3.05" fill="#e4ecf8"/>
<rect x="490.00" y="127.21" width="2.30" height="3.05" fill="#ffffff"/>
<rect x="490.00" y="130.22" width="2.30" height="3.05" fill="#eaecfb"/>
<rect x="490.00" y="133.22" width="2.30" height="3.05" fill="#fde4e8"/>
<rect x="490.00" y="136.23" width="2.30" height="3.05" fill="#f4f4f4"/>
<rect x="490.00" y="139.23" width="2.30" height="3.05" fill="#ffffff"/>
<rect x="490.00" y="142.23" width="2.30" height="3.05" fill="#ffffff"/>
<rect x="490.00" y="145.24" width="2.30" height="3.05" fill="#e4ecf8"/>
<rect x="490.00" y="148.24" width="2.30" height="3.05" fill="#eaecfb"/>
<rect x="490.00" y="151.25" width="2.30" height="3.05" fill="#fde4e8"/>
<rect x="490.00" y="154.25" width="2.30" height="3.05" fill="#fde4e8"/>
<rect x="490.00" y="157.26" width="2.30" height="3.05" fill="#e4ecf8"/>
<rect x="490.00" y="160.26" width="2.30" height="3.05" fill="#f4f4f4"/>
<rect x="490.00" y="163.27" width="2.30" height="3.05" fill="#e4ecf8"/>
<rect x="490.00" y="166.27" width="2.30" height="3.05" fill="#fde4e8"/>
<rect x="490.00" y="169.28" width="2.30" height="3.05" fill="#fde4e8"/>
<rect x="490.00" y="172.28" width="2.30" height="3.05" fill="#ffffff"/>
<rect x="490.00" y="175.28" width="2.30" height="3.05" fill="#ffffff"/>
<rect x="490.00" y="178.29" width="2.30" height="3.05" fill="#ffffff"/>
<rect x="490.00" y="181.29" width="2.30" height="3.05" fill="#fbe8ee"/>
<rect x="490.00" y="184.30" width="2.30" height="3.05" fill="#ffffff"/>
<rect x="490.00" y="187.30" width="2.30" height="3.05" fill="#ffffff"/>
<rect x="490.00" y="190.31" width="2.30" height="3.05" fill="#e4ecf8"/>
<rect x="490.00" y="193.31" width="2.30" height="3.05" fill="#eaecfb"/>
<rect x="490.00" y="196.32" width="2.30" height="3.05" fill="#eaecfb"/>
<rect x="490.00" y="199.32" width="2.30" height="3.05" fill="#eaecfb"/>
<rect x="490.00" y="202.32" width="2.30" height="3.05" fill="#fbe8ee"/>
<rect x="490.00" y="205.33" width="2.30" height="3.05" fill="#e4ecf8"/>
<rect x="490.00" y="208.33" width="2.30" height="3.05" fill="#e4ecf8"/>
<rect x="490.00" y="211.34" width="2.30" height="3.05" fill="#f4f4f4"/>
<rect x="490.00" y="214.34" width="2.30" height="3.05" fill="#fde4e8"/>
<rect x="490.00" y="217.35" width="2.30" height="3.05" fill="#fde4e8"/>
<rect x="490.00" y="220.35" width="2.30" height="3.05" fill="#f4f4f4"/>
<rect x="490.00" y="223.36" width="2.30" height="3.05" fill="#ffffff"/>
<rect x="490.00" y="226.36" width="2.30" height="3.05" fill="#ffffff"/>
<rect x="490.00" y="229.37" width="2.30" height="3.05" fill="#ffffff"/>
<rect x="490.00" y="232.37" width="2.30" height="3.05" fill="#fbe8ee"/>
<rect x="490.00" y="235.37" width="2.30" height="3.05" fill="#eaecfb"/>
<rect x="490.00" y="238.38" width="2.30" height="3.05" fill="#fbe8ee"/>
<rect x="490.00" y="241.38" width="2.30" height="3.05" fill="#f4f4f4"/>
<rect x="490.00" y="244.39" width="2.30" height="3.05" fill="#ffffff"/>
<rect x="490.00" y="247.39" width="2.30" height="3.05" fill="#ffffff"/>
<rect x="490.00" y="250.40" width="2.30" height="3.05" fill="#fde4e8"/>
<rect x="490.00" y="253.40" width="2.30" height="3.05" fill="#fbe8ee"/>
<rect x="490.00" y="256.41" width="2.30" height="3.05" fill="#f4f4f4"/>
<rect x="490.00" y="259.41" width="2.30" height="3.05" fill="#ffffff"/>
<rect x="490.00" y="262.41" width="2.30" height="3.05" fill="#f4f4f4"/>
<rect x="490.00" y="265.42" width="2.30" height="3.05" fill="#fde4e8"/>
<rect x="490.00" y="268.42" width="2.30" height="3.05" fill="#eaecfb"/>
<rect x="490.00" y="271.43" width="2.30" height="3.05" fill="#f4f4f4"/>
<rect x="490.00" y="274.43" width="2.30" height="3.05" fill="#fbe8ee"/>
<rect x="490.00" y="277.44" width="2.30" height="3.05" fill="#ffffff"/>
<rect x="490.00" y="280.44" width="2.30" height="3.05" fill="#f4f4f4"/>
<rect x="490.00" y="283.45" width="2.30" height="3.05" fill="#fbe8ee"/>
<rect x="490.00" y="286.45" width="2.30" height="3.05" fill="#e4ecf8"/>
<rect x="490.00" y="289.46" width="2.30" height="3.05" fill="#ffffff"/>
<rect x="490.00" y="292.46" width="2.30" height="3.05" fill="#fbe8ee"/>
<rect x="490.00" y="295.46" width="2.30" height="3.05" fill="#ffffff"/>
<rect x="490.00" y="298.47" width="2.30" height="3.05" fill="#fbe8ee"/>
<rect x="490.00" y="301.47" width="2.30" height="3.05" fill="#e4ecf8"/>
<rect x="490.00" y="304.48" width="2.30" height="3.05" fill="#fde4e8"/>
<rect x="490.00" y="307.48" width="2.30" height="3.05" fill="#fbe8ee"/>
<rect x="490.00" y="310.49" width="2.30" height="3.05" fill="#e4ecf8"/>
<rect x="490.00" y="313.49" width="2.30" height="3.05" fill="#fbe8ee"/>
<rect x="490.00" y="316.50" width="2.30" height="3.05" fill="#e4ecf8"/>
<rect x="490.00" y="319.50" width="2.30" height="3.05" fill="#fbe8ee"/>
<rect x="490.00" y="322.50" width="2.30" height="3.05" fill="#f4f4f4"/>
<rect x="490.00" y="325.51" width="2.30" height="3.05" fill="#eaecfb"/>
<rect x="490.00" y="328.51" width="2.30" height="3.05" fill="#e4ecf8"/>
<rect x="490.00" y="331.52" width="2.30" height="3.05" fill="#fde4e8"/>
<rect x="490.00" y="334.52" width="2.30" height="3.05" fill="#ffffff"/>
<rect x="490.00" y="337.53" width="2.30" height="3.05" fill="#fbe8ee"/>
<rect x="490.00" y="340.53" width="2.30" height="3.05" fill="#ffffff"/>
<rect x="490.00" y="343.54" width="2.30" height="3.05" fill="#fbe8ee"/>
<rect x="490.00" y="346.54" width="2.30" height="3.05" fill="#fde4e8"/>
<rect x="490.00" y="349.55" width="2.30" height="3.05" fill="#fbe8ee"/>
<rect x="490.00" y="352.55" width="2.30" height="3.05" fill="#eaecfb"/>
<rect x="490.00" y="355.55" width="2.30" height="3.05" fill="#e4ecf8"/>
<rect x="490.00" y="358.56" width="2.30" height="3.05" fill="#f4f4f4"/>
<rect x="490.00" y="361.56" width="2.30" height="3.05" fill="#fde4e8"/>
<rect x="490.00" y="364.57" width="2.30" height="3.05" fill="#eaecfb"/>
<rect x="490.00" y="367.57" width="2.30" height="3.05" fill="#fde4e8"/>
<rect x="490.00" y="370.58" width="2.30" height="3.05" fill="#eaecfb"/>
<rect x="490.00" y="373.58" width="2.30" height="3.05" fill="#fde4e8"/>
<rect x="490.00" y="376.59" width="2.30" height="3.05" fill="#fbe8ee"/>
<rect x="490.00" y="379.59" width="2.30" height="3.05" fill="#f4f4f4"/>
<rect x="490.00" y="382.59" width="2.30" height="3.05" fill="#f4f4f4"/>
<rect x="490.00" y="385.60" width="2.30" height="3.05" fill="#f4f4f4"/>
<rect x="490.00" y="388.60" width="2.30" height="3.05" fill="#ffffff"/>
<rect x="490.00" y="391.61" width="2.30" height="3.05" fill="#e4ecf8"/>
<rect x="490.00" y="394.61" width="2.30" height="3.05" fill="#fde4e8"/>
<rect x="490.00" y="397.62" width="2.30" height="3.05" fill="#fbe8ee"/>
<rect x="490.00" y="400.62" width="2.30" height="3.05" fill="#f4f4f4"/>
<rect x="490.00" y="403.63" width="2.30" height="3.05" fill="#fbe8ee"/>
<rect x="490.00" y="406.63" width="2.30" height="3.05" fill="#fbe8ee"/>
<rect x="490.00" y="409.64" width="2.30" height="3.05" fill="#fbe8ee"/>
<rect x="490.00" y="412.64" width="2.30" height="3.05" fill="#fbe8ee"/>
<rect x="490.00" y="415.64" width="2.30" height="3.05" fill="#f4f4f4"/>
<rect x="490.00" y="418.65" width="2.30" height="3.05" fill="#f4f4f4"/>
<rect x="490.00" y="421.65" width="2.30" height="3.05" fill="#eaecfb"/>
<rect x="490.00" y="424.66" width="2.30" height="3.05" fill="#eaecfb"/>
<rect x="490.00" y="427.66" width="2.30" height="3.05" fill="#fde4e8"/>
<rect x="490.00" y="430.67" width="2.30" height="3.05" fill="#fde4e8"/>
<rect x="490.00" y="433.67" width="2.30" height="3.05" fill="#fde4e8"/>
<rect x="490.00" y="436.68" width="2.30" height="3.05" fill="#eaecfb"/>
<rect x="490.00" y="439.68" width="2.30" height="3.05" fill="#f4f4f4"/>
<rect x="490.00" y="442.69" width="2.30" height="3.05" fill="#eaecfb"/>
<rect x="490.00" y="445.69" width="2.30" height="3.05" fill="#ffffff"/>
<rect x="490.00" y="448.69" width="2.30" height="3.05" fill="#eaecfb"/>
<rect x="490.00" y="451.70" width="2.30" height="3.05" fill="#fde4e8"/>
<rect x="490.00" y="454.70" width="2.30" height="3.05" fill="#e4ecf8"/>
<rect x="490.00" y="457.71" width="2.30" height="3.05" fill="#ffffff"/>
<rect x="490.00" y="460.71" width="2.30" height="3.05" fill="#fbe8ee"/>
<rect x="490.00" y="463.72" width="2.30" height="3.05" fill="#fde4e8"/>
<rect x="490.00" y="466.72" width="2.30" height="3.05" fill="#f4f4f4"/>
<rect x="490.00" y="469.73" width="2.30" height="3.05" fill="#e4ecf8"/>
<rect x="490.00" y="472.73" width="2.30" height="3.05" fill="#fbe8ee"/>
<rect x="490.00" y="475.73" width="2.30" height="3.05" fill="#fbe8ee"/>
<rect x="490.00" y="478.74" width="2.30" height="3.05" fill="#f4f4f4"/>
<rect x="490.00" y="481.74" width="2.30" height="3.05" fill="#e4ecf8"/>
<rect x="490.00" y="484.75" width="2.30" height="3.05" fill="#ffffff"/>
<rect x="490.00" y="487.75" width="2.30" height="3.05" fill="#fbe8ee"/>
<rect x="490.00" y="490.76" width="2.30" height="3.05" fill="#fde4e8"/>
<rect x="490.00" y="493.76" width="2.30" height="3.05" fill="#fde4e8"/>
<rect x="490.00" y="496.77" width="2.30" height="3.05" fill="#f4f4f4"/>
<rect x="490.00" y="499.77" width="2.30" height="3.05" fill="#eaecfb"/>
<rect x="490.00" y="502.77" width="2.30" height="3.05" fill="#f4f4f4"/>
<rect x="490.00" y="505.78" width="2.30" height="3.05" fill="#f4f4f4"/>
<rect x="490.00" y="508.78" width="2.30" height="3.05" fill="#eaecfb"/>
<rect x="490.00" y="511.79" width="2.30" height="3.05" fill="#fbe8ee"/>
<rect x="490.00" y="514.79" width="2.30" height="3.05" fill="#e4ecf8"/>
<rect x="490.00" y="517.80" width="2.30" height="3.05" fill="#fde4e8"/>
<rect x="490.00" y="520.80" width="2.30" height="3.05" fill="#ffffff"/>
<rect x="490.00" y="523.81" width="2.30" height="3.05" fill="#fbe8ee"/>
<rect x="490.00" y="526.81" width="2.30" height="3.05" fill="#ffffff"/>
<rect x="490.00" y="529.82" width="2.30" height="3.05" fill="#eaecfb"/>
<rect x="490.00" y="532.82" width="2.30" height="3.05" fill="#f4f4f4"/>
<rect x="490.00" y="535.82" width="2.30" height="3.05" fill="#fde4e8"/>
<rect x="490.00" y="538.83" width="2.30" height="3.05" fill="#e4ecf8"/>
<rect x="490.00" y="541.83" width="2.30" height="3.05" fill="#fde4e8"/>
<rect x="490.00" y="544.84" width="2.30" height="3.05" fill="#fde4e8"/>
<rect x="490.00" y="547.84" width="2.30" height="3.05" fill="#eaecfb"/>
<rect x="490.00" y="550.85" width="2.30" height="3.05" fill="#f4f4f4"/>
<rect x="490.00" y="553.85" width="2.30" height="3.05" fill="#fde4e8"/>
<rect x="490.00" y="556.86" width="2.30" height="3.05" fill="#ffffff"/>
<rect x="490.00" y="559.86" width="2.30" height="3.05" fill="#f4f4f4"/>
<rect x="490.00" y="562.86" width="2.30" height="3.05" fill="#e4ecf8"/>
<rect x="490.00" y="565.87" width="2.30" height="3.05" fill="#fbe8ee"/>
<rect x="490.00" y="568.87" width="2.30" height="3.05" fill="#f4f4f4"/>
<rect x="490.00" y="571.88" width="2.30" height="3.05" fill="#fde4e8"/>
<rect x="490.00" y="574.88" width="2.30" height="3.05" fill="#f4f4f4"/>
<rect x="490.00" y="577.89" width="2.30" height="3.05" fill="#eaecfb"/>
<rect x="490.00" y="580.89" width="2.30" height="3.05" fill="#eaecfb"/>
<rect x="490.00" y="583.90" width="2.30" height="3.05" fill="#f4f4f4"/>
<rect x="490.00" y="586.90" width="2.30" height="3.05" fill="#ffffff"/>
<rect x="490.00" y="589.91" width="2.30" height="3.05" fill="#e4ecf8"/>
<rect x="490.00" y="592.91" width="2.30" height="3.05" fill="#fbe8ee"/>
<rect x="490.00" y="595.91" width="2.30" height="3.05" fill="#fbe8ee"/>
<rect x="490.00" y="598.92" width="2.30" height="3.05" fill="#e4ecf8"/>
<rect x="490.00" y="601.92" width="2.30" height="3.05" fill="#f4f4f4"/>
<rect x="490.00" y="604.93" width="2.30" height="3.05" fill="#eaecfb"/>
<rect x="490.00" y="607.93" width="2.30" height="3.05" fill="#e4ecf8"/>
<rect x="490.00" y="610.94" width="2.30" height="3.05" fill="#f4f4f4"/>
<rect x="490.00" y="613.94" width="2.30" height="3.05" fill="#fbe8ee"/>
<rect x="490.00" y="616.95" width="2.30" height="3.05" fill="#e4ecf8"/>
<rect x="490.00" y="619.95" width="2.30" height="3.05" fill="#f4f4f4"/>
<rect x="490.00" y="622.95" width="2.30" height="3.05" fill="#eaecfb"/>
<rect x="490.00" y="625.96" width="2.30" height="3.05" fill="#fde4e8"/>
<rect x="490.00" y="628.96" width="2.30" height="3.05" fill="#eaecfb"/>
<rect x="490.00" y="631.97" width="2.30" height="3.05" fill="#f4f4f4"/>
<rect x="490.00" y="634.97" width="2.30" height="3.05" fill="#eaecfb"/>
<rect x="490.00" y="637.98" width="2.30" height="3.05" fill="#fde4e8"/>
<rect x="490.00" y="640.98" width="2.30" height="3.05" fill="#ffffff"/>
<rect x="490.00" y="643.99" width="2.30" height="3.05" fill="#e4ecf8"/>
<rect x="490.00" y="646.99" width="2.30" height="3.05" fill="#e4ecf8"/>
<rect x="490.00" y="650.00" width="2.30" height="3.05" fill="#eaecfb"/>
<rect x="492.30" y="52.10" width="1.70" height="600.90" fill="#dfe8e2"/>
<rect x="494.00" y="536.00" width="18.60" height="118.00" fill="#fbfaf3"/>
<rect x="494.20" y="52.60" width="7.87" height="1.60" fill="#a4a6ac"/>
<line x1="496.50" y1="54.35" x2="511.00" y2="54.35" stroke="#a9a9a9" stroke-width="0.55"/>
<rect x="494.20" y="55.61" width="5.01" height="1.60" fill="#a4a6ac"/>
<line x1="496.50" y1="57.36" x2="511.00" y2="57.36" stroke="#a9a9a9" stroke-width="0.55"/>
<rect x="494.20" y="58.61" width="5.96" height="1.60" fill="#a4a6ac"/>
<line x1="496.50" y1="60.36" x2="511.00" y2="60.36" stroke="#a9a9a9" stroke-width="0.55"/>
<rect x="494.20" y="61.62" width="7.99" height="1.60" fill="#a4a6ac"/>
<line x1="496.50" y1="63.37" x2="511.00" y2="63.37" stroke="#a9a9a9" stroke-width="0.55"/>
<rect x="494.20" y="64.62" width="7.71" height="1.60" fill="#a4a6ac"/>
<line x1="496.50" y1="66.37" x2="511.00" y2="66.37" stroke="#a9a9a9" stroke-width="0.55"/>
<rect x="494.20" y="67.62" width="5.66" height="1.60" fill="#a4a6ac"/>
<line x1="496.50" y1="69.37" x2="511.00" y2="69.37" stroke="#a9a9a9" stroke-width="0.55"/>
<rect x="494.20" y="70.63" width="6.51" height="1.60" fill="#a4a6ac"/>
<line x1="496.50" y1="72.38" x2="511.00" y2="72.38" stroke="#a9a9a9" stroke-width="0.55"/>
<rect x="494.20" y="73.63" width="8.51" height="1.60" fill="#a4a6ac"/>
<line x1="496.50" y1="75.38" x2="511.00" y2="75.38" stroke="#a9a9a9" stroke-width="0.55"/>
<rect x="494.20" y="76.64" width="9.87" height="1.60" fill="#a4a6ac"/>
<line x1="496.50" y1="78.39" x2="511.00" y2="78.39" stroke="#a9a9a9" stroke-width="0.55"/>
<rect x="494.20" y="79.64" width="8.95" height="1.60" fill="#a4a6ac"/>
<line x1="496.50" y1="81.39" x2="511.00" y2="81.39" stroke="#a9a9a9" stroke-width="0.55"/>
<rect x="494.20" y="82.65" width="8.40" height="1.60" fill="#a4a6ac"/>
<line x1="496.50" y1="84.40" x2="511.00" y2="84.40" stroke="#a9a9a9" stroke-width="0.55"/>
<rect x="494.20" y="85.65" width="7.81" height="1.60" fill="#a4a6ac"/>
<line x1="496.50" y1="87.40" x2="511.00" y2="87.40" stroke="#a9a9a9" stroke-width="0.55"/>
<rect x="494.20" y="88.66" width="7.53" height="1.60" fill="#a4a6ac"/>
<line x1="496.50" y1="90.41" x2="511.00" y2="90.41" stroke="#a9a9a9" stroke-width="0.55"/>
<rect x="494.20" y="91.66" width="6.33" height="1.60" fill="#a4a6ac"/>
<line x1="496.50" y1="93.41" x2="511.00" y2="93.41" stroke="#a9a9a9" stroke-width="0.55"/>
<rect x="494.20" y="94.67" width="9.72" height="1.60" fill="#a4a6ac"/>
<line x1="496.50" y1="96.42" x2="511.00" y2="96.42" stroke="#a9a9a9" stroke-width="0.55"/>
<rect x="494.20" y="97.67" width="7.00" height="1.60" fill="#a4a6ac"/>
<line x1="496.50" y1="99.42" x2="511.00" y2="99.42" stroke="#a9a9a9" stroke-width="0.55"/>
<rect x="494.20" y="100.67" width="7.43" height="1.60" fill="#a4a6ac"/>
<line x1="496.50" y1="102.42" x2="511.00" y2="102.42" stroke="#a9a9a9" stroke-width="0.55"/>
<rect x="494.20" y="103.68" width="6.27" height="1.60" fill="#a4a6ac"/>
<line x1="496.50" y1="105.43" x2="511.00" y2="105.43" stroke="#a9a9a9" stroke-width="0.55"/>
<rect x="494.20" y="106.68" width="6.42" height="1.60" fill="#a4a6ac"/>
<line x1="496.50" y1="108.43" x2="511.00" y2="108.43" stroke="#a9a9a9" stroke-width="0.55"/>
<rect x="494.20" y="109.69" width="7.34" height="1.60" fill="#a4a6ac"/>
<line x1="496.50" y1="111.44" x2="511.00" y2="111.44" stroke="#a9a9a9" stroke-width="0.55"/>
<rect x="494.20" y="112.69" width="8.23" height="1.60" fill="#a4a6ac"/>
<line x1="496.50" y1="114.44" x2="511.00" y2="114.44" stroke="#a9a9a9" stroke-width="0.55"/>
<rect x="494.20" y="115.70" width="5.73" height="1.60" fill="#a4a6ac"/>
<line x1="496.50" y1="117.45" x2="511.00" y2="117.45" stroke="#a9a9a9" stroke-width="0.55"/>
<rect x="494.20" y="118.70" width="6.40" height="1.60" fill="#a4a6ac"/>
<line x1="496.50" y1="120.45" x2="511.00" y2="120.45" stroke="#a9a9a9" stroke-width="0.55"/>
<rect x="494.20" y="121.71" width="7.26" height="1.60" fill="#a4a6ac"/>
<line x1="496.50" y1="123.46" x2="511.00" y2="123.46" stroke="#a9a9a9" stroke-width="0.55"/>
<rect x="494.20" y="124.71" width="7.52" height="1.60" fill="#a4a6ac"/>
<line x1="496.50" y1="126.46" x2="511.00" y2="126.46" stroke="#a9a9a9" stroke-width="0.55"/>
<rect x="494.20" y="127.71" width="7.94" height="1.60" fill="#a4a6ac"/>
<line x1="496.50" y1="129.46" x2="511.00" y2="129.46" stroke="#a9a9a9" stroke-width="0.55"/>
<rect x="494.20" y="130.72" width="7.12" height="1.60" fill="#a4a6ac"/>
<line x1="496.50" y1="132.47" x2="511.00" y2="132.47" stroke="#a9a9a9" stroke-width="0.55"/>
<rect x="494.20" y="133.72" width="7.14" height="1.60" fill="#a4a6ac"/>
<line x1="496.50" y1="135.47" x2="511.00" y2="135.47" stroke="#a9a9a9" stroke-width="0.55"/>
<rect x="494.20" y="136.73" width="5.90" height="1.60" fill="#a4a6ac"/>
<line x1="496.50" y1="138.48" x2="511.00" y2="138.48" stroke="#a9a9a9" stroke-width="0.55"/>
<rect x="494.20" y="139.73" width="8.85" height="1.60" fill="#a4a6ac"/>
<line x1="496.50" y1="141.48" x2="511.00" y2="141.48" stroke="#a9a9a9" stroke-width="0.55"/>
<rect x="494.20" y="142.74" width="9.19" height="1.60" fill="#a4a6ac"/>
<line x1="496.50" y1="144.49" x2="511.00" y2="144.49" stroke="#a9a9a9" stroke-width="0.55"/>
<rect x="494.20" y="145.74" width="7.40" height="1.60" fill="#a4a6ac"/>
<line x1="496.50" y1="147.49" x2="511.00" y2="147.49" stroke="#a9a9a9" stroke-width="0.55"/>
<rect x="494.20" y="148.75" width="5.02" height="1.60" fill="#a4a6ac"/>
<line x1="496.50" y1="150.50" x2="511.00" y2="150.50" stroke="#a9a9a9" stroke-width="0.55"/>
<rect x="494.20" y="151.75" width="8.05" height="1.60" fill="#a4a6ac"/>
<line x1="496.50" y1="153.50" x2="511.00" y2="153.50" stroke="#a9a9a9" stroke-width="0.55"/>
<rect x="494.20" y="154.76" width="6.59" height="1.60" fill="#a4a6ac"/>
<line x1="496.50" y1="156.51" x2="511.00" y2="156.51" stroke="#a9a9a9" stroke-width="0.55"/>
<rect x="494.20" y="157.76" width="8.67" height="1.60" fill="#a4a6ac"/>
<line x1="496.50" y1="159.51" x2="511.00" y2="159.51" stroke="#a9a9a9" stroke-width="0.55"/>
<rect x="494.20" y="160.76" width="7.34" height="1.60" fill="#a4a6ac"/>
<line x1="496.50" y1="162.51" x2="511.00" y2="162.51" stroke="#a9a9a9" stroke-width="0.55"/>
<rect x="494.20" y="163.77" width="6.00" height="1.60" fill="#a4a6ac"/>
<line x1="496.50" y1="165.52" x2="511.00" y2="165.52" stroke="#a9a9a9" stroke-width="0.55"/>
<rect x="494.20" y="166.77" width="9.98" height="1.60" fill="#a4a6ac"/>
<line x1="496.50" y1="168.52" x2="511.00" y2="168.52" stroke="#a9a9a9" stroke-width="0.55"/>
<rect x="494.20" y="169.78" width="7.27" height="1.60" fill="#a4a6ac"/>
<line x1="496.50" y1="171.53" x2="511.00" y2="171.53" stroke="#a9a9a9" stroke-width="0.55"/>
<rect x="494.20" y="172.78" width="9.58" height="1.60" fill="#a4a6ac"/>
<line x1="496.50" y1="174.53" x2="511.00" y2="174.53" stroke="#a9a9a9" stroke-width="0.55"/>
<rect x="494.20" y="175.79" width="6.70" height="1.60" fill="#a4a6ac"/>
<line x1="496.50" y1="177.54" x2="511.00" y2="177.54" stroke="#a9a9a9" stroke-width="0.55"/>
<rect x="494.20" y="178.79" width="5.57" height="1.60" fill="#a4a6ac"/>
<line x1="496.50" y1="180.54" x2="511.00" y2="180.54" stroke="#a9a9a9" stroke-width="0.55"/>
<rect x="494.20" y="181.80" width="5.71" height="1.60" fill="#a4a6ac"/>
<line x1="496.50" y1="183.55" x2="511.00" y2="183.55" stroke="#a9a9a9" stroke-width="0.55"/>
<rect x="494.20" y="184.80" width="5.64" height="1.60" fill="#a4a6ac"/>
<line x1="496.50" y1="186.55" x2="511.00" y2="186.55" stroke="#a9a9a9" stroke-width="0.55"/>
<rect x="494.20" y="187.80" width="9.04" height="1.60" fill="#a4a6ac"/>
<line x1="496.50" y1="189.55" x2="511.00" y2="189.55" stroke="#a9a9a9" stroke-width="0.55"/>
<rect x="494.20" y="190.81" width="9.07" height="1.60" fill="#a4a6ac"/>
<line x1="496.50" y1="192.56" x2="511.00" y2="192.56" stroke="#a9a9a9" stroke-width="0.55"/>
<rect x="494.20" y="193.81" width="7.14" height="1.60" fill="#a4a6ac"/>
<line x1="496.50" y1="195.56" x2="511.00" y2="195.56" stroke="#a9a9a9" stroke-width="0.55"/>
<rect x="494.20" y="196.82" width="6.46" height="1.60" fill="#a4a6ac"/>
<line x1="496.50" y1="198.57" x2="511.00" y2="198.57" stroke="#a9a9a9" stroke-width="0.55"/>
<rect x="494.20" y="199.82" width="5.16" height="1.60" fill="#a4a6ac"/>
<line x1="496.50" y1="201.57" x2="511.00" y2="201.57" stroke="#a9a9a9" stroke-width="0.55"/>
<rect x="494.20" y="202.83" width="7.39" height="1.60" fill="#a4a6ac"/>
<line x1="496.50" y1="204.58" x2="511.00" y2="204.58" stroke="#a9a9a9" stroke-width="0.55"/>
<rect x="494.20" y="205.83" width="8.98" height="1.60" fill="#a4a6ac"/>
<line x1="496.50" y1="207.58" x2="511.00" y2="207.58" stroke="#a9a9a9" stroke-width="0.55"/>
<rect x="494.20" y="208.84" width="5.21" height="1.60" fill="#a4a6ac"/>
<line x1="496.50" y1="210.59" x2="511.00" y2="210.59" stroke="#a9a9a9" stroke-width="0.55"/>
<rect x="494.20" y="211.84" width="7.62" height="1.60" fill="#a4a6ac"/>
<line x1="496.50" y1="213.59" x2="511.00" y2="213.59" stroke="#a9a9a9" stroke-width="0.55"/>
<rect x="494.20" y="214.85" width="5.60" height="1.60" fill="#a4a6ac"/>
<line x1="496.50" y1="216.60" x2="511.00" y2="216.60" stroke="#a9a9a9" stroke-width="0.55"/>
<rect x="494.20" y="217.85" width="6.86" height="1.60" fill="#a4a6ac"/>
<line x1="496.50" y1="219.60" x2="511.00" y2="219.60" stroke="#a9a9a9" stroke-width="0.55"/>
<rect x="494.20" y="220.85" width="7.36" height="1.60" fill="#a4a6ac"/>
<line x1="496.50" y1="222.60" x2="511.00" y2="222.60" stroke="#a9a9a9" stroke-width="0.55"/>
<rect x="494.20" y="223.86" width="5.05" height="1.60" fill="#a4a6ac"/>
<line x1="496.50" y1="225.61" x2="511.00" y2="225.61" stroke="#a9a9a9" stroke-width="0.55"/>
<rect x="494.20" y="226.86" width="7.38" height="1.60" fill="#a4a6ac"/>
<line x1="496.50" y1="228.61" x2="511.00" y2="228.61" stroke="#a9a9a9" stroke-width="0.55"/>
<rect x="494.20" y="229.87" width="9.30" height="1.60" fill="#a4a6ac"/>
<line x1="496.50" y1="231.62" x2="511.00" y2="231.62" stroke="#a9a9a9" stroke-width="0.55"/>
<rect x="494.20" y="232.87" width="9.06" height="1.60" fill="#a4a6ac"/>
<line x1="496.50" y1="234.62" x2="511.00" y2="234.62" stroke="#a9a9a9" stroke-width="0.55"/>
<rect x="494.20" y="235.88" width="9.63" height="1.60" fill="#a4a6ac"/>
<line x1="496.50" y1="237.63" x2="511.00" y2="237.63" stroke="#a9a9a9" stroke-width="0.55"/>
<rect x="494.20" y="238.88" width="7.28" height="1.60" fill="#a4a6ac"/>
<line x1="496.50" y1="240.63" x2="511.00" y2="240.63" stroke="#a9a9a9" stroke-width="0.55"/>
<rect x="494.20" y="241.89" width="6.83" height="1.60" fill="#a4a6ac"/>
<line x1="496.50" y1="243.64" x2="511.00" y2="243.64" stroke="#a9a9a9" stroke-width="0.55"/>
<rect x="494.20" y="244.89" width="7.64" height="1.60" fill="#a4a6ac"/>
<line x1="496.50" y1="246.64" x2="511.00" y2="246.64" stroke="#a9a9a9" stroke-width="0.55"/>
<rect x="494.20" y="247.89" width="6.19" height="1.60" fill="#a4a6ac"/>
<line x1="496.50" y1="249.64" x2="511.00" y2="249.64" stroke="#a9a9a9" stroke-width="0.55"/>
<rect x="494.20" y="250.90" width="5.31" height="1.60" fill="#a4a6ac"/>
<line x1="496.50" y1="252.65" x2="511.00" y2="252.65" stroke="#a9a9a9" stroke-width="0.55"/>
<rect x="494.20" y="253.90" width="7.89" height="1.60" fill="#a4a6ac"/>
<line x1="496.50" y1="255.65" x2="511.00" y2="255.65" stroke="#a9a9a9" stroke-width="0.55"/>
<rect x="494.20" y="256.91" width="6.11" height="1.60" fill="#a4a6ac"/>
<line x1="496.50" y1="258.66" x2="511.00" y2="258.66" stroke="#a9a9a9" stroke-width="0.55"/>
<rect x="494.20" y="259.91" width="6.83" height="1.60" fill="#a4a6ac"/>
<line x1="496.50" y1="261.66" x2="511.00" y2="261.66" stroke="#a9a9a9" stroke-width="0.55"/>
<rect x="494.20" y="262.92" width="7.48" height="1.60" fill="#a4a6ac"/>
<line x1="496.50" y1="264.67" x2="511.00" y2="264.67" stroke="#a9a9a9" stroke-width="0.55"/>
<rect x="494.20" y="265.92" width="6.60" height="1.60" fill="#a4a6ac"/>
<line x1="496.50" y1="267.67" x2="511.00" y2="267.67" stroke="#a9a9a9" stroke-width="0.55"/>
<rect x="494.20" y="268.93" width="5.89" height="1.60" fill="#a4a6ac"/>
<line x1="496.50" y1="270.68" x2="511.00" y2="270.68" stroke="#a9a9a9" stroke-width="0.55"/>
<rect x="494.20" y="271.93" width="9.00" height="1.60" fill="#a4a6ac"/>
<line x1="496.50" y1="273.68" x2="511.00" y2="273.68" stroke="#a9a9a9" stroke-width="0.55"/>
<rect x="494.20" y="274.94" width="7.49" height="1.60" fill="#a4a6ac"/>
<line x1="496.50" y1="276.69" x2="511.00" y2="276.69" stroke="#a9a9a9" stroke-width="0.55"/>
<rect x="494.20" y="277.94" width="8.61" height="1.60" fill="#a4a6ac"/>
<line x1="496.50" y1="279.69" x2="511.00" y2="279.69" stroke="#a9a9a9" stroke-width="0.55"/>
<rect x="494.20" y="280.94" width="6.73" height="1.60" fill="#a4a6ac"/>
<line x1="496.50" y1="282.69" x2="511.00" y2="282.69" stroke="#a9a9a9" stroke-width="0.55"/>
<rect x="494.20" y="283.95" width="9.66" height="1.60" fill="#a4a6ac"/>
<line x1="496.50" y1="285.70" x2="511.00" y2="285.70" stroke="#a9a9a9" stroke-width="0.55"/>
<rect x="494.20" y="286.95" width="6.95" height="1.60" fill="#a4a6ac"/>
<line x1="496.50" y1="288.70" x2="511.00" y2="288.70" stroke="#a9a9a9" stroke-width="0.55"/>
<rect x="494.20" y="289.96" width="6.64" height="1.60" fill="#a4a6ac"/>
<line x1="496.50" y1="291.71" x2="511.00" y2="291.71" stroke="#a9a9a9" stroke-width="0.55"/>
<rect x="494.20" y="292.96" width="7.71" height="1.60" fill="#a4a6ac"/>
<line x1="496.50" y1="294.71" x2="511.00" y2="294.71" stroke="#a9a9a9" stroke-width="0.55"/>
<rect x="494.20" y="295.97" width="7.22" height="1.60" fill="#a4a6ac"/>
<line x1="496.50" y1="297.72" x2="511.00" y2="297.72" stroke="#a9a9a9" stroke-width="0.55"/>
<rect x="494.20" y="298.97" width="9.14" height="1.60" fill="#a4a6ac"/>
<line x1="496.50" y1="300.72" x2="511.00" y2="300.72" stroke="#a9a9a9" stroke-width="0.55"/>
<rect x="494.20" y="301.98" width="5.81" height="1.60" fill="#a4a6ac"/>
<line x1="496.50" y1="303.73" x2="511.00" y2="303.73" stroke="#a9a9a9" stroke-width="0.55"/>
<rect x="494.20" y="304.98" width="8.14" height="1.60" fill="#a4a6ac"/>
<line x1="496.50" y1="306.73" x2="511.00" y2="306.73" stroke="#a9a9a9" stroke-width="0.55"/>
<rect x="494.20" y="307.98" width="6.31" height="1.60" fill="#a4a6ac"/>
<line x1="496.50" y1="309.73" x2="511.00" y2="309.73" stroke="#a9a9a9" stroke-width="0.55"/>
<rect x="494.20" y="310.99" width="8.46" height="1.60" fill="#a4a6ac"/>
<line x1="496.50" y1="312.74" x2="511.00" y2="312.74" stroke="#a9a9a9" stroke-width="0.55"/>
<rect x="494.20" y="313.99" width="9.62" height="1.60" fill="#a4a6ac"/>
<line x1="496.50" y1="315.74" x2="511.00" y2="315.74" stroke="#a9a9a9" stroke-width="0.55"/>
<rect x="494.20" y="317.00" width="6.30" height="1.60" fill="#a4a6ac"/>
<line x1="496.50" y1="318.75" x2="511.00" y2="318.75" stroke="#a9a9a9" stroke-width="0.55"/>
<rect x="494.20" y="320.00" width="9.26" height="1.60" fill="#a4a6ac"/>
<line x1="496.50" y1="321.75" x2="511.00" y2="321.75" stroke="#a9a9a9" stroke-width="0.55"/>
<rect x="494.20" y="323.01" width="7.36" height="1.60" fill="#a4a6ac"/>
<line x1="496.50" y1="324.76" x2="511.00" y2="324.76" stroke="#a9a9a9" stroke-width="0.55"/>
<rect x="494.20" y="326.01" width="9.73" height="1.60" fill="#a4a6ac"/>
<line x1="496.50" y1="327.76" x2="511.00" y2="327.76" stroke="#a9a9a9" stroke-width="0.55"/>
<rect x="494.20" y="329.02" width="9.61" height="1.60" fill="#a4a6ac"/>
<line x1="496.50" y1="330.77" x2="511.00" y2="330.77" stroke="#a9a9a9" stroke-width="0.55"/>
<rect x="494.20" y="332.02" width="9.94" height="1.60" fill="#a4a6ac"/>
<line x1="496.50" y1="333.77" x2="511.00" y2="333.77" stroke="#a9a9a9" stroke-width="0.55"/>
<rect x="494.20" y="335.03" width="5.19" height="1.60" fill="#a4a6ac"/>
<line x1="496.50" y1="336.78" x2="511.00" y2="336.78" stroke="#a9a9a9" stroke-width="0.55"/>
<rect x="494.20" y="338.03" width="6.89" height="1.60" fill="#a4a6ac"/>
<line x1="496.50" y1="339.78" x2="511.00" y2="339.78" stroke="#a9a9a9" stroke-width="0.55"/>
<rect x="494.20" y="341.03" width="7.96" height="1.60" fill="#a4a6ac"/>
<line x1="496.50" y1="342.78" x2="511.00" y2="342.78" stroke="#a9a9a9" stroke-width="0.55"/>
<rect x="494.20" y="344.04" width="8.89" height="1.60" fill="#a4a6ac"/>
<line x1="496.50" y1="345.79" x2="511.00" y2="345.79" stroke="#a9a9a9" stroke-width="0.55"/>
<rect x="494.20" y="347.04" width="7.97" height="1.60" fill="#a4a6ac"/>
<line x1="496.50" y1="348.79" x2="511.00" y2="348.79" stroke="#a9a9a9" stroke-width="0.55"/>
<rect x="494.20" y="350.05" width="9.49" height="1.60" fill="#a4a6ac"/>
<line x1="496.50" y1="351.80" x2="511.00" y2="351.80" stroke="#a9a9a9" stroke-width="0.55"/>
<rect x="494.20" y="353.05" width="5.81" height="1.60" fill="#a4a6ac"/>
<line x1="496.50" y1="354.80" x2="511.00" y2="354.80" stroke="#a9a9a9" stroke-width="0.55"/>
<rect x="494.20" y="356.06" width="6.10" height="1.60" fill="#a4a6ac"/>
<line x1="496.50" y1="357.81" x2="511.00" y2="357.81" stroke="#a9a9a9" stroke-width="0.55"/>
<rect x="494.20" y="359.06" width="9.38" height="1.60" fill="#a4a6ac"/>
<line x1="496.50" y1="360.81" x2="511.00" y2="360.81" stroke="#a9a9a9" stroke-width="0.55"/>
<rect x="494.20" y="362.07" width="8.28" height="1.60" fill="#a4a6ac"/>
<line x1="496.50" y1="363.82" x2="511.00" y2="363.82" stroke="#a9a9a9" stroke-width="0.55"/>
<rect x="494.20" y="365.07" width="8.13" height="1.60" fill="#a4a6ac"/>
<line x1="496.50" y1="366.82" x2="511.00" y2="366.82" stroke="#a9a9a9" stroke-width="0.55"/>
<rect x="494.20" y="368.07" width="5.33" height="1.60" fill="#a4a6ac"/>
<line x1="496.50" y1="369.82" x2="511.00" y2="369.82" stroke="#a9a9a9" stroke-width="0.55"/>
<rect x="494.20" y="371.08" width="5.29" height="1.60" fill="#a4a6ac"/>
<line x1="496.50" y1="372.83" x2="511.00" y2="372.83" stroke="#a9a9a9" stroke-width="0.55"/>
<rect x="494.20" y="374.08" width="5.65" height="1.60" fill="#a4a6ac"/>
<line x1="496.50" y1="375.83" x2="511.00" y2="375.83" stroke="#a9a9a9" stroke-width="0.55"/>
<rect x="494.20" y="377.09" width="5.13" height="1.60" fill="#a4a6ac"/>
<line x1="496.50" y1="378.84" x2="511.00" y2="378.84" stroke="#a9a9a9" stroke-width="0.55"/>
<rect x="494.20" y="380.09" width="7.43" height="1.60" fill="#a4a6ac"/>
<line x1="496.50" y1="381.84" x2="511.00" y2="381.84" stroke="#a9a9a9" stroke-width="0.55"/>
<rect x="494.20" y="383.10" width="7.52" height="1.60" fill="#a4a6ac"/>
<line x1="496.50" y1="384.85" x2="511.00" y2="384.85" stroke="#a9a9a9" stroke-width="0.55"/>
<rect x="494.20" y="386.10" width="6.53" height="1.60" fill="#a4a6ac"/>
<line x1="496.50" y1="387.85" x2="511.00" y2="387.85" stroke="#a9a9a9" stroke-width="0.55"/>
<rect x="494.20" y="389.11" width="5.77" height="1.60" fill="#a4a6ac"/>
<line x1="496.50" y1="390.86" x2="511.00" y2="390.86" stroke="#a9a9a9" stroke-width="0.55"/>
<rect x="494.20" y="392.11" width="5.87" height="1.60" fill="#a4a6ac"/>
<line x1="496.50" y1="393.86" x2="511.00" y2="393.86" stroke="#a9a9a9" stroke-width="0.55"/>
<rect x="494.20" y="395.12" width="7.61" height="1.60" fill="#a4a6ac"/>
<line x1="496.50" y1="396.87" x2="511.00" y2="396.87" stroke="#a9a9a9" stroke-width="0.55"/>
<rect x="494.20" y="398.12" width="9.21" height="1.60" fill="#a4a6ac"/>
<line x1="496.50" y1="399.87" x2="511.00" y2="399.87" stroke="#a9a9a9" stroke-width="0.55"/>
<rect x="494.20" y="401.12" width="6.53" height="1.60" fill="#a4a6ac"/>
<line x1="496.50" y1="402.87" x2="511.00" y2="402.87" stroke="#a9a9a9" stroke-width="0.55"/>
<rect x="494.20" y="404.13" width="6.38" height="1.60" fill="#a4a6ac"/>
<line x1="496.50" y1="405.88" x2="511.00" y2="405.88" stroke="#a9a9a9" stroke-width="0.55"/>
<rect x="494.20" y="407.13" width="7.59" height="1.60" fill="#a4a6ac"/>
<line x1="496.50" y1="408.88" x2="511.00" y2="408.88" stroke="#a9a9a9" stroke-width="0.55"/>
<rect x="494.20" y="410.14" width="8.82" height="1.60" fill="#a4a6ac"/>
<line x1="496.50" y1="411.89" x2="511.00" y2="411.89" stroke="#a9a9a9" stroke-width="0.55"/>
<rect x="494.20" y="413.14" width="6.50" height="1.60" fill="#a4a6ac"/>
<line x1="496.50" y1="414.89" x2="511.00" y2="414.89" stroke="#a9a9a9" stroke-width="0.55"/>
<rect x="494.20" y="416.15" width="9.76" height="1.60" fill="#a4a6ac"/>
<line x1="496.50" y1="417.90" x2="511.00" y2="417.90" stroke="#a9a9a9" stroke-width="0.55"/>
<rect x="494.20" y="419.15" width="6.43" height="1.60" fill="#a4a6ac"/>
<line x1="496.50" y1="420.90" x2="511.00" y2="420.90" stroke="#a9a9a9" stroke-width="0.55"/>
<rect x="494.20" y="422.16" width="8.40" height="1.60" fill="#a4a6ac"/>
<line x1="496.50" y1="423.91" x2="511.00" y2="423.91" stroke="#a9a9a9" stroke-width="0.55"/>
<rect x="494.20" y="425.16" width="8.06" height="1.60" fill="#a4a6ac"/>
<line x1="496.50" y1="426.91" x2="511.00" y2="426.91" stroke="#a9a9a9" stroke-width="0.55"/>
<rect x="494.20" y="428.16" width="6.85" height="1.60" fill="#a4a6ac"/>
<line x1="496.50" y1="429.91" x2="511.00" y2="429.91" stroke="#a9a9a9" stroke-width="0.55"/>
<rect x="494.20" y="431.17" width="5.30" height="1.60" fill="#a4a6ac"/>
<line x1="496.50" y1="432.92" x2="511.00" y2="432.92" stroke="#a9a9a9" stroke-width="0.55"/>
<rect x="494.20" y="434.17" width="6.93" height="1.60" fill="#a4a6ac"/>
<line x1="496.50" y1="435.92" x2="511.00" y2="435.92" stroke="#a9a9a9" stroke-width="0.55"/>
<rect x="494.20" y="437.18" width="7.31" height="1.60" fill="#a4a6ac"/>
<line x1="496.50" y1="438.93" x2="511.00" y2="438.93" stroke="#a9a9a9" stroke-width="0.55"/>
<rect x="494.20" y="440.18" width="6.06" height="1.60" fill="#a4a6ac"/>
<line x1="496.50" y1="441.93" x2="511.00" y2="441.93" stroke="#a9a9a9" stroke-width="0.55"/>
<rect x="494.20" y="443.19" width="9.33" height="1.60" fill="#a4a6ac"/>
<line x1="496.50" y1="444.94" x2="511.00" y2="444.94" stroke="#a9a9a9" stroke-width="0.55"/>
<rect x="494.20" y="446.19" width="5.17" height="1.60" fill="#a4a6ac"/>
<line x1="496.50" y1="447.94" x2="511.00" y2="447.94" stroke="#a9a9a9" stroke-width="0.55"/>
<rect x="494.20" y="449.20" width="6.37" height="1.60" fill="#a4a6ac"/>
<line x1="496.50" y1="450.95" x2="511.00" y2="450.95" stroke="#a9a9a9" stroke-width="0.55"/>
<rect x="494.20" y="452.20" width="5.41" height="1.60" fill="#a4a6ac"/>
<line x1="496.50" y1="453.95" x2="511.00" y2="453.95" stroke="#a9a9a9" stroke-width="0.55"/>
<rect x="494.20" y="455.21" width="8.30" height="1.60" fill="#a4a6ac"/>
<line x1="496.50" y1="456.96" x2="511.00" y2="456.96" stroke="#a9a9a9" stroke-width="0.55"/>
<rect x="494.20" y="458.21" width="5.44" height="1.60" fill="#a4a6ac"/>
<line x1="496.50" y1="459.96" x2="511.00" y2="459.96" stroke="#a9a9a9" stroke-width="0.55"/>
<rect x="494.20" y="461.21" width="8.74" height="1.60" fill="#a4a6ac"/>
<line x1="496.50" y1="462.96" x2="511.00" y2="462.96" stroke="#a9a9a9" stroke-width="0.55"/>
<rect x="494.20" y="464.22" width="7.66" height="1.60" fill="#a4a6ac"/>
<line x1="496.50" y1="465.97" x2="511.00" y2="465.97" stroke="#a9a9a9" stroke-width="0.55"/>
<rect x="494.20" y="467.22" width="8.02" height="1.60" fill="#a4a6ac"/>
<line x1="496.50" y1="468.97" x2="511.00" y2="468.97" stroke="#a9a9a9" stroke-width="0.55"/>
<rect x="494.20" y="470.23" width="9.39" height="1.60" fill="#a4a6ac"/>
<line x1="496.50" y1="471.98" x2="511.00" y2="471.98" stroke="#a9a9a9" stroke-width="0.55"/>
<rect x="494.20" y="473.23" width="5.74" height="1.60" fill="#a4a6ac"/>
<line x1="496.50" y1="474.98" x2="511.00" y2="474.98" stroke="#a9a9a9" stroke-width="0.55"/>
<rect x="494.20" y="476.24" width="9.55" height="1.60" fill="#a4a6ac"/>
<line x1="496.50" y1="477.99" x2="511.00" y2="477.99" stroke="#a9a9a9" stroke-width="0.55"/>
<rect x="494.20" y="479.24" width="7.54" height="1.60" fill="#a4a6ac"/>
<line x1="496.50" y1="480.99" x2="511.00" y2="480.99" stroke="#a9a9a9" stroke-width="0.55"/>
<rect x="494.20" y="482.25" width="7.54" height="1.60" fill="#a4a6ac"/>
<line x1="496.50" y1="484.00" x2="511.00" y2="484.00" stroke="#a9a9a9" stroke-width="0.55"/>
<rect x="494.20" y="485.25" width="8.98" height="1.60" fill="#a4a6ac"/>
<line x1="496.50" y1="487.00" x2="511.00" y2="487.00" stroke="#a9a9a9" stroke-width="0.55"/>
<rect x="494.20" y="488.25" width="9.69" height="1.60" fill="#a4a6ac"/>
<line x1="496.50" y1="490.00" x2="511.00" y2="490.00" stroke="#a9a9a9" stroke-width="0.55"/>
<rect x="494.20" y="491.26" width="9.27" height="1.60" fill="#a4a6ac"/>
<line x1="496.50" y1="493.01" x2="511.00" y2="493.01" stroke="#a9a9a9" stroke-width="0.55"/>
<rect x="494.20" y="494.26" width="7.73" height="1.60" fill="#a4a6ac"/>
<line x1="496.50" y1="496.01" x2="511.00" y2="496.01" stroke="#a9a9a9" stroke-width="0.55"/>
<rect x="494.20" y="497.27" width="9.97" height="1.60" fill="#a4a6ac"/>
<line x1="496.50" y1="499.02" x2="511.00" y2="499.02" stroke="#a9a9a9" stroke-width="0.55"/>
<rect x="494.20" y="500.27" width="5.18" height="1.60" fill="#a4a6ac"/>
<line x1="496.50" y1="502.02" x2="511.00" y2="502.02" stroke="#a9a9a9" stroke-width="0.55"/>
<rect x="494.20" y="503.28" width="6.19" height="1.60" fill="#a4a6ac"/>
<line x1="496.50" y1="505.03" x2="511.00" y2="505.03" stroke="#a9a9a9" stroke-width="0.55"/>
<rect x="494.20" y="506.28" width="6.47" height="1.60" fill="#a4a6ac"/>
<line x1="496.50" y1="508.03" x2="511.00" y2="508.03" stroke="#a9a9a9" stroke-width="0.55"/>
<rect x="494.20" y="509.29" width="7.69" height="1.60" fill="#a4a6ac"/>
<line x1="496.50" y1="511.04" x2="511.00" y2="511.04" stroke="#a9a9a9" stroke-width="0.55"/>
<rect x="494.20" y="512.29" width="7.99" height="1.60" fill="#a4a6ac"/>
<line x1="496.50" y1="514.04" x2="511.00" y2="514.04" stroke="#a9a9a9" stroke-width="0.55"/>
<rect x="494.20" y="515.30" width="5.40" height="1.60" fill="#a4a6ac"/>
<line x1="496.50" y1="517.05" x2="511.00" y2="517.05" stroke="#a9a9a9" stroke-width="0.55"/>
<rect x="494.20" y="518.30" width="6.60" height="1.60" fill="#a4a6ac"/>
<line x1="496.50" y1="520.05" x2="511.00" y2="520.05" stroke="#a9a9a9" stroke-width="0.55"/>
<rect x="494.20" y="521.30" width="8.44" height="1.60" fill="#a4a6ac"/>
<line x1="496.50" y1="523.05" x2="511.00" y2="523.05" stroke="#a9a9a9" stroke-width="0.55"/>
<rect x="494.20" y="524.31" width="9.39" height="1.60" fill="#a4a6ac"/>
<line x1="496.50" y1="526.06" x2="511.00" y2="526.06" stroke="#a9a9a9" stroke-width="0.55"/>
<rect x="494.20" y="527.31" width="5.31" height="1.60" fill="#a4a6ac"/>
<line x1="496.50" y1="529.06" x2="511.00" y2="529.06" stroke="#a9a9a9" stroke-width="0.55"/>
<rect x="494.20" y="530.32" width="5.91" height="1.60" fill="#a4a6ac"/>
<line x1="496.50" y1="532.07" x2="511.00" y2="532.07" stroke="#a9a9a9" stroke-width="0.55"/>
<rect x="494.20" y="533.32" width="9.63" height="1.60" fill="#a4a6ac"/>
<line x1="496.50" y1="535.07" x2="511.00" y2="535.07" stroke="#a9a9a9" stroke-width="0.55"/>
<rect x="494.20" y="536.33" width="7.87" height="1.60" fill="#a4a6ac"/>
<line x1="496.50" y1="538.08" x2="511.00" y2="538.08" stroke="#a9a9a9" stroke-width="0.55"/>
<rect x="494.20" y="539.33" width="7.93" height="1.60" fill="#a4a6ac"/>
<line x1="496.50" y1="541.08" x2="511.00" y2="541.08" stroke="#a9a9a9" stroke-width="0.55"/>
<rect x="494.20" y="542.34" width="5.04" height="1.60" fill="#a4a6ac"/>
<line x1="496.50" y1="544.09" x2="511.00" y2="544.09" stroke="#a9a9a9" stroke-width="0.55"/>
<rect x="494.20" y="545.34" width="5.34" height="1.60" fill="#a4a6ac"/>
<line x1="496.50" y1="547.09" x2="511.00" y2="547.09" stroke="#a9a9a9" stroke-width="0.55"/>
<rect x="494.20" y="548.34" width="9.10" height="1.60" fill="#a4a6ac"/>
<line x1="496.50" y1="550.09" x2="511.00" y2="550.09" stroke="#a9a9a9" stroke-width="0.55"/>
<rect x="494.20" y="551.35" width="8.02" height="1.60" fill="#a4a6ac"/>
<line x1="496.50" y1="553.10" x2="511.00" y2="553.10" stroke="#a9a9a9" stroke-width="0.55"/>
<rect x="494.20" y="554.35" width="9.98" height="1.60" fill="#a4a6ac"/>
<line x1="496.50" y1="556.10" x2="511.00" y2="556.10" stroke="#a9a9a9" stroke-width="0.55"/>
<rect x="494.20" y="557.36" width="7.57" height="1.60" fill="#a4a6ac"/>
<line x1="496.50" y1="559.11" x2="511.00" y2="559.11" stroke="#a9a9a9" stroke-width="0.55"/>
<rect x="494.20" y="560.36" width="8.50" height="1.60" fill="#a4a6ac"/>
<line x1="496.50" y1="562.11" x2="511.00" y2="562.11" stroke="#a9a9a9" stroke-width="0.55"/>
<rect x="494.20" y="563.37" width="5.94" height="1.60" fill="#a4a6ac"/>
<line x1="496.50" y1="565.12" x2="511.00" y2="565.12" stroke="#a9a9a9" stroke-width="0.55"/>
<rect x="494.20" y="566.37" width="8.76" height="1.60" fill="#a4a6ac"/>
<line x1="496.50" y1="568.12" x2="511.00" y2="568.12" stroke="#a9a9a9" stroke-width="0.55"/>
<rect x="494.20" y="569.38" width="9.27" height="1.60" fill="#a4a6ac"/>
<line x1="496.50" y1="571.13" x2="511.00" y2="571.13" stroke="#a9a9a9" stroke-width="0.55"/>
<rect x="494.20" y="572.38" width="9.21" height="1.60" fill="#a4a6ac"/>
<line x1="496.50" y1="574.13" x2="511.00" y2="574.13" stroke="#a9a9a9" stroke-width="0.55"/>
<rect x="494.20" y="575.39" width="5.78" height="1.60" fill="#a4a6ac"/>
<line x1="496.50" y1="577.14" x2="511.00" y2="577.14" stroke="#a9a9a9" stroke-width="0.55"/>
<rect x="494.20" y="578.39" width="8.39" height="1.60" fill="#a4a6ac"/>
<line x1="496.50" y1="580.14" x2="511.00" y2="580.14" stroke="#a9a9a9" stroke-width="0.55"/>
<rect x="494.20" y="581.39" width="6.14" height="1.60" fill="#a4a6ac"/>
<line x1="496.50" y1="583.14" x2="511.00" y2="583.14" stroke="#a9a9a9" stroke-width="0.55"/>
<rect x="494.20" y="584.40" width="6.06" height="1.60" fill="#a4a6ac"/>
<line x1="496.50" y1="586.15" x2="511.00" y2="586.15" stroke="#a9a9a9" stroke-width="0.55"/>
<rect x="494.20" y="587.40" width="9.96" height="1.60" fill="#a4a6ac"/>
<line x1="496.50" y1="589.15" x2="511.00" y2="589.15" stroke="#a9a9a9" stroke-width="0.55"/>
<rect x="494.20" y="590.41" width="9.79" height="1.60" fill="#a4a6ac"/>
<line x1="496.50" y1="592.16" x2="511.00" y2="592.16" stroke="#a9a9a9" stroke-width="0.55"/>
<rect x="494.20" y="593.41" width="5.07" height="1.60" fill="#a4a6ac"/>
<line x1="496.50" y1="595.16" x2="511.00" y2="595.16" stroke="#a9a9a9" stroke-width="0.55"/>
<rect x="494.20" y="596.42" width="9.23" height="1.60" fill="#a4a6ac"/>
<line x1="496.50" y1="598.17" x2="511.00" y2="598.17" stroke="#a9a9a9" stroke-width="0.55"/>
<rect x="494.20" y="599.42" width="8.23" height="1.60" fill="#a4a6ac"/>
<line x1="496.50" y1="601.17" x2="511.00" y2="601.17" stroke="#a9a9a9" stroke-width="0.55"/>
<rect x="494.20" y="602.43" width="7.10" height="1.60" fill="#a4a6ac"/>
<line x1="496.50" y1="604.18" x2="511.00" y2="604.18" stroke="#a9a9a9" stroke-width="0.55"/>
<rect x="494.20" y="605.43" width="7.88" height="1.60" fill="#a4a6ac"/>
<line x1="496.50" y1="607.18" x2="511.00" y2="607.18" stroke="#a9a9a9" stroke-width="0.55"/>
<rect x="494.20" y="608.43" width="5.57" height="1.60" fill="#a4a6ac"/>
<line x1="496.50" y1="610.18" x2="511.00" y2="610.18" stroke="#a9a9a9" stroke-width="0.55"/>
<rect x="494.20" y="611.44" width="6.14" height="1.60" fill="#a4a6ac"/>
<line x1="496.50" y1="613.19" x2="511.00" y2="613.19" stroke="#a9a9a9" stroke-width="0.55"/>
<rect x="494.20" y="614.44" width="7.37" height="1.60" fill="#a4a6ac"/>
<line x1="496.50" y1="616.19" x2="511.00" y2="616.19" stroke="#a9a9a9" stroke-width="0.55"/>
<rect x="494.20" y="617.45" width="5.55" height="1.60" fill="#a4a6ac"/>
<line x1="496.50" y1="619.20" x2="511.00" y2="619.20" stroke="#a9a9a9" stroke-width="0.55"/>
<rect x="494.20" y="620.45" width="8.50" height="1.60" fill="#a4a6ac"/>
<line x1="496.50" y1="622.20" x2="511.00" y2="622.20" stroke="#a9a9a9" stroke-width="0.55"/>
<rect x="494.20" y="623.46" width="9.96" height="1.60" fill="#a4a6ac"/>
<line x1="496.50" y1="625.21" x2="511.00" y2="625.21" stroke="#a9a9a9" stroke-width="0.55"/>
<rect x="494.20" y="626.46" width="9.97" height="1.60" fill="#a4a6ac"/>
<line x1="496.50" y1="628.21" x2="511.00" y2="628.21" stroke="#a9a9a9" stroke-width="0.55"/>
<rect x="494.20" y="629.47" width="7.02" height="1.60" fill="#a4a6ac"/>
<line x1="496.50" y1="631.22" x2="511.00" y2="631.22" stroke="#a9a9a9" stroke-width="0.55"/>
<rect x="494.20" y="632.47" width="5.38" height="1.60" fill="#a4a6ac"/>
<line x1="496.50" y1="634.22" x2="511.00" y2="634.22" stroke="#a9a9a9" stroke-width="0.55"/>
<rect x="494.20" y="635.48" width="7.64" height="1.60" fill="#a4a6ac"/>
<line x1="496.50" y1="637.23" x2="511.00" y2="637.23" stroke="#a9a9a9" stroke-width="0.55"/>
<rect x="494.20" y="638.48" width="5.28" height="1.60" fill="#a4a6ac"/>
<line x1="496.50" y1="640.23" x2="511.00" y2="640.23" stroke="#a9a9a9" stroke-width="0.55"/>
<rect x="494.20" y="641.48" width="9.50" height="1.60" fill="#a4a6ac"/>
<line x1="496.50" y1="643.23" x2="511.00" y2="643.23" stroke="#a9a9a9" stroke-width="0.55"/>
<rect x="494.20" y="644.49" width="7.63" height="1.60" fill="#a4a6ac"/>
<line x1="496.50" y1="646.24" x2="511.00" y2="646.24" stroke="#a9a9a9" stroke-width="0.55"/>
<rect x="494.20" y="647.49" width="7.23" height="1.60" fill="#a4a6ac"/>
<line x1="496.50" y1="649.24" x2="511.00" y2="649.24" stroke="#a9a9a9" stroke-width="0.55"/>
<rect x="494.20" y="650.50" width="9.26" height="1.60" fill="#a4a6ac"/>
<line x1="496.50" y1="652.25" x2="511.00" y2="652.25" stroke="#a9a9a9" stroke-width="0.55"/>
<rect x="511.30" y="536.00" width="1.30" height="118.00" fill="#eeeadc"/>
<rect x="0" y="0" width="520" height="661" fill="none" stroke="#666" stroke-width="2.4"/></svg>
</body></html>
